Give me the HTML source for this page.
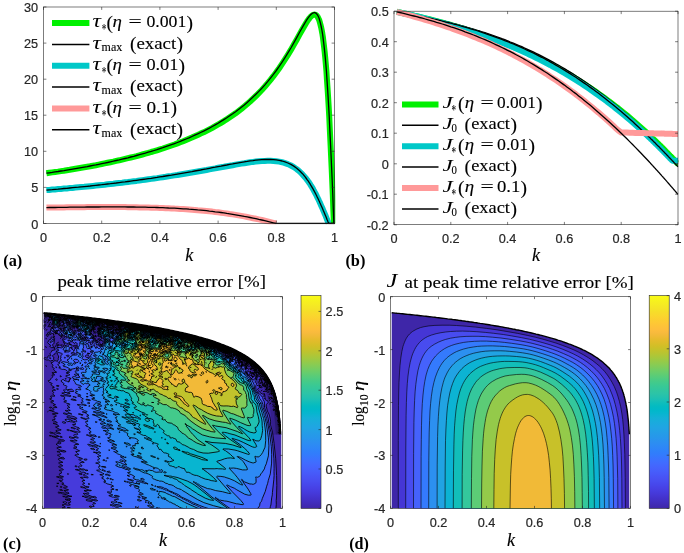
<!DOCTYPE html>
<html><head><meta charset="utf-8"><title>figure</title>
<style>
html,body{margin:0;padding:0;background:#fff}
svg{display:block}
.tk text{font-family:"Liberation Sans",Arial,sans-serif;font-size:12.7px;fill:#262626;stroke:#262626;stroke-width:.2px}
.lg{font-family:"Liberation Serif","DejaVu Serif",serif;fill:#000;stroke:#000;stroke-width:.12px}
.ns{stroke:none}
</style></head><body>
<svg width="684" height="553" viewBox="0 0 684 553">
<rect width="684" height="553" fill="#fff"/>
<defs>
<clipPath id="ca"><rect x="43.5" y="7" width="291.8" height="217.3"/></clipPath>
<clipPath id="cb"><rect x="394" y="8.2" width="284.5" height="217"/></clipPath>
</defs>
<g clip-path="url(#ca)" fill="none" stroke-linejoin="round">
<path d="M46.4 173.3L49.3 172.8L52.2 172.4L55.1 172L58 171.6L61 171.1L63.9 170.7L66.8 170.2L69.7 169.8L72.6 169.3L75.5 168.8L78.4 168.3L81.3 167.8L84.2 167.3L87.2 166.8L90.1 166.3L93 165.7L95.9 165.2L98.8 164.6L101.7 164L104.6 163.4L107.5 162.8L110.4 162.2L113.3 161.6L116.2 160.9L119.2 160.3L122.1 159.6L125 158.9L127.9 158.2L130.8 157.5L133.7 156.8L136.6 156.1L139.5 155.3L142.4 154.5L145.3 153.7L148.3 152.9L151.2 152L154.1 151.2L157 150.3L159.9 149.4L162.8 148.5L165.7 147.5L168.6 146.5L171.5 145.5L174.5 144.5L177.4 143.4L180.3 142.3L183.2 141.2L186.1 140L189 138.8L191.9 137.6L194.8 136.3L197.7 135L200.6 133.6L203.6 132.3L206.5 130.8L209.4 129.3L212.3 127.8L215.2 126.2L218.1 124.5L221 122.8L223.9 121.1L226.8 119.2L229.7 117.3L232.7 115.3L235.6 113.3L238.5 111.1L241.4 108.9L244.3 106.5L247.2 104L250.1 101.5L253 98.8L255.9 96L258.8 93.1L261.8 90L264.7 86.8L267.6 83.4L270.5 79.9L273.4 76.2L276.3 72.3L279.2 68.2L282.1 63.9L285 59.4L287.9 54.8L290.9 49.9L293.8 44.8L296.7 39.7L299.6 34.4L302.5 29.2L305.4 24.2L306 23.2L306.6 22.3L307.1 21.4L307.7 20.5L308.3 19.7L308.9 18.9L309.5 18.1L310.1 17.4L310.6 16.8L311.2 16.2L311.8 15.7L312.4 15.3L313 14.9L313.5 14.7L314.1 14.6L314.7 14.6L315.3 14.7L315.9 15L316.5 15.4L317 16L317.6 16.8L318.2 17.9L318.8 19.2L319.4 20.7L319.9 22.6L320.5 24.7L321.1 27.2L321.7 30.1L322.3 33.4L322.9 37.2L323.4 41.4L324 46.1L324.6 51.4L325.2 57.3L325.8 63.9L326.4 71.1L326.9 79L327.5 87.6L328.1 96.9L328.7 107L329.3 117.8L329.8 129.2L330.4 141.3L331 154L331.6 167.2L332.2 180.8L332.8 194.8L333.3 209.1L333.9 223.5L333.9 223.5" stroke="#00f000" stroke-width="6"/>
<path d="M46.4 173.2L49.3 172.8L52.2 172.4L55.1 171.9L58 171.5L61 171L63.9 170.6L66.8 170.1L69.7 169.6L72.6 169.1L75.5 168.6L78.4 168.1L81.3 167.6L84.2 167.1L87.2 166.6L90.1 166L93 165.4L95.9 164.9L98.8 164.3L101.7 163.7L104.6 163.1L107.5 162.5L110.4 161.8L113.3 161.2L116.2 160.5L119.2 159.9L122.1 159.2L125 158.5L127.9 157.8L130.8 157L133.7 156.3L136.6 155.5L139.5 154.7L142.4 153.9L145.3 153.1L148.3 152.2L151.2 151.4L154.1 150.5L157 149.6L159.9 148.6L162.8 147.7L165.7 146.7L168.6 145.7L171.5 144.7L174.5 143.6L177.4 142.5L180.3 141.4L183.2 140.2L186.1 139L189 137.8L191.9 136.5L194.8 135.2L197.7 133.9L200.6 132.5L203.6 131.1L206.5 129.6L209.4 128.1L212.3 126.5L215.2 124.9L218.1 123.2L221 121.4L223.9 119.6L226.8 117.8L229.7 115.8L232.7 113.8L235.6 111.7L238.5 109.5L241.4 107.2L244.3 104.9L247.2 102.4L250.1 99.8L253 97.1L255.9 94.3L258.8 91.4L261.8 88.3L264.7 85.1L267.6 81.7L270.5 78.1L273.4 74.4L276.3 70.5L279.2 66.4L282.1 62.1L285 57.6L287.9 52.9L290.9 48L293.8 42.9L296.7 37.6L299.6 32.3L302.5 27.1L305.4 22.1L306 21.1L306.6 20.2L307.1 19.3L307.7 18.5L308.3 17.6L308.9 16.8L309.5 16.1L310.1 15.4L310.6 14.8L311.2 14.2L311.8 13.7L312.4 13.3L313 13L313.5 12.8L314.1 12.7L314.7 12.7L315.3 12.9L315.9 13.2L316.5 13.7L317 14.3L317.6 15.2L318.2 16.3L318.8 17.6L319.4 19.3L319.9 21.2L320.5 23.4L321.1 26L321.7 29L322.3 32.4L322.9 36.3L323.4 40.6L324 45.5L324.6 50.9L325.2 56.9L325.8 63.6L326.4 70.9L326.9 78.8L327.5 87.5L328.1 96.9L328.7 107L329.3 117.8L329.8 129.2L330.4 141.3L331 154L331.6 167.2L332.2 180.8L332.8 194.8L333.3 209.1L333.9 223.5L334.5 223.5" stroke="#000" stroke-width="1.3"/>
<path d="M46.4 190.1L49.3 189.9L52.2 189.6L55.1 189.4L58 189.1L61 188.9L63.9 188.6L66.8 188.4L69.7 188.1L72.6 187.9L75.5 187.6L78.4 187.3L81.3 187L84.2 186.8L87.2 186.5L90.1 186.2L93 185.9L95.9 185.6L98.8 185.3L101.7 185L104.6 184.7L107.5 184.3L110.4 184L113.3 183.7L116.2 183.3L119.2 183L122.1 182.7L125 182.3L127.9 182L130.8 181.6L133.7 181.2L136.6 180.9L139.5 180.5L142.4 180.1L145.3 179.7L148.3 179.3L151.2 178.9L154.1 178.5L157 178.1L159.9 177.6L162.8 177.2L165.7 176.8L168.6 176.3L171.5 175.9L174.5 175.4L177.4 175L180.3 174.5L183.2 174L186.1 173.5L189 173L191.9 172.5L194.8 172L197.7 171.5L200.6 171L203.6 170.5L206.5 170L209.4 169.4L212.3 168.9L215.2 168.4L218.1 167.8L221 167.3L223.9 166.8L226.8 166.2L229.7 165.7L232.7 165.2L235.6 164.6L238.5 164.1L241.4 163.6L244.3 163.2L247.2 162.7L250.1 162.3L253 161.9L255.9 161.6L258.8 161.3L261.8 161L264.7 160.9L267.6 160.8L270.5 160.8L273.4 160.9L276.3 161.2L279.2 161.6L282.1 162.2L285 163.1L287.9 164.1L290.9 165.5L293.8 167.1L296.7 169.1L299.6 171.5L302.5 174.4L305.4 177.7L306 178.4L306.6 179.2L307.1 179.9L307.7 180.7L308.3 181.5L308.9 182.4L309.5 183.2L310.1 184.1L310.6 185L311.2 186L311.8 186.9L312.4 187.9L313 188.9L313.5 189.9L314.1 191L314.7 192.1L315.3 193.2L315.9 194.3L316.5 195.5L317 196.6L317.6 197.8L318.2 199L318.8 200.3L319.4 201.5L319.9 202.8L320.5 204.1L321.1 205.4L321.7 206.7L322.3 208L322.9 209.4L323.4 210.8L324 212.1L324.6 213.5L325.2 214.9L325.8 216.3L326.4 217.8L326.9 219.2L327.5 220.6L328.1 222.1L328.7 223.5L328.7 223.5" stroke="#00c8c8" stroke-width="6"/>
<path d="M46.4 190.1L49.3 189.8L52.2 189.6L55.1 189.3L58 189.1L61 188.8L63.9 188.5L66.8 188.3L69.7 188L72.6 187.7L75.5 187.4L78.4 187.2L81.3 186.9L84.2 186.6L87.2 186.3L90.1 186L93 185.6L95.9 185.3L98.8 185L101.7 184.7L104.6 184.3L107.5 184L110.4 183.7L113.3 183.3L116.2 183L119.2 182.6L122.1 182.2L125 181.9L127.9 181.5L130.8 181.1L133.7 180.7L136.6 180.3L139.5 179.9L142.4 179.5L145.3 179.1L148.3 178.7L151.2 178.3L154.1 177.8L157 177.4L159.9 176.9L162.8 176.5L165.7 176L168.6 175.5L171.5 175.1L174.5 174.6L177.4 174.1L180.3 173.6L183.2 173.1L186.1 172.6L189 172.1L191.9 171.6L194.8 171L197.7 170.5L200.6 170L203.6 169.4L206.5 168.9L209.4 168.3L212.3 167.7L215.2 167.2L218.1 166.6L221 166.1L223.9 165.5L226.8 165L229.7 164.4L232.7 163.9L235.6 163.3L238.5 162.8L241.4 162.3L244.3 161.8L247.2 161.4L250.1 160.9L253 160.6L255.9 160.2L258.8 159.9L261.8 159.7L264.7 159.5L267.6 159.4L270.5 159.5L273.4 159.6L276.3 159.9L279.2 160.4L282.1 161L285 161.9L287.9 163L290.9 164.4L293.8 166.1L296.7 168.2L299.6 170.8L302.5 173.7L305.4 177.2L306 178L306.6 178.8L307.1 179.6L307.7 180.4L308.3 181.2L308.9 182.1L309.5 183L310.1 183.9L310.6 184.9L311.2 185.8L311.8 186.8L312.4 187.8L313 188.8L313.5 189.9L314.1 190.9L314.7 192L315.3 193.1L315.9 194.3L316.5 195.4L317 196.6L317.6 197.8L318.2 199L318.8 200.3L319.4 201.5L319.9 202.8L320.5 204.1L321.1 205.4L321.7 206.7L322.3 208L322.9 209.4L323.4 210.8L324 212.1L324.6 213.5L325.2 214.9L325.8 216.3L326.4 217.8L326.9 219.2L327.5 220.6L328.1 222.1L328.7 223.5L329.3 223.5L329.8 223.5L330.4 223.5L331 223.5L331.6 223.5L332.2 223.5L332.8 223.5L333.3 223.5L333.9 223.5L334.5 223.5" stroke="#000" stroke-width="1.3"/>
<path d="M46.4 207.6L49.3 207.6L52.2 207.5L55.1 207.5L58 207.4L61 207.4L63.9 207.4L66.8 207.3L69.7 207.3L72.6 207.3L75.5 207.2L78.4 207.2L81.3 207.2L84.2 207.2L87.2 207.1L90.1 207.1L93 207.1L95.9 207.1L98.8 207.1L101.7 207.1L104.6 207L107.5 207L110.4 207L113.3 207.1L116.2 207.1L119.2 207.1L122.1 207.1L125 207.1L127.9 207.2L130.8 207.2L133.7 207.3L136.6 207.3L139.5 207.4L142.4 207.4L145.3 207.5L148.3 207.6L151.2 207.7L154.1 207.7L157 207.8L159.9 207.9L162.8 208L165.7 208.2L168.6 208.3L171.5 208.4L174.5 208.6L177.4 208.7L180.3 208.9L183.2 209.1L186.1 209.3L189 209.5L191.9 209.7L194.8 209.9L197.7 210.2L200.6 210.4L203.6 210.7L206.5 211L209.4 211.3L212.3 211.6L215.2 212L218.1 212.3L221 212.7L223.9 213.1L226.8 213.5L229.7 214L232.7 214.4L235.6 214.9L238.5 215.4L241.4 215.9L244.3 216.4L247.2 217L250.1 217.6L253 218.2L255.9 218.8L258.8 219.4L261.8 220L264.7 220.7L267.6 221.4L270.5 222.1L273.4 222.8L276.3 223.5" stroke="#ff9999" stroke-width="6"/>
<path d="M46.4 207.6L49.3 207.5L52.2 207.5L55.1 207.5L58 207.4L61 207.4L63.9 207.3L66.8 207.3L69.7 207.2L72.6 207.2L75.5 207.2L78.4 207.1L81.3 207.1L84.2 207.1L87.2 207L90.1 207L93 207L95.9 207L98.8 207L101.7 206.9L104.6 206.9L107.5 206.9L110.4 206.9L113.3 206.9L116.2 206.9L119.2 206.9L122.1 206.9L125 206.9L127.9 207L130.8 207L133.7 207L136.6 207.1L139.5 207.1L142.4 207.1L145.3 207.2L148.3 207.3L151.2 207.3L154.1 207.4L157 207.5L159.9 207.6L162.8 207.7L165.7 207.8L168.6 208L171.5 208.1L174.5 208.2L177.4 208.4L180.3 208.6L183.2 208.8L186.1 208.9L189 209.2L191.9 209.4L194.8 209.6L197.7 209.9L200.6 210.1L203.6 210.4L206.5 210.7L209.4 211.1L212.3 211.4L215.2 211.8L218.1 212.1L221 212.5L223.9 212.9L226.8 213.4L229.7 213.8L232.7 214.3L235.6 214.8L238.5 215.3L241.4 215.8L244.3 216.4L247.2 216.9L250.1 217.5L253 218.1L255.9 218.7L258.8 219.4L261.8 220L264.7 220.7L267.6 221.4L270.5 222.1L273.4 222.8L276.3 223.5L279.2 223.5L282.1 223.5L285 223.5L287.9 223.5L290.9 223.5L293.8 223.5L296.7 223.5L299.6 223.5L302.5 223.5L305.4 223.5L306 223.5L306.6 223.5L307.1 223.5L307.7 223.5L308.3 223.5L308.9 223.5L309.5 223.5L310.1 223.5L310.6 223.5L311.2 223.5L311.8 223.5L312.4 223.5L313 223.5L313.5 223.5L314.1 223.5L314.7 223.5L315.3 223.5L315.9 223.5L316.5 223.5L317 223.5L317.6 223.5L318.2 223.5L318.8 223.5L319.4 223.5L319.9 223.5L320.5 223.5L321.1 223.5L321.7 223.5L322.3 223.5L322.9 223.5L323.4 223.5L324 223.5L324.6 223.5L325.2 223.5L325.8 223.5L326.4 223.5L326.9 223.5L327.5 223.5L328.1 223.5L328.7 223.5L329.3 223.5L329.8 223.5L330.4 223.5L331 223.5L331.6 223.5L332.2 223.5L332.8 223.5L333.3 223.5L333.9 223.5L334.5 223.5" stroke="#000" stroke-width="1.3"/>
</g>
<rect x="43.5" y="7" width="291" height="216.5" fill="none" stroke="#262626" stroke-width="0.6"/>
<path d="M43.5 223.5v-2.9M43.5 7v2.9M101.7 223.5v-2.9M101.7 7v2.9M159.9 223.5v-2.9M159.9 7v2.9M218.1 223.5v-2.9M218.1 7v2.9M276.3 223.5v-2.9M276.3 7v2.9M334.5 223.5v-2.9M334.5 7v2.9M43.5 223.5h2.9M334.5 223.5h-2.9M43.5 187.4h2.9M334.5 187.4h-2.9M43.5 151.3h2.9M334.5 151.3h-2.9M43.5 115.2h2.9M334.5 115.2h-2.9M43.5 79.2h2.9M334.5 79.2h-2.9M43.5 43.1h2.9M334.5 43.1h-2.9M43.5 7h2.9M334.5 7h-2.9" stroke="#262626" stroke-width="0.6" fill="none"/>
<g class="tk" text-anchor="middle">
<text x="43.5" y="242.1">0</text>
<text x="101.7" y="242.1">0.2</text>
<text x="159.9" y="242.1">0.4</text>
<text x="218.1" y="242.1">0.6</text>
<text x="276.3" y="242.1">0.8</text>
<text x="334.5" y="242.1">1</text>
</g><g class="tk" text-anchor="end">
<text x="38.2" y="228.5">0</text>
<text x="38.2" y="192.4">5</text>
<text x="38.2" y="156.3">10</text>
<text x="38.2" y="120.2">15</text>
<text x="38.2" y="84.2">20</text>
<text x="38.2" y="48.1">25</text>
<text x="38.2" y="12">30</text>
</g>
<g clip-path="url(#cb)" fill="none" stroke-linejoin="round">
<path d="M396.8 11.8L399.7 12.4L402.5 13.1L405.4 13.7L408.2 14.3L411 14.9L413.9 15.6L416.7 16.3L419.6 16.9L422.4 17.6L425.2 18.3L428.1 19L430.9 19.7L433.8 20.5L436.6 21.2L439.4 21.9L442.3 22.7L445.1 23.5L448 24.2L450.8 25L453.6 25.9L456.5 26.7L459.3 27.5L462.2 28.4L465 29.3L467.8 30.2L470.7 31.1L473.5 32L476.4 32.9L479.2 33.9L482 34.8L484.9 35.8L487.7 36.8L490.6 37.8L493.4 38.9L496.2 39.9L499.1 41L501.9 42.1L504.8 43.2L507.6 44.3L510.4 45.5L513.3 46.7L516.1 47.9L519 49.1L521.8 50.3L524.6 51.6L527.5 52.9L530.3 54.2L533.2 55.5L536 56.9L538.8 58.2L541.7 59.7L544.5 61.1L547.4 62.6L550.2 64L553 65.6L555.9 67.1L558.7 68.7L561.6 70.3L564.4 71.9L567.2 73.5L570.1 75.2L572.9 76.9L575.8 78.6L578.6 80.4L581.4 82.2L584.3 84L587.1 85.9L590 87.8L592.8 89.7L595.6 91.6L598.5 93.6L601.3 95.6L604.2 97.7L607 99.8L609.8 101.9L612.7 104.1L615.5 106.3L618.4 108.5L621.2 110.8L624 113.1L626.9 115.4L629.7 117.8L632.6 120.2L635.4 122.7L638.2 125.2L641.1 127.7L643.9 130.2L646.8 132.8L649.6 135.5L650.2 136L650.7 136.5L651.3 137.1L651.9 137.6L652.4 138.2L653 138.7L653.6 139.2L654.1 139.8L654.7 140.3L655.3 140.9L655.8 141.4L656.4 142L657 142.5L657.6 143.1L658.1 143.6L658.7 144.2L659.3 144.8L659.8 145.3L660.4 145.9L661 146.4L661.5 147L662.1 147.6L662.7 148.1L663.2 148.7L663.8 149.3L664.4 149.8L664.9 150.4L665.5 151L666.1 151.6L666.6 152.2L667.2 152.7L667.8 153.3L668.3 153.9L668.9 154.5L669.5 155.1L670 155.7L670.6 156.2L671.2 156.8L671.8 157.4L672.3 158L672.9 158.6L673.5 159.2L674 159.8L674.6 160.4L675.2 161L675.7 161.6L676.3 162.2L676.9 162.8L677.4 163.4L678 163.4" stroke="#00f000" stroke-width="6"/>
<path d="M396.8 11.7L399.7 12.2L402.5 12.7L405.4 13.2L408.2 13.7L411 14.2L413.9 14.8L416.7 15.3L419.6 15.9L422.4 16.5L425.2 17L428.1 17.6L430.9 18.2L433.8 18.9L436.6 19.5L439.4 20.1L442.3 20.8L445.1 21.5L448 22.2L450.8 22.9L453.6 23.6L456.5 24.3L459.3 25.1L462.2 25.9L465 26.7L467.8 27.5L470.7 28.3L473.5 29.1L476.4 30L479.2 30.9L482 31.8L484.9 32.7L487.7 33.6L490.6 34.6L493.4 35.6L496.2 36.6L499.1 37.6L501.9 38.7L504.8 39.7L507.6 40.8L510.4 42L513.3 43.1L516.1 44.3L519 45.5L521.8 46.7L524.6 48L527.5 49.3L530.3 50.6L533.2 51.9L536 53.3L538.8 54.7L541.7 56.1L544.5 57.6L547.4 59.1L550.2 60.6L553 62.1L555.9 63.7L558.7 65.3L561.6 67L564.4 68.6L567.2 70.4L570.1 72.1L572.9 73.9L575.8 75.7L578.6 77.5L581.4 79.4L584.3 81.3L587.1 83.3L590 85.3L592.8 87.3L595.6 89.4L598.5 91.5L601.3 93.6L604.2 95.7L607 97.9L609.8 100.2L612.7 102.4L615.5 104.7L618.4 107.1L621.2 109.5L624 111.9L626.9 114.3L629.7 116.8L632.6 119.3L635.4 121.8L638.2 124.4L641.1 127L643.9 129.7L646.8 132.4L649.6 135.1L650.2 135.6L650.7 136.2L651.3 136.7L651.9 137.3L652.4 137.8L653 138.4L653.6 139L654.1 139.5L654.7 140.1L655.3 140.6L655.8 141.2L656.4 141.8L657 142.3L657.6 142.9L658.1 143.4L658.7 144L659.3 144.6L659.8 145.2L660.4 145.7L661 146.3L661.5 146.9L662.1 147.4L662.7 148L663.2 148.6L663.8 149.2L664.4 149.8L664.9 150.3L665.5 150.9L666.1 151.5L666.6 152.1L667.2 152.7L667.8 153.3L668.3 153.9L668.9 154.4L669.5 155L670 155.6L670.6 156.2L671.2 156.8L671.8 157.4L672.3 158L672.9 158.6L673.5 159.2L674 159.8L674.6 160.4L675.2 161L675.7 161.6L676.3 162.2L676.9 162.8L677.4 163.4L678 164.1" stroke="#000" stroke-width="1.3"/>
<path d="M396.8 11.8L399.7 12.5L402.5 13.1L405.4 13.7L408.2 14.4L411 15L413.9 15.7L416.7 16.3L419.6 17L422.4 17.7L425.2 18.4L428.1 19.1L430.9 19.9L433.8 20.6L436.6 21.4L439.4 22.1L442.3 22.9L445.1 23.7L448 24.5L450.8 25.3L453.6 26.1L456.5 27L459.3 27.8L462.2 28.7L465 29.6L467.8 30.5L470.7 31.4L473.5 32.3L476.4 33.3L479.2 34.3L482 35.2L484.9 36.3L487.7 37.3L490.6 38.3L493.4 39.4L496.2 40.4L499.1 41.5L501.9 42.7L504.8 43.8L507.6 44.9L510.4 46.1L513.3 47.3L516.1 48.5L519 49.8L521.8 51L524.6 52.3L527.5 53.6L530.3 55L533.2 56.3L536 57.7L538.8 59.1L541.7 60.6L544.5 62L547.4 63.5L550.2 65L553 66.6L555.9 68.2L558.7 69.7L561.6 71.4L564.4 73L567.2 74.7L570.1 76.4L572.9 78.1L575.8 79.9L578.6 81.7L581.4 83.5L584.3 85.4L587.1 87.3L590 89.2L592.8 91.2L595.6 93.2L598.5 95.2L601.3 97.2L604.2 99.3L607 101.5L609.8 103.6L612.7 105.8L615.5 108.1L618.4 110.4L621.2 112.7L624 115L626.9 117.4L629.7 119.8L632.6 122.3L635.4 124.8L638.2 127.3L641.1 129.9L643.9 132.5L646.8 135.1L649.6 137.8L650.2 138.3L650.7 138.9L651.3 139.4L651.9 140L652.4 140.5L653 141.1L653.6 141.6L654.1 142.2L654.7 142.7L655.3 143.3L655.8 143.8L656.4 144.4L657 145L657.6 145.5L658.1 146.1L658.7 146.7L659.3 147.2L659.8 147.8L660.4 148.4L661 148.9L661.5 149.5L662.1 150.1L662.7 150.7L663.2 151.2L663.8 151.8L664.4 152.4L664.9 153L665.5 153.6L666.1 154.2L666.6 154.7L667.2 155.3L667.8 155.9L668.3 156.5L668.9 157.1L669.5 157.7L670 158.3L670.6 158.9L671.2 159.5L671.8 160.1L672.3 160.7L672.9 160.7L673.5 160.7L674 160.7L674.6 160.7L675.2 160.7L675.7 160.7L676.3 160.7L676.9 160.7L677.4 160.7L678 160.7" stroke="#00c8c8" stroke-width="6"/>
<path d="M396.8 11.7L399.7 12.2L402.5 12.7L405.4 13.3L408.2 13.8L411 14.3L413.9 14.9L416.7 15.4L419.6 16L422.4 16.6L425.2 17.2L428.1 17.8L430.9 18.4L433.8 19.1L436.6 19.7L439.4 20.4L442.3 21.1L445.1 21.8L448 22.5L450.8 23.2L453.6 24L456.5 24.7L459.3 25.5L462.2 26.3L465 27.1L467.8 27.9L470.7 28.8L473.5 29.6L476.4 30.5L479.2 31.4L482 32.4L484.9 33.3L487.7 34.3L490.6 35.3L493.4 36.3L496.2 37.3L499.1 38.4L501.9 39.4L504.8 40.6L507.6 41.7L510.4 42.8L513.3 44L516.1 45.2L519 46.4L521.8 47.7L524.6 49L527.5 50.3L530.3 51.6L533.2 53L536 54.4L538.8 55.9L541.7 57.3L544.5 58.8L547.4 60.3L550.2 61.9L553 63.5L555.9 65.1L558.7 66.7L561.6 68.4L564.4 70.1L567.2 71.9L570.1 73.6L572.9 75.5L575.8 77.3L578.6 79.2L581.4 81.1L584.3 83.1L587.1 85L590 87.1L592.8 89.1L595.6 91.2L598.5 93.3L601.3 95.5L604.2 97.7L607 99.9L609.8 102.2L612.7 104.5L615.5 106.8L618.4 109.2L621.2 111.6L624 114L626.9 116.5L629.7 119L632.6 121.6L635.4 124.2L638.2 126.8L641.1 129.4L643.9 132.1L646.8 134.8L649.6 137.6L650.2 138.1L650.7 138.7L651.3 139.2L651.9 139.8L652.4 140.3L653 140.9L653.6 141.5L654.1 142L654.7 142.6L655.3 143.1L655.8 143.7L656.4 144.3L657 144.9L657.6 145.4L658.1 146L658.7 146.6L659.3 147.1L659.8 147.7L660.4 148.3L661 148.9L661.5 149.5L662.1 150L662.7 150.6L663.2 151.2L663.8 151.8L664.4 152.4L664.9 153L665.5 153.5L666.1 154.1L666.6 154.7L667.2 155.3L667.8 155.9L668.3 156.5L668.9 157.1L669.5 157.7L670 158.3L670.6 158.9L671.2 159.5L671.8 160.1L672.3 160.7L672.9 161.3L673.5 161.9L674 162.5L674.6 163.1L675.2 163.7L675.7 164.3L676.3 165L676.9 165.6L677.4 166.2L678 166.8" stroke="#000" stroke-width="1.3"/>
<path d="M396.8 12L399.7 12.7L402.5 13.4L405.4 14.2L408.2 14.9L411 15.7L413.9 16.5L416.7 17.3L419.6 18.1L422.4 18.9L425.2 19.8L428.1 20.6L430.9 21.5L433.8 22.4L436.6 23.3L439.4 24.2L442.3 25.2L445.1 26.1L448 27.1L450.8 28L453.6 29.1L456.5 30.1L459.3 31.1L462.2 32.2L465 33.2L467.8 34.3L470.7 35.5L473.5 36.6L476.4 37.7L479.2 38.9L482 40.1L484.9 41.3L487.7 42.6L490.6 43.8L493.4 45.1L496.2 46.4L499.1 47.8L501.9 49.1L504.8 50.5L507.6 51.9L510.4 53.4L513.3 54.8L516.1 56.3L519 57.8L521.8 59.4L524.6 60.9L527.5 62.5L530.3 64.1L533.2 65.8L536 67.5L538.8 69.2L541.7 70.9L544.5 72.7L547.4 74.5L550.2 76.4L553 78.2L555.9 80.1L558.7 82L561.6 84L564.4 86L567.2 88L570.1 90.1L572.9 92.2L575.8 94.3L578.6 96.5L581.4 98.7L584.3 100.9L587.1 103.2L590 105.5L592.8 107.8L595.6 110.2L598.5 112.6L601.3 115.1L604.2 117.6L607 120.1L609.8 122.6L612.7 125.2L615.5 127.9L618.4 130.5L621.2 132.5L624 132.6L626.9 132.6L629.7 132.7L632.6 132.8L635.4 132.9L638.2 132.9L641.1 133L643.9 133.1L646.8 133.2L649.6 133.2L650.2 133.3L650.7 133.3L651.3 133.3L651.9 133.3L652.4 133.3L653 133.3L653.6 133.4L654.1 133.4L654.7 133.4L655.3 133.4L655.8 133.4L656.4 133.4L657 133.4L657.6 133.5L658.1 133.5L658.7 133.5L659.3 133.5L659.8 133.5L660.4 133.5L661 133.6L661.5 133.6L662.1 133.6L662.7 133.6L663.2 133.6L663.8 133.6L664.4 133.6L664.9 133.7L665.5 133.7L666.1 133.7L666.6 133.7L667.2 133.7L667.8 133.7L668.3 133.8L668.9 133.8L669.5 133.8L670 133.8L670.6 133.8L671.2 133.8L671.8 133.8L672.3 133.9L672.9 133.9L673.5 133.9L674 133.9L674.6 133.9L675.2 133.9L675.7 134L676.3 134L676.9 134L677.4 134L678 134" stroke="#ff9999" stroke-width="6"/>
<path d="M396.8 11.9L399.7 12.5L402.5 13.2L405.4 13.9L408.2 14.6L411 15.3L413.9 16L416.7 16.7L419.6 17.5L422.4 18.2L425.2 19L428.1 19.8L430.9 20.6L433.8 21.4L436.6 22.3L439.4 23.1L442.3 24L445.1 24.9L448 25.8L450.8 26.8L453.6 27.7L456.5 28.7L459.3 29.7L462.2 30.7L465 31.8L467.8 32.8L470.7 33.9L473.5 35L476.4 36.2L479.2 37.3L482 38.5L484.9 39.7L487.7 40.9L490.6 42.2L493.4 43.5L496.2 44.8L499.1 46.1L501.9 47.5L504.8 48.9L507.6 50.3L510.4 51.7L513.3 53.2L516.1 54.7L519 56.3L521.8 57.8L524.6 59.4L527.5 61L530.3 62.7L533.2 64.4L536 66.1L538.8 67.9L541.7 69.6L544.5 71.5L547.4 73.3L550.2 75.2L553 77.1L555.9 79.1L558.7 81L561.6 83.1L564.4 85.1L567.2 87.2L570.1 89.3L572.9 91.5L575.8 93.6L578.6 95.9L581.4 98.1L584.3 100.4L587.1 102.7L590 105.1L592.8 107.5L595.6 109.9L598.5 112.4L601.3 114.9L604.2 117.4L607 119.9L609.8 122.5L612.7 125.2L615.5 127.8L618.4 130.5L621.2 133.2L624 136L626.9 138.8L629.7 141.6L632.6 144.5L635.4 147.4L638.2 150.3L641.1 153.3L643.9 156.2L646.8 159.3L649.6 162.3L650.2 162.9L650.7 163.5L651.3 164.2L651.9 164.8L652.4 165.4L653 166L653.6 166.6L654.1 167.3L654.7 167.9L655.3 168.5L655.8 169.1L656.4 169.8L657 170.4L657.6 171L658.1 171.6L658.7 172.3L659.3 172.9L659.8 173.5L660.4 174.2L661 174.8L661.5 175.4L662.1 176.1L662.7 176.7L663.2 177.4L663.8 178L664.4 178.7L664.9 179.3L665.5 179.9L666.1 180.6L666.6 181.2L667.2 181.9L667.8 182.5L668.3 183.2L668.9 183.8L669.5 184.5L670 185.1L670.6 185.8L671.2 186.5L671.8 187.1L672.3 187.8L672.9 188.4L673.5 189.1L674 189.8L674.6 190.4L675.2 191.1L675.7 191.8L676.3 192.4L676.9 193.1L677.4 193.8L678 194.4" stroke="#000" stroke-width="1.3"/>
</g>
<rect x="394" y="11.2" width="284" height="213.5" fill="none" stroke="#262626" stroke-width="0.6"/>
<path d="M394 224.8v-2.9M394 11.2v2.9M450.8 224.8v-2.9M450.8 11.2v2.9M507.6 224.8v-2.9M507.6 11.2v2.9M564.4 224.8v-2.9M564.4 11.2v2.9M621.2 224.8v-2.9M621.2 11.2v2.9M678 224.8v-2.9M678 11.2v2.9M394 224.8h2.9M678 224.8h-2.9M394 194.2h2.9M678 194.2h-2.9M394 163.8h2.9M678 163.8h-2.9M394 133.2h2.9M678 133.2h-2.9M394 102.7h2.9M678 102.7h-2.9M394 72.2h2.9M678 72.2h-2.9M394 41.7h2.9M678 41.7h-2.9M394 11.2h2.9M678 11.2h-2.9" stroke="#262626" stroke-width="0.6" fill="none"/>
<g class="tk" text-anchor="middle">
<text x="394" y="243.3">0</text>
<text x="450.8" y="243.3">0.2</text>
<text x="507.6" y="243.3">0.4</text>
<text x="564.4" y="243.3">0.6</text>
<text x="621.2" y="243.3">0.8</text>
<text x="678" y="243.3">1</text>
</g><g class="tk" text-anchor="end">
<text x="388.7" y="229.8">-0.2</text>
<text x="388.7" y="199.2">-0.1</text>
<text x="388.7" y="168.8">0</text>
<text x="388.7" y="138.2">0.1</text>
<text x="388.7" y="107.7">0.2</text>
<text x="388.7" y="77.2">0.3</text>
<text x="388.7" y="46.7">0.4</text>
<text x="388.7" y="16.2">0.5</text>
</g>
<path d="M52 23H89.4" stroke="#00f000" stroke-width="6" fill="none"/>
<text class="lg ns" x="92.4" y="27.3" font-size="19" textLength="8.4" lengthAdjust="spacingAndGlyphs" font-style="italic">τ</text>
<text class="lg" x="101.7" y="34.3" font-size="14" textLength="4.6" lengthAdjust="spacingAndGlyphs">*</text>
<text class="lg" x="106.4" y="28.9" font-size="19.5">(</text>
<text class="lg" x="112.4" y="27.3" font-size="17.5" textLength="9.4" lengthAdjust="spacingAndGlyphs" font-style="italic">η</text>
<text class="lg" x="128.6" y="27.3" font-size="16.5" textLength="13.2" lengthAdjust="spacingAndGlyphs">=</text>
<text class="lg" x="146.4" y="27.3" font-size="16.5" textLength="39.9" lengthAdjust="spacingAndGlyphs">0.001</text>
<text class="lg" x="186.5" y="28.9" font-size="19.5">)</text>
<path d="M52 44.4H89.4" stroke="#000" stroke-width="1.5" fill="none"/>
<text class="lg ns" x="92.4" y="48.6" font-size="19" textLength="8.4" lengthAdjust="spacingAndGlyphs" font-style="italic">τ</text>
<text class="lg" x="101.6" y="51.2" font-size="11.5" textLength="20.6" lengthAdjust="spacingAndGlyphs">max</text>
<text class="lg" x="130" y="50.2" font-size="19.5">(</text>
<text class="lg" x="136.4" y="48.6" font-size="16.5" textLength="39.8" lengthAdjust="spacingAndGlyphs">exact</text>
<text class="lg" x="176.6" y="50.2" font-size="19.5">)</text>
<path d="M52 65.7H89.4" stroke="#00c8c8" stroke-width="6" fill="none"/>
<text class="lg ns" x="92.4" y="70" font-size="19" textLength="8.4" lengthAdjust="spacingAndGlyphs" font-style="italic">τ</text>
<text class="lg" x="101.7" y="77" font-size="14" textLength="4.6" lengthAdjust="spacingAndGlyphs">*</text>
<text class="lg" x="106.4" y="71.6" font-size="19.5">(</text>
<text class="lg" x="112.4" y="70" font-size="17.5" textLength="9.4" lengthAdjust="spacingAndGlyphs" font-style="italic">η</text>
<text class="lg" x="128.6" y="70" font-size="16.5" textLength="13.2" lengthAdjust="spacingAndGlyphs">=</text>
<text class="lg" x="146.4" y="70" font-size="16.5" textLength="32" lengthAdjust="spacingAndGlyphs">0.01</text>
<text class="lg" x="178.6" y="71.6" font-size="19.5">)</text>
<path d="M52 87.1H89.4" stroke="#000" stroke-width="1.5" fill="none"/>
<text class="lg ns" x="92.4" y="91.4" font-size="19" textLength="8.4" lengthAdjust="spacingAndGlyphs" font-style="italic">τ</text>
<text class="lg" x="101.6" y="94" font-size="11.5" textLength="20.6" lengthAdjust="spacingAndGlyphs">max</text>
<text class="lg" x="130" y="93" font-size="19.5">(</text>
<text class="lg" x="136.4" y="91.4" font-size="16.5" textLength="39.8" lengthAdjust="spacingAndGlyphs">exact</text>
<text class="lg" x="176.6" y="93" font-size="19.5">)</text>
<path d="M52 108.4H89.4" stroke="#ff9999" stroke-width="6" fill="none"/>
<text class="lg ns" x="92.4" y="112.7" font-size="19" textLength="8.4" lengthAdjust="spacingAndGlyphs" font-style="italic">τ</text>
<text class="lg" x="101.7" y="119.7" font-size="14" textLength="4.6" lengthAdjust="spacingAndGlyphs">*</text>
<text class="lg" x="106.4" y="114.3" font-size="19.5">(</text>
<text class="lg" x="112.4" y="112.7" font-size="17.5" textLength="9.4" lengthAdjust="spacingAndGlyphs" font-style="italic">η</text>
<text class="lg" x="128.6" y="112.7" font-size="16.5" textLength="13.2" lengthAdjust="spacingAndGlyphs">=</text>
<text class="lg" x="146.4" y="112.7" font-size="16.5" textLength="24" lengthAdjust="spacingAndGlyphs">0.1</text>
<text class="lg" x="170.6" y="114.3" font-size="19.5">)</text>
<path d="M52 129.8H89.4" stroke="#000" stroke-width="1.5" fill="none"/>
<text class="lg ns" x="92.4" y="134.1" font-size="19" textLength="8.4" lengthAdjust="spacingAndGlyphs" font-style="italic">τ</text>
<text class="lg" x="101.6" y="136.7" font-size="11.5" textLength="20.6" lengthAdjust="spacingAndGlyphs">max</text>
<text class="lg" x="130" y="135.7" font-size="19.5">(</text>
<text class="lg" x="136.4" y="134.1" font-size="16.5" textLength="39.8" lengthAdjust="spacingAndGlyphs">exact</text>
<text class="lg" x="176.6" y="135.7" font-size="19.5">)</text>
<path d="M402 104.4H438.5" stroke="#00f000" stroke-width="6" fill="none"/>
<text class="lg ns" x="442.4" y="108.4" font-size="17.0" textLength="10.2" lengthAdjust="spacingAndGlyphs" font-style="italic">J</text>
<text class="lg" x="451.6" y="115.3" font-size="14" textLength="4.6" lengthAdjust="spacingAndGlyphs">*</text>
<text class="lg" x="458" y="110" font-size="19.5">(</text>
<text class="lg" x="464.8" y="108.4" font-size="17.5" textLength="9.4" lengthAdjust="spacingAndGlyphs" font-style="italic">η</text>
<text class="lg" x="480.4" y="108.4" font-size="16.5" textLength="13.2" lengthAdjust="spacingAndGlyphs">=</text>
<text class="lg" x="497" y="108.4" font-size="16.5" textLength="38.9" lengthAdjust="spacingAndGlyphs">0.001</text>
<text class="lg" x="536.1" y="110" font-size="19.5">)</text>
<path d="M402 125.3H438.5" stroke="#000" stroke-width="1.5" fill="none"/>
<text class="lg ns" x="442.4" y="129.3" font-size="17.0" textLength="10.2" lengthAdjust="spacingAndGlyphs" font-style="italic">J</text>
<text class="lg" x="451.6" y="131.9" font-size="11.5" textLength="5.4" lengthAdjust="spacingAndGlyphs">0</text>
<text class="lg" x="464.6" y="130.9" font-size="19.5">(</text>
<text class="lg" x="471.2" y="129.3" font-size="16.5" textLength="38.8" lengthAdjust="spacingAndGlyphs">exact</text>
<text class="lg" x="510.4" y="130.9" font-size="19.5">)</text>
<path d="M402 146.2H438.5" stroke="#00c8c8" stroke-width="6" fill="none"/>
<text class="lg ns" x="442.4" y="150.2" font-size="17.0" textLength="10.2" lengthAdjust="spacingAndGlyphs" font-style="italic">J</text>
<text class="lg" x="451.6" y="157.1" font-size="14" textLength="4.6" lengthAdjust="spacingAndGlyphs">*</text>
<text class="lg" x="458" y="151.8" font-size="19.5">(</text>
<text class="lg" x="464.8" y="150.2" font-size="17.5" textLength="9.4" lengthAdjust="spacingAndGlyphs" font-style="italic">η</text>
<text class="lg" x="480.4" y="150.2" font-size="16.5" textLength="13.2" lengthAdjust="spacingAndGlyphs">=</text>
<text class="lg" x="497" y="150.2" font-size="16.5" textLength="31.2" lengthAdjust="spacingAndGlyphs">0.01</text>
<text class="lg" x="528.4" y="151.8" font-size="19.5">)</text>
<path d="M402 167.1H438.5" stroke="#000" stroke-width="1.5" fill="none"/>
<text class="lg ns" x="442.4" y="171.1" font-size="17.0" textLength="10.2" lengthAdjust="spacingAndGlyphs" font-style="italic">J</text>
<text class="lg" x="451.6" y="173.7" font-size="11.5" textLength="5.4" lengthAdjust="spacingAndGlyphs">0</text>
<text class="lg" x="464.6" y="172.7" font-size="19.5">(</text>
<text class="lg" x="471.2" y="171.1" font-size="16.5" textLength="38.8" lengthAdjust="spacingAndGlyphs">exact</text>
<text class="lg" x="510.4" y="172.7" font-size="19.5">)</text>
<path d="M402 188H438.5" stroke="#ff9999" stroke-width="6" fill="none"/>
<text class="lg ns" x="442.4" y="192" font-size="17.0" textLength="10.2" lengthAdjust="spacingAndGlyphs" font-style="italic">J</text>
<text class="lg" x="451.6" y="198.9" font-size="14" textLength="4.6" lengthAdjust="spacingAndGlyphs">*</text>
<text class="lg" x="458" y="193.6" font-size="19.5">(</text>
<text class="lg" x="464.8" y="192" font-size="17.5" textLength="9.4" lengthAdjust="spacingAndGlyphs" font-style="italic">η</text>
<text class="lg" x="480.4" y="192" font-size="16.5" textLength="13.2" lengthAdjust="spacingAndGlyphs">=</text>
<text class="lg" x="497" y="192" font-size="16.5" textLength="23.4" lengthAdjust="spacingAndGlyphs">0.1</text>
<text class="lg" x="520.6" y="193.6" font-size="19.5">)</text>
<path d="M402 208.9H438.5" stroke="#000" stroke-width="1.5" fill="none"/>
<text class="lg ns" x="442.4" y="212.9" font-size="17.0" textLength="10.2" lengthAdjust="spacingAndGlyphs" font-style="italic">J</text>
<text class="lg" x="451.6" y="215.5" font-size="11.5" textLength="5.4" lengthAdjust="spacingAndGlyphs">0</text>
<text class="lg" x="464.6" y="214.5" font-size="19.5">(</text>
<text class="lg" x="471.2" y="212.9" font-size="16.5" textLength="38.8" lengthAdjust="spacingAndGlyphs">exact</text>
<text class="lg" x="510.4" y="214.5" font-size="19.5">)</text>
<text class="lg" x="189.3" y="261" font-size="18" text-anchor="middle" font-style="italic">k</text>
<text class="lg" x="536" y="261" font-size="18" text-anchor="middle" font-style="italic">k</text>
<text class="lg" x="163" y="546" font-size="18" text-anchor="middle" font-style="italic">k</text>
<text class="lg" x="511" y="546" font-size="18" text-anchor="middle" font-style="italic">k</text>
<text class="lg ns" x="3.3" y="265.7" font-size="16.5" textLength="19" lengthAdjust="spacingAndGlyphs" font-weight="bold">(a)</text>
<text class="lg ns" x="345.4" y="265.8" font-size="16.5" textLength="20" lengthAdjust="spacingAndGlyphs" font-weight="bold">(b)</text>
<text class="lg ns" x="3.1" y="549.4" font-size="16.5" textLength="18" lengthAdjust="spacingAndGlyphs" font-weight="bold">(c)</text>
<text class="lg ns" x="349.2" y="549.4" font-size="16.5" textLength="19.7" lengthAdjust="spacingAndGlyphs" font-weight="bold">(d)</text>
<text class="lg" x="57.4" y="287.3" font-size="17.5" textLength="208.5" lengthAdjust="spacingAndGlyphs">peak time relative error [%]</text>
<text class="lg ns" x="386.4" y="286.6" font-size="18" textLength="10.8" lengthAdjust="spacingAndGlyphs" font-style="italic">J</text>
<text class="lg" x="404.6" y="287.7" font-size="17.5" textLength="229.3" lengthAdjust="spacingAndGlyphs">at peak time relative error [%]</text>
<g transform="translate(16.3 402.2) rotate(-90)">
<text class="lg" x="-23.6" y="0" font-size="16.5" textLength="19.4" lengthAdjust="spacingAndGlyphs">log</text>
<text class="lg" x="-4" y="3.2" font-size="11.5" textLength="12" lengthAdjust="spacingAndGlyphs">10</text>
<text class="lg" x="11.2" y="0" font-size="17.5" textLength="10.4" lengthAdjust="spacingAndGlyphs" font-style="italic">η</text>
</g>
<g transform="translate(364.3 402.2) rotate(-90)">
<text class="lg" x="-23.6" y="0" font-size="16.5" textLength="19.4" lengthAdjust="spacingAndGlyphs">log</text>
<text class="lg" x="-4" y="3.2" font-size="11.5" textLength="12" lengthAdjust="spacingAndGlyphs">10</text>
<text class="lg" x="11.2" y="0" font-size="17.5" textLength="10.4" lengthAdjust="spacingAndGlyphs" font-style="italic">η</text>
</g>
<defs>
<clipPath id="rd"><path d="M391.7 508.3L391.7 312.7L393.5 312.9L395.3 313.1L397.1 313.3L398.9 313.4L400.7 313.6L402.5 313.8L404.3 314L406.1 314.2L407.9 314.4L409.8 314.5L411.6 314.7L413.4 314.9L415.2 315.1L417 315.3L418.8 315.5L420.6 315.7L422.4 315.9L424.2 316.1L426 316.3L427.8 316.5L429.6 316.7L431.4 316.9L433.2 317.1L435 317.3L436.8 317.6L438.6 317.8L440.4 318L442.2 318.2L444 318.4L445.9 318.6L447.7 318.9L449.5 319.1L451.3 319.3L453.1 319.6L454.9 319.8L456.7 320L458.5 320.3L460.3 320.5L462.1 320.8L463.9 321L465.7 321.3L467.5 321.5L469.3 321.8L471.1 322L472.9 322.3L474.7 322.6L476.5 322.8L478.3 323.1L480.1 323.4L482 323.6L483.8 323.9L485.6 324.2L487.4 324.5L489.2 324.8L491 325.1L492.8 325.4L494.6 325.7L496.4 326L498.2 326.3L500 326.6L501.8 326.9L503.6 327.3L505.4 327.6L507.2 327.9L509 328.3L510.8 328.6L512.6 329L514.4 329.3L516.2 329.7L518.1 330L519.9 330.4L521.7 330.8L523.5 331.2L525.3 331.6L527.1 332L528.9 332.4L530.7 332.8L532.5 333.2L534.3 333.6L536.1 334.1L537.9 334.5L539.7 335L541.5 335.4L543.3 335.9L545.1 336.4L546.9 336.9L548.7 337.4L550.5 337.9L552.3 338.4L554.2 338.9L556 339.5L557.8 340.1L559.6 340.6L561.4 341.2L563.2 341.8L565 342.5L566.8 343.1L568.6 343.8L570.4 344.4L572.2 345.1L574 345.9L575.8 346.6L577.6 347.4L579.4 348.2L581.2 349L583 349.9L584.8 350.7L586.6 351.7L588.4 352.6L590.3 353.6L592.1 354.7L593.9 355.8L595.7 357L597.5 358.2L599.3 359.5L601.1 360.9L602.9 362.3L604.7 363.9L606.5 365.5L607.4 366.4L608.3 367.3L609.1 368.1L609.9 369L610.6 369.9L611.4 370.8L612.1 371.6L612.8 372.5L613.4 373.4L614.1 374.2L614.7 375.1L615.3 376L615.8 376.9L616.4 377.7L616.9 378.6L617.4 379.5L617.9 380.3L618.4 381.2L618.8 382.1L619.3 382.9L619.7 383.8L620.1 384.7L620.5 385.6L620.8 386.4L621.2 387.3L621.5 388.2L621.9 389L622.2 389.9L622.5 390.8L622.8 391.7L623.1 392.5L623.4 393.4L623.6 394.3L623.9 395.1L624.1 396L624.4 396.9L624.6 397.8L624.8 398.6L625 399.5L625.2 400.4L625.4 401.2L625.6 402.1L625.8 403L626 403.9L626.1 404.7L626.3 405.6L626.5 406.5L626.6 407.3L626.8 408.2L626.9 409.1L627 410L627.2 410.8L627.3 411.7L627.4 412.6L627.5 413.4L627.6 414.3L627.7 415.2L627.8 416.1L627.9 416.9L628 417.8L628.1 418.7L628.2 419.5L628.3 420.4L628.4 421.3L628.5 422.2L628.5 423L628.6 423.9L628.7 424.8L628.7 425.6L628.8 426.5L628.9 427.4L628.9 428.3L629 429.1L629 430L629.1 430.9L629.2 431.7L629.2 432.6L629.3 433.5L629.3 434.3L629.3 508.3Z"/></clipPath>
<clipPath id="rc"><path d="M43.7 508.3L43.7 312.7L45.5 312.9L47.3 313.1L49.1 313.3L50.9 313.4L52.7 313.6L54.5 313.8L56.3 314L58.1 314.2L59.9 314.4L61.8 314.5L63.6 314.7L65.4 314.9L67.2 315.1L69 315.3L70.8 315.5L72.6 315.7L74.4 315.9L76.2 316.1L78 316.3L79.8 316.5L81.6 316.7L83.4 316.9L85.2 317.1L87 317.3L88.8 317.6L90.6 317.8L92.4 318L94.2 318.2L96 318.4L97.9 318.6L99.7 318.9L101.5 319.1L103.3 319.3L105.1 319.6L106.9 319.8L108.7 320L110.5 320.3L112.3 320.5L114.1 320.8L115.9 321L117.7 321.3L119.5 321.5L121.3 321.8L123.1 322L124.9 322.3L126.7 322.6L128.5 322.8L130.3 323.1L132.1 323.4L134 323.6L135.8 323.9L137.6 324.2L139.4 324.5L141.2 324.8L143 325.1L144.8 325.4L146.6 325.7L148.4 326L150.2 326.3L152 326.6L153.8 326.9L155.6 327.3L157.4 327.6L159.2 327.9L161 328.3L162.8 328.6L164.6 329L166.4 329.3L168.2 329.7L170.1 330L171.9 330.4L173.7 330.8L175.5 331.2L177.3 331.6L179.1 332L180.9 332.4L182.7 332.8L184.5 333.2L186.3 333.6L188.1 334.1L189.9 334.5L191.7 335L193.5 335.4L195.3 335.9L197.1 336.4L198.9 336.9L200.7 337.4L202.5 337.9L204.3 338.4L206.2 338.9L208 339.5L209.8 340.1L211.6 340.6L213.4 341.2L215.2 341.8L217 342.5L218.8 343.1L220.6 343.8L222.4 344.4L224.2 345.1L226 345.9L227.8 346.6L229.6 347.4L231.4 348.2L233.2 349L235 349.9L236.8 350.7L238.6 351.7L240.4 352.6L242.3 353.6L244.1 354.7L245.9 355.8L247.7 357L249.5 358.2L251.3 359.5L253.1 360.9L254.9 362.3L256.7 363.9L258.5 365.5L259.4 366.4L260.3 367.3L261.1 368.1L261.9 369L262.6 369.9L263.4 370.8L264.1 371.6L264.8 372.5L265.4 373.4L266.1 374.2L266.7 375.1L267.3 376L267.8 376.9L268.4 377.7L268.9 378.6L269.4 379.5L269.9 380.3L270.4 381.2L270.8 382.1L271.3 382.9L271.7 383.8L272.1 384.7L272.5 385.6L272.8 386.4L273.2 387.3L273.5 388.2L273.9 389L274.2 389.9L274.5 390.8L274.8 391.7L275.1 392.5L275.4 393.4L275.6 394.3L275.9 395.1L276.1 396L276.4 396.9L276.6 397.8L276.8 398.6L277 399.5L277.2 400.4L277.4 401.2L277.6 402.1L277.8 403L278 403.9L278.1 404.7L278.3 405.6L278.5 406.5L278.6 407.3L278.8 408.2L278.9 409.1L279 410L279.2 410.8L279.3 411.7L279.4 412.6L279.5 413.4L279.6 414.3L279.7 415.2L279.8 416.1L279.9 416.9L280 417.8L280.1 418.7L280.2 419.5L280.3 420.4L280.4 421.3L280.5 422.2L280.5 423L280.6 423.9L280.7 424.8L280.7 425.6L280.8 426.5L280.9 427.4L280.9 428.3L281 429.1L281 430L281.1 430.9L281.2 431.7L281.2 432.6L281.3 433.5L281.3 434.3L281.3 508.3Z"/></clipPath>
</defs>
<g clip-path="url(#rd)" stroke="#000" stroke-width="0.6" stroke-linejoin="round">
<rect x="390.5" y="296.7" width="240" height="211.6" fill="#3e26a8" stroke="none"/>
<path fill="#4536d5" d="M398.3 511.5l227.1 0-0.2-33.9-0.4-23.3-0.5-11.6-0.4-8.5-0.5-7.4-0.7-7.4-0.9-6.3-1.1-6.4-1.3-5.3-1.5-5.2-1.4-4.3-2.2-5.3-2.2-4.2-1.9-3.2-2.8-4.2-2.5-3.2-2.9-3.2-2.7-2.6-3.1-2.6-4.1-3.2-3.6-2.4-4.8-2.9-4.8-2.6-4.8-2.3-6-2.5-5.6-2.1-6.4-2.3-6-1.8-7.2-2.1-7.2-1.9-8.4-1.9-9.6-2-10.8-1.9-10.8-1.8-9.6-1.3-10.8-1.3-9.6-0.9-9.6-0.7-7.2-0.3-7.2 0-7.2 0.2-6 0.5-4.8 0.8-3.6 0.9-3.6 1.4-2.9 1.6-1.6 1-1.4 1.1-1.3 1.2-1.2 1.3-1.3 1.7-1.1 1.8-0.7 1.4-0.9 2.1-0.8 2.1-0.7 2.1-1.2 5.3-1 6.4-0.8 7.4-0.5 7.4-0.5 9.5-0.3 10.6-0.2 12.7-0.2 34.9 0 69.8z"/>
<path fill="#484cef" d="M405.7 511.5l216.3 0-0.2-32.8-0.2-12.7-0.3-10.6-0.4-8.5-0.5-8.4-0.7-7.9-0.8-6.9-0.9-6.4-1.2-6.3-1.5-6.4-1.5-5.3-1.9-5.3-2.2-5.3-2.2-4.2-2.5-4.2-3-4.3-2.6-3.1-3.1-3.2-3-2.8-3.6-3-3.7-2.7-3.5-2.3-4.8-2.8-4.5-2.3-5.1-2.3-6-2.5-6-2.2-6-2-7.2-2.1-6-1.6-7.2-1.8-8.4-1.7-9.6-1.7-8.4-1.4-9.6-1.2-8.4-0.9-8.4-0.7-7.2-0.4-7.2-0.2-6 0.1-6 0.3-4.8 0.5-4.8 0.7-4.8 1-4.8 1.4-3.6 1.4-2.4 1.3-1.2 0.8-2.1 1.5-1.2 1-1.5 1.6-1.2 1.4-1.2 1.6-1.2 1.8-1.1 2.1-1 2.1-0.9 2.1-1.1 3.2-1.4 5.3-1.2 6.3-1 7.4-0.7 7.5-0.5 8.4-0.4 10.6-0.3 12.7-0.3 32.8-0.1 62.4z"/>
<path fill="#4562fc" d="M413.5 511.5l204.4 0-0.2-32.8-0.3-11.7-0.3-10.5-0.4-9.6-0.6-8.4-0.7-7.4-0.9-7.4-1-6.4-1.3-6.3-1.6-6.4-1.7-5.3-2-5.3-2.4-5.3-2.4-4.2-2.8-4.2-2.4-3.2-2.8-3.2-3.1-3.1-3.6-3.2-3.7-2.9-3.4-2.4-3.8-2.3-3.6-2-4.1-2.1-5.5-2.4-6-2.5-4.8-1.7-6-2-7.2-2.1-7.2-1.9-6-1.3-7.2-1.3-10.8-1.7-7.2-1-8.4-0.8-7.2-0.6-7.2-0.3-6 0-6 0.1-6 0.4-4.8 0.6-4.8 0.8-4.8 1.2-3.6 1.2-3.8 1.6-4 2.1-3 2-1.6 1.2-1.1 1-1.1 1.1-1.7 2.1-1.5 2.1-1.2 2.1-1.1 2.2-0.9 2.1-0.8 2.1-1 3-1.4 5.5-1.1 6.3-1 7.4-0.7 7.4-0.5 8.5-0.4 10.6-0.3 11.6-0.3 30.7-0.1 57.1z"/>
<path fill="#347afd" d="M421 511.5l192.6 0-0.3-32.8-0.2-12.7-0.4-10.6-0.4-8.5-0.6-8.4-0.8-7.4-0.9-7.4-1.1-6.4-1.4-6.3-1.7-6.4-1.7-5.3-2.2-5.3-2.1-4.2-2.4-4.2-3-4.3-2.5-3.1-2.9-3.2-2.9-2.8-2.8-2.5-3.2-2.5-3.6-2.5-3.6-2.2-3.6-1.9-4.8-2.4-4.9-2.3-4.7-1.9-3.6-1.3-6-2-7.2-2.2-6-1.6-6-1.3-6-1.1-8.4-1.2-7.2-0.9-6-0.6-6-0.4-6-0.3-6 0-6 0.2-6 0.5-4.8 0.6-4.5 0.9-4.2 1-3.3 1.1-3.6 1.4-3.6 1.9-3 2-1.8 1.4-1.9 1.7-2.1 2.1-1.8 2.2-1.4 1.9-1.2 1.8-1.9 3.7-1.7 4.2-1.6 5.3-1.3 6.3-1 6.4-0.8 7.4-0.7 8.5-0.5 10.5-0.3 11.7-0.2 13.7-0.2 17-0.1 53.9z"/>
<path fill="#2c90f0" d="M428.7 511.5l180.4 0-0.3-33.9-0.3-11.6-0.4-10.6-0.4-9.5-0.7-8.5-0.7-7.4-1-7-1.2-6.7-1.5-6.4-1.6-5.3-1.9-5.3-2.2-4.9-2.5-4.6-2.7-4.2-3.2-4.3-2.7-3.1-3.1-3.2-3.7-3.2-2.5-2-3.3-2.2-3.5-2.1-3.8-2.1-4.1-2.2-4.5-2.1-3.6-1.5-4.8-1.8-6-2-6-1.8-4.8-1.3-4.8-1.1-3.6-0.7-6-0.9-8.4-1-4.8-0.5-4.8-0.3-7.2-0.3-4.8 0-6 0.2-4.2 0.3-4.2 0.6-4.8 0.8-4.8 1.2-3.6 1.2-3.6 1.4-2.4 1.2-3.4 2.1-2.6 1.9-1.5 1.3-2.1 2.1-2.4 3-1.5 2.3-1.2 2.1-2 4.2-2 5.3-1.5 5.3-1.4 6.3-1.1 7.5-0.8 7.4-0.6 7.4-0.4 9.5-0.4 11.6-0.2 12.7-0.2 15.9-0.1 49.7z"/>
<path fill="#21a3e3" d="M437.1 511.5l167.4 0-0.3-33.9-0.3-12.7-0.4-10.6-0.5-9.5-0.7-8.4-0.9-7.4-0.9-6.3-1.3-6.4-1.6-6.4-1.7-5.3-2.1-5.3-2.6-5.3-2.4-4.2-2.9-4.2-1.7-2.1-1.7-2-2.4-2.6-3.1-2.9-2.6-2.1-2.7-2-3.4-2.2-3.6-2.1-3.8-2.1-4.1-2.1-3.1-1.4-4.8-1.9-5.6-2-5.2-1.7-4.8-1.4-3.6-0.9-3.6-0.7-3.6-0.6-6-0.8-7.2-0.7-3.6-0.3-4.8-0.2-6 0-4.8 0.1-4.8 0.3-4.1 0.5-4.3 0.8-3.6 0.8-3.6 1.1-3.6 1.4-2.7 1.2-3.3 1.8-2.4 1.7-2.4 1.9-1.2 1.1-1.9 2-2.5 3.1-1.4 2.2-1.2 2.1-2 4.2-0.8 2.1-1 3.1-1.4 5.4-1.2 6.3-0.9 6.4-0.8 7.4-0.6 8.5-0.5 9.5-0.3 10.6-0.4 28.5-0.1 45.5z"/>
<path fill="#0cb3d3" d="M445 511.5l154.7 0-0.3-33.9-0.3-11.6-0.4-10.6-0.6-9.5-0.7-8.5-0.9-7.4-1-6.3-1.3-6.4-1.6-6.3-1.8-5.3-2.1-5.3-2.7-5.3-2.5-4.2-1.5-2.2-1.9-2.4-1.5-1.8-1.9-2.1-2.3-2.1-2.5-2.1-2.6-2.1-2.4-1.6-4.1-2.7-3.1-1.9-3.6-2-2.4-1.2-2.9-1.2-5.5-2.2-4.8-1.8-4.2-1.3-4.2-1.2-3.6-0.8-3.6-0.7-3.6-0.5-4.8-0.5-7.2-0.5-3.6-0.1-3.6 0-4.8 0.1-4.8 0.3-3.6 0.4-3.6 0.6-3.6 0.8-3.6 1-3 1.1-3 1.3-2.4 1.2-2.7 1.7-2.8 2.1-2.3 2.1-2.8 3.2-2.3 3.2-1.3 2.1-1.1 2.1-1.8 4.3-1.4 4.2-1.4 5.3-1.2 6.3-1 6.4-0.7 7.3-0.5 7.5-0.5 9.5-0.4 10.6-0.3 26.4-0.2 43.4z"/>
<path fill="#12beb9" d="M453.3 511.5l141.1 0-0.3-32.8-0.3-11.7-0.4-10.5-0.6-9.6-0.7-8.3-0.9-7.5-1-6.4-1.3-6.3-1.7-6.4-1.8-5.3-2.2-5.3-1.1-2.1-1.7-3.1-2.7-4.1-2.6-3.4-1.9-2.1-2.2-2.1-2.4-2.1-2.6-2.1-5.8-4.3-2.9-1.8-2.2-1.3-3.8-1.9-7.9-3.4-4.1-1.6-3.6-1.2-3.6-1-3.6-0.8-2.4-0.5-3.6-0.5-3.6-0.3-4.8-0.2-6-0.1-3.6 0-3.6 0.2-3.6 0.4-3.6 0.5-3.6 0.7-3.6 1-2.4 0.8-3.6 1.4-2.4 1.2-2.4 1.5-2.3 1.7-2.5 2.1-1.2 1.1-2.6 3.1-2.2 3.2-1.2 2.1-1.1 2.1-1.8 4.2-1.4 4.3-1.3 5.3-1.3 6.3-0.9 6.4-0.7 7.4-0.6 7.4-0.4 8.4-0.3 10.6-0.4 25.4-0.2 40.2z"/>
<path fill="#34c79c" d="M462.1 511.5l126.5 0-0.1-20.1-0.3-15.9-0.3-12.7-0.6-10.6-0.7-9.5-0.9-8.5-1.1-7.4-1.3-6.3-0.8-3.2-0.9-3.2-1-3.1-1.2-3.2-1.4-3.2-1.1-2.1-1.1-2.1-1.3-2.1-1.5-2.1-1.6-2.2-1.8-2.1-2-2.1-2.2-2.1-3.5-3.2-4.6-3.6-2.4-1.7-1.7-1-6.3-3.2-6.4-2.9-3.6-1.3-2.4-0.8-4.8-1.3-2.4-0.5-2.4-0.4-4.8-0.3-6 0-7.2 0.2-4.8 0.6-2.4 0.4-3.6 0.9-2.4 0.6-2.4 0.8-2.4 1-2.4 1.2-2.4 1.4-2.1 1.4-1.5 1.2-2.1 2-1.5 1.6-1.3 1.6-2.1 3.2-1.8 3.1-1.9 4.3-1.4 4.2-1.2 4.2-1.1 5.3-0.9 5.3-0.8 6.4-0.6 6.3-0.5 7.4-0.4 8.5-0.3 9.5-0.4 24.3-0.1 36z"/>
<path fill="#5ccc76" d="M471.3 511.5l111.1 0-0.2-19.1-0.2-14.8-0.4-11.6-0.5-10.6-0.6-9.5-0.9-8.5-1.1-7.4-1.3-6.3-0.7-2.7-1.1-3.7-2-5.3-1.4-3.2-1.1-2.1-2.5-4.2-1.5-2.2-2.4-3.1-2.6-3.2-1.9-2.1-2.1-2.1-1.8-1.6-2-1.6-1.6-1.1-5.2-3.1-5.6-2.9-4.8-2.1-3.6-1.3-2.4-0.7-2.4-0.5-3.6-0.5-3.6-0.1-4.8 0.2-7.2 0.8-4.2 0.7-4.2 1.3-2.2 0.9-2.4 1-3.8 2.2-1.5 1-2.1 1.7-1.6 1.5-1.9 2.1-2.3 3.2-1.9 3.1-1.5 3.2-1.3 3.2-1.3 4.2-1.1 4.2-1 5.3-0.8 5.3-0.8 6.4-0.5 6.3-0.5 7.4-0.6 17-0.3 22.2-0.2 31.7z"/>
<path fill="#94ca4a" d="M481.5 511.5l93.4 0-0.2-20.1-0.3-14.8-0.5-11.7-0.6-10.6-0.8-8.4-1.2-8.5-0.8-4.2-0.6-3.2-0.8-3.2-1-3.4-1.2-3.6-1.2-3.1-1.6-3.6-1.5-3.2-1.7-3.1-1.3-2.2-2.1-3.2-1.7-2.1-1.9-2.1-1.4-1.3-2.4-1.9-3.6-2.6-2.4-1.6-3.4-2.1-2.6-1.4-2.4-1.1-3.6-1.3-3.6-0.9-2.4-0.3-3.6 0-3.6 0.5-3.6 0.7-5.8 1.7-2.6 0.9-2.4 1.2-2.4 1.5-2.4 1.8-2.4 2.3-2.4 2.7-1.7 2.3-1.9 3.1-1.5 3.2-1.2 3.2-1.1 3.2-1 3.8-0.8 3.6-0.7 4.2-0.8 5.3-0.6 5.3-0.4 5.3-0.8 12.7-0.4 14.8-0.3 18-0.2 26.4z"/>
<path fill="#c8c129" d="M493.8 511.5l70.8 0-0.2-18-0.4-14.8-0.5-11.7-0.6-10.5-0.8-8.5-1.2-8.5-1.4-7.4-1.6-6.3-0.6-2.1-1.2-3.3-1.2-2.8-1.2-2.4-1.2-2-1.2-1.6-3.6-4.5-2.3-2.5-2.2-2.1-1.5-1.3-2.4-1.9-2.4-1.5-2.4-1.4-1.2-0.5-2.4-0.9-2.4-0.5-1.2-0.1-2.4 0.1-2.4 0.4-2.4 0.8-2.4 1.1-2.5 1.5-3 2.1-2.6 2.1-1.5 1.4-1.5 1.8-1.5 2.1-1.8 3-1.1 2.3-1.3 3.2-0.7 2.1-0.9 3.1-0.8 3.2-1.2 6.4-1.2 8.4-0.8 9.6-0.6 10.5-0.5 13.8-0.2 15.9-0.2 21.1z"/>
<path fill="#f1ba37" d="M510 511.5l41.5 0-0.2-12.7-0.3-10.6-0.4-9.5-0.5-8.5-0.7-7.4-0.8-7.4-1-6.3-1.1-5.4-1.3-5.2-1.7-5.3-1.8-4.4-1.2-2.4-1.2-2.1-1.2-1.9-1.2-1.6-1.2-1.4-1.2-1.1-1.2-1-1.2-0.8-1.2-0.5-1.2-0.4-1.2-0.1-1.2 0.1-1.2 0.4-1.2 0.6-1.2 0.9-0.8 0.9-1.8 2.1-1 1.6-0.8 1.6-1 2.1-0.9 2.1-0.9 2.7-0.8 2.6-1.2 5.3-1.2 6.3-0.9 6.4-0.6 6.3-0.6 8.5-0.5 8.4-0.3 10.6-0.4 25.4z"/>
</g>
<path d="M391.7 312.7L393.5 312.9L395.3 313.1L397.1 313.3L398.9 313.4L400.7 313.6L402.5 313.8L404.3 314L406.1 314.2L407.9 314.4L409.8 314.5L411.6 314.7L413.4 314.9L415.2 315.1L417 315.3L418.8 315.5L420.6 315.7L422.4 315.9L424.2 316.1L426 316.3L427.8 316.5L429.6 316.7L431.4 316.9L433.2 317.1L435 317.3L436.8 317.6L438.6 317.8L440.4 318L442.2 318.2L444 318.4L445.9 318.6L447.7 318.9L449.5 319.1L451.3 319.3L453.1 319.6L454.9 319.8L456.7 320L458.5 320.3L460.3 320.5L462.1 320.8L463.9 321L465.7 321.3L467.5 321.5L469.3 321.8L471.1 322L472.9 322.3L474.7 322.6L476.5 322.8L478.3 323.1L480.1 323.4L482 323.6L483.8 323.9L485.6 324.2L487.4 324.5L489.2 324.8L491 325.1L492.8 325.4L494.6 325.7L496.4 326L498.2 326.3L500 326.6L501.8 326.9L503.6 327.3L505.4 327.6L507.2 327.9L509 328.3L510.8 328.6L512.6 329L514.4 329.3L516.2 329.7L518.1 330L519.9 330.4L521.7 330.8L523.5 331.2L525.3 331.6L527.1 332L528.9 332.4L530.7 332.8L532.5 333.2L534.3 333.6L536.1 334.1L537.9 334.5L539.7 335L541.5 335.4L543.3 335.9L545.1 336.4L546.9 336.9L548.7 337.4L550.5 337.9L552.3 338.4L554.2 338.9L556 339.5L557.8 340.1L559.6 340.6L561.4 341.2L563.2 341.8L565 342.5L566.8 343.1L568.6 343.8L570.4 344.4L572.2 345.1L574 345.9L575.8 346.6L577.6 347.4L579.4 348.2L581.2 349L583 349.9L584.8 350.7L586.6 351.7L588.4 352.6L590.3 353.6L592.1 354.7L593.9 355.8L595.7 357L597.5 358.2L599.3 359.5L601.1 360.9L602.9 362.3L604.7 363.9L606.5 365.5L607.4 366.4L608.3 367.3L609.1 368.1L609.9 369L610.6 369.9L611.4 370.8L612.1 371.6L612.8 372.5L613.4 373.4L614.1 374.2L614.7 375.1L615.3 376L615.8 376.9L616.4 377.7L616.9 378.6L617.4 379.5L617.9 380.3L618.4 381.2L618.8 382.1L619.3 382.9L619.7 383.8L620.1 384.7L620.5 385.6L620.8 386.4L621.2 387.3L621.5 388.2L621.9 389L622.2 389.9L622.5 390.8L622.8 391.7L623.1 392.5L623.4 393.4L623.6 394.3L623.9 395.1L624.1 396L624.4 396.9L624.6 397.8L624.8 398.6L625 399.5L625.2 400.4L625.4 401.2L625.6 402.1L625.8 403L626 403.9L626.1 404.7L626.3 405.6L626.5 406.5L626.6 407.3L626.8 408.2L626.9 409.1L627 410L627.2 410.8L627.3 411.7L627.4 412.6L627.5 413.4L627.6 414.3L627.7 415.2L627.8 416.1L627.9 416.9L628 417.8L628.1 418.7L628.2 419.5L628.3 420.4L628.4 421.3L628.5 422.2L628.5 423L628.6 423.9L628.7 424.8L628.7 425.6L628.8 426.5L628.9 427.4L628.9 428.3L629 429.1L629 430L629.1 430.9L629.2 431.7L629.2 432.6L629.3 433.5L629.3 434.3" fill="none" stroke="#000" stroke-width="1.4"/>
<rect x="390.5" y="296.7" width="240" height="211.6" fill="none" stroke="#262626" stroke-width="0.6"/>
<path d="M390.5 508.3v-2.4M390.5 296.7v2.4M438.5 508.3v-2.4M438.5 296.7v2.4M486.5 508.3v-2.4M486.5 296.7v2.4M534.5 508.3v-2.4M534.5 296.7v2.4M582.5 508.3v-2.4M582.5 296.7v2.4M630.5 508.3v-2.4M630.5 296.7v2.4M390.5 508.3h2.4M630.5 508.3h-2.4M390.5 455.4h2.4M630.5 455.4h-2.4M390.5 402.5h2.4M630.5 402.5h-2.4M390.5 349.6h2.4M630.5 349.6h-2.4M390.5 296.7h2.4M630.5 296.7h-2.4" stroke="#262626" stroke-width="0.6" fill="none"/>
<g class="tk" text-anchor="middle">
<text x="390.5" y="526.9">0</text>
<text x="438.5" y="526.9">0.2</text>
<text x="486.5" y="526.9">0.4</text>
<text x="534.5" y="526.9">0.6</text>
<text x="582.5" y="526.9">0.8</text>
<text x="630.5" y="526.9">1</text>
</g><g class="tk" text-anchor="end">
<text x="385.2" y="513.3">-4</text>
<text x="385.2" y="460.4">-3</text>
<text x="385.2" y="407.5">-2</text>
<text x="385.2" y="354.6">-1</text>
<text x="385.2" y="301.7">0</text>
</g>
<defs><linearGradient id="gd" x1="0" y1="1" x2="0" y2="0">
<stop offset="0.0000" stop-color="#3e26a8"/>
<stop offset="0.0159" stop-color="#402ab4"/>
<stop offset="0.0317" stop-color="#422ec0"/>
<stop offset="0.0476" stop-color="#4332cb"/>
<stop offset="0.0635" stop-color="#4537d5"/>
<stop offset="0.0794" stop-color="#463cde"/>
<stop offset="0.0952" stop-color="#4741e5"/>
<stop offset="0.1111" stop-color="#4747eb"/>
<stop offset="0.1270" stop-color="#484df0"/>
<stop offset="0.1429" stop-color="#4852f4"/>
<stop offset="0.1587" stop-color="#4758f8"/>
<stop offset="0.1746" stop-color="#465efb"/>
<stop offset="0.1905" stop-color="#4563fd"/>
<stop offset="0.2063" stop-color="#4269fe"/>
<stop offset="0.2222" stop-color="#3e6fff"/>
<stop offset="0.2381" stop-color="#3875fe"/>
<stop offset="0.2540" stop-color="#327cfc"/>
<stop offset="0.2698" stop-color="#2f81fa"/>
<stop offset="0.2857" stop-color="#2e87f7"/>
<stop offset="0.3016" stop-color="#2d8cf3"/>
<stop offset="0.3175" stop-color="#2b91ef"/>
<stop offset="0.3333" stop-color="#2797eb"/>
<stop offset="0.3492" stop-color="#259be8"/>
<stop offset="0.3651" stop-color="#23a0e5"/>
<stop offset="0.3810" stop-color="#20a5e3"/>
<stop offset="0.3968" stop-color="#1ca9df"/>
<stop offset="0.4127" stop-color="#18addb"/>
<stop offset="0.4286" stop-color="#12b1d6"/>
<stop offset="0.4444" stop-color="#08b5d0"/>
<stop offset="0.4603" stop-color="#01b8ca"/>
<stop offset="0.4762" stop-color="#02bac3"/>
<stop offset="0.4921" stop-color="#0bbdbd"/>
<stop offset="0.5079" stop-color="#19bfb6"/>
<stop offset="0.5238" stop-color="#24c1ae"/>
<stop offset="0.5397" stop-color="#2cc4a7"/>
<stop offset="0.5556" stop-color="#31c69f"/>
<stop offset="0.5714" stop-color="#37c897"/>
<stop offset="0.5873" stop-color="#3fca8e"/>
<stop offset="0.6032" stop-color="#4acb84"/>
<stop offset="0.6190" stop-color="#57cc7a"/>
<stop offset="0.6349" stop-color="#64cd6f"/>
<stop offset="0.6508" stop-color="#72cd64"/>
<stop offset="0.6667" stop-color="#81cc59"/>
<stop offset="0.6825" stop-color="#8fcb4e"/>
<stop offset="0.6984" stop-color="#9dc943"/>
<stop offset="0.7143" stop-color="#abc739"/>
<stop offset="0.7302" stop-color="#b9c431"/>
<stop offset="0.7460" stop-color="#c5c22a"/>
<stop offset="0.7619" stop-color="#d1bf27"/>
<stop offset="0.7778" stop-color="#dcbd29"/>
<stop offset="0.7937" stop-color="#e6bb2d"/>
<stop offset="0.8095" stop-color="#f0ba36"/>
<stop offset="0.8254" stop-color="#f8ba3d"/>
<stop offset="0.8413" stop-color="#febe3c"/>
<stop offset="0.8571" stop-color="#fec338"/>
<stop offset="0.8730" stop-color="#fec934"/>
<stop offset="0.8889" stop-color="#fccf30"/>
<stop offset="0.9048" stop-color="#fad62d"/>
<stop offset="0.9206" stop-color="#f7dc2a"/>
<stop offset="0.9365" stop-color="#f5e327"/>
<stop offset="0.9524" stop-color="#f5e924"/>
<stop offset="0.9683" stop-color="#f6ef20"/>
<stop offset="0.9841" stop-color="#f7f51b"/>
<stop offset="1.0000" stop-color="#f9fb15"/>
</linearGradient></defs>
<rect x="649.2" y="295.6" width="20" height="212.8" fill="url(#gd)" stroke="#262626" stroke-width="0.6"/>
<g class="tk">
<text x="673.9" y="513.4">0</text>
<text x="673.9" y="460.2">1</text>
<text x="673.9" y="407">2</text>
<text x="673.9" y="353.8">3</text>
<text x="673.9" y="300.6">4</text>
</g>
<path d="M669.2 508.4h-2.5M669.2 455.2h-2.5M669.2 402h-2.5M669.2 348.8h-2.5M669.2 295.6h-2.5" stroke="#262626" stroke-width="0.6" fill="none"/>
<g clip-path="url(#rc)" stroke="#000" stroke-width="0.85" stroke-linejoin="round">
<rect x="42.5" y="296.7" width="240" height="211.6" fill="#3e26a8" stroke="none"/>
<path fill="#463adb" d="M58.9 510.8l1.3 0.5 1.6 0.2 213.8 0 0.7-7.2-0.1-3.7 0.3-3.6 0.3-11.5-0.2-10.1-0.9-16.6-1.6-15.2-1.5-10.8-2-7.9 0-3.7-0.8-4.3-0.9-2.9-1.5-2.9-1.2-5 0.1-1.5 1.8-2.1-0.1-0.7-0.8-1.5-0.8 0-0.1 0.2-1.6-1.6 0.3-1.5-0.2-2.9-0.7-0.6-1.5 0.2-1.5-0.8-1.5-1.2-0.9-1.2-0.8-0.7-0.5-0.7 1.5-1.8 0.7-0.3 2.2 0.4 0.4-0.5-0.4-0.6-1.5 0.5-0.7-0.2-0.7-1.8 0.2-1.5-1.1-1.4 0.1-0.4 1.5-0.1 0-1-0.4-0.7-0.1-0.7 1.2-0.7 0.1-0.8-0.1-0.7-0.7-0.7-0.7 0.1-0.8-0.5-0.7 0.2-0.8 1-0.7 0-0.8-1.1-0.7-0.3-1.5 1.5-0.7-1.5-1.5-0.3-1.5-1 0-0.5 1.4-1.2-0.7-0.7-1.4-0.8-0.7-0.7 0.6-0.7 0-0.7-0.7-1.2-0.2 0.4-0.5 0.4-0.8-0.4-0.1-0.7 1.1-0.7-0.3-0.7-1.3-0.7-0.9-0.1-4.4-3.5-0.8 0.6-0.7-0.3-0.3-0.3-0.3-1.5 0.4-1.4 1.7-1.5-0.8-1.4-0.3-0.7-0.1-0.8 0.4-0.3 0.8-0.3 0.5 0.6-0.1 0.8 0.3 0.7 2 0.7 2.5 2.2 1 1.4 0.2 1.5 0.3 0.4 0.6-0.4-0.3-0.8 0.8-0.7 0.1-0.7-1.7-0.7-0.2-0.8 0.8-0.7 0.6-0.3 0.1-0.4-0.1-0.1-1.5 0.2-1.5-1.7-1.5-0.5-0.7-0.9-0.8-0.3-0.7 0.3-1.1-1.3-0.4-0.1-0.7-0.7-1.7 0-0.5 0.8 0.1 0.7-0.2 0-0.1-0.7-0.6-0.8-0.6-1.4-1.6-0.3-0.7-0.4-0.4-0.7-0.4-0.1-0.8-0.7-0.7-0.1-0.8-0.9-0.7-0.1-0.7-0.6-1.3 0.3 0 0.7 0.7 2.2 0.9 1.4 0 1.5 0.4 1.4-0.2 1.5-0.5 0.7-3-1-0.8-0.3-0.7-0.7-0.6-0.9-0.2-1.5-0.2-0.7-0.6-0.7 0-0.7-0.6-1.3-0.8-0.2-1.5 0.5-2.2-0.2-0.8-1.6-1.5-2.3 0-1.4 0.5-0.7-0.4-0.8-1.5-0.2-0.8-0.8-1.5-0.1-0.7-0.7-1.5 0.2-0.7-0.7-1.5-0.1-0.8-0.8-2.2 0-0.7-0.5-1.5 0.2-0.8-0.4-0.7-0.1-1.5 0.6-0.8-0.1-0.9-0.8-0.2-0.7-1.1-1-2.2 0-0.8-0.7-2.2-0.1-0.7-0.8-1.5 0.1-0.8-0.7-2.9 0.2-0.8-0.9-0.7 0-1 0.3 0.2 1-0.7 0.3-0.5-0.6-1-0.7-0.8-0.5-0.7 0-1.5 1.1-1.5 0.3-1.5-0.6-0.7-0.1-1.5-1.3-0.7 0-1.5 0.5-1.5 0.2-0.8-0.2-0.7-0.6-1-2.4-1.2-0.3-0.8-0.6-0.8 0.1-0.7 0.8-1.5-0.8-0.7-0.8-3-0.3-0.7-0.7-3.7 0.2-0.8-0.7-0.7 0.2-1.5-0.3-1.5 0.1-2.2 0.6-0.7-0.4-0.1-0.7-0.7-0.2-0.8-0.9-3.7 0.1-0.7-0.7-0.8-0.1-2.2 0.4-0.8-0.1-1.4 1.4-0.8-0.7-1.5-0.2-0.7-0.4-0.8 0.1-0.7 0.6-1.5 0.2-0.7 0.5-1.6 1.4-0.7 0.4-2.2 0.6-0.8 0.6-1.4 0-1.5 0.8-1.5-0.2-0.8 0.6-0.7-0.2-0.2-0.4 0.2-0.5 0.7-0.5 0.3-0.5-0.3-0.4-2.2-0.7-0.7 0.4 0.1 0.7-0.3 0 0.2-3.2 0.2-0.4 0.5-0.1 0.8 0.6 0.7 0 0.7-0.7 0.8-0.3 1.5-0.2 2.2 1.3 0.7-0.6 0.3-0.7 0-0.7-0.6-0.7-1.1-0.3-0.8-0.5-0.7 0-5.2 0-0.8-0.7-1.5-0.3-1.5 0-0.7-0.6-4.5 0-0.7-0.4-0.8 0.2-0.5 0.4-0.5 0.7-0.2 0.7 0.5 0.6 2.2 0.1 0.7 0.8-0.7 0.4-0.7 0.9-0.8 0.5-1.1-1.1-1-1.4-1-0.8-0.2-0.7-0.4-0.5-0.7 0.2 0.4 1-0.2 0.8 0.1 0.7 1.2 0.7 0.4 0.7-0.4 0.5-1.5 1 0.9 1.4-0.1 0.7-1.1 2.2-0.1 0.7-0.5 1.5-0.2 0.7 0.4 1.4-0.4 1.5 0.3 0.5 1.5 0 0.8 0.3 0.5 0.6 0.3 0.7 0.6 0.8-1.7 0.7 2.4 1.4 0.7 0.7 0 0.8-1.3 1.8-0.8 0.6-0.7-0.1-0.5-0.9 0.1-0.7-0.4-1-1.5-0.8-1.3-0.4-0.9-0.6-1.5-0.3-0.2-0.5 0.5-1.5-0.4-0.7-0.1-0.7 0.2-0.7-1.2-0.8-2.1-2.1-0.4-0.7 0.1-0.8 0.8-1.4 0.2-0.7 0.4-0.5 1-0.3 1-0.7-0.5-1.4 2.2-1.5 0.7-0.3 0.8 0.7 0.2-0.4-0.2-0.7 1.1-1.4-0.7-1.5-1.1-1.4 0.7-0.7 0.2-0.8-1.7-0.3-3 0-0.7-0.7-3.7 0-1.5 0.3-1.5 1.2-2.2 0.3-0.8-0.8-1.5-0.5-1.5-0.9-1.5 0.2-0.6-0.2-0.4-0.7-0.4-0.2-2.3 0-1.6-0.5-2 0.7-0.8 1-2.3 0.6-0.7-0.3-0.3 0.8-1.2 0.7-1.5-0.8-0.7 0.4-0.7 0.5 0.4 1.4-0.3 0.7-1.6 0.8-0.3 1.4-0.5 0.2-0.9-0.9 0.2-0.7-0.2-0.8 0.5-1.4 0.5-0.7 0-0.8-0.9-0.9-0.9-0.5 0.1-0.7 0.5-0.7-0.4-0.4-0.7-0.5-1.5-0.3-0.3-0.3-2.7-0.3-0.8-0.5-1.4-0.2-2.8 0.3-0.4 0.7 0.2 0.2 0.7-0.1 0.8-0.5 0.6 1.1-0.6 1.5 1.5 0.6 0.5 0.8-0.5 1.5 0.3 0.7 0.9 0.7 0.5 0.7-0.2 0.8-0.6 0.7-0.2 0.7 1.4 1.4 0.3 0.8 0.2 1.4-0.4 0.5-0.8-0.4-0.7-0.2-0.7 0.7-0.8 1.6-0.1 0.7 0.3 0.7-0.2 0.7-2.6 0.8-0.1 0.7 0.2 0.7 0.3 0.3 1.1 0.4 0.4 0.4 0.2-0.4 0.5-0.1 0.8-0.7 0.7-0.3 0.7 0 1.8-1 1.2-0.3 1.4 0.3 1.6 2.5 2.2 1.2 0.8 0 1.5-0.4 0.7 0.2 0.6 0.8 0.3 0.7-0.1 0.5-0.8 0-0.7 0.3-0.6 0.7 0.2 1.4 0.5 0.7 0.4 1.5 0.6 0.7 0.2 0.7-0.2 0.7-0.6 0.7-1.3 0.9-0.7 0.1-0.3-0.2-0.2-0.8-0.3-0.2-1.5 0-2.2 1.2-0.4-0.2 0.5-0.8 0.1-0.7-0.5 0-0.4 0.2-0.5 0.5-0.3 0.8-0.1 0.7-1.4 0.6-0.4-0.6-1-0.7 0-0.8-0.3-0.7 0.2-0.4 0.9-0.3 0.4-0.7 0.6-5.1-0.4-0.7-1.5-0.2-0.7-0.4-0.7 0.1-0.2 0.5 0.1 1.5-1.9 0.7-1.7 2.9 1.4 1.5 1.8 1.3-0.3 0.6-0.8 0.2 0.8 1 0.8 0.4 0.7-0.1 2.2 0.3 1 2-3.3 0.7-0.4 1.4-0.9 0.8-0.6 0.7 0.1 0.7 0.8 1.5-1.1 0.4-1.5-0.2-0.3 0.5-0.1 1.4-0.4 0.3-0.7 0.1-2.2-0.4-0.8 0.4-0.1 0.3 1.6 1.1 1.5 0.5 1.5-0.1 0.7 0.3 0.8 0.7 0.7 0.1 1.5-0.5 1.1 0.1 0.4 0.3 0.4 0.4-0.7 0.8-0.5 0.3-1.7 0.4 0.4 0.7 0.6 0.4 0.7 0.9 0.4 0.9-0.9 0.7 0.5 1.2 0.8 0.3 0.8 0.6-0.6 0.8 0.1 0.7 1.2 1.1 1.7 1.1-1.7 0.4-1.5-0.1-1.1 0.4 0.3 0.5 1.5 0.9 0.5 0.7-0.5 0.3-1.5-0.5-0.7 0.2 0.1 0.8 0.9 0.7-0.3 0.7-1.4 0.9-0.5 0.6-0.2 0.7-0.4 0.7-2.1 0.7 0.5 0.7 1.2 1.1 1.5 0.2 0.9 0.9-1.3 0.7 0.4 0.8 3.1 2.1-1.7 0.3-0.4 0.4 1.2 1.1 1.1 0.4 1 0.7-2.1 0.2-1.5 0.5 1.8 1.5-0.2 0.7-1 0.7 0.6 0.7 1 0.7 0.8 0.8-0.8 0.2-3.4-0.2-0.2 0.7 0.9 0.7 0.4 0.7-0.6 0.4-1.6 0.4 2.3 1.4 1.8 0.7-1.1 0.8-1.4-0.2-0.6 0.2 0.4 0.7 0.2 0.2 0.7 0 0.7 0.3 1.5 1.1 1.3 0.5-1.3 0.3-0.9 0.5 3 1.4 0.8 0.7-3.6 0.3-0.8 0.4-0.1 0 0.6 0.8 1 0.7-0.7 0.4-4.2 0.3 2 0.4 0.7 0.5 2.2 0.5 1.5 0.9 2.5 0.6-0.2 0.2-0.8 0.2-4.5 0-0.4 0.3 1.9 0.5 1.5 0.7 0.4 0.3 0.3 0.7-2.7 0.7 1.7 2.2-0.4 0.4-2.5 0.3 0 0.7 1 0.5 1.5 0.1 2.4 1.6-1.7 0.5-2.2-0.1-0.5 0.3 2 0.5 3 1.2 0.9 1.2-0.2 0.2-3.2 0.5 3.8 2.2 1.9 0.7-0.3 0.2-1.5 0.2-2.2-0.1-1.3 0.4 0.1 0.7 3.4 1.3 1.2 0.9-0.4 0.3-1.5-0.1-3-0.8-1.5 0.2-0.6 0.4 2.1 1.3 3.5 1.6-1.2 0.3-2.3 0-2.2-0.5-1.5 0-0.1 0.2 5.3 1.6 1.5 1.1 1.5 0.2 1.5 0.5 1.5 0 0.7 0.2 0.7 0.7-0.7 0.5-0.7 0.1-4.5-0.5-0.7 1.3-0.1 0.8-0.5 0.7-1.4 0.7 1.2 0.6 1.5 1.4 0.7 0.4 0.8-0.1 0.7 0.2 0.5 0.4-1.2 0.3-1.5-0.1-1.5 0.3-0.4 0.3 1 0.7 3.1 1.6 1.5 0 2.3 0.4 1.4 0.9-2.2 0.5-3.7-0.9-2.2 0.1-0.9 0.3 0.1 0.3 0.8 0.3 0.7-0.2 0.7 0.3 1 1.4 0.8 0.7-1 0.5-1.5-0.1-1.3 0.4 0.6 0.2 2.2 1.8 0.7 0.4 1.5-0.3 0.9 0 1.3 1.5-0.7 0.3-3.7-0.6-1.8 0.3 0 0.7 1.3 0.7 0.5 0.8 0.7 0.4 1.5 0.6 0.5 0.4-2 0.3-1.5-0.3-0.7 0.5 0 0.2 1 0.7 2.6 1.5 0.5 0.7-3.4 0.2-0.9 0.5 3.2 1.7 1.8 1.2-1.1 0.5-2.2 0-1 0.2 0.2 0.3 0.8 0.1 0.6 0.4 0.7 0.7-0.2 1.4-1.9 0.7 0 0.8 0.3 0.7 0.5 0.2 0.7 0.2 0.8 0.4 1.5 0.2 0.4 0.4-0.4 0.3-0.8 0.1-1.5-0.1-1.5-0.4-2.2-0.1-0.7 0.2 2.9 1 2.3 0.3 0.7 0.8 0.6 0.8-1.3 0.9-0.8 0-0.7-0.2-1.1 0 0.8 0.8 1.8 0.5 0.7 0.5 1.4 1.1-0.6 0.5-1.4 0.2 3.3 1.5 2.4 1.4-0.6 0.3-2.2 0-1.2 0.5 1.2 0.7 3.9 1.4-1 0.5-3.7 0.2 1.3 0.8 0.9 0.9 1.5-0.1 0.8 0.3 0.6 1-1.4 0.2-1.5-0.6-1.4 0.2-2.3-0.6-1.5 0.1-2.2-0.6-0.7 0.4-0.1 0.2 0.8 0.3 1.5 0.1 0.7-0.3 0.6 0.6 0.9 0.4 4.5 1 2.2 1 2.8 0.5-2 0.3-1.5-0.3-1.5 0.2-1.5-0.3-2.7 0.1 0.5 0.3 1.5 0.2 0.7 0.6 3.7 0.8 1.7 1-0.9 0.5-1.5-0.3-1.5 0.1-0.8-0.4-1 0.1 1 0.8 2.3 0.5 1.5 0 0.6 0.9 0.2 0.7-0.8 0.4-1.6 0.3 0.8 1.2 0.8 0.3 0.5 0.7-2.8 0.2-2.9-0.6-2.3 0.2-0.4 0.2 1.9 0.9 1.5 1.2-0.7 0.3-1.5 0.1-1.2 0.4 1.2 1.1 1.5 0.2 1.4 0.7 0.8-0.2 3 0.3 0.6 0.8-0.6 0.3-2.3-0.1-1.2-0.2-0.3-0.6-2.2 0.2-3.7-0.6-2.1 0.2 0.6 0.5zM74.3 347.1l-0.7-0.5 0-1.2 1.5-0.2 0.7 0.2 0.5 0.8-0.2 0.7-0.3 0.2-0.7-0.1zM83.3 339.2l-0.2-1 0.9-0.4 0.7 0 1 0.4-1.7 1.2zM110 325.5l-1.4-1.1-1.5 0-0.8-1.1-0.6-0.2 1.4-0.8 2.2 1.2 1.5-0.3 0.2 0.6-0.1 0.7-0.8 0.7zM153.2 329l-0.3-0.2 0.3-0.5 0.7 0 0.3 0.5-0.3 0.2zM61.7 330.3l-0.3-0.7 0.1-0.8-1.7-1.4 0-0.7 1.1-1.2 0.8 0.4 0.4 0.8 0 0.7-0.3 0.7 0.6 0.7 0.8 0.1 0.6 0.7-0.1 0.7-0.5 0.5-0.8 0.2zM49.8 358.5l-0.2-0.8 0.2-0.2 0.7 0.3 0.3 0.6-0.3 0.2zM55.7 360.8l-1.5-0.6-0.7-0.9 0.3-1.6-0.1-0.7-1.2-0.7 0.1-0.7 0.9-0.9 0.7-0.4 0.8-0.2 0.1-0.7 0.6-0.7 0.8 0.2 1 0.5 0.2 1.4 0.6 0.8 0.4 1.4-0.5 1.4 0.1 1.5-0.3 0.5-0.8 0.7-0.7 0zM60.2 376.6l-0.2-0.8 0.2-0.1 0.7 0.3 0.5 0.5-0.5 0.3zM60.2 437.1l-0.4-0.7 0.4-0.1 1 0.1 1.1 0.7-1.4 0.3zM58.7 443.7l-0.3-0.1 0.1-0.7 0.2 0 0.2-0.7 0.5-0.4 0.8 0.1 0.3 0.3 0.4 0.7-0.2 0.7-1.3 0.3zM66.9 324l-0.5-0.9 0.5-0.5 1.5 0 1.5 0.5-0.2 0.7-2.1 0.3zM67.6 474.1l-0.3-0.2 0.3-0.1 1 0.1-0.2 0.3zM67.6 508l-0.3-0.1 0.3-0.6 1.5 0.2 1.2 0.4-1.2 0.5-0.7-0.2zM73.6 331.6l-0.8-1.4-0.7-0.6-1.7-0.8-0.5-0.7 0.7-0.7 0.8-0.4 2.2 0 2.2-0.8 0.8 0.5 0.1 0.7 1.3 2.3 1.3 0.6-0.5 0.4-0.8-0.2-1.4 0.5-1.5-0.6-1.3 0.6zM64 502.8l0.7 0.7 0.7 0 1.4-0.7-0.8-0.7-0.6-0.3-2.6 0.3 1.1 0.5zM62 490.5l0.7 0-0.5-0.7-1.3-0.2-1.2 0.2 0.5 0.4 1.5 0.3zM60.1 486.9l0.8 0.3 0.8 0 0.4-0.3-1.2-0.2-0.7 0.2zM56.4 486.2l0.8 0.3 0.7-0.3-0.7-0.1-0.7 0.1zM56.8 483.3l1.2 0.4 0.9-0.4-0.9-0.1-0.8 0.1zM49.3 435.7l1.2 0.3 0.8 0 0.3-0.3-1.8-0.1zM50 432.8l0.5 0.4 0.8 0.1 1.4-0.2 0.6-0.3-1.3-0.2-1.3-0.5-0.8 0zM279.2 419.1l0.5 0.4 0.1-0.4 0.2-3.6-0.7-0.8 0-5-0.8-0.7-0.1-3.6-0.7-0.8-0.2-0.7-0.8 0.1-0.7 0.6 0.1 1.5-1.1 1.4 0.2 0.8 0.6 0.7-0.7 0.7 0.9 0.7 0.2 0.7-0.3 1.5 0 2.9 0.8 0.6 0.8 0.2 0.7 0.6 0.7 1.7zM276.7 410.6l-0.7-0.2 0.7-0.5 0.1 0.5zM49.4 407.5l1.1 0.5 1.2-0.5-1.2-0.3-0.7 0zM264.9 386.6l0.7 0.2 0.7-0.2 0.4-0.7-0.7-0.7-0.9 0-0.6 0.7 0.3 0.6zM263.7 380.1l1.1 0.6 0.6-0.6-0.1-0.7-0.5-1-0.7 0-0.8 0.9 0 0.2zM262.6 376.5l0.7 0.1 0.1-0.1-0.6-0.7-0.3 0zM254.7 375l0.4 0.4 0.8-0.5 2.2-0.8 1.5-0.9 2.2-0.6 1.5-0.9 0.3-1-4.1-3.6 0.1 0.7-0.4 0.7-0.3 0.2-0.8-0.7-0.7 0.5-0.4 0.8-1.1 1-0.3 1.9-0.5 0.5-1.5 0.1-1.4-0.4-1.4 0.5 0.6 0.8 1.5-0.2 0.7 0.3 0.8 1zM257.4 367.1l0.7 0.5 0.3-0.5-0.3-0.9-0.7-0.1-0.4 0.3zM252.7 366.4l0.9 0.2 1.5-0.1 1.5-0.8-2.2-2.2 0.7-0.5 0.1-0.2-0.8-0.9-0.7 0.2 0.7 1.4-0.8 0.7-2.2 0-0.4 0.7 0.4 1.3 0.8-0.1zM224.7 349.8l0.7 0.2 0.8-0.2-0.3-0.7-0.5-0.5-0.8-0.3-0.3 0.8 0.3 0.7zM222.9 347.6l0.4 0 0.6-0.4 0.1-0.3-0.1-0.2-0.8-0.4-0.5 0.6zM46.8 336.1l0.7 0.4 0.7-0.4 0-0.8-0.7-0.5-0.5 0.5zM40.1 332.5l0 0.2 0.7-0.5 0.8-2.3 2.8-1.8-0.1-0.7-1.1-1.4 0.6-0.5 0.8 0.2 0.7 0 0.8-0.4-0.4-0.8-0.4-0.2-1.5 0.8-0.7-0.1-1.7 0.2 0.2 0.4 1.1 0.4-0.5 0.7-0.6 0.2-1.5 0 0 4.8zM43.7 322.4l0.9 0.2 0.7-0.2 0-0.8-1.6-0.7-0.1-0.7-0.5-0.6-1.6 2 1.6 0.3zM45 316.6l1.1 0.3 0.7-0.1 0.7-0.2 0.5-0.7-0.5-0.4-2.2-0.2-0.7 0.4 0 0.2zM63.7 316.6l0.2 0.4 0.8 0.2 0.6-0.6-0.6-0.4-0.8 0.1zM65.5 315.9l0.6 0.5 0.8-0.1 0.1-0.4-0.9-0.2zM43.7 313.7l0.1 0.3 0.8 0.3 0.3-1.3-0.3-0.2-1.1 0.2z"/>
<path fill="#4854f5" d="M91.6 510.8l1.6 0.7 176.3 0 0.9-5.1 0.5-1.4 0.8-7.2 0.6-2.9 0.1-2.2 1.4-13 0.3-4.3-0.1-3.6 0.1-3.6-0.2-9.4-1.3-15.2-1.5-10.8-1.8-7.2-1-6.5-1.3-5.1-2.5-6.5-0.1-5.7-1.2-2.2-0.6-2.2-0.9-1.4-3.6-3.1-1.9-2.7-0.3-0.7-0.2-3.6 0.7-1.5 0.7-0.7-1.2-0.6-0.8-0.8 0-0.8 0.8-0.5 0.7 0 0.2-0.2 0.4-0.7-0.2-0.7-0.4-0.6-0.7-0.4-0.6 0.3-0.2 0.8-0.6 0.6-1.6-0.4-4.5-4-0.5-0.7-0.2-1.5-1.8-0.6 0-2.2-1.3-2.9 0.1-0.7-1.5-1.7-0.7-0.4-0.8 0.3-0.3 0.4-0.2 1.4-0.2 0.4-0.7-0.5-0.8-1.3-0.6-2.2-1-0.7-0.3-1.5-0.5-0.7 0.9-1.4 0.2-0.8 0.8-0.7-0.2-0.5-0.8 0.3-0.7 0.1-0.4-0.6 0-0.7 0.4-0.4 0.8-0.3-0.2-0.8-0.6-0.5-1.5-0.4-0.6-0.5 0.2-0.7-0.4-1.6-2-0.6-0.9-1-1.2-0.4-0.2-0.8-0.9-0.9-0.7-0.1-0.7-0.6-0.8 0.2 0 0.7 0.2 0.7 1.3 2.9 1.4 1.5 0 0.7 0.8 0.5 0.8 0.9-0.1 0.8-0.7 0.4-1.5 0.3-1.4 0.8-0.8-0.1-3-1.4-0.7-0.7-1.2-1.5-1.8-3.3-1.5-0.3-0.7-0.3-1.5 0-0.5-0.4-0.3-0.8-0.7-0.8-0.7-0.1-0.3-0.5 0.3-0.7-1.1-2.9 0.5-1.5-0.9-0.1-0.8-0.8-1.5-0.1-0.7-0.7-1.5 0.2-0.7-0.7-1.5-0.1-0.8-0.8-2.2 0.1-0.7-0.6-1.5 1-0.8-0.4-3-0.2-1.2-1.1-0.2-0.7-0.8-0.9-2.2 0-0.8-0.7-2.2-0.1-0.7-0.8-1.5 0.1-0.8-0.6-0.7 0.3-1.5-0.3-0.5 0.1-0.2 0.2-0.6-0.2-0.2-0.9-1.2 0.2 0.6 1.4-1.6 1.2-0.7-0.5-0.5-1.4-1.1-1-0.7 0-0.5 0.3-0.2 0.6-0.8 0.6-1.5 0.2-1.5-0.8-0.7-0.1-0.8-0.4-0.7-0.9-0.7-0.1-3 1.1-0.8-0.2-1-0.7-0.8-2.2-0.6-0.7-1.3-0.2-0.7 0.7-0.8 0.1-0.7-0.3-1.6-1.8-2.9-0.4-0.7-0.6-4.5 0.3 0.8 0.3 1.4 0 0.7 0.4 0.1 0.7-0.8 0.6-0.7 0.1-1.5-0.4-1.3 1.2 0.3 0.7 0 0.7-0.5 0.4-0.7-0.1-0.4-0.3-0.6-1.4 0.2-0.9 0.8 0.2 0.7-0.1 0.6-1.4 0-0.7-0.8-0.7-1.3-0.1-2.9 1-0.8 0.1-0.6-1 0-0.7-0.9-0.9-3.7 0.1-0.7-0.7-0.8-0.1-1.3 0.1-1.7 0.7-0.4 0.8 0 1.4-0.3 0.4-0.8-0.4-1.3-1.4-1.6-0.8-3 1-0.7 0.4-0.8 0.8-1.2 0.7-1.8 0.3-1.5 1-1.4 0.1-1.2 0.8-0.5 0.7 0.2 0.9 0 1.3-1.5-1.3-0.8 0-0.2 0.6-0.5 0.3-0.7-0.1-0.2-0.2 0.5-0.8 0.1-0.7-0.6-0.7-0.2-0.7-0.4-0.5-0.7 0.2-2.3-1.6-1.5 0-0.7-0.3-0.9-0.7-0.6-1.3-0.7-0.2-1.5-1.6-1 0.9 0 0.7 0.4 0.8-0.2 0-0.7 0.2-0.8-0.2-0.7-0.8-0.7-0.4-1.5 0.9-0.7 0.3 0.7 0.8 0.2 0.6-0.2 0.7-1 1.5-1 2.9-0.1 0.7 0.5 2.1 0.9 0.8 1.6 0.7 0.9 1.4 0.9 0.8 0.2 0.7-0.6 0.7 0.6 0.4 0.7 1 0.2 0.8-0.5 0.7-0.8 0.7-0.7 1.4-0.3 0.3-2.3 0.3-0.7 0.2-0.7-0.8 0.7-0.7 0.1-0.7-0.2-0.7-0.8-0.7-1.4-0.3-0.7-0.6-2.2-0.9-0.5-0.4 0.2-1.4 0.5-0.8-0.8-2.1-0.8-0.8-1.6-2-0.4-0.8-0.1-0.8 1.6-2.9 1.5-0.7-0.2-1.4 1.7-1.5 2.6-1.4 0.5-0.7-0.1-0.7-1.6-2.2 1-1.5-1.3-0.2-3-0.1-0.7-0.6-3.7 0.1-1.1 0.1-0.6 0.7-1.3 0.7-1.5 0.7-0.7 0.1-0.8-0.8-2.2-1.1-0.8-0.6-0.7-0.1-1.5 0.2-0.7-1.3-2.3 0.1-1.5-0.5-0.7 0.1-1 0.4-1.2 1.8-1.5 0.8-1.5-0.3-0.8 0.7-0.7 0.3-1.5-0.6-0.5 0.2-0.3 0.7 0.3 0.7-0.1 0.7-0.6 0.8 0.1 0.7 1.1 0.7-0.1 0.7-0.6 0.5-0.9 0.2 0.9 2.2 1.5-0.1 0 0.1-0.6 0.7 0.3 2.2-0.5 0.6-1.5 1.1-0.6-0.3-0.3-0.7-0.8-0.7-0.3-1.5-1.5-0.7-1.7-1.1-0.2-0.3 0.2-0.4 0.8-0.2 0.7 0.3 0.7-0.1 0.4-0.3 0.3-0.8-0.1-0.7-1-0.7-0.4-0.7 0.1-1.5 0.5-2.1 0.5-0.8-1.6-1.4 0.1-0.7 0.4-0.7-0.6-0.5-0.8-0.2-0.7 0.2-0.6-0.3-0.5-0.7-1.9-0.2-1.5-0.6-1.3 0.1 0.3 1.4-0.2 1.5 1.1 0.7 0.3 0.7-0.5 1.5 0.3 0.7 1 0.7 0.4 0.7-0.2 0.8-0.5 0.7 0.1 0.7 1.4 1.7 1 0.5-0.5 0.7-0.7 2.1-0.5 0.2-0.6-0.2-0.9-0.7-0.2 0.7-0.5 0.8 0.7 1.4 0.7 0.5 1.5 0.2 1.5-0.3 0.8 0 0.7-0.4 0.8-1 0.7-0.2 0.6 0.5 0 0.7 0.8 0.7 0.3 0.8-1 0.5-0.5 0.9 0.5 0.7 0.8 0.4 0.7 0.6 0.8 0.2 1.5-0.7 0.7 0.1 1.3 0.9 0.9 1.1 0.5 0.3-0.1 0.7-1.1 1-0.7 0.3-0.8-0.3-0.2 0.5-0.1 0.7 1.5 2.2 0.3 0.2 3 0.9 0.7-0.1 0.3-0.3-0.1-0.7 0.6-0.8 2.9 0 1.5 1.8 0.6-0.3 0.1-0.7 0.8-0.2 0.8 0.5 0.8 1.1-0.4 0.7 0 0.7 0.4 1.5-0.4 0.7-0.4 0.4-1.6 0.3-0.7 1.4-0.7 0.9-1.5-1.5-0.7-0.2-0.3-0.6 0.8-0.7-0.3-0.7 0.5-0.7 0-1.2-2.2-0.7-1.5 1.3-0.8-0.7-0.7-0.1-0.8 0.6-1.4 0.3-2.3 1.9-0.7 0.3-3.7-0.4-1.2 0.1-0.7 0.7 0.4 0.6 1.5 0.2 0.7 1.4-0.7 0.3-2.1 0.4 1.3 0.8 4.5 1.4 0.8 0.7-1.7 1.5 0.1 0.7-0.3 0.7 0.6 0.7-1.2 0.7 0.9 0.8 0.4 0.7-0.1 0.7-1.6 0.7 0.1 2.2-1 0.5-0.9 0.2 0.7 1.5 2.1 1.4-0.4 0.4-1.4 0.3 0.6 0.2 1.5 1 0.8 0.2 0.7 0.2 1.5-0.1 1.5 0.4 0.6 0.3 1.6 1.4 2.1 0.8-0.6 0.3-0.7 0.2-1.5-0.3-0.8 0.5 0.8 0.6 1.5 0.1 1.4 1.4-1.4 0.4-1.5-0.1-1.1 0.5 0.3 0.8 1.5 0.5 0.8 0.5 1.5 0.1 0.7 0.4 0.4 0.6-1.3 0.7-0.4 2.1-0.9 0.4-0.8-0.2-0.7-0.5-1.9-0.4-1.3-0.7-0.5-0.8-0.8 0.4-1.4 1.1 0.7 1.2 1.5 0.7 0.9 1-1 0.7 1.6 1 1.4 0.3 1 0.9-1.3 1.4 0.9 1.5-1.3 0.5-1.5 0-0.5 0.2 0.9 0.7 0.4 0.7 0.7 0.7 0.7 0.1-4.3 0.7 3.6 1.4 4.5 0.8 1.2 0.7-1.2 0.5-0.8 0-0.7-0.3-1.5-0.3-2.2-0.1-1.5 0.1-0.8-0.1-0.7-0.5-1 0 0.2 0.7 0.8 0.1 1.5-0.1 0.7 0.4 1.1 1.7-1.4 0.8 1.1 1.4 0.7 0.1 1.3 0.6-2 0.4-0.9 0.4 1.6 0.6 1.5 0.9 2.2 0.4 1 0.9-1 0.4-0.7-0.1-0.8 0.2-0.5 0.3 2.8 2.1-2.7 0.7 1.2 1.2 1.9 1-1.9 0.4-2-0.4-1.2 0 0.8 0.7 1.6 0.6 1.5 1.1 1.3 0.5-0.5 0.3-3.8 0.2-0.4-0.5-1-0.3-0.8-0.1-0.7 0.4 0.7 0.5 2.2 0.5 2.5 1.2 2 0.5 1.5 0.1 3 1 2 1.3-0.5 0.3-1.5 0.2-1.5-0.2 0 0.5 2.2 0.5 0.7 0.8 0.4 0.7-0.3 0.5-0.8 0.2-2.2-0.4-0.3-0.3-2.7-1.1-1.5-0.1-0.7-0.5-0.8-0.2-1.5 0-1.2 0.5 2.7 1.9 1.5-0.3 1.5 0.4 1.5 0 2.2 0.8 1.6 1.5-0.8 0.4-2.3-0.1-0.3 0.5 1.1 0.8 2.2 0.8 0.8 0.5 2.3 0.7 0.7 0.8-0.1 0.2-0.7 0.2-1.5 0.1-0.6 0.2 2.1 1.1 1.5 1.8-0.8 0.2-3.7-0.6-1.5-0.5-2.2-0.2-0.1-0.4-0.6-0.1-1.3 0.1 3.5 1.2 1.5 0.7 1.5 0.3 1.3 1.4-0.6 0.5-0.7 0.2-2.3-0.3-0.7 0.4 0.3 0.7 0.8 0.7 1.1 0.3 0.8 0 0.7 0.3 1.1 0.8-1.1 0.3-0.9-0.3-0.6-0.3-3.7 0.1-0.5-0.5-1-0.3-0.7 0-0.9 0.3 1.6 0.9 1.5 0.1 1.5 0.4 2.2 1.6 1.4 0.6-0.6 0.2-2.3 0-3.7-0.7-0.4 0.5 1.2 0.7 3 0.8 1.4 1 1.9 0.4 1.1 0.7-0.8 0.4-3-0.4-0.8 1.5 0.1 0.4 1.5 0.1 1.2 0.9-1.2 0.7-1.5-0.3-0.8 0.4 0.8 0.5 1.5 0.2 2.2 1.4 1.6 0.7-0.1 0.2-0.7 0.2-3.1 0.4 1.6 1.7 1.5 1.1-0.8 0.4-2.9 0.1-0.3 0.3 1 0.4 1.5 1.2 3.7 1.2 1.6 0.8-1.6 0.4-1.5-0.3-0.8 0.6 0.8 0.5 1 0.2 1.3 1.3 1.7 0.2 0.7 0.7-1.7 0.3-1.5-0.4-0.7 0.4-0.6 0.4 1 1.5 1.1 0.8 0.3 0.6-0.3 0.2-2.3-0.1-1.2 0.6 1.2 1.6 2.3 0.8 1.5-0.2 0.7 0.1 0.9 0.6-0.2 0.2-1.4 0.3-2.3-0.3-2.2 0-0.4-0.2-1.8-0.2-1.2 0.2 3.4 1 1 0.5 1.2 1 0.8 0.1 2.2-0.1 2.1 1.1-0.6 0.7-2 0.8 0.2 0.7 0.3 0.5 2.2 0 2.1 1.6-0.6 0.4-4.4-0.6-2.3 0-0.6 0.2 2.9 1.6 1.4 1.3 0.3 0-2.5 0.3-0.5 0.5 2.8 2.1-0.8 0.4-0.7 0-0.8 0.3 0.6 0.8 2.4 1.5 2.2 0.2 1.4 0.4-0.6 0.6-0.8 0.1-0.7-0.3-1.5-0.2-1.5 0.3-0.7-0.1-0.4-0.4-0.4-0.1-2 0.1 1.9 0.8 1.6 0.1 0.7 0.3 1.5 0.9 2.3 0.7 0.7 0.4 0.8 0 1.4 0.4-1.4 0.4-3-0.5-3 0.1 0 0.1 0.7 0.4 3 1.3 1.5 1.1-0.7 0.4-0.8 0-3-0.4-1.5 0 2.3 1.7 2.2-0.3 5.2 2 1.5-0.4 0.8 0.2 1.4 1.2-0.7 0.2-1.5-0.1-1.5-0.7-2.9 0.1-1.5-0.7-2.3 0.1-0.7-0.4-0.8-0.2-2.6 0.2 1.9 0.3 0.2 0.4 0.5 0.3 5.3 1.1 1.4 0.7 2.3 0.5 2.9 0.3 1.1 0.7-1.8 0.5-2.2-0.6-3.7-0.3-1.5-0.4-1.5-0.1-1.1 0.2 1.1 0.8 0.7 0.2 4.5 0.7 0.7 0.7 0.8 0.3 0.7 0.1 1.2 0.8-0.4 0.3-2.3 0.1-0.3 0.4 0.3 0.6 1 0.8 0.3 0.7-2 0.2-1.5-0.5-1.5 0.3 0.9 0.7 1.3 0.6 1 0.9-0.3 0.7-0.7 0.1-0.7 0.6 0.7 0.6zM112.3 338.9l-0.3-0.7 0.3-0.1 0.4 0.1zM113 331.8l-0.7-0.3-0.4-0.5 1.1-1.3 0.8 0.4 0.1 0.2-0.6 1.4zM162.1 334l-0.1-0.1 0-0.7 0.1-0.3 0.8-0.3 0.7 0.6-0.2 0.7-0.5 0.3zM200.1 340.7l-0.3-0.3 0.3-1.2 0.7 0.1 0.3 0.4-0.3 0.7zM233.6 355.2l-0.6-0.4 0.6-0.4 0.4 0.4zM66.9 324.8l-1-1-0.2-0.7 0.4-0.8 0.8-0.4 1.5-0.4 1.5 0.3 0.7 0 0.4 0.6-0.4 1.5-0.7 0.9-1.5-0.2-0.8 0.1zM72.8 332.5l-0.4-0.8-0.2-1.4-1.1-0.7-1.2-0.4-0.6-0.4-0.1-0.7 2.2-2.1 1.4 0.1 0.8 0.2 0.7 0 0.8-0.4 0.7-0.1 0.8 0.1 0.6 0.8 0.1 0.7 0.9 1.4 0.6 0.6 1.2 0.2 0.2 0.7-0.7 1.4-0.7 0.1-0.8-0.4-0.7 0.8-0.7 0.3-0.6-0.8-0.9-0.7-0.6 0.7-0.2 0.8-0.7 0.2zM64.7 358.1l-0.5-0.4 0.5-0.5 0.8 0.5-0.1 0.2zM66.9 356.4l-0.7-0.8 0.7-0.3 1.5-0.1 0.8 0.4-0.2 0.7-0.6 0.4-0.8 0.1zM66.9 393.2l-0.7-0.8 1.4-0.2 1.5 0.3 1.1 0.6-0.3 0.4-2.3-0.2zM70.6 414.1l-0.3-0.1 0.3-0.5 1.2 0.5-0.4 0.1zM78 334.1l-0.2-0.2 0.2-0.4 0.8-0.4 0.2 0.1 0.2 0.7-0.4 0.3zM82.5 339.7l-0.2-0.7 0.2-1.5 0.8-0.6 0.7-0.2 0.7 0.1 2.9 1.4-0.1 0.8-0.5 0.3-1.5 0-1.5 1-0.7-0.1zM84 459.6l-0.2-0.1 0.2-0.2 1.5-0.3 0.7 0 1 0.5-1 0.6-0.7 0.1-0.8-0.2zM85.5 470.5l-0.5-0.2 0.5-0.3 0.7-0.1 1.7 0.4-0.9 0.4-0.8 0zM87 474.1l-0.4-0.2 0.4-0.3 1.4 0.3-0.7 0.1zM88.5 484.3l-0.5-0.3 0.5-0.4 1.3 0.4-0.6 0.4zM90.7 344.5l-0.7-0.5 0.8-0.7 0-0.7 0.6-0.7 1.3 0.7 0.1 0.7-0.3 0.7-1.1 0.6zM91.4 474.8l-0.3-0.1 0.3-0.4 1.9 0.4-1.1 0.1zM70.6 321l-0.2-0.8 0.5-0.7 0.5-0.4 1 0.4 0.1 0.7-0.4 0.7-0.7 0.5zM74.3 320.4l-0.5-0.9 0.5-0.5 0.8 0.4 0.6-0.7 1 0-0.1 1.2-1.5-0.3-0.4 0.6zM75.1 322.5l-0.2-0.9 0.2-0.6 0.7-0.6 0.8 1.2-0.8 1.2zM64.7 352.1l-0.5-0.2 0.5-0.3 1.4-0.1 0.5 0.4-0.5 0.3-0.7 0zM69.1 391.2l-0.7-0.6-1.3-0.4 0.5-0.6 3.8-0.4 0.7 0.1 1.5 1.6 0 0.6-3.7-0.2zM74.3 400.4l-3.2-0.8 0.3-0.6 1.4 0 3 0.9 0.5 0.4-1.2 0.2zM86.2 357.3l-1.1-1 1.1-1.3 0.8-0.2 0.7 0.4 0.8 0.1 0.7 1 0 0.8-0.7 0.3-1.5 0zM72.8 354.2l-1.4-0.5-0.5-0.3 1.2-1 3 0.8 0.2 0.9-1 0.2-0.7 0zM73.6 396.8l-0.7-0.1 1.8 0-0.4 0.5zM75.1 397.5l-0.2-0.1 0.2-0.1 0.7-0.1 0.5 0.2-0.5 0.2zM87.7 353.8l-0.6-0.4 0.6-0.3 0.9 0.3-0.1 0.6zM88.5 342.7l-0.2-0.1 0.2-0.3 0.7 0 0.5 0.3-0.5 0.5zM78.9 473.9l2.9 0.7 0.4-0.7-2.2-0.7-0.7 0zM75.7 466.7l0.9 0.2 0.2-0.2 0-0.7-1.7-0.2-0.3 0.2 0.3 0.3zM69.1 430.6l0.1 0 0.2-0.7-0.3-0.1-1.5-0.2-0.8 0.3 1.6 0.7zM73.3 428.5l1 0.4 0.8 0 0.4-0.4-1.9-0.5-0.2-0.3-0.6-0.2-0.7-0.1-1.2 0.3 1.2 0.5 0.7 0zM62.7 422.7l1.2 0.5 1.5-0.2 0.5-0.3-2-1-0.7-0.1-0.8 0.3 0 0.3zM69.8 419.1l2.3-0.6 0.7 0.2 0.6-0.3-2-0.3-0.8-0.6-3-0.8-0.9 0.2 1.7 0.8 0.7 1.1zM279.3 418.4l0.4 0.5 0.1-0.5 0.1-2.9-0.7-0.8 0.1-1.4-0.3-2.9 0.1-0.7-0.7-0.7-0.2-3.7-0.6 0.1 0.6 0.7-0.3 0.7-0.7 0.7 0 0.7 0.9 2.2-0.9 1.5-0.3 1.4 0.3 1.4 1.3 1.5 0.5 1.4zM57.9 389.5l0.2 0 0.3-0.7-1.2-0.3-0.7 0.3 0.7 0.5zM56.3 385.9l1.7 0.5 0.7-0.1 0.4-0.4-1.1-0.4-1.5 0.2zM56 380.1l0.5 0.2 0.7-0.2 0-0.7-0.7-0.5-0.8 0.4 0 0.4zM64.9 378.7l0.5 0.4 0.7-0.2 0.2-0.2-0.9-0.2zM260.5 372.2l0.6 0.1 0.7-0.3 0.8-0.6 0.7-0.3 0.1-0.4-0.8-0.8-0.8 0.1-0.7 0.3-0.7 1.1zM258.8 370l0.8 0.3 0.5-0.3 0.4-0.7-0.9 0.1-0.7 0.5zM55.6 367.1l0.9 0.6 0.3-0.6-1.1-0.1zM253.1 365.7l0.5 0.2 0.8-0.1 0.2-0.1-0.2-0.8-1.3 0zM244.5 357.7l1 0-0.8-0.3zM242.3 356.3l0.9 0.2 0.7-0.2-1.4-1.4-0.8 0.5 0 0.2zM238.2 353.4l0.6 0.3 0.7-0.3-0.7-0.9-0.8 0-0.2 0.2 0.2 0.4zM50.2 342.6l0.3 0.3 0.8-0.9 0.7-0.5 0.7 0 0.8-0.3 0.2-0.8-0.2-0.6-0.8 0-1.4 1.1-0.7 0.2-0.5 0.7zM49 333.2l0.8 0.5 0.7 0 0.8-0.5-0.2-0.7-0.6-0.2-0.7 0.2-0.8 0.7zM40.1 331.7l0 0.2 0.2-0.2 0.4-0.7-0.1-0.7 0.5-0.7 1.2-1.4 0.5-0.1-2.7-0.4 0 3.3zM110.7 326.7l0.8 0.5 0.8 0 0.5-0.5 0.1-1.5 0.9-1.5 0.7 0.1 0.8 0.6 0.7 0.1 0.8-0.7 0.7-0.9 0.7-0.1 0.2 0.3 1.3 0.5 1.5 0.2 0.2-0.7-0.5-0.7-1.2-0.4-3 0.3-2.2-0.5-1.5 0.4-0.7 0.5-0.7 1.1-0.1 0.7-0.9 1.5zM100.3 323.1l0.2 0 0-0.7-0.7 0zM107.8 322.4l1.5 0.6 0.7-0.1 1.5-0.7 1.1-1.3-0.3-0.1-2.3-0.1-0.7-0.5-2.2-0.2-2.3 0.1-0.7-0.2-0.9 0.3-0.4 0.7 0.1 0.7 0.4 0.2 1.5-0.1 0.8 0.4 1.5-0.1 0.7 0.4z"/>
<path fill="#3e6fff" d="M108.2 510.8l1.8 0.4 0.6-0.4-0.6-0.3-1.4 0zM118.3 510.8l0.8 0.7 135 0 0.3-0.6 1.5-0.8 1.5-1.5 1.5-1.7 0.7-1.2 0.5-2.9 1.3-1.4 0.3-0.8 0.6-2.1 3-7.2 1.4-5.1 1-2.9 0.6-2.9 2-6.5 1.3-10.8 0.1-8.7-0.4-7.9-1.8-13.7-1.8-9.4-1.1-5-1.1-3.7-0.4-2.1-2-5.1-0.2-2.9-0.9-2.8-2.4-3.4-0.7-2.4-0.9-1.5-2.1-2.8-1.2-2.2-0.7-5.1-1.7-3.6-1.6-2-1.8-0.9-2.7-3.4-1.5-0.9-0.5-0.7-0.3-1.5-0.5-0.7 0.6-1.5-0.8-0.4-2.2 0.2-1.1-0.5-1.1-1.3-0.8-0.5-0.2-0.3 0.3-0.7-0.1-1.3-0.7 0-0.7-0.2-0.1-0.7 0.3-0.7 0-0.7-0.9-0.8-0.3-1.4-0.6-0.5-1.4 0.1-1.1-0.3 0.2-0.8 0.6-0.7-0.3-0.7-0.9-0.4-0.8 0.1-1.5 0.4-1.4 0.8-0.8 0-1.5-0.6-1.7-1-2-2.5-1.6-1.1-0.3-1.5-0.3-0.2-0.8-0.2-1.5-0.7-0.7 0-0.7-0.3-0.8-1.3-0.3-0.2-2.7-0.7-0.1-0.7 0.1-0.3 0.8-0.4 0.3-1.5 0-0.7-0.4-0.7 0.2-1.5-0.9-0.8-1.5-0.2-0.7-0.6-2.2 0.5-0.7-0.3 0.1-0.7-0.9-0.1-0.8-0.9-2.2 0.2-0.7-0.2-1.2 1-0.3 0.9-1.5 0.8-0.8 0.2-0.2-0.5 0-1.4-0.5-0.6-1.5-0.7-1.5-1.6-0.7 0.2-2.3-1.7-2.2-0.1-0.7-0.9-1.5 0.2-0.8-0.6-0.7 0.6-0.8-0.2-0.7 0-0.3 0.3-1.2 0.3-0.7 0.3-1.5 1.3-1.1-0.4-0.6-2.2-0.6-0.8-0.8 0.1-0.6 1.3-1.5 1.4-0.8-0.1-0.2-0.5-0.6-0.7-0.7-0.5-1.5-0.4-0.7-0.9-0.7-0.2-1.6 0.6-1.9 1.4-1 0.3-0.7-0.3 0.1-0.7-0.1-0.7-0.8-0.1-0.7 0.8 0.1 0.7 0.9 0.7-0.4 0.8-0.6 0.2-0.6-0.2-1.9-1.5-0.5-0.3-0.8 0.1-0.3-0.5 0.9-1.4-0.3-2.2-0.2-0.7-1.3-1.5-2.5-0.3-0.7-0.7-1.5 0.3 0.4 0.7 0.1 0.7-0.5 0.4-0.8 0.5-1.4 0.4-0.8 0.5-0.2 0.4 0.1 0.7 1.1 0.8 0.4 0.7-0.6 0.4-0.8 0.1-1.5-1.2-1.5-0.4-0.3-1.1-0.6-0.7 0.2-0.9 0.7-0.6 0.8 0 0.8-0.7-0.1-0.7-0.7-0.6-0.8 0-1.5 0.5-1.4 0.8-0.8 0.2-0.7-0.6-0.8-0.9-0.3-0.1 0.3-0.3 0.2-0.4-0.2-0.8-2.8 0 1.4 1.5-1.6 0-2.2-2.2-0.8 0-2.1 1.5-0.1 0.7 0.3 0.7-0.4 0.7-0.6 0.3-2.2-0.9-0.8-0.9-0.7-0.5-0.8 0.3-1.5 0-0.7 0.3-1.7 1.4-2.8 0.6-0.9 0.9-2 0.4-1 1 0.5 2.2-1 1.4-1.5-1.7-0.8 0.1-0.7 0.5-0.7 0.1-0.8-0.9-0.7-0.5-1.5 0-1.4-1.2-0.3-0.7 0.2-0.7-1.5-0.3-1.5 0.3-0.1-0.8 0.7-0.7-0.2-0.7-1.1-1.4-0.8 0.2-0.7 0.6-2.3-0.4-1.4-0.7-0.6 0.3-0.1 2.1-1.3 1.5-0.4 1.4-0.6 1.5 0.2 2.1 0.5 0.8 1.5 0.7 1.5-0.1 0.7 0.1 0.4 0.7 0 1.4 0.5 0.8 0.2 0.7-0.4 0.7 0.6 1.4 0.3 1.5-0.9 0.7-0.4 0.7-0.6 1.5-0.4 0.2-2.1 0.5 0 0.7-0.9 0.9-0.7 0.2-0.7-0.4-0.8-0.8-0.8 0.5-0.7 0-0.6-0.4-0.6-0.7 0.1-1.5-1.1-0.3-0.7 0.3-0.3 0.8-0.1 0.7-0.4 0.5-1.5 0.7-1.2 0.2 0.5 0.3 0.7 1 1 0.9 1.2 0.3 0.9 0.4-0.9 0.5-0.7 0.1-0.8-0.8-0.7 0-0.5 0.9 0.5 0.3 1.5 0 0.2 0.5-0.1 0.7-0.3 0.7-1 0.7-0.3 0.8 0.2 0.7-0.3 0.7-3.6 2.6-2.3 0.3-2.1-0.7-0.5-0.8 0.2-0.7 0.9-0.7-0.6-2.2 0.1-0.7 0.4-0.7-1.8-1.5 0.5-0.5 1.5-0.6 0.1-0.3-0.7-0.7-0.1-0.7 0.5-0.8 0.7-1.4-0.6-0.7 0.1-0.8 1.4-1.2 0.8-0.1 0.5 1.3 0.6 0.8 0.1 1.4 0.4 0.7 0.6 0.4 1.4-0.4 0.2-0.7-0.6-0.7-0.3-0.7 0-1.5-0.5-0.7-0.9-0.7-0.8 0-0.7-0.7 0.7-1.3 0.8-0.1 0.7-0.7 1.5 0.7 0.3-0.1 0.1-0.7-1.1-0.6-0.8 0.5-2.2-0.1-1.5 0.9-2.2-0.5-0.4-0.2 0.2-1.4-0.1-0.8-1-0.7 0.4-0.7 0.9-0.7 1.4-0.8-1.4-0.5-1-0.9 1.7-1.2 0.8-1.2 0.7 0 0.4 0.2 1 2.2 0 2.2 0.7 0.7 1.9 0.7 1 0.7 0.2 0.4 0.8 0.2 1.2-0.6 0.7-0.7-0.2-0.7 0.1-0.7-0.4-0.3-0.7 0.3-0.2-0.8 0.1-1.4-1.2-2.2 1.3-1.4 0.7-2.2 0.8-0.2 0.4-0.5 0.1-0.7 0.2-0.4 3-2.2 1.5-0.8 0.1-0.9-1.7-2.2 1-1.5-0.2 0-3.7-0.2-0.7-0.5-4.1 0-0.1 0.7-1.8 0.6-1.4 0.9-0.8 1.3-0.9-0.6-1.2-1.4-1.6-0.7-0.8-0.8-0.7-0.2-0.9 0.2-0.6 0.7-0.4 2.2 0.1 0.7-0.2 0.8-1 1.1-0.7 0-0.8-1.7-0.7-0.8-1 0.6-0.2 0.8-0.6 0.7-0.3 0.7 0.4 0.7 1.7 1.3 0.7 0 1.5-0.4 0.8 0.2 0.6 0.4 0.7 0.7 0.1 0.7 0.8 0.9 0.7 0.5 0.8-0.2 0.8 0.2 0 0.8-0.8 2.1 0.2 1.5-0.3 0.7-0.9 0.7-0.5 0.8-0.8-0.1-1.4-1.5-1.5-0.9-2.3 0.1-0.8-0.5-1.4-2-1.5-0.4-1.1-0.5-0.1-0.8 0.5-0.2 0.1-0.5 0.6-0.7 0.5-1.4-1.2-0.8-0.8 0-0.7 0.4-1.2 1.1-0.2 0.7 0.1 1.4-0.6 1.5-0.4 0.7-1.1 0.7-0.2 0.8 0.1 0.7 1.3 1.4 1.4-0.4 0.9 0.4-0.2 1.5 0.8 0.8 0.8 1.3 1.1 0.8-0.8 0.7-0.4 0.7 0.1 0.2 1.5 0 1.5 0.3 0.7 0 0.8-0.5 0.7-1 0.7-0.3 2.3 0.8 2.2 0.2 1.6 1-0.7 2.2-0.1 0.7 0.2 0.7-0.3 0.7-1.8 2.9-0.4 0.6-0.4 0.2-0.5 0.7 0.7 1.4-0.5 0.7-0.1 0.8 0.6 1.4 0.1 0.7-1.4 0.3-3 0-0.7 0.3-1 0.9-1.1 0.7-1.1 2.2-0.5 0.3-1.4 0.4 1.5 1.4 0.2 0.8-0.3 0.2-2.3 0-2.2-0.6-1.5 0.1-0.9 0.3 0.2 0.7 0.7 0.1 2.3 1.3 0.4 0.7-1.9 0.6-0.2 0.2 0.5 0.7 0.4 0.2 2.2 0.2 0.8 0.5 2.6 1.2 1 0.8-1.4 0.3-0.7 0.4 0.7 0.4 2 0.3 0.1-0.7-0.2-0.7 4.1-0.9 0.6-0.6 1.6-0.9 0.7 0 1.1 0.9-1.1 0.6-2 0.1 0.6 0.6 0.7 0 0.7 0.2 0.8 0.7-0.3 0.7-2.7 0.3-0.8 0.4 1.1 1.5 1.2 0.7-0.7 0.4-2.2 0.3 0.2 0.7 0.5 0.4 0.7 0.2 0.8-0.1 1.1-0.5-0.3-0.7 0.6-0.4 0.8 0.3 0.2 0.1-0.9 0.7 1.8 2.2-2.6 0.4-0.7-0.1-0.8-0.6-1.5-0.2-1.5 0.2-0.6 0.3 0.6 1 1.5 0.7 0.8 0.2 1.5-0.1 1 0.4-4 0.5-0.4 0.2 1.1 1.1 0.8 1.1 0.3 1.4 1.9 1 3 0.8 0.7 0.4 0.5 0.7-1.2 0.5-1.9 0.2 1.1 0.8 1.6 1.4-0.8 0.3-1.5 0-1.5-0.5-1.4 0.2-0.1 0.7 0.3 0.7 0.5 0.6 0.9 0.1-2.5 0.8 0.9 0.7 2.1 1 2.3 0.7 0.6 0.5-0.6 0.6-2.6 0.1 1.8 0.1 0.5 0.6 1.4 0.7 0.8 0.7 0.3 0.6 0.8 0.2-0.8 0.1-0.7 0.6 0.7 1.5 0.8 0.7-2.4 0.7 1.6 1.5 0.8 0.3 1.4 0.1 1.8 1-1.8 0.2-0.9-0.2-0.5-0.5-1.5 0.1-3.8-0.5-0.8 0.1 0.8 0.7 0.8 0.2 1.9 1.3-0.9 0.7-0.1 0.7 2.1 1 1.5 0.5 1.4 1.2 1.8 0.2 0.7 0.8-2.4 0.7 0.7 0.2 1.1 1.2 2.4 1.5-0.5 0.3-0.8 0-1.1 0.4 1.2 0.7 1.3 1.5-0.6 0.3-3 0.2-0.7-0.5-1.5-0.3-0.8-0.5-0.7-0.2-1.1 0.2 1.8 0.9 3.7 1 0.9 1 1 0.7-0.4 0.3-1.5 0-0.9 0.5 1.7 1.5 0.8 1.4-2.2 0.7 0.8 0.7 2.1 0.6 2.5 1.6-1 0.3-0.8 0-0.7 0.4 2.7 2.9-2 0.5-0.3 0.2 2.5 1.9 0.8 0.3 1.5-0.2 0.9 0.2 1.4 0.7 0.6 0.7-0.7 0.3-5.9-1.5-0.8-0.1-0.7 0.3-0.2 0.3 0.9 0.4 2.2 0.6 1.4 1.1 1.9 0.8-1 0.5-0.8 0-0.7-0.2-1.6 0.4 2.3 0.9 1.4 1.3 1.3 0.7-1.2 0.3-0.7 0-0.8-0.1-0.7-0.4-1.5-0.2-0.9 0.4 0.9 0.6 1.5 0.4 6.3 2.6-0.4 0.3-2.9-0.1-1.5-0.5-2.3-0.2-0.1-0.2-2.6-0.8-1 0 1.5 1.6 0.8 0.2 1.4-0.1 2.3 0.8 2.2 0.3 2.7 1.6-1.2 0.7-0.8 0.1-0.5 0.6 0.5 0.8 0.8-0.3 0.7 0.3 0.7 0.7 1.4 0.7 0.6 0.7-1.2 0.2-1.5-0.6-2.2-0.1-0.7-0.3-1.5-0.1-0.3 0.2 1.8 0.2 0.3 0.5 1.6 0.7 2.5 1.7 1.3 0.5-2.8 0.4-0.7 0.3 2.4 2.2-2 0.7-0.1 0.7 2.1 2.2-0.9 0.6-1.5-0.2-1.7 0.3 2.4 0.3 0.8 0.8 0.7 1.5 0.8 0.3-1.9 0.7 0.4 1.1 0.7 1 1 0.8-1 0.5-1.5-0.1-1.5 0.3 0.8 0.5 1.5 0.5 0.7 0.5 2.3 0.6 0.8 0.8 1.4 0.7-4.3 0.8 2.1 0.7 1.8 1.4-1.8 0.7 0 0.8 2.2 1 0.3 0.4 0.4 1.3 1.1 0.2-1.8 0.1-0.5 0.6 0.5 0.6 1.5 0.3 1.5 1 4.4 1.1 2.1 1.3-0.6 0.2-1.5 0-0.6 0.5 0.6 1 0.6 0.5 2 0.7-1.1 0.4-1.5 0-0.7 0.3 0.5 0.7 0.1 0.8 0.6 0.7-0.5 0.2-1.5 0-1.4-0.4-0.8 0-0.6 0.2 0.6 0.6 2.2 0.8 1.5 1 1.3 0.5-0.5 0.3-2.3 0-1.2 0.4 3.5 1.5 1.5 0 1.5 0.5 1.4 0.3 0.8 0.3 1.1 1-1.1 0.4-2.2-0.1-1.1 0.4 0.3 0.5 1.5 0.6 1.3 1.1-2 0.2-3-0.5-1.3 0.3 1.3 0.9 2.2 1.2 5.2 0.8 1.9 1.4-1.1 0.1-1.5-0.3-2.3-0.2-2.2-0.7-0.7 0-0.8-0.4-2.2-0.2-0.8 0.3 1.5 0.5 0.8 0.5 1.5 0 0.7 0.3 0.8 0.7 2.2 0.4 1.5 0.9 0.4 0.3-0.4 0.3-1.5 0.3-1.8 0.1 1 0.8 1.5 0.6zM133.9 510.1l-0.8-0.6-0.8-0.2 0.8-0.1 1.5 0.1 1.2 0.7-1.2 0.2zM137.6 508l-0.7-0.1 0.7-0.4 0.4 0.4zM145 335.9l-0.7-0.6 0-1 0.7-0.1 0.8 1.2zM190.4 337l-0.3-0.2 0.3-0.2 0.8 0.2-0.1 0.1zM231.3 360.8l-0.2-0.2 0.2-1.1 0.8 0.2-0.1 0.9zM75.8 337.7l-0.7-0.5-0.8-0.1-0.7 0.1-0.7-1.1 0.7-0.8 0.7-0.2 0.8-0.3 0.7 0.1 0.5 0.4 0.4 1.5-0.6 0.7zM74.3 364.2l-0.9-0.7 0.2-0.5 0.7-0.2 0.8 0.1 0.6 0.6-1.2 0.7zM75.8 362.7l-2.5-2.1 1-1.1 0.8-0.3 2.2 0.2 1.2 1.2 0.4 0.7-0.9 1.1-1.4 0.2zM78 380.2l-0.2-0.1 0.2-0.5 1 0.5-0.2 0zM82.5 369.4l-1.5-0.4-0.7 0.2-0.6-0.7 0.6-0.4 0.7 0.2 1.5-0.8 0.8 0.5 0.3 0.5-0.3 0.9zM84.7 362.9l-0.3-0.1 0.3-0.5 0.8-0.4 0.9 0.9-0.9 0.3zM81.8 407.7l-0.3-0.2 0.3-0.2 1.2 0.2-0.5 0.2zM98.1 437.1l0.8-0.3 0.7 0 0.6 0.3-0.6 0.2-0.7 0zM99.6 446.6l-0.7-0.1 0.7-0.3 1 0.3-0.2 0.1zM104.1 471.2l-0.8-0.5-1.5-0.4 0.3-0.7 0.5-0.4 0.7 0.3 0.8 0.8 0.7 0.2 0.8 0.6-0.8 0.2zM107.1 478.9l-0.5-0.6 0.5-0.5 0.7 0.1 0.9 0.4-0.9 0.5zM110 479.2l-0.3-0.2 0.3-0.4 1.7 0.4-0.9 0.2zM111.5 482.8l-0.6-0.2 0.6-0.4 0.6 0.4zM112.3 479.8l-0.3-0.1 0.3-0.3 0.7 0 0.4 0.3-0.4 0.2zM116 496.5l-1.8-0.9 1.8-0.3 3.4 1-0.4 0.5-0.8 0.1-1.5-0.2zM120.5 503.6l-0.8-0.7-1.8-0.1 0.3-0.2 2.3 0.1 1.7 0.8-1 0.2zM135.3 507.2l-0.3-0.1 0.3-0.2 0.8 0 0.4 0.2-0.4 0.2zM87.7 403.3l-0.2-0.1 0.2-0.5 0.8-0.3 0.7 0.2 0.8 0.6-0.8 0.4-0.7 0zM89.2 406.2l-0.5-0.1 0.5-0.4 0.8 0.2 0 0.2 0 0.1zM100.4 443.8l-0.6-0.2 0.6-0.2 0.6 0.2zM104.1 467.5l-0.8-0.5-1.9-0.3 0.5-0.3 3.7 0.3 0.3 0.7-0.3 0.2-0.8 0zM108.6 475.6l-0.6-0.2-0.2-0.3-2.2-0.2-0.5-0.2 0.5-0.4 2.2-0.2 0.6 0.6 1.9 0.7-0.3 0.2-0.7 0.2zM116 490l-0.4-0.2 0.4-0.2 1.5 0 0.5 0.2-0.5 0.4-0.8-0.1zM89.2 400.5l-1.5-0.4-1.5-0.2-0.3-0.3 0.3-0.2 0.8-0.1 1.9 0.3 1.1 0.3 0.5 0.4-0.5 0.4zM103.3 460.5l-0.5-0.3 0.5-0.5 0.8 0 1 0.5-0.3 0.3-0.7 0.1zM105.6 461l0.7-0.3 0.4 0.2-0.4 0.2zM108.6 472.6l-0.8-0.6-1-0.2 2.5-0.7 0.7 0.6 0.7 0.8-0.7 0.3-0.7-0.1zM86.2 396.7l0.8-0.3 1.2 0.3-0.5 0.2-0.7 0zM107.1 458.2l-0.5-0.1 0.5-0.4 1.3 0.4-0.6 0.2zM110 341.2l-0.5-1.5 0.1-0.7 0.4-0.5 2.3-1 0.7 0 0.8 0.6 0.1 0.9-0.8 0.7-0.3 1.4-0.5 0.4-1.5-0.1zM87 394l-0.5-0.2 0.5-0.5 0.8 0.5-0.1 0.1zM112.8 508.6l1 0.2 0.7-0.2-1.5-0.1zM92.5 449.4l1.2 0.3 1.3-0.3-0.6-0.1-0.5-0.6-1.7-0.4-1.5 0.2-0.1 0.2 1.6 0.6zM86.4 435l0.6 0.2 0.7 0 0.5-0.2-1.2-0.2zM279.5 417.6l0.2 0.6 0.1-2.7-0.7-0.8 0.1-1.4-0.3-2.2-0.9 0.8-0.4 1.4 0.5 1.4 1.1 1.5 0.1 0.7zM80.5 414.7l2 0.6 0.5-0.6-2-0.3-0.4-0.4-1.1-0.2-1.1 0.2 1.9 0.5zM83.4 412.6l1.2 0-0.3-0.7-1-0.3-1 0.3 1 0.7zM234.7 357l0.3 0.3 0.8 0 0.3-1 0.6-0.7 0.1-0.8-1-0.2-0.5 0.2-0.5 0.8-0.1 0.7zM232.6 352.7l1 0.7 0.7-0.3 0.3-0.4 0-0.8-0.3-0.3-1.5-0.5-0.7-0.9-1.5-0.8-0.4-0.3-0.4-1.6-0.7-0.1-0.7-0.6-0.3 0.1-0.2 0.7 0.2 0.7 1 2.2 2.2 2 0.8 0.1zM84.4 351.9l0.3 0.3 0.8 0 0.2-0.3-0.2-0.7-0.8-0.4-0.7 0.1-0.5 0.3 0.5 0.2zM69.2 351.2l0.7 0.3 0.2-0.3 0.1-0.7-1.1-0.7-0.2-0.7 0.2-0.1 0.6-1.4-0.7-0.7-2.1-0.8-1.5 0.1-0.7 0.6-0.5 1.5-1.2 0.8 0.2 0.7 1.5 0.6 2.9 0 1.5 0.8zM60.8 334.6l0.9 0.7 0.8-0.7-0.8-0.6-0.8 0.3zM163.5 331.7l0.9 0.4 0.7-0.1 0.1-1-0.8-1-0.8 0.4-0.4 0.6zM53.8 330.3l0.4 0.2 1.4-0.2-0.6-0.2-0.8 0zM40.1 329.6l0.8-0.8-0.8-0.6 0 0.6zM111 329.6l0.5 0 0.1-0.8-0.3 0zM55 328.1l0.7 0.3 0.5-0.3 0.2-0.7-0.7-0.4-0.7 1.1zM63.6 326l0.3 0.3 0.8-0.2 0.4-0.9-0.4-0.2-0.8 0.5zM55.6 325.2l0.9 0.4 1.5-0.4 0.7 0.3 0.8-0.3-0.8-0.9-0.7-1.2 0.5-2.2-0.1-1.4 0.2-0.8-0.3-0.7-0.7-0.7 0-0.7 0.5-0.7-0.9-0.2-0.7 0.5-0.8-0.4-0.7-1.1-0.5-0.3-2.5-0.4-0.7 0.2 0.4 0.9-0.1 1.5 0.7 0.7 0.2 0.7-0.5 1.5 0.5 0.7 0.9 0.7 0.3 0.7-0.1 0.8-0.3 0.7 0.3 0.7 0.6 0.7 0.8 0.3zM115 323.8l0.3 0.2 0.7 0.1 0.3-0.3 0.2-0.7-1-0.7-1-0.2-0.6 0.2-1 0.7 0.1 0.2 0.8-0.1 0.7 0.2zM64.2 323.1l0.5 0.1 0.7-0.7 0.7-1.5 1.5-0.7 0.8 0.2 0.7-0.3-1.5-0.1-0.7-0.4-0.8 0.6-0.7 0.2-1.5-0.4 0.1 0.8-0.4 1.5 0.3 0.6zM119.6 323.1l0.9 0-0.8-0.5zM108.4 322.4l0.9 0.3 0.7-0.2 0.8-0.8 0.7-0.3 0.6-0.5-2.1-0.1-1.4-0.2-1.4-0.4-0.9 0-1.5 0.5-0.7-0.4-0.8 0.6 0.8 0.3 0.7-0.1 0.8 0.3 1.5 0.2 0.7 0.4zM72.2 318.7l0.6 0.4 0.8-0.3 0.7-0.6 0.8 0 1.1-0.2 0.4-0.2 0.1-0.5-0.9-0.7-1.5 0.5-1.5-0.7-0.7 0-0.7 0.5-0.4 1.1 0.4 0.4 0.7 0.3z"/>
<path fill="#2d8af4" d="M162.9 510.8l0.6 0.7 0.4 0-0.2-0.7 0.7-0.3 0.7 0.2 0.7 0.6 0.8 0.2 42.5 0-0.8-0.3-0.8-0.6-0.7-0.1-0.8-0.7-0.7-0.1-0.8-0.7-1.4-0.1-0.8-0.7-0.7 0-0.8-0.7-0.7 0-0.8-0.8-0.7 0-0.8-0.7-0.7 0-0.7-0.7-0.8 0-0.7-0.8-1.5 0-0.8-0.7-0.7 0-1.5-1.5-0.7 0-0.8-0.7-0.7 0-0.8-0.8-0.7 0-0.8-0.7-0.7 0-0.7-0.7-0.8 0-0.7-0.7-0.8 0-1.5-1.6-0.7 0.1-0.8-0.7-0.7 0-0.7-0.7-0.8 0-1.5-1.5-0.7 0-0.8-0.8-0.7 0.1-0.8-0.8-0.7 0.1-0.7-0.8-0.8 0-0.7-0.8-0.8 0.1-0.7-0.7-0.8 0-0.7-0.7-1.5 0-0.7-0.7-0.8 0-0.7-0.6-1.5-0.1-0.8-0.6-1.4 0-0.8-1-1.5 0-0.1-0.1 0.1-0.3 1.5 0.2 1.5-0.1 2.2 0.5 1.5 0.5 0.8 0.6 1.4 0.2 0.8 0.3 3 2.2 2.9 0.9 1.5 1 1.7 0.5 2.8 1.3 3 2.3 8.2 3.8 2.9 1.7 6.7 2.8 5.2 2 11.2 3.4 3.3 0.8 15.2 0-17.2-12.3 0.2-0.3 0.7-0.2 1.5 1.4 0.8-0.1 0.7 0.3 3.7 0.7 2.3 0.2 9.6 2.6 1.5 0.1 3 0.6 2.2 0.2 0.4-0.4-0.3-0.8-2.3-2.9-8.9-9-5.4-6.1 0.2-0.6 0.7 0.3 3 1.5 3.7 1.5 2.5 1.6 7.9 4.4 3.7 1 2.3-0.1 0.4-0.2-0.1-0.8-0.3-0.6-2.6-4.4-5.1-7.2 0.2-0.7 1.5 0.8 5.2 2 1.5 0 1.5 0.3 0.7-0.1 1.5-0.7 0.8-0.7 0.2-0.9-0.1-3.6-0.4-0.8 0.3-0.7 0.7 0.4 0.8 0.1 1.5-0.6 0.7-0.4 0.6-0.9 0.6-1.5 1-1 2.6-4 0.6-2.2 1.3-2.9 2.1-7.9 0.5-10.1-0.5-8-2-13.7-1.2-5.7-1-2.9-0.4-2.2-2.3-6.5-0.4-2.9-0.7-1.4-0.8-0.9-1.7-2.7-0.4-2.2-3.7-7.2-1.2-3.6-0.4-0.6-1.1-3-1.2-2.5-0.7-0.4-0.8-0.1-0.7-0.5-0.8-1.6-1.2-1.4-2.5-2.5-0.7-0.4-0.4-0.7-0.1-0.8-0.3-0.3-1.4-1.3-2-0.5-0.6-0.8-1.2-0.9-0.3-0.5-0.2-1.4-0.8-1.5-0.2-1.5-0.1 0.8-0.6 0.5-0.3 0.9-0.4 0.3-0.8-0.1-1.1-0.9-0.4-0.6-2.3-2.3 0.9-1.4 0.2-0.7 0.5-0.8 0-0.4-0.8 0.2-0.7 0.6-0.7 0.1-1.5-0.2-1.5 0.1-0.7-0.4-1.2-1.4-0.9-2.2-0.9-1-3-1.2-0.6-0.7-0.3-0.7-1.4-0.7-1.4-1.6-0.8-0.3-2.2-0.1-0.2-0.2-0.1-0.7 0.1-1.4 1.2-1.5 0.3-0.7-0.2-0.7 0-1.5-0.4-0.7-1.5-0.2-0.7-0.6-0.6 0.1-0.3 0.7-0.6 0.4-1.4 0.3-0.1 0.2-1.5-1.1-0.2-0.5 0.8-0.7-0.5-0.7-0.8-0.2-2.2 0.3-0.7 0.6-0.7 1.4-0.9 0.4-1.2 1.1-1.8 0.3-0.3-0.3 0.9-0.8 0.3-1.4-0.1-0.7-2.2-1.5-1.9-0.7-2.5-2.2-1.6 0-0.7-0.9-1.9 0.2-0.2 0.7-0.2 0.1-1.5-0.5-2.2 0.4-0.7 0.4-0.8 1.1-0.7 0.2-1.5-0.5-0.3-0.4-0.5-2.4-0.7 0.4-0.2 0.5-0.9 0.7-1 1.5-0.9 0.2-0.6-0.2-0.5-2.2-2-0.7-0.6-0.7-0.7-0.3-1.5 0.6-1.2 1.1-1.5 0.7-1.8 1.4-0.7 0.2-0.7-0.1-0.8-0.4-0.9-1.1-0.6-0.3-1.5 0.4-0.9-0.8 0.3-0.7 0.6-0.2 0.8-1.2-0.6-2.9-0.8-0.8-0.4-0.7-2-0.2-0.7-0.7-1 0.2 0.4 0.7 0 0.7-2.1 1.5-0.6 0.7 0.1 0.7 0.6 0.8 0.3 1.4-0.7 0.4-1.5-0.2-0.6-0.2-0.9-0.9-0.7-0.1-1.5 0-0.8-0.2-0.7 0.1-0.7 0.5-0.4 0.6 1 1.4-1.4 1.1-0.7-0.3-0.8-1.5 0.8-2.1-0.5-0.8 0.5-0.3 0.7-0.1 2.2-1.2 0.8-1.3 0.7-0.6 0.9-0.1 0.1-0.7-0.2-0.2-0.8 0.1-0.7 0.3-0.8 0.1-1.4 1-0.8 0.1-2.2-1.6-2.3-0.1-0.7-0.4-1.5-1.7-0.7-0.1-1.6 1.1-0.2 0.7 0.3 0.7-0.2 0.7-1.3 0.7-0.7-0.1-2.3-1.1-0.7-0.2-0.8 0.4-0.7-0.9-0.8-0.2-0.7 0.4-1.5 1.5-2.5 0.2-1.2 1.2-1.5 0.1-0.5 0.2-0.6 0.7 0.2 0.7 0.5 0.8 0.1 0.7-1.9 2.1-0.8 0.4-0.7 0-1.5 0.7-0.7-0.2-0.9-0.9 0.5-0.7-0.2-0.7-0.9-0.9-1.5 0.2-0.8-0.1-0.6-0.6-0.3-0.8-0.6-0.2-0.7-1-0.7-0.3-0.9 0.1-1-0.7 0.5-1.5-0.1-0.8-0.8-0.1-0.7 0.6-0.8-0.2-0.7-0.6-1.5-0.1-0.4 0.5 0.6 0.7-0.2 0.6-0.7-0.3-0.8 0.3-0.7 0.8-0.1 0.8 0.4 0.7-1.2 1.5 0.6 0.7-0.4 1.4 0.7 0.6 0.7 0.3 1.5-0.3 0.7 0.3 0.8 0.6 0.7 1.3 1 0.8-0.4 0.8-0.4 2.1 0.5 2.2-0.9 1.4-0.5 1.5-1 1.4 0.3 0.7-0.2 0.8-0.6 0.2-1.5 0.2-0.4 0.3-0.1 0.7 0.8 0.7 0 0.7-0.3 0.3-0.7 0-1.5-0.9-0.4 0.6-0.4 0.2-2.2 0.1-1.5 0.3-0.2 0.2 0 0.7 0.2 0.6 0.8 0.2 1 0.6 0.7 0.8-0.3 0.3-1.4-0.2-0.8-0.6-0.7-0.1-0.5 0.6 0.5 0.3 1.5 0.6 1 1.2-1.3 0.7-1.2 0.3-1.5-0.6-0.8-0.1-0.7 0.2-0.4 0.2-0.1 0.8 0.1 0.7-1.1 0.2-1 0.5 0.2 0.7 1 0.8 0.6 0.8 0.7-0.3 0.7-0.1 0.4 0.3 0.1 0.7-0.5 0.3-0.7 0.1-0.7-0.2-1.5-0.2-1.2 0.7 0.3 0.7 1.6 1.5-0.7 0.3-0.8 0-1.5-0.8-1.3 0.5 0.4 0.7 1 0.7 0.5 0.7 0 0.8-1.5 0.7 0.6 0.7 0.2 0.7 0 0.8-1.4 0.2-2.2-0.1-1.3 0.6 0.4 0.7 0.9 0.9 0.8 0.4 0.7-0.1 0.4 0.2-0.4 0.3-1.5 0-0.5 0.5 0.5 0.3 0.8 0.1 2.2 1.2 0.7 0.2 0.8 0.8 0.6 0.3-1.4 0-1.5-0.4-2.9 0-0.7 0.4 0.7 0.7 0.7 0.6 1.6 0.8-1.6 0.4-1.5 0-0.6 0.3 0.2 0.8 0.6 0.7 2.1 1.3 0.7-0.1 0.7-0.8 0.8-0.1 0.7 0.4 1.5-0.1 1.5 0.3 0.9 1.3-1.6 0.7-1 2.1-1.8 0.8 1.3 0.6 1.5 0.3 0.7 0.8 1.1 0.4 0.7 0.7-0.7 0.8 0.6 1.4 0.5 0.3 1.5 0.4 0.8 0.6 0.7-0.1 0.2 0.3-4.8 0 0.9 0.2 0.7-0.2 0.1 0.7 1.4 1.4 2 0.7-3.2 0.8 1.2 0.8 3 0.7 1.5 0.9 2.2 0.3 1.4 0.9-0.6 0.5-1.5 0.3-3-0.5-0.7 0.7-0.4 1.1-1.6 0.8 2 1.8 0.6 0.3 0.1 0.5 1.1 0.2-2.6 0-1.5-0.3-0.7 0.1-0.5 0.2 0.5 0.5 1.5 0.1 0.7 0.3 2.2 1.3 3 0.5 1.4 1 1.6 0.4 1.9 1-0.4 0.2-1.5-0.1-4.5-1.1-2.2-0.2-0.7-0.4-0.8-0.1-0.7-0.1-0.5 0.4 0.5 0.3 1.5 0 0.4 0.4 0.3 0.7 0.7 0.5 2.3 0.2 1.5 0.7 1.5 0.1 2.2 1 3.1 1.8-0.9 0.2-0.6-0.2-0.9-0.5-0.9-0.2-0.6-0.4-1.8-0.3-1.1-0.6-0.8 0-1.5-0.5-2.9 0.2-0.3-0.6-2-0.3-0.6 0.3 3.6 1.1 0.7 0.5 2.8 1.3 2.3 1.5-0.6 0.5-2.2-0.1-0.2 0.3 1.7 0.6 0.7 0.5 2.6 1.1 2 1.4-0.9 0.2-1.5-0.4-2.2-0.1-1 0.3 1 0.9 4.5 1.6 2.2 0.1 0.9 0.3 1.3 0.9 2.8 1.3 0.2 0.6 0.8 0.1-1 0-2.8-0.9-2.2-0.2-1.4 0.4 1.5 1.4 1 0.7-0.3 0.3-0.8 0.2-3-0.6-1.5 0.1 1.5 0.3 1.5 1.2 2.3 1.1 1.4 0.3 1.2 0.7-0.4 0.6-0.8 0.3-0.2 0.6 0.6 1.4-0.4 0.6-2.4 0.1 2.4 1.7 1.5 0.4 1.5 0.8 0.8 0.1 0.8 0.7-0.8 0.2-0.8-0.2 0-0.7-1.5 0.3-0.7-0.1-1.5-0.5-1.7 0.2 2.4 1.6 4.5 1.6 2.3 1.2-0.8 0.3-0.6-0.3-0.1-0.5-1.5 0.2-0.8-0.2-0.7 0.1-0.5 0.4 2 1.4 2 0.7 0.7 0.8-0.5 0.2-0.7 0.1-1.5-0.5-1.5-0.2-1.3 0.4 3.1 1.4 1.2 0.3 2.8 1.9-3 0.7 0.9 0.3 1.5 1.2 2.2 0.8 2.2 1.3-0.7 0.6-0.7 0.1 0.3 0.7 1.9 0.7 1.2 1.5 2.4 1.4-0.6 0.4-0.8 0-0.6 0.4 0.8 1.4 1.8 1.5-0.5 0.2-1.4-0.2-3.1-1-1.4-0.9-3.8-1-0.7-0.1-0.2 0.1 0.3 0.7 1.4 0.8 0.4 0.6 0.2 0.8-0.6 0.2-1.5 0.2-0.4 0.3 1.1 0.8 2.3 1 2.9 0.5 0.9 0.6 1.4 0.4 1.5 1 1.5-0.2 2.2 1.4 0.9 1-0.2 0.5-2.5 0.2 1 1.2 3 1 2.3 1.3 1 0.8-0.3 0.2-0.7 0-0.7 0.5 0.7 1.4 2.9 1 1.5 0 0.8 0.3 0.7 0.6 1.5 0.1 0.7 0.5 2.3 0.5 1.5 0.9 1.4 0.5 0.8 0.5 0.1 0.2-0.9 0.1-0.7-0.7-0.7 0.2-1.5-0.2-0.8-0.5-1.5-0.2-0.7-0.5-2.2-0.3-0.8-0.4-0.7-0.1-1.3 0.5 0.2 0.7 0.3 0.4 0.6 0.3-1.3 0.3-1.5-0.2-2.2-1-1.5 0-1.5-0.2-0.6 0.4 2.1 1.7 1.5 0.1 0.7 0.4 2.2 0.7 0 0.4 0.2-0.4 0.8 0 2.9 1.4-0.1 0.4-0.8 0.1-0.6-0.5-0.1-0.4-1.5 0-0.8-0.3-0.7 0.3-0.3 0.4 1 1 0.8 0.4 2.2 0.1 0.8 1.1 0.4 1-1.1 0.8 1.4 1 2.6 1.1 0.9 0.7-0.5 0.2-1.5 0-1.5-0.4-1 0.2 0.8 0.8 0.9 0.3 1.5 1.2 4.7 1.4-1.7 0.6-1.5-0.2-0.7-0.5-0.7 0.1 0.1 0.7 0.6 0.3 0.7 0 0.8 0.3 0.7 1 3 0.7 0.7 0.3 0.8 1-1.7 0.7 0.6 0.7 1.1 0.4 1.5-0.3 0.7 0.2 0.4 1.2 2.1 1.4-0.3 0.3-0.7 0.3-1.5-0.3-2.2-1.4-1.5 0.1-0.5 0.3 0.9 0.7 1.8 0.9 1.5 0.2 3 1.1 2.2 0.3 1.5 1.1 0.6-0.7-1.3-0.9-1.4-0.5 0.6-0.2 1.5 0.4 1.5 0.1 1.3 1.1 0.2 0.4 1.1 0.3zM188.9 337.8l-0.4-0.3 0.6-0.7 1.3-1 1 0.3 0.8 0.7-0.3 0.7-0.8 0.3-1.4 0zM206.8 343.9l-0.2-0.6 0.2-0.3 0.7-0.3 0.2 0.6-0.2 0.3zM216.4 498.8l-1.4-1 0.7-0.4 1.2 1.1zM242.5 481.2l-1.1-1.5 0.3-0.4 1.3 1.1zM91.4 361.6l-0.7-1 0.2-0.7 1.3-0.4 1.2 1.1-0.5 0.6-0.7 0.4zM87 381.7l-0.3-0.2 0.3-0.5 0.7-0.1 1.2 0.6-0.4 0.5-0.8 0zM98.9 409.1l-1.3-0.9 0.5-0.4 0.8-0.2 0.7 0.4 1.2 1-0.4 0.4-0.8 0zM104.8 360l-0.1-0.1 0.1-1 0.8-0.4 0.5 0.7 0.1 0.7-0.6 0.4zM106.3 414.2l-0.3-0.2 0.3-0.2 0.9 0.2-0.1 0.1zM103.3 420l-0.4-0.2 0.4-0.3 1.6 0.3-0.8 0.2zM110 425.8l-1.8-0.9-0.4-0.7-1.1-0.1 0.4-0.2 0.7 0.2 1.5 0 2.2 0.5 1.4 1-0.6 0.2-1.5 0zM122.7 457.1l-0.6-0.5 0.6-0.4 1.3 0.4-0.6 0.5zM124.9 457.7l-0.5-0.4 0.5-0.3 1.3 0.3-0.5 0.2zM119.7 465.5l-0.5-0.2 0.5-0.4 0.6 0.4zM127.9 468.9l-1.6-0.7-3.6-1.2-0.5-0.3-0.6-0.7 0.3-0.3 0.8-0.1 0.7 0.1 0.8 0.4 1.5 0.1 1.5 1 3.5 1.7-0.6 0.5-1.5-0.3zM142 480.1l-1.5-1.1 1.5-0.8 0.8 0.3 1.6 1.2-0.9 0.4-0.7-0.1zM137.6 484l0.2-0.7 0.5 0 0.8 0.1 0.9 0.6-1.7 0.2zM150.2 502.8l0.8-0.4 0.7 0.4-0.7 0.6zM152.5 485.5l-0.8-0.7-0.5 0 1.3-0.2 0.7 0.9zM154.7 486.2l0-0.1 0.7-0.2 0.6 0.3-0.6 0.1zM88.5 378.8l-0.7-0.1 0.7-0.3 1 0.3-0.3 0.1zM99.6 406.4l-1.5-0.8-0.7-0.2 0.7-1.1 0.8-0.1 2.2 0.9 0.5 1-0.5 0.3-0.7 0zM110 422.1l-0.7-0.4-2.2-0.4-0.3-0.8 1-0.4 0.8 0 0.7 0.3 0.7 0.5 1.1 0.3 0.5 0.8-0.8 0.2zM130.1 330.4l-0.7-0.8 0.7-0.4 1.5 0.4-0.1 0.7-0.6 0.2zM154.7 335l-0.5-0.4 0.5-0.1 0.7 0.1zM110 347.9l-0.6-0.3 0.4-0.7 1-0.3 0.4 0.3 0 0.7-0.4 0.3zM110 341.9l-0.9-0.8-0.1-0.7-0.4-0.7 0-0.7 0.5-0.8-0.2-0.7 0.3-0.7 0.8 0.1 0.8 0.4 1.5-0.4 1.5 0 0.6 0.6 0.8 1.5-1.1 0.7-0.7 2.1-0.4 0.3-2.2 0.2zM145 502.1l0.8 0.3 0.7-0.3-0.7-0.3zM138.2 500.6l0.9 0.4 0.7 0 1.7-0.4-1-0.2-0.7-0.5-1.5-0.4-0.7 0.1-0.5 0.3 0.5 0.4zM138.9 497.8l1.1 0 0.2-0.8-1.1-0.6-0.9-0.1-0.5 0.7 0.6 0.6zM130.1 486.2l0.8 0 0.3-0.7-1.1-0.4-0.6 0.4zM125.6 481.9l0.2 0-0.1-0.7-0.8-0.2-0.9 0.2 0.9 0.5zM126.5 481.9l1.4 0.3 0.6-0.3-1.3-0.1zM132.6 481.2l0.6 0 0.2-0.8-0.3-0.1-3-0.8-0.7 0-0.7 0.2 0.7 0.3 1.5 0.3 1.5 0.9zM127.5 479l1.1 0.6 0.2-0.6-0.9-0.1zM128.1 476.1l0.5 0.2 0.8 0 0.3-0.2-1.8-0.8-0.8 0.1 0.8 0.4zM120.8 461.7l0.4 0.1 2.2-0.6 0.3-0.3-1.8-0.9-1.4-0.2-0.7 0.4 0.7 1.1zM113.7 451.6l0.8 0.4 0.2-0.4-0.9-0.1zM108.6 450.1l0.7 0.3 0.7-0.3-0.7-0.1zM105.4 434.2l0.9 0.5 0.8 0.1 0.5-0.6-1.3-0.4-0.7 0.3zM101.9 427.7l0.7 0.4 1.5 0.2 1.5-0.1 0.3-0.5-1.1-0.2-0.7-0.5-1.5-0.3-0.7 0-0.3 0.3 0.3 0.7zM95.1 422l1.5 0.4 0.6-0.4-0.6-0.2-1.4 0.1zM278.7 414.7l0.2 0.3 0.2-1-0.2-2.4-0.7 1 0.1 1.4zM81.4 365.7l1.2 0 0-1.5-0.1 0 0 0.7-0.7 0.6zM67.8 364.9l0.6 0.4 2.2-0.5 1.5 0.8 0.7-0.7-0.2-0.7-1.2-1.1-2.3 0.2-0.6 0.2-0.6 0.7zM80.2 363.5l0.1 0.4 0.4-1.1-0.4-0.2-0.5 0.2zM79.2 357l1.1 0.5 0.7-0.3 0.6-0.9-0.7-0.7-0.4-2.2-0.2-0.1-1.1 0.1 0 0.7 0.4 0.7-1.5 1.5 0.7 0.3zM230.5 351.2l0.8 0.5 0.8-0.5-0.5-0.7-2-1.4-0.3-0.8 0.3-0.7-1.2-0.1 0.6 2.3 0.8 1zM80.6 343.3l0.4 0.6 0.8-0.1 1.5 0 0.9-0.5-0.1-0.7-2.3-1.1-0.8 0.4-0.4 0.7zM79.4 339.7l0.9 0.3 0.6-1-0.6-0.7-0.8-0.3-0.7-0.8-0.8-0.4-0.7 0.6-0.4 0.8 0.4 0.6 1.5 0.4zM70.6 337.5l0.8 0.3 0.4-0.3 0.4-0.7-0.1-0.7 0.4-0.8 0.3-0.3 2.1-1.1-0.6-0.2-1.5 0-0.7-0.2-0.7-0.8-1.5 0.2-0.4-0.4-0.3-1.5-1.6-0.5-0.7-0.5-0.8 0.3-0.3 0.7-1.6 0.7-0.3 0.8 0.8 1 0.7 0.1 1.5-0.2 0.7 0.3 0.8 0.7 0.7 0 0.2 0.9-0.2 0.3-0.7 0-0.3 0.5 1 1.2 0.8-0.1 0.7 0.3zM80.2 336.1l0.8-0.4 0.2-0.4-0.9-0.7-0.5 0.7zM116.7 335.3l0.8-0.4 0.2-1-0.2-0.3-0.8-0.1-0.5 0.4-0.2 0.5-0.4 0.2 0.4 0.2zM86.7 334.6l0.3 0.3 2.2 0.1 0.4-0.4 0.4-0.7-0.3-0.7-0.9-0.7-0.1-0.8 0.2-0.7 1.3-0.7 0.3-0.7-0.1-0.8-0.4-0.6-0.3-0.1 2.1-0.7 0.9-1.4 3.2-2.4 1.1-0.5 0.1-0.7-0.4-0.8-0.8-0.7-0.5-0.7 0.3-0.7 0.6-0.8-3.4-0.1-1.5-0.4-1.4 0.6-3 0.8-1.7 1.3 0.4 0.7 0 1.5-0.2 0.6-2.2 1.2-0.7-0.4 0.3-0.7 0.6-0.7 0.2-0.7-0.4-0.8-1.5-0.7-0.3-0.7-0.6-0.7-2.1-1.5-0.8 0.4-0.3 0.3-0.5 3.7-0.4 0.7-0.7 0.7-0.3 0.6-0.4 0.1 0.4 0.1 2.2 1.6 1.8 0.5 0.5 0.6 0.7 0.2 0.7 1.3-0.3 1.5 0.4 0.7 1.5-0.6 2.2 1.2 0.2 0.1 0.1 1.5 0.4 0.7zM89.2 327.4l-0.7-0.2-0.8-2 0.8-0.3 0.8 0.3 0 0.8-0.3 0.7 0.2 0.7zM90.7 323.2l-0.7-0.8 0.7-1.5 0.9 0.7 0.1 0.8-0.1 0.7-0.2 0.2zM66.1 327.4l0.8 0.5 0.7 0 0.7-0.5 0.1-0.7-0.4-0.7-0.4-0.2-1.2 0.9-0.3 0.6zM73.5 325.2l0.8 0.2 0.5-0.2 0.2-0.7-1.4-2.6-1 1.9 0.3 0.7zM141.8 325.2l1 0.4 0.2-0.4-1 0zM55.5 324.5l1 0.5 1-0.5 0.3-0.7-0.1-1.4 0.5-1.5-0.1-2.2-0.4-0.7-2-1.5-0.9-1.4-0.6-0.4-0.7 0.1-0.4 0.3-0.1 0.8-0.7 0.7 0.7 1.4-0.5 1.5 0.4 0.7 0.9 0.7 0.2 0.7-0.1 1.5 0.3 0.5 0.8 0.5zM114.4 323.1l0.9 0.4 0.6-0.4-0.6-0.4-0.8 0.3zM107.7 321.6l1.6 0.7 0.6-0.7-0.6-0.4-1.5-0.4-1.2 0.1 0.5 0.1zM71.8 318l1 0.4 0.6-0.4 0.3-0.7-0.9-0.5-0.7 0-0.5 0.5zM75 317.3l0.8 0.2 0.3-0.2-0.3-0.2-0.7 0.2z"/>
<path fill="#22a2e4" d="M188 510.8l2.1 0.7 15 0-20.6-9.2-9.7-5.6-2.3-0.5-2.9-1.5-3-1.2-1.5-1-3-0.8-2.9-0.3-0.6 0.6 0.8 0.7-1.1 1.4 0.9 1.2 1.4 0.8 1 0.9-0.5 0.8 1 0.9 0.8 0.1 0.3-0.3-0.6-0.7 0.3-0.2 0.7 0 1.5 0.5 0.6 0.4-0.6 0.6-0.7-0.1-0.6 0.2 2 0.3 0.2 0.4 2.7 1.5 0.9 0.7 0.7 0 3 1.6 1.7 0.6 1.3 1.2 1.1 0.2 1.9 1.4 2.2 0.9 1.5 0.4 0.7 0.4 2.2 0.4 1.5 1.2zM225.7 508.6l1.9 0.4 0.4-0.4-0.9-0.7-11.4-8-4.7-3.6-11.7-9.9-4-3.1 1.1-0.4 1.4 1.3 0.8 0 1.5 1.3 7.4 3.1 3 0.4 5.2 1.6 6.7 1.1 6 1.6 2.2 0.4 0.2-0.3-1.2-1.4-5.7-6.5-7.4-8.7 0.7-0.6 3.7 0.2 3.7 0.6 1.5 0.6 3 0.9 5.2 2.2 6 3.6 2.2 0.8 0.1-0.3-0.9-1.4-4.4-6-2.3-2.8-5.9-6.4 0.7-0.5 0.8 0.5 3-0.2 2.9 0.4 6 1.5 3 0 1.5-0.1 0.4-0.2-0.2-1.4-1.1-2.2-2.8-4.3-2.3-2.4-0.7-0.2-1.5-1.6-0.8 0-0.8-0.9 0.1-0.2 3 0.9 5.3 2.9 3.6 1.6 3 1 1.4 0.1 2.3-0.8 0.2-0.4-0.4-2.2-0.8-2.9 0.2-0.4 1.5 0.6 1.5 0.1 0.8-0.1 0.7-0.5 1.5-1.5 1.5-2.2 2.4-5.4 0.7-6.5-0.1-8.6-1.2-9.4-0.8-4.3-1-2.9-0.7-2.9-1.9-5.8-0.6-2.9-3.3-5-0.2-1.5-0.8-2.9-0.9-1.4-0.6-2.2-4.3-8.6-2.8-2.2-0.5-0.7 0.1-0.7-0.2-0.8-0.4-0.5-0.8-0.3-0.7 0.1-0.8-0.3-1.5-1.6-2.7-4.6-1.7-0.6-3-3.3-3-1.5-0.7-0.6-0.8-0.8-0.5-1.1-1.2-0.7-0.7-0.8-0.1-0.7-0.3-0.7-2.4-0.4-1.8-1.1-0.7-1.4-0.2-2.2-0.8-0.7-2.4-0.6-0.8 0.3-0.7 0.7-0.8-0.3-0.2-0.8 0.4-1.5-0.2-0.7-0.6-0.7-1.6-1.3-0.7 0-0.8 0.4-0.7-0.1-0.5-0.4-0.4-0.8 0.1-2.2 0.3-0.7 1.3-1.4 0-1.4-0.4-1.5-1.2-0.1-0.7-0.6-0.4 1.4-0.4 0.5-0.7 0-0.7 0.3 0.1 0.7-0.4 0.7-0.8 0.7 0.1 0.7-0.5 0.6-1.5 0.8-0.8-0.6 1.8-1.5-0.1-1.4 0.4-0.7 0-0.8-1.5-0.7 0-0.7 0.9-1.2 0-0.3-0.9 0.1-0.6 0.4-1.4 0.2-0.8 1.8-1.5 0.6-0.7 0.9-2.3 0.8-0.7 0-0.5-0.4-0.1-0.7 0.6-0.8 0.7-0.4 0.3-0.3 0.2-0.7-0.3-0.7-1.6-1-3-1.1-2.3 0.6-2.2 0.2-1.3-0.9 0.6-1.2 0.7-0.1 1.4-0.9-0.6-0.8-1.4 0.1 0.3 0.7-0.4 0.7-0.8 0-2.2-0.6-0.7 0.1-1.4 0.6-0.9 1.2-1.5 0-1.5 0.3-0.3-0.1 0.3-0.3 0.1-0.4-0.1-0.7-0.4-0.8-0.3-0.2-0.7 0.4-0.8 1.7-2.2 0.4-0.6-0.8 0-1.5-0.3-0.7-1.9-0.7-0.9-0.7-1.5 0.7-0.8 0.9-1.5 0.8-1.1 1.2-1.8 0.7-2.3-0.4-0.7-1.2-1.5-0.1-0.7-0.6-1.5-0.4-0.8 0-0.7 1.3-0.8 0.5-0.7-0.3-1.5-1.4-2.2-0.7-0.8-0.6-0.7-0.2-0.8 0.2-2.2 0.1-0.3 0.2 0.9 1.4-2.1 1.6-0.7 0.2-0.4-0.3-0.2-0.7-0.9-1.5 0.5-1.4-0.1-1.5 0.3-0.7 1.5-0.3 0.8-0.4 1.4-1.2 0.2-0.3 0-0.7-0.3 0-1.3 1.2-0.8-0.1-2.2-1.5-2.3-0.2-0.7-0.3-1.5-1.6-0.7 0-1 1.1 0.4 1.4-2.8 1.5-0.2 0.7-0.9 0.5-2.2 0.1-1.6-0.6-0.8-0.7 0.9-1.5-0.1-0.7-0.7-0.3-0.4 0.3-1.2 1.4-0.6 0.3-1.5-0.1-0.7 0.2-0.8 0.9-0.7 0.6-1.5-0.2-0.5 0.5 0.3 0.7 0.8 0.8-0.1 0.7-0.3 0.7-1.2 0.7-1.2 1.7-0.8 0.3-1.5 0.2-0.9 0.7 0.5 1.5-1.1 0.7-0.6 0.7-0.5 2.2-0.3 0.3-0.9 0.4 0 1.4-0.8 1.5 0.2 0.7-0.1 0.7-0.7 0.9-0.7 0.2-2.2 0-0.8-0.2-0.7-0.6-0.7-0.3 0.7-0.5 0.3-0.9 0.4-0.2 0.8 0.2 0.7-0.1 0.9-0.7-1.3-0.7-0.5-0.7 1.5-0.7-0.2-0.7-0.4-0.2-0.5-0.6-1-2.1-0.2-0.7 0.3-0.8-0.8-0.2-0.8 1.2 0 1.2-0.4 0.7 0.3 2.2-0.3 1.4 0 0.7-0.6 0.8 0.3 0.7 0.6 0.7-0.7 0.7-0.4 1.5-0.4 0.7-0.3 0.7 0.3 0.7-0.2 0.8-0.5 0.7-1.1 0.7 1.2 1.3 0.7-0.1 0.8 0.3 1.6 1.4 0.2 1.4 1.3 2.2-1.8 0.7 0.3 0.8 1.6 1.4-1 0.9-0.7 0-2.1-1.6-0.6-2.2-1-0.7-0.3-0.7 0-2.2-2-0.6-1.5-0.8-0.7 0.3-0.3 0.4-0.5 1.4-0.7 0.7-1.9 0.8 0 0.7 0.3 1.4-0.9 0.8 0 0.7 0.3 0.7 0.7 0.7 0 0.7-0.7 0.3-0.8 0-0.7 0.5 2.2 1.3 2.2 0.2 0.8 0.2 0.5 0.4-1.3 0.6-0.7 0.1-1-0.7-0.5-0.6-0.7 0.1-1 0.5-0.3 0.7 0.9 0.8 0.4 0.7 0.7 0.5 1.5-1 0.7 0.4 0.8 0.8 2.2 0.4 1.5-0.4 1 0.7 1.2 0.3 0.5 0.5-0.5 1-0.7-0.2-2.2-1.4-0.8 0-1.5 0.5-1.5-0.2-0.4 0.3 1.2 0.1 0.6 0.6 0.1 1.4-0.7 0.4-1.5-0.1-1.5-0.6-2.2-0.1-1.6 0.4 0.5 0.7-0.2 0.8-1 0.5-0.6 0.9 0.6 1.1 0.8 0.7 0.7 0.4-1.6 0.7 0.3 0.7 0.6 0.5 1.5 0.4 2.9-0.2 0.8 0.3 0.7 0.7 2.1 1.2-0.6 0.2-0.7-0.2-0.8 0.1-0.9 0.6 1.2 0.8 0.5 0.5 0.1 0.9-4.6 0-0.7 0.7 0.2 1.5-0.4 1.4 0.9 0.6 0.8 0.3 2.2 0 0.7-0.2-0.3-0.7-0.6-0.7 0.7-0.7 1-0.2 1.2-0.6 0.4-0.7 2.1-0.2 0.7 0.5 0.3 0.4-0.1 0.8 0.1 1.4 0.4 0.7-1.1 0.7 1.1 2.2-1.6 0.7-0.3 0.8 1.2 0.8 1.4 1.3-1.6 0.7 1 0.8 2.2 0.5 0.8 0.6 2 1 0.5 0.8-4-0.2-0.6 0.2 1.3 0.5 2.4 2.3-3.1 0.3-0.6 0.5 0.6 1.6 0.8 0.5-1.6 0.3-0.8 0.4 0.9 0.8 2.2 1 1.5 0.2 3.7 0.8 3 1.5 0.7 0.3 1.5 0.2 1.4 1 0.6 0.7-0.5 0.1-0.8-0.3-1.5 0-2.2-0.6-0.7-0.1-0.8 0.2 3 1.5 1.2 1.4-0.5 0.5-1.4 0.2 1.2 1.5 0.2 0.7 0.7 0.7 0.2 0.7-1.8 0 0.9 0 0.3 0.8 2.5 2.1 1.2 0.8-1 0.4-0.7 0-1 0.3 1.7 1.3 1.5 0.1 1.7 0.7 2 0.6 1.5 1.2 1.9 1.1-1.1 0.2-0.8-0.4-0.7 0.1-2.3-0.4-0.2-0.2-1.3-0.3-1.4-0.8-1.5-0.4-1.5-0.2-0.5 0.3 2.7 1.6 3 0.5 0.7 0.4 0.8 0.7 1.5 0.4 0.8 0.7 1.5 0.7-0.7 1.5 0.4 0.7 1.7 1.5 1.5 0.5 3.7 0.4 1.5 0.5 0.7 0.4 1.7 1.7-1.5 0.8 1.5 2.1-3.3 0-0.1 1.5 0.3 0.7-2.3-0.2-0.7 0.2 0.2 0.7 0.5 0.6 2 1.6-0.5 0.1-0.7-0.5-0.8 0-1.5-0.5-0.7 0-0.5 0.2 2.7 2.3 1.2 0.5-1.2 0.3-0.7-0.2-0.8 0.1-0.7 0.6 0.6 0.7 1 0.7 0.6 0.7 0 0.4 1 0.3-0.2 0.2-2.3-0.3-0.5 0.1 0.6 0.8 2.2 1 0.7 0.3 1.5 0.2 1.5 0.8 3.7 1.1 3.7 2.6 1.5 0.5 0.8 0.7-0.8 0.3-0.7-0.2-0.8-0.4-3-0.7-0.7 0-0.3 0.3 0.3 0.2 3.7 1.5 1.5 1 2.2 0.6 0.8 0.5 1.5 0.6 1.5 0.8 2.2 0.8 3 0.5 0.7 0.8 1.1 0.6 0.2 0.7 0.2 0.3 0.7-0.7 0.8-0.3 0.7 0.2 0.5 0.5-0.8 0.8 0.3 0 0.5 0.7-0.5 0.5-2.2-0.3-3.7 0.3-1.5-0.4-2.2-1.3-1.5-0.1-1.5-0.4-1.7 0.2-0.6 0.5-1.4-0.4-0.3 0.7-0.5 0.2-0.7-0.1-0.4-0.1-0.4-0.8-0.7-0.3-1.5-0.3-0.8 0.2-0.7-0.1-2.2-0.8-2.3-0.4-0.7-0.5-0.7-0.1-0.5 0.2 1.2 0.8 2.2 0.9 2.3 0.2 2.2 1.4 3 1.4 1.5 0.1 2.9 1.1 2.3 1.3 0.7 0.3 0.7 0.4 0.2 0.7-0.4 0.7 1 1.4 1.5 0.4 2.2 1 1.5 0.2 0.8 0.5 0.7 0.1 1.5 0 1.5 0.4 0.7 0.3 2.2 1.5 1.5 0.2 1.5 1 2.3 0.3 2.2 0.8 2.2 1.7 2.3 1.2 0.7 0.1 3 1.1 0.7 0.7 3.7 2.1 3.8 2.5 8.1 4.7 6 2.9 9.7 3.1 8.2 2.1 3.7 0.7zM103.3 384.7l-0.3-0.3 0.3-0.6 0.8 0.2 0.5 0.4-0.5 0.2zM104.8 382.3l-2.1-0.8-0.8-0.5-1.5-0.3-3.8 0.8-0.4-0.7-1.8-0.7 2.6-2.2-0.9-0.7 0.5-0.7 3-0.2 0.8 0.1 1.5 0.9 1.6 0.6-0.9 1-0.8-0.2-1.2 0 0.5 0.7 0 1.3 0.2-0.6 0.6-0.3 1.4 0.2 1.5 0.7 1.1 0.8-1 0.8zM110.8 405.8l-0.5-0.4 0.5-0.8 0.7-0.1 1.2 0.9-0.4 0.5-0.8 0zM111.5 409l0-0.2 1.5 0.1 0 0.7-0.7-0.6zM121.2 346.4l-0.3-0.2 0.6-0.8-0.3-1.4 0.7-0.2 0.8 0 0.7-0.2 0.8 0.5 0.2 0.6-0.2 0.3-2.3 1.2zM140.5 457.6l-2-1-0.2-0.3-1.4-0.4 0.7-0.5 2.9 0.8 0.8 0.4 0.6 0.7-0.6 0.4zM142.8 448.9l-1.7-0.9 0.9-1.2 0.2 0.4 1 0.8 0.3 0.7zM146.5 472l-0.4-0.2 0.4-0.5 0.7 0.1 0 0.5zM163.6 472.5l0.8-0.9 0.1 0.2 1.3 0.2 0.5 0.5-0.5 0.3-1.4 0zM194.9 483l-1.7-1.1 0.9-0.4 1.1 1.1zM105.6 371l-0.8-0.7-0.7-1.1-1.4-0.7 0.6-0.2 1.5-0.1 2.4 0.3 0.6 0.3 0.3 0.5-0.3 0.3-2 1.1zM140.5 454.1l-0.6-0.4-0.1-0.4-0.7 0-0.8-0.3 0.8-0.2 0.7 0.2 1.5 0.8zM158.2 497.8l0.6 0 0.2-0.8-0.6-0.2-0.7 0.3zM156.7 491.3l0.2 0.1 1.1-0.1-1.1-0.6zM151.7 489.8l3 0.3 0.8-0.3-1.6-0.3-0.7-0.9-1.5-0.3-1.3 0.1 0.1 0.7 0.5 0.4zM153.4 468.9l0.5 0.2 0.5-0.2-0.5-1 0 0.3zM125.9 446.5l0.5 0.3 0.8-0.3-0.8-0.2zM128.5 445.1l0.9 0.1 1.2-0.1-0.5-0.3-0.1-0.5-2.1-1.2-1.5 0-1.5-0.5-0.9 0.3 3.9 2zM129.3 438.6l0.8 0.2 0.5-0.2-0.5-0.3-0.7 0.2zM118.9 432.1l0.8 0.4 0.4-0.4-0.4-0.2-0.7 0.1zM278.6 414l0.3 0.5 0.1-0.5-0.1-1.8-0.3 0.4-0.1 0.7zM92.6 372.2l1.1 0.4 1.5 0 0.7 0 0.6-0.4-0.6-1.2-0.7-0.1-3.5 0.5 0.5 0.4zM104.7 336.1l0.9 0.6 0.7 0 1.5 0 1.5-0.8 0.7-0.2 0.8 0.7 0.7 0.1 1.5-0.2 0.6-0.2-0.6-1.5-0.7-0.4-0.8 0.2-0.7-0.3-1.5-1.3-0.3-0.3-0.1-1.5-0.3-0.2-1.5-0.1-1.5-0.4-0.8-0.6-0.7-0.1-0.8 0.1-1.4-0.6-1 0.5 0.3 0.7 0.7 0.7-0.2 0.7-1 0.8 1.9 1.4 1.5 1.5zM70.5 335.3l0.1 0.3 0.8-0.2 0.2-0.8-0.2-0.4-0.8-0.2-0.3 0.6zM86.6 333.2l0.4 0.3 0.6-0.3 0.4-2.2 0.5-0.5 1.3-0.9-1.4-0.8-0.8-1.4-0.1-1.4-0.5-0.8 0.7-0.7 1.3-0.7 0.4-0.7-0.1-0.7 0.7-2.2-0.8-0.5-1.5 0.3-1.1 0.9-0.4 2.9 0.2 0.7-0.9 0.4-0.8 0-0.7 0.3-1.1 0.8-0.5 0.7 0.1 1.5 0.8 0.3 0.7 0.7 0.7 1.4 1.5 0.1 0.3 0.3 0.4 0.7-0.3 0.8zM154.5 333.2l0.2 0.2 0.7 0.4 0.8 0 1.5-0.5 1.5 0.3 0.8-0.4 0.4-0.7-0.1-0.8-0.5-1.4-0.4-0.7-0.9-0.8 0-0.7-1.6-0.1-0.7-0.7-0.6 0.1 0.4 0.7 0 0.7-0.6 0.6-1.3 0.9-0.4 0.7 0.1 0.7 0.5 0.8zM65.7 332.5l1.2 0.2 0.8-0.2-0.8-0.9-0.8 0.3zM90.1 326.7l0.6 0.2 0.7 0 0.2-0.2 0-0.7 2.1-1.1 2.5-1.8 0.4-0.6 0.1-0.1-0.4-0.8-0.8-0.7-0.5-0.7 0.2-0.8 0.6-0.7-3.2 0-0.4 0.8-0.4 1.4 0.5 0.7 0.1 0.8-0.3 0.7-0.7 0.7-0.7 0.1-0.7 0.6 0.2 0.7 0.5 0.7 0.3 0.1-0.3 0.1zM79 326l1.3 0.4 0.7-0.1 0.9-0.3 0-0.8-0.5-0.7 0.2-0.7 0.9-0.7 0.1-0.7-0.8-0.4-1-1.8-2-1.7-0.8 0.4-0.5 3.5-0.2 0.7-0.7 0.7-0.2 0.7 0.8 0.7 1.6 0.7zM56.4 324.5l0.8-0.4 0.2-0.3-0.1-2.2 0.6-0.7 0-0.7-0.3-1.5-0.4-0.5-1.5-1-0.5 0.1-0.2 0.7-1.4 0.7-0.5 0.8 1.3 2.1 0.1 1.5 1.2 1zM73.5 324.5l0.5 0-0.1-0.7-0.3-0.4-0.2 0.4z"/>
<path fill="#08b5d0" d="M210 499.9l3.5 0.5 0-0.5-15.7-12.5-3.7-2.7-3-1.7-3.7-1.9-10.4-3.7-3-0.6-1.5-0.2-1.4-0.5-4.5-0.2-0.4-0.5-0.4-0.1-1.8 0.1 2.1 0.7 2.7 0.5 0.8 0.9 0.7 0.2 1.5-0.1 0.7 0.2 0.8 0.6 0.7 0.3 2.3 0.6 1.5 1 0.7 1.2 2.8 1.1 0.9 1.1 1.5 0.8 0.9 1 5.8 3.5 1.5 1.2 4.5 2.8 1.4 1.1 7.5 4.1 4.4 1.6zM214.8 481.2l1.6 0.3 0.4-0.3-3.3-3.7-6-5-4-2.9-0.4-0.5-1-0.2 0.2-0.2 11.9 0.1 3-0.2 1.5 0.2 3.7 0.1 2.2 0.4 0.8-0.1 0.4-0.3-1.9-1.8-5.2-4.1-1.9-1.3 0.4-0.6 3.7-0.9 3.7-1.4 3-0.7 3-0.2 3.7 0.6 0.3-0.4-1.8-1.3-2.4-2.4-3.6-2.8-0.7-0.2-0.7-0.8-0.8-0.1-0.7-0.9-0.8 0-0.1-0.2 0.1-0.5 5.3 0.1 6.6 1.1 2.3 0.6 10.4 3.5 1.5 0.2 0.3-0.7-2.3-2.9-3-2.8-3.5-2.9-8-5.8-0.8-0.7 0.2-0.3 6.7 2.1 4.4 2 9 4.4 2.2 0.6 1.5-0.3 0.7-0.4 0.1-0.2-0.9-2.2-3.1-5 0.2-0.2 3 1.7 3 0.2 0.7-0.4 0.5-0.6 0.7-1.4 1-3.3 0.8-4.7-0.1-2.1-0.3-2.9-0.1-3.6-0.4-2.9-3.3-11.6-0.6-2.9-0.7-1.4-1.8-2.2-0.8-1.4-0.1-2.2-0.3-1.4-0.3-0.7-0.7-0.8-0.2-0.4-0.2-1.7-0.6-2.2-1.9-2.9-1.8-3.7-0.5-0.6-2.4-1.5-1.8-0.7-0.1-0.7 0.1-1.4-2-0.9-0.9-0.6-0.4-0.7-0.2-1.5-0.7-1.4-2-2.2-1.1-0.7-0.6-0.9-1.5-1.5-1.5-0.5-2.2-1.9-1.9-2.4-1.8-1.2-1.5-1.7-2.3-1.2-1.2-1-1-1.3-1.5-1.3-2.2 0.8-1-0.3-0.5-0.5-0.2-0.2 0-2.2 0.3-1.5-0.1-0.7-0.7-0.9-0.8-0.3-1.5 1.5-0.7 0.1-0.9-1.8-0.6-0.7 0.2-2.2-0.2-0.8-0.8-0.9-0.7-0.5-0.7 0.6-0.5 0.9-0.3 0.2-2.2 1.1-0.8 0.2-0.7-0.5-0.3-1 0.5-0.8 1.3-1 0.8-1.8-0.4-0.8-1.4-0.7 0-0.7-0.5-0.3-0.6 0.3-0.9 1.9-0.7 0.2-1.5 0.9-1.6 0.6 0.5 1.4-0.4 0.4-0.2-0.4 0-0.7-2-0.6-0.4-0.8 0.1-1.5 0.3-0.4 0.8-0.3 0.7-0.7-0.5-0.7-4-1.3-4.5 0.5-2.2-1.2-1-1.6-0.5-0.3-0.7 0-0.8 0.3-1 1.4-0.5 0.4-1.5-0.1-0.7 0.8-0.8 0.3-0.7-0.4-1.5-0.2-0.7-0.4-1.1 0.3-0.4 0.8-1.2-2.2 0.3-1.5-0.5-0.7-2.3-1-1.1 0.3-1.2 1.3-1.3 0.9-0.2 1.5-1.5 0-1.4 0.6-0.8 0-2.2-0.7-0.3-0.7-0.5-0.3-0.7-0.2-1.5-1-0.7 0-0.8 0.6-0.4 0.9-0.3 0.3-0.8 0.1-0.7-0.2-0.8-0.5-0.9-1.2-0.5-0.3-1.5-0.3-0.8-0.5-0.7-0.1-1.5 0.5-0.2 0.7-0.7 0.8-2.1 1.2-1.5 0.7-0.3-0.5-0.3-1.4-0.9-1.3 0-0.8 0.5-0.8 0.6-2.2 0.4-0.4 0.8-0.3 0.7-0.7-0.7-0.3-1.5-1.1-0.8-0.1-0.7 0.3-0.2-0.3-1.7-0.7-1.1-1-0.5 0.3 0 0.7 0.4 0.7 0.1 0.7-0.7 0.3-2.3 0.4 0 1.1-2.2 0.7-2.2-0.1-3.7-1.5-2.3-0.3-0.3 0.2-1.1 1.4-0.5 1.5-0.9 1.4-1.9 1.4-0.1 0.8 0.4 0.7-0.5 0.7-0.3 0.2-0.7 0-0.8-0.4-1 0.2 0.4 1.5-1.6 0.8-0.6 0.6 0.3 0.7-1 2.2 0.7 0.7 1 0.7 1 1.5-0.7 0.4-1.6 0.3-0.3 0.7 0.2 0.7 0 0.8-1.2 0.1-0.8-0.4-0.7 0.2-1.5 1.4-0.8 0.3-0.7 0-0.7 0.4-0.5 0.8 0 2.2-1 0.7 0.6 1.5 1.6 0.7 0.3 0.7-0.6 0.7 0.1 0.8 0.3 0.7 1.1 1.4-0.3 0.8 0.2 1.4-0.4 1.4 0.2 0.8 1.1 1.4-1.1 1.4 0.6 1.4 0.2 0.1-2 0.7-0.2 0.7 0.2 0.8 0.6 0.7-1 0.5-1.5-0.2-0.4 0.4 1.1 1.4 0.3 0.8-0.3 0.3-1 0.4-0.1 0.7 1 1.5-0.7 0.7-0.3 0.7 1.1 0.7 0.9 1.5-1.8 0.7 0.5 0.7 1.3 0.7 0.3 0.8-1.9 1.4-0.7 1.4-0.9 0.8 0 0.7 0.8 1.3 1.7 0.8-1.9 0.8 1 0.3 1.5 1.1 0.7 0.8 1.5-0.1 0.3 0.8-0.3 0.3-2.2-0.2-1.1 0.6 1.1 1 2.9 0.9 0.8 0.5 0.7 0.2 0.8-0.2 0.7-0.6 0.4-0.4-0.3-0.7 0.7-0.5 2.9 0.7 0.4 0.5-1.9 0.3-1 0.4 0.8 0.8 0.6 1.4-1.1 0.5-0.7-0.1-1.2 0.3 2.6 1.8 2.3 0.3 1.5 1 2.2 0.4 4.5 1.9 1.9 0.4 0.4 0.7-0.9 0.3-1.4-0.1-3-1.1-1.5 0.2 2.2 2 3 1.6 0 0.2-0.7 0.4-1.5-0.8-1.5 0-0.6 0.2 0.6 0.1 2.6 2.1 0.4 0.6 0.7 0.6 0.7-0.1 1.5 0.9 3 0 0.8 0.3 1.4 1.1 0.8 0.2 0.7 0 0.8 0.3 0.7 0.9 0.8 0.2 1.7 1.5-0.3 0.1-1.1-0.1-1.1-0.4-0.7-0.6-3-0.6-1.5 0-0.4 0.1 0 0.8 1.7 1.4-0.5 0.2-0.8 0-0.7-0.5-3-0.7-1.5-1-1.1-0.2-0.4-0.2-1.5-0.1-0.7 0.1-0.6-0.5-0.9-0.3-0.9 0.3 0.9 0.6 1.5 0.4 1.5 1 1.5 0.6 2.2 1.4 2.2 0.1 1.5 0.8 1.5 0.4 2.2 1.2 2.3 0.5 0.3 0.2 0.5 0.8-0.1 0.2-0.8 0.5-0.4 0.7 0.5 0.9 1.2 1.3 0.3 0.7-0.8 0.2-0.6 0.5 0.8 1.4 1.1 0.8-1.3 0.3-0.7 0-1.5-0.6-0.8 0.3 3 1.4 1.5 1 2.2 0.9 2.3 0.1 1.6 1.6 2.1 0.8 1.1 0.7-0.4 0.3-1.5 0-0.7-0.1-0.8-0.5-0.7-0.2-0.7 0.2-0.3 0.3 1 0.7 1.5 0.4 1.5 0.7 1.5 0.3 1.5 1.2 1.7 1 2 0.4 2.2 1-1 0.8-0.5 0.7 1.8 2.2 0 0.7 0.3 0.7 0.9 0.2 0.7-0.3 0.5 0.1 0.2 0.7 2.3 2.5 0.8 0.3 1.4 0.1 1.5 0.5 1.7 0.9-0.8 1.5 0.4 0.7 1.9 0.7 0.6 0.5 0.7 1.4 0.7 0.5 1.4 0.5-1.4 0.8-2.9 0.8-2.3-0.5-0.7-0.4-1.5-0.3-0.6 0.3 0.6 0.7 1.5 0.2 1.5 0.7 1 1.3-0.4 0.8 0.9 1.1 2.2 0.4 0.7 0.4 1.5 0.2 1.5 1.1 0.8 0 0.7-0.2 0.9-0.9 1.3 0 1.5 0.9 2.3 0.8 1.5 0.2 0.6 1.7 0.7 0.8 0.2 0.7 0.7 0.6 1.5-0.2 2.2 0.9 1.1 0.8 1.7 0.8 1.7 0.6 1.5 0.1 2.2 0.7 3 1.5 3.7 1.5 3 0.5 2.9 1 3 0.4zM119.7 347.7l-0.9-0.8-0.1-0.7 0.3-0.4 1.5-0.9 0-0.2-0.4-0.7 0.9-0.7 1.7-0.2 1.5-1.3 1.5-0.1 1.7 0.9 0.3 0.7-1.3 1.6-0.7-1.4-0.8-0.7-0.2 0.5 0.8 1.4-0.8 0.7-1.4 0.8-1.4 1.2-1.4 0.4zM128.6 404.7l-0.7-0.5-0.7 0.1-0.8-0.3-0.7-0.7-0.9-0.1 0.1-0.3 1.5 0 0.8 0.2 0.7 0.5 1.5 0.4 0.5 0.6-0.5 0.3zM130.9 336.9l0-0.2 0.7-0.5 0.3 0.6-0.3 0.3zM133.1 413.1l-0.5-0.5 0.5-0.3 0.6 0.3zM139.8 415.5l0-0.1 0.7-0.2 0.4 0.3-0.4 0.3zM135.3 420.7l-0.6-0.2 0.6-0.4 0.8 0.4zM136.8 421.4l-0.3-0.2 0.3-0.4 1.2 0.4-0.4 0.2zM151 439.5l-0.4-0.2 0.4-0.4 0.6 0.4zM154.7 342.8l-1.5-1 0.7-0.3 0.8 0.3 0.7 0.6 0 0.3zM127.2 401.1l-1.5-0.6-0.7-0.9 1.4-0.4 0.8 0.2 1 0.9-0.1 0.7-0.2 0.1zM133.1 335.4l-0.6-0.8 0.6-0.7 0.4 0.7-0.4 0.7zM134.6 345.6l-0.7-0.9 0.7-0.3 0.9 0.3 0.2 0.7-0.4 0.2zM157.3 458.8l1.1 0.3 0.6-0.3-0.6-0.8-1.3 0.1zM153.7 457.3l1.9 0-0.9-0.1-0.4-0.6-1.1-0.3-0.6-0.4-0.9-0.2-1.1 0.2 1.2 0.7 1.4 0.5zM152.3 443.6l0.9 0.6 0.3-0.6-0.3-0.2-0.7 0.1zM144.2 437.8l0.8 0.3 0.4-0.3-1.1 0zM133.7 434.2l0.9 0.4 0.8-0.4-1.5-0.4zM136.5 429.2l1.8 0.4 0.7-0.4-1.4-0.4-0.8-0.4-1.5-0.2-0.3-0.5-0.4-0.1-0.4 0.1 0.4 0.6 1.5 0.6zM133 424.9l0.9 0.7 2.1-0.7-0.7-0.8-2.2-0.7-2.2 0 0.7 0.1 0.8 0.8zM129.3 423.4l1.3 0-0.1-0.7-1.1-0.9-2.2-0.3-0.8 0.2 0 0.4 0.7 0.6 1.5 0.5zM127.5 416.9l0.4 0.3 2.2-0.1 2.3 0.3 0.2-0.5-1-0.2-1.3-1.2-0.2-0.6-1.5-0.2-0.7-0.6-2.2 0.1-0.6 0.5 0.5 0.8 1.6 1.2zM120.4 406.1l0.8 0.5 0.4-0.5-0.4-0.2-0.7 0.1zM115.6 404.6l1.1 0.2 0.3-0.2-1-0.1zM93.4 377.9l1 0.3 0.5-0.3-0.5-0.6-0.7 0.3zM101.1 364.9l3-0.1 0.7-0.4 0.1-0.2-0.8-0.8-2.2-0.6-0.7-0.7 1.1-1.5-0.8-0.7-1.6-0.7-0.3-0.6-0.7 0-1.9 0.6-0.4 0.7 0.7 1.4-0.5 1.5 0.6 0.4 2.2 0.8 0.8 0.6zM210.1 344l1.1 0.3 0.8-0.3 0.2-1.4-0.2-1.5-1 0-0.1 0.7-0.7 1.5zM106.9 342.6l0.2 0.2 0.7-0.1 0.2-0.9-0.2-0.9-0.7-0.3-0.4 0.5-0.1 0.7zM104.9 335.3l0.7 0.5 0.7 0 0.6-0.5-0.8-0.7-1-1.4 1.2-0.7 1.5 0.5 0.4-0.5 0.2-0.8-0.6-0.3-0.7 0.1-1.5-0.5-0.8 0-0.7 0.8-0.2-0.8-0.6-0.3-0.4 0.3-0.3 0.7 0.4 1.5 1.1 0.8 0.7 1.2zM107.2 335.3l0.6 0.6 0.8-0.2 0.6-0.4 0.6-0.7-0.5-0.8-0.7-0.2-0.8 1zM154.9 332.5l0.5 0.4 2.3-0.2 1.5 0.5 0.7-0.4 0.2-0.3-0.2-0.9-1.3-0.6 0.3-0.7-0.5-0.5-0.4-1 0.1-0.7-1.7 0 0 0.7-0.2 0.6-1.6 0.9-0.3 0.7 0.1 0.7 0.3 0.5zM85 329.6l0.5 0.3 1.5-0.1 0.3-0.2-0.3-0.2-0.3-0.6-0.1-0.7 0.5-1.4-0.1-0.9-0.8-0.2-0.9 0.4-0.6 0.4-0.7 0-0.8 0.3 0.1 0.8 1.4 1.7zM78 325.2l2.3 0.6 0.5-0.6-0.3-1.4 0.6-2.2-0.8-1.2-0.8-0.4-0.7-0.9-0.3 0.4 0.1 0.7-0.6 0.7-0.3 2.2-0.5 0.7-0.2 0.7 0.3 0.3zM91.7 324.5l1.2 0.2 0.8-0.3 0.9-0.6 1.2-1.4 0-0.8-0.8-0.7-0.6-0.8-1.5 0.3-0.5 0.5 1.4 1.5-0.9 0.3-0.7 1.5zM56 323.8l0.5 0.3 0.4-0.3 0.1-0.7-0.5-1.5 1-0.7 0.1-0.7-0.4-1.3-0.7-0.6-0.8 0-1.5 0.8-0.3 0.4 0 0.7 0.8 0.7 0.3 1.5 0.3 0.7 0.4 0.4zM87 323.8l0.7 0 0.9-0.7 0.3-2.2-0.4-0.6-0.8 0.1-0.4 0.5-0.4 2.2z"/>
<path fill="#20c1b1" d="M205.6 460.2l1.9 0.2 0.3-0.2-4.7-2.3-3-1.1-9.7-3.1-3-1.5-1.5 0.1-1.4-0.6-2.3-0.5-0.3 0.4 1.1 0.3 0.7 0.7 1.5 0.4 2.2 1.2 2.3 0.6 2.1 1.1 3.8 1.1 3 1.3 1.5 0.4 1.5 0.9 3.7 0.5zM203.1 453l5.2 0.2 8.9-1.3 1.5-0.4 0.7-0.3 0.1-0.4-2.5-2.1-5.1-3.6-0.7-0.2-0.7-0.7-0.8-0.1-0.7-0.8-0.7-0.1-0.8-0.8-0.7 0-0.3-0.2 0.3-0.7 5.2 1 13.4 0.9 7.4 1.6 8.2 2.7 0.2-0.5-1.8-1.4-9.4-6.5-4.6-3.5-3.3-3 0.3-0.6 2.2 0.2 3 0.6 2.2 0.7 5.2 1.3 12 5 2.2 0.6 1.5 0.1-0.1-0.7-1.6-2.2-10.5-10.8 0.3-0.7 1.5 0.5 2.9 1.5 1.5 1 3 1.7 2.2 1.1 3.7 0.8 1.5-0.1 1-0.7 0.1-0.8-1.2-3.6 0.1-0.2 1.3-0.5 0.8-0.7 1.9-4.3-0.2-2.2-0.7-3.6-1.3-4.3-0.2-2.9-0.7-3.6-1.5-2.2-1.5-1.4-0.8-1.5-0.7-0.7-0.4-0.7-0.1-0.8 0.3-2.1-0.9-2.9-0.2-2.2-1.7-2.9-1.6-4.3-1.4-1-3.1-1.2-0.7-0.7-0.5-1.4-0.8-0.7-1.5-0.8-0.8-0.7-0.1-0.7 0.6-0.7 0.1-0.8-2.1-2.8-1-0.8-1.3-1.5-1.5-0.6-3-3-2.9-2.5-2.1-2.5-1.8-1.4-2.1-1.1-0.9-1.1-0.6-0.4-0.7 0.1-0.4 0.3-0.4 1.2-0.7-0.2-1.5-1.1-1.3-0.6-0.2-1.4-0.7-0.8-0.8-0.3-0.5-1.1-1-0.7-0.5-0.8 0.1-1.4-1.2-1.4 0.4-1.5 0-0.7-0.3-0.4-0.7-0.2-2.2 1.4-3 0.8-1.5-2-0.7 0-1.5 0.4-1.5-0.1-0.8-0.5-0.7-1.2-1.5-0.1-0.2-0.3 0.2-0.7-0.1-1.4 0.1-1.2 0.8-0.8 0.8-0.2-0.9-0.7-2.2-0.6-3 0-1.4 0.3-1.5-0.1-0.8-0.4-0.3 0.1-0.1 0.7-0.3 0.8-0.2-1.5-0.6-0.9-0.7-1.5-0.7-0.4-0.9 0.6-0.6 1.6-0.8 0.3-0.5-0.5-0.4 0-0.9 1.5-2 2.1-0.9 1.5-0.9 0.7-0.1 1.4-0.2 0.4-0.8-0.3-0.7-1.9-0.2-1-0.5-0.8-0.1-0.7 0.8-0.6 2.2-0.1 0.8-0.4 0.1-0.3-0.1-0.7-1.5-0.3-1.5 1.6-0.8-0.5-0.6-0.8 0-0.8-0.4-1.4 0.4-0.7 0.2-0.8-0.8-0.7-1.7-0.6-0.8 0-1.5 1.7-0.6 0.4-0.1 1.4-0.3 0.7-0.5 0.5-1.5-0.5-1.4 1-1.5-0.7-1.5-0.2-2.3-2.2-0.7-0.4-0.7 0.2-0.8 1.1-1.4 1.2-0.2 0.8-1.4 0-0.4 0.7 0.1 0.7 2.3 1.4 0.4 0.8-0.3 0.7-1.3 0.2-1.5-0.3-1.5-1.2-0.7-0.2-0.6-0.7 0-0.7 1.3-1.4 0.8-1.4 0.4-0.1 0-1.4-0.5-0.8-2.9-0.8-1.4 1.6-1.6 0.6-1.5 1.1-2.2 1.2-0.8 0.2-0.1-0.2 0.3-0.8 0.2-1.4-0.9-1.5-0.4-1.4 0.1-0.7 0.8-0.6 0.5-1.6 1.4-1.4-1.1-0.9-0.8 0.2-1.5 1.2-0.4-0.5 0.1-0.8-0.2-0.7-0.6 0-0.6 1.5-1.2 0.3-0.7 0.4 0.3 0.7 0.6 0.7-0.2 0.3-0.8 0.5-1.5-0.3-0.7 0.1-0.2 0.2 0.4 0.7-0.5 2.9-0.9 0.7-1 1.9-0.4-0.5-1.9-0.5-0.3-0.9 0.3-0.8 1.5-1.1 0-1 1.6-1.4-0.4-0.8-1.9-0.1-2.3-0.8-0.7 0-2.2 1.1-1.5 0-2.3 2.9-0.8 0.5-0.1 0.8 0.8 1.4-0.6 0.1-1.6 1.4-3.4 1.4 0.5 1 0.5 0.4-1.3 1.5 1.6 1.2 0.7 0.2 0.5-0.7-0.7-0.7 0.2-0.3 2.3-0.1 1.4-0.5 1.5-1.1 2.3-0.2 0.7 0.1 0.6 0.6 0.9 0.5 1.5 0.3 0.7 0.5 1.5 0 0.8 0.8 0.7 0 0.8-0.5 0.7 0.3 1.5 0.8 0.3 0.9-1.1 0.8-1.4 0.1-0.2 0.6 0.1 0.7-0.7 0.4-0.7 0-0.8-0.4-0.6-0.7 0.6-0.9 1.5-0.2 0.2-0.4-0.2-0.4-0.7-0.9-0.8 0.2-0.6-0.3-0.1-0.3-0.8-0.3-0.8 0.6-0.5 1.4-0.7 0.8-1.7 0.2-1.5-0.4-0.7 0.5-0.8 1.3-1.5 0.6-0.5 0.7 0.1 0.7 0.4 0.1 0.6 0.6-0.6 0.7-1.4-0.3-1.5 0.3-0.8-0.6-0.7-0.1-1.5 0.3-0.7-0.5-0.8-0.1-0.8 0.3-0.7 1.5-2.2 0.4-0.8 0.4-0.5 0.6 0.5 0.6 0.8 0.2 0.8 0.6-0.8 0.8-0.2 0.7 0 0.7 0.2 0.7-0.5 1.5 0.3 0.7 2.2 0.7 0.1 0.7-1.6 0.8 0.3 2.1-0.3 0.7 0.3 0.8 0.8 0.7 0.6 0.4 1.5 0.4 0.9 0.6 0.1 0.7-1.1 0.8-0.2 1.4-1 0.7 0.6 1.2 0.7 0.5 0.2 0.5-0.2 0.6-2 0.8 1.3 0.6 2.9 1.8 0.8 0.2 0.3 0.3-0.3 0.3-1.8 0.5 1 0.4 1.5 1.2 0.6 0.5 0.2 0.7-1.5 0.4-0.5 0.4-0.2 1.4-0.4 0.7-1.3 0.8 0.2 0.7 0.4 0.7-0.4 0.5-1.5-0.1-2.3-0.7-0.7 0-0.8 0.3-0.2 0.7 0.2 0.7 0.8 0.9 3-0.3 2.2 0.4 2.2 1.4 1.5-0.2 1.5 0.6 2.2-0.1 2.3 1.6 2.8 0.8 0.4 0.7 0.9 0.7-0.1 0.8 0.5 0.7 0.8 0.7 0.1 0.7 0.7 1.5-0.6 0.7 0.4 1.4 1.9 1.5-0.4 0.3-0.7 0-0.5 0.4 0.5 0.4 2.1 1 0.9 0.8 1.1 1.4-0.4 0.3-1.5 0.2-0.6 0.2 0.6 1 0.7 0.6 2.3 0.9 3.7 2 3 1 1.2 1-0.5 0.3-1.5-0.1-0.7-0.3-0.6 0.1 2.1 1.4 0.7 0.7 3.7 2.3 2.3 0.3 2.2 1.1 0.4 0.7-0.5 1.5 1.1 2.1-0.6 1.5 0.3 0.4 2.3 0.4 0.1-0.1-0.2-0.7 0.5-0.7 1.1-0.5 0.6 0.5 1 1.4 0.2 0.7-0.2 0.7 1.3 0.3 0.8 0.7 1 0.5 2 2.1-1.2 0.8 0.3 0.7 0.9 0.9 0.7 0.6 0.7 0.2 1.5 1.2 1.5 0.1 0.8 0.4 0.3 0.2 0.1 1.4 1.1 0.2 1.4-0.4 1.5 0.9 0.8 0.1 1.3 0.7 0.8 2.2 0.9 0.3 1.4 0.2 0.8 0.3 1.5 1.7 0.7 0.5 2.3 0.7 3.7 1.9 1.5 1 2.2 0.9 1.6 0.4 4.3 2.3 5.3 1.3zM205.3 441.5l0-0.4 1.4 0.4-0.7 0zM132.4 341.2l-0.8-0.4-1.5 0.2-0.7-0.1-1.1-1.2 0.8-0.7 1-0.5 0.8 0.5 0.7-0.1 1.5 0.6 0.8 0 0.3 0.2 0.3 0.7-1.4 0.8zM118.2 362.8l-0.7-0.4-1.6-0.3 0.8-0.3 1.3 0.3 0.2 0.3 0.8 0.4zM146.5 414.9l-0.2-0.2 0.2-0.2 0.7 0 0.4 0.2-0.4 0.6zM166.6 341.2l-0.7-0.8 1.4-1.1 0.8-0.1 0.7 0.2 1.3 1-2 0.3-0.8 0.5zM178.1 450.1l1.9 0.5 0.2-0.5-0.2-0.2-1.5-0.4-3-2.2-1.5-0.3-0.4 0.2-0.1 0.8 0.5 0.7 0.8 0.4 3 0.8zM167.1 443.6l1 0.2 0.5-0.2-1.3-1-0.7 0.2 0 0.3zM164.6 439.3l0.5 0.4 0.7-0.2 0.1-0.2-0.8-0.3zM161.3 437.8l0.8 0.3 0.3-0.3-1-0.1zM154.3 432.1l0.4 0.2 0.7-0.2-0.7-0.4zM151.9 428.5l1.3 0.5 0.7-0.1 0.2-0.4-1.6-0.8-1.5-0.4-0.8-0.6-5.9-2.1-0.8 0.3 0.5 0.7 1.8 1 1.4 0.2 1.5 1 3 0.6zM146.6 421.2l0.6 0.2 0.8 0 1.5-0.8 0.5-0.1-0.5-0.2-0.2-0.5-1.3-1.1-2.2-0.2-0.8 0.6 0.2 0.7 1.3 1.4zM110.4 380.8l1.1 0.6 0.9-0.6-0.9-0.4-0.7 0zM109.6 377.2l0.4 0.4 0.8-0.4-0.8-0.2zM98.7 360.6l0.2 0.1 0.4-0.1 0.2-0.7-0.6-0.2-0.8 0.1 0 0.2zM213.7 353.4l0.5 0.5 0.2-0.5-0.2-0.7 0.3-0.8 0.5-0.3 0-0.4-0.8 0-0.1 1.5zM200.1 345.4l0.7 0.5 0.6-0.5 0.2-0.7-0.4-0.7-0.4-0.2-0.3 0.2-0.4 1.3zM203.7 342.6l1.6 0.2 0.1-0.2-1.6-0.8zM153.6 338.2l0.3 0.6 1.4-0.6-0.6-0.2-0.6-0.5-0.4 0zM158.6 332.5l0.6 0.2 0.4-0.2-0.4-0.5zM155 331.7l0.4 0.5 0.8-0.1 0.6-0.4 0.2-2.1 0.7-1 0-0.5-0.9 0 0.1 1.5-0.7 0.5-1 0.2-0.4 0.7zM77.7 324.5l0.3 0.3 1.5 0.3 0.5-0.6 0.1-1.4 0.6-1.5-0.4-0.6-0.8-0.4-0.7 0.1-0.2 0.2-0.4 0.7 0 1.5-0.4 0.7zM54.7 320.2l0.3 0.2 0.7 0 0.8 0.4 0.7-0.4 0.1-0.2-0.8-1.3-1.5 0.7z"/>
<path fill="#43ca8b" d="M202.3 445.1l3 0.5 0.3-0.5-7.8-5.4-1.9-1.9-1-1.4-2.4-2.2-2.1-2.5-2.2-3.2-1.9-2.2 0.4-1.2 3.6 1.9 2.3 1.9 2.3 1.3 2.2 1.6 5.2 3.1 7.4 2 6 1 9.7 0.8 0.6-0.1-0.6-0.2-0.3-0.6-4.2-3.6-3.7-3.6-4.6-5 0.1-0.5 3 0.9 10.4 1.7 11.2 3.8 5.2 2.4 0.2-0.4-0.6-0.7-5.2-5.1-4.4-5-2.1-2.9-0.6-1.4 0-0.2 1.5 0.4 4.5 1.7 4.5 2.2 6.7 2.8 2.2 0.4 1.5-0.3 0-0.5-1.5-2.9-1.9-4.4 0.4-0.4 1.5 0.6 1.5 0 1.5-0.4 0.8-0.5 0.3-0.7-0.2-1.5 0.6-1.4 0.2-3.6-0.6-2.2-0.7-1.4-0.3-1.5-0.9-0.9-1.6-2.7-0.8-2.9-0.7-5.7-1.5-2.9-0.2-0.7-0.2-2.2-1.2-2.2-0.5-0.4-4.4-1.5-1.5-1-1.4-2.1-1.5-1.5-0.2-0.7 0.4-3.6-0.3-0.7-1.5-1.3-1.9-0.9-1.1-1.5-3.2-2.1-1-1.4-0.9-0.8-0.5-1.4-1.2-1.4-1.4-0.8-0.7-0.1-0.7 0.4-3 0.9-2.3-0.4 0-0.8 0.4-0.7 0-0.7-0.4-0.4-0.9-0.3-0.9-0.8-1.1-0.3-0.5-0.4-0.2-1.4-0.8-0.3-0.8-0.4 0.1-1.5-0.5-0.7-0.9-0.7-0.1-0.8 0.3-0.7-0.1-0.7-0.8-0.7-0.9-1.4-3 0.3-1.5 0.6-1.5-1.2-0.7-0.1-0.8 0.2-0.7 0-2.3-0.8-0.5-0.5-0.4-0.7-0.5-0.4-1.5 0-0.6-0.4-0.1-0.7 0.8-0.7 0-2.2 0.4-1.4-0.5-0.7-0.8-0.1-0.7 0.2-1.5-0.3-0.8 0.1-1.4 0.7-1.5 0.2-1.5 1-0.8-0.2-0.7-2.3 0.1-0.8-0.1-0.5-0.7-0.8-0.6 0.6-0.5 1.5-0.3 0.7 0 1.4-0.5 0.7-0.4 0.4-0.7 0-1.5-0.3-0.8 0.5-1.3 1.6-0.1 1.4-0.2 0.8 0.1 0.7 0.8 0 1.6 0.7-0.4 0.7-0.5 0.3-0.7 0-1.5-1.3-1.5 0.6-0.7-0.1-0.4-0.2-0.5-0.7 0.7-0.7 0.3-0.8-0.7-1.4-0.4-1.4-0.5-1.1-0.1-0.4 0.2-0.7-0.9-1.4 0.2-0.8-0.3-1.4 0.6-0.7 0.2-0.8-0.7-0.5-1.4-0.5-0.8 0.1-1.3 1.7-0.2 0.7 0 1.4 1.6 1.5 0.5 0.7-0.5 0.7-1.6 0.1-2.2 0.6-1.5 0-0.7-0.6-0.8-1.5-1-0.7-1.2-0.2-1.5-0.9-1.4-0.4-0.1-1-2.1 1.7-0.9 1.6-0.5 0.6 0.5 0.5 0.8 0.2 1.5 1.5 0.2 0.7-0.2 0.7-0.8-0.4-2.4 0.4-0.8 0.7 0.4 1.5-0.2 0.8-0.7 0.7-1.5 0-0.9-0.8 0-0.7 0.5-0.8-0.3-0.2-0.6-1.9-0.5-0.7-0.1-1.5-0.4-0.7 0.2-0.7 1.5-0.7 1.1-2.9-0.5-0.5-0.7 0-1.5 1.2-1.5-0.2-0.8 0.2-1 0.7-0.4 0.6-3.8 1.9-0.7-0.3-0.2-0.7 0.6-0.8 0.2-0.7-0.3-0.7-0.5-0.7-0.3-1.5-0.6-1.4 0.3-0.6 1.1-0.9-0.1-0.7-0.2-0.2-0.8 0-1.4-0.7-0.8 0.2 0 1.4-0.4 0.8-2 0.7-0.1 0.7-0.5 0.7-0.5 2.2-0.6 0.7 0.2 0.7 0.2 0.3 1.1 2.6-0.1 0.7-1 0.8 0.3 0.7 1.5 0.7 0.5 0.7-0.1 0.9-0.7 0.8-0.7 0.5-1 1.4-1.3 0.3-0.7 0-2.3-0.7-1.5 0.8-0.7-0.1-0.7-0.7-1.5-0.1-0.8-0.4-0.1 0.2 0.1 0.4 0.4 0.3-1.8 0.8 0.4 1.4-0.2 0.7-1.8 1-0.3 0.5 0 0.7 0.7 0.7-0.2 0.7 0.5 0.8 1 0.7-0.2 1.4-2.9-0.2-1.1-0.5-0.4-1.5-0.8 0.1-0.7-0.8 0.7-0.7-0.7-2.2-0.8 0-0.7 0.7-0.7 0.1-0.4 0.7 0.5 0.7-0.9 1.3-2.2 0.3-0.6 0.6 0.2 0.7 0.4 0.1 0.7-0.2 1.5 0.3 3 1.5 1.5 0 0.7 0.5 0.3 0.7-0.3 0.3-1.6 0.4 1.6 0.6 0.6 0.9 0.1 0.7-0.7 0.7-1.2 0.7 0.2 0.7 0.5 0.8-2.5-0.4-1.1 0.4 0.1 0.7 2.4 2.1-0.6 0.6-1 0.2 0.3 0.7 1.4 0.5 1.2 0.9 0 0.8-0.5 0.7 1 0.7 0.4 0.7 1.9 1.5 0.5 0.7 0.7 0.2 1.7 2 0.6 0.9 0.1 0.5-1.6 0.2-3-0.5-0.5 0.3 0.5 1.1 1 1.1-1.7 0.2-0.7 0.5 2.2 2.2 0.4 0.7-1.8 0.7 1.3 1.1 3.8 1 2.2 0 1.5 0.4 0.3-0.3-1.1-0.5-1.1-1 0.4-0.3 0.7 0 3 0.5 2.3 1.2 0.6 0.8-0.6 0.3-1.5-0.1-0.3-0.2-0.5-0.1-0.9 0.1 0.9 0.3 4.5 3.5 0.9 0.5-0.4 0.7 0.3 0.8 1.8 2.8-0.2 0.8 0.2 1.4-0.2 0.7-1.2 0.8 0.3 0.7 0.7 0.6 0.8 0.3 2.2 1.4 2.2-0.1 1.5 1 0.8 0.2 0.7 0 0.7-1 0.8 0 1.5 0.7 0.7 0 2.3 1 1.1 0.9-0.7 1.5 0 0.7 0.3 0.4 1.5 0.4 0.9 0.6 0.5 0.8-0.7 0.7 0.2 0.7 2.8 1.3 0.8 1 1.4 0 1.9 1.3 0.3 0.7 0.1 0.8-0.8 0.1-0.5 0.6 2 0.8 1.5-0.4 0.4 0.3-0.1 0.7 1.9 1.8 0.7 0.4 3.8 0.6 1.5 1.3 1.5 0.6 3.2 2.5 0 0.8 0.2 0.7 1.8 2.1 1.5 0.9 0.7 1.1 1.5 0.5 0.8 0.6 1.4 0.9 0.5 0.4 1 1.5 0.7 0.6 4 2.2 1.3 1 3.2 1.9 5.7 2.2zM188.2 349.9l-0.5-0.8 2.7-2.3 0.7 0 1.5 0.6 1.5 0 0.8 0.2 1.5 0.7-2.3 1.3-3-0.7-2.2 1.1zM124.9 361.4l-0.6-0.1-0.5-0.7 1.1-0.6 0.6 1.3zM143.5 404.4l-0.1-0.5-0.9-0.7 0.3-0.3 0.7-0.2 0.8 0.5 0.1 0.7-0.1 0.1zM181.5 347l-0.5-0.8 0-0.8 0.5-0.8 0.7-0.1 0.2 0.2 0.1 1.5-0.3 0.4-0.5 0.3zM185.2 424.3l-0.2-0.2 0.2-0.6 0.7 0.6zM185.9 425l-0.1-0.1 0.1-0.8 0.5 0.8zM151 411.1l0.7 0.4 0.9-0.4-0.1-0.2-0.8 0zM113.7 364.9l0.8-0.1 0.9-0.6-0.3-1.4-0.6-0.4-0.7-0.1-0.8 0.5 0.3 1.4zM151.4 346.2l0.3 0.3 0.8-0.1 0.1-0.2-0.1-0.3-0.8-0.1zM118.7 341.8l1.8 0.4 0.7 0 0.7-0.4 0.8-0.9 0.7-0.4 1.5 0.2 1.5-0.2 0.8 0.7 0.7 0.4 0.5-0.5-0.2-0.7-1.1-0.7 0.3-0.7 1.5-0.8 0.4-0.7-0.3-0.7 0.1-0.7 0.5-0.8 0.7-2.1 0.9-0.7-1.2-0.8-1.4-0.2-0.7 0.6-0.7 0.2-2.3 0-0.7 0.3-0.7 1.3-1.2 1.4 0.9 2.2-0.2 0.7-2.3 1.5-1 0.1-2.2 0.6 0.1 0.7 0.6 0.5zM141.8 330.3l0.2 0.2 0.4-0.2 0.5-0.7-0.6 0-0.3 0.1zM78.6 323.8l0.2 0.5 0.4-0.5-0.4-0.5zM78.7 322.4l0.1 0.5 0.7 0.1 0.7-1.4-0.7-0.4-0.7 0.1-0.2 0.3z"/>
<path fill="#81cc59" d="M214.5 432.1l0.6 0-0.3-0.8-2.6-2.8-3.9-5-3.2-4.4-1.8-2.2-0.8-1.4 0.6-0.2 4.4 2.7 2.2 1 5.3 1.7 7.4 1.4 3 0.3 3 0.9 2.2 0.9 0.2-0.1-0.2-0.7-1.8-2.2-5-7.9-1.1-2.2 0.1-0.7 0.3-0.2 3.8 1.2 4.4 2.1 2.3 0.5 3.7 1.6 2.2 0.8 2.2 1 2.3 0.5 0.5-0.3-0.5-2.1-2.6-6.5 0-0.8 0.3-0.2 0.8 0 2.2 0.1 0.8-0.4 1.5-2.3-0.2-2.2 0.2-3.6-0.6-2.2 0-2.9-0.8-1.4 0-0.7-0.2-0.8-1.7-1.4-0.1-2.9-1.1-1.7-0.8-0.5-0.7 0.1-2.2-1.5-1.5-1.4-3-3.6-0.7-0.5-0.8-0.3-0.3-0.7 1-1.4 0-0.8 0.6-1.4-0.2-0.7-3.3-2-2.2-0.9-0.2-0.7-0.6-0.6-0.7-0.4-0.5-0.5-0.3-0.7-1.6-1.4-0.2-0.8 0.3-0.7-0.2-0.7-0.5-0.3-0.8-0.3-0.7-0.1-0.7 0.2-1.1 1.2-0.4 0.2-2.3 0.7-1.5-0.2-0.7-0.5-0.2-0.9-0.5-0.7 0.2-1.5-0.1-0.7-0.9-0.8-0.7-0.4-3.8 0.1-0.7-0.3-2.2-0.1-0.5-0.7-0.2-0.7 0.1-0.7 1-0.7 1.8-0.6 0.4-0.9-0.2-1.4-0.4-1.5 0.1-0.7-0.6-1-0.8-0.4-0.7 0.4-1.5-0.8-0.8 0.4-0.7 0.8-1.5-1.3-0.7 0-1.5 0.9-0.8-0.2-0.1-0.9-0.5-0.8-0.9 0-0.7 1.3-1.5 0.1-1.5 0.9-2.2-0.7-0.8 0-2.2 0.8-3 0.4-0.7 0.5-1.4 0.3-0.8 0.5-0.8-0.5-0.7-1.6-0.8-0.7-2.2 0.3-0.7-0.2-0.8-0.6-0.7-0.2-1.5 0.3-0.7-0.1-0.2-0.8-1.1-0.7-0.3-0.7 1.5-1.2 0.2-0.3-0.2-0.6-0.6-0.8-0.2-1.4-0.6-1.5 0-0.7-0.6-0.7-0.1-0.7 0.2-0.8-0.1-1.4 0.6-0.7 0.3-0.8-1.1-0.6-0.7-0.1-0.8 0.2-0.4 0.5-0.4 1.5 0.3 1.4 1.4 1.5 0.4 0.7-0.4 0.7-0.9 0.4-1.8 0.3-1.6 0.8-1.1 0.8-2.2 0.4-0.7-0.5-0.6-0.7 0-0.8 1-0.7-0.1-0.7-1.1-1-0.7 0-1.5-0.8-2.2-0.7-0.8 0.3-0.4 0.8-0.2 0.7 1.4 1.8 1.3 1.1 0.2 0.5 0.7 0.6 0.1 0.3-0.8 1.4 0.5 1.5-0.1 0.7-0.4 0.4-0.8 0.1-0.7-0.3-1.5 0.2-0.8-0.4-0.7 0-0.8 0.5-1.4 0.5-2.3 0.5-0.7 0-0.3 0-0.3-0.8 0.6-0.7 0.2-2.2-1-1.4 0.6-2.2-0.1-0.7-0.7-0.7 0-0.7 0.4-0.7 0.2-0.8-0.3-0.7-0.8-0.3-0.8 0.3-0.4 1.5-1 1.1-1.5 0-0.8 0.7-0.7 0.1-0.8-0.3-1.7-0.9-0.1-0.7 0.9-0.8 0.2-0.7-1.2-1.4 0.3-1.5-0.6-1.2-0.3-0.2-0.4-1.1-0.1 0.4-1.8 0.7-0.9 1.4-0.6 1.5-0.2 1.4 0 1.5 0.1 0.7 0.8 1.4-0.1 0.7-0.4 0.8 0.2 0.3 0.7 0.1 0.4 0.3 0.4 1.4-0.1 0.7-0.4 0.8-0.8 0.7-0.5 1.4-4.9 1.6-0.8-0.4-0.7 0-2.2 0.3-1.5-0.2-0.8 0.7-0.2 0.9-1.2 1.5 0.7 1.3 0.8 0.8 0 0.8 0.5 1.4 1.4 1.4-0.2 0.8 0.5 0.6 1.1 0.8-0.1 1.5-1.2 0.7 0.2 2.1-0.8 0.3-0.8 0.5 0.8 0.8 0.8 0.1 0.7 0.4 0.3 0.8-0.3 0.3-0.7 0.2-1.5-0.1-2.3 0.2-0.8-1.3-0.7-0.3-0.7-0.1-1 0.4 1.2 1.4 0.1 0.8-1.1 0.7 0.2 0.7 0.6 0.6 2.7 0.9 2.3 1.4-1.8 0.7 0.3 0.7 0.4 0.8 1.3 0.5 0.8 0.5 0.3 0.4-0.3 0.7 0.1 0.8 2.1 1.4 0.1 0.7-0.1 0.1-2.2 0.2-0.8 0.4 1.4 1.5 3.1 2 1.5 0.3 1.1 0.6-0.1 0.7 0.5 0.7 2.2 1.3 0.6 0.9 0.2 0.7-0.3 1.4 3.9 1.9 1.5 1.2 1.5 0.6 0.8-0.1 0.5-0.7-1.3-1.1-2.2 0-0.2-0.3-2.4-1.5 1.1-0.3 2.2 0.2 1.5 0.6 3.7 0.7 2.3 1.4 1.5 0.5 0.9-0.2-0.3-0.7 0.9-0.3 2.2 0.3 1.7 1.5-0.2 0.3-2.3-0.5-0.8 0.2 0.5 1.4 1 0.7 4.7 2.2 0.6 0.7-0.7 0.6-0.8-0.1-0.5 0.2 0.2 0.8 1.1 0.9 1.4 0.3 1.5 1 1.5 0.6 3 0.1 0.8 0.7 2.2 1.4 0.7 0.8 0.8 0.3 1.4 0 1.5 0.5 0.8 0.1 2.2 1 2.3 1.6 0.7 1.5 0.8 0.7 4.4 2.3 0.6 0.6 1.1 1.4 4.2 3.7 5 3.6 6.2 3.8 4.5 1.6 2.2 0.5 2.2 0.8 3 0.4zM204.5 352l-0.3-0.8 0.3-0.3 1.6 0.3 0.5 0.7-0.6 0.5-0.7 0zM143.5 390.2l0.8-0.2 0.2 0.2-0.2 0.2zM146.5 355.7l-0.1-0.9 0.1-0.9 0.3 0.2-0.1 1.5zM166.6 357.1l-0.8-0.2-0.5-0.6-0.4-0.7-0.1-0.8 0.3-0.4 0.7-0.5 2.3-0.3 0.5 0.5 0.3 0.7-0.8 2-0.8 0.3zM195.6 357.5l-0.6-1.2 0.3-0.7 1.3-0.8 0.2-0.7 0.3-0.2 0.4 0.2 0.1 0.7-0.5 1.2-0.2 1-0.5 0.7zM157.5 403.9l0.9 0.5 0.5-0.5-1.2-0.1zM151.6 402.5l2.2 0-2.1-0.1zM121.8 364.9l0.1 0.2 0.9-0.2-0.1-0.7-0.8-0.1-0.7 0.2zM121.4 361.3l0.5 0.7 0.7-0.7-0.7-0.4zM185.5 347.6l1.9 0.4 0.9-0.4 1.3-1.4 0.8-0.5 2.2 0.3 0.3-0.6-0.2-1.4 0.2-0.7 0.5-0.7 0.7-0.4 0.6-1.1 0.1-0.7-0.7-0.3-0.7 0.2-1.5-0.2-1.5 0.7-1.5 0.3-0.7 0.4-0.4 0.3 0.2 1.5-0.2 0.7-0.4 0.7-0.7 0.3-0.8 0.1-1.4-0.8-0.8 0.3-0.2 0.8 0.2 1.8 1.5 0.4zM179.1 346.2l0.9 0.1 0.4-1.6 1.4-1.4-1.1-0.3-1.5 0.8-0.4 0.9 0 0.7zM183.7 341.8l0 0.3 0.8 0 0.4-0.3 0.2-1.4-0.6-1.4-0.7 0.7 0.2 1.4-0.3 0.6zM120.7 341.1l0.5 0.2 0.3-0.2-0.3-0.6zM124.4 339.7l0.5 0.5 0.8-0.1 0.5-0.4 0.2-0.7 1.9-1.5-0.2-0.7-0.9-0.7-0.1-0.8 0.8-0.4 0.7 0.3 0.7-0.6 0.3-0.7-0.2-0.9-0.8-0.4-2.9 0.2-0.8 0.1-0.3 0.3 0 0.7-0.4 0.6-0.8 0.4-0.3 0.4 1.5 2.9-0.1 0.8z"/>
<path fill="#c1c32c" d="M204.9 424.1l0.4 0.2 0.6-0.2-0.4-0.7-2.6-3.6-2.9-3.6-5.2-8-1.2-1.4-0.1-0.7-0.4-0.7 0.3-0.5 0.6 0.5 1.6 0.6 3 2.3 3 1.4 2.1 1.4 3.8 2.1 4.5 1.7 4.4 1.1 3 0.2 2.3 0.4 0.7-0.1 0.5-0.3-0.2-0.7-2.7-5.1-1.3-4.7-0.4-1.1-0.6-0.7-0.2-0.7 0.4-0.6 0.8 0.1 0.7 1 0.2 0.9 1.3 1.2 3 0.2 2.2-0.1 2.3 0.1 2.9 0.5 2.3-0.3 2.2 0.8 1.5 0.7 0.5-0.9-0.2-0.7-1.2-2.2-0.4-3.6 0.5-1.5 0.8 0.4 0.4-0.3-0.4-0.6-0.8-0.4-0.7 0.5-0.8-0.8 0.1-0.9 0.7-0.6 0.7 0 0.8 0.8 1.5 0.4 0.7-0.4 0.8-1 1.6-1.4-0.9-1.1-1.5 0.1-0.4-0.4-0.7-1.5-1.1-1.4-1.6-0.7-0.4-0.7 0.1-0.8 0.9-1.4 0.2-0.7-0.4-2.2-1.1-1.5-0.8-0.7-1.1-1.4-1-0.7-1.5-1.4-3.1-2.2-1.4-2.1-0.7-1.6-0.9-2.8 0-1.5-0.3-0.7-0.3-0.2-0.8 0-0.7 0.3-1.5-0.7-0.7 0.1-0.8 0.4-2.2 0.3-1.5 0.9-0.8-0.4-1.4-0.2-1-0.5 0.9-1.4 0.6-2.2-0.1-1.4-0.4-0.6-0.8-0.4-1.5 0-0.7 0.2-0.2 1.5-1.6 1.4 0 2.2-0.4 0.7 0.7 0.3 0.5 0.4 0.2 0.8-0.7-0.2-1.1-0.6-1.9 0-0.7-0.4-0.9-1-0.3-0.7 0.7-1.5-0.1-0.7-0.3-0.7 0.1-1.5-0.5-1.4 0.3-0.7 0.1-1.5 0.4-1.4-0.4-1.5 0.1-1.4-2.2-2.4-0.7 0-0.3 0.2-0.3 0.7 0.6 1.5-0.4 0.7-2.2 2.2 0 0.7 0.6 0.7-0.8 2.2 0.5 1.4 0 0.8-0.7 0.5-1.4-0.5-0.8-1.2-1.6-0.3-0.7-0.7-0.1-0.7-0.5-0.8-1.2-0.7-0.4-0.7 1.5-1.1 0.1-0.3-0.2-0.8-0.7-0.5-1.4-0.2 0.1-1.4-0.2-1.6-0.7-0.1-0.7 0.2-1.5 1.1-2.3 0.5-0.7 0.5-0.3 0.8 1.2 2.2 0.3 0.7-0.1 0.7-1.1 0.3-1.2-0.3-1-0.7-2.3-0.1-0.8-0.6-0.3-0.7 0.3-0.8 1-1.4-0.6-2.2-0.3-0.3-1.5 0-3-0.7-0.7 0.1-1.5 0.7-0.8-0.6-0.7 0.2-0.8-0.1-0.2-1.4 0.7-1.5 0.2-1.4 0.5-0.8 0.2-0.7 0-0.7 0.3-1.4-0.3-0.8-0.6-0.4-2.8 1.2-0.4 0.7-0.2 1.4-0.3 0.3-0.8 0.2-1.5-0.9-0.7-0.1-1.5 0.7-0.5-0.9-1-0.8-0.7-0.1-0.4 1.6-0.7 0.7-0.3 0.8 0.4 1.4-0.5 0.9-0.7 0.3-1.5-0.1-1.5 0.2-0.8-0.3-0.7-0.1-0.8 0.4-2.2 0.4-3 1.3-0.5 0.6 0.4 2.2-0.8 1.4-0.1 1.5-0.5 0.5-0.5 0.2-0.2 1.8-0.7 0.4-2.3-1-0.6-0.5-0.2-0.7 0.1-0.7 0.7-0.3 0.8 0.6 0.7 0.3 0.5-0.6-0.8-1.5 0.2-0.7 0.6-0.7 0.1-0.7-0.3-0.8 0.5-0.7 1-0.7-0.3-0.7-0.8-0.7-0.2-0.8 0.3-0.3 1.4-0.1 0.5-0.3 1.1-1.4-0.2-0.8-0.6-0.2-1.5 0.7-0.7 0-1-0.5-0.5-0.7 1.2-0.7 1.7-0.3 0.8-0.4 0.5-0.7 0.2-0.8-1.5-1.6-0.7 0.2-2.2 1.4-0.8 0-3-1-0.5 0.3-0.4 0.7-0.2 0.8 0 0.7-1 0.7-0.2 2.2-0.9 0.7 0 0.7 0.4 0.7 0.7 0.8 1.1 0.7-0.4 0.5-1.5-0.2-0.3-0.3-0.5-0.3-0.7-0.1-1.5 0.5-0.7 0.1-1.5 0.8-1.5 0.5-0.8-0.3-0.7-0.7-1 0.2-0.1 1.4 0.8 1.5 0.3 0.2 0.7-0.5 0.5 0.3 0.4 0.7 0.1 1.5 1.3 1.4 0.7 1.4-0.5 0.8-2.5 0.9-0.2 0.5 0.4 1.5 0 0.7-0.7 0.7 0 1.4-0.7 0.8-0.2 0.7 1.6 2.1-2.2 0.8-1 0.7 0.3 0.7-0.1 0.7-0.2 0.8 0.8 0.3 0.7 0.1 0.5-0.4-1-0.8 0.5-0.3 2.3 0.1 0.7-0.4 0.8 0.2 0.3 0.4 0.3 1.5-1.8 0.7 1.1 1.4-0.9 0.8-0.5 0.7 1.5 0.9 3.7 1.2 0.7 0.5 1.9 1.7 0.1 0.7-0.4 0.8 1.4 0.5 1 1.6 1.2 0.3 1.9 1.2 1.9 0.5 2.4 2.4-1 0.2-0.5 0.5 1.3 1 1.5 0.5 1.5 0.1 0.1-0.2-0.6-0.7-0.3-0.6-0.3-0.1 1.8 0.1 1.5-0.5 0.7 0.4 2.3 2.1 1.5 0.3 0.7 0.6 0.8 0.9 0.7 0.5 2.2 0.7 1.5 1 3 1.1 1.5 1.7 2.2-0.1 1.2 1.3 1.8 1.1 0.7 0.4 1.5 0.2 0.8 0.4 0.4 0.8-0.2 0.7 0.1 0.7 0.4 0.7 3 2.8 0.7 0.4 1.5 0.2 1.6 1.7 2.9 1.9 1.5 0.6 2.3 1.8 1.3 2.2 1.6 1.3 2.2 1 4.5 3.1 4.4 2.3zM154.7 362.1l-0.3-0.8 0.3-0.9 0.7 0.3 0.8-0.1 0.9 1.5-0.9 0.7-0.8-0.2zM159.2 365.1l-0.6-0.9 0-0.7 0.6-0.5 0.7-0.2 0.7 0.2 0.3 0.5-0.2 1.4-0.8 0.5zM165.8 358.7l-1.4-1.4-2.3-1 0.8-1.5 0.7-0.4 1-1 1.2-0.9 1.5 0.2 2.3-1.2 0.7 0.1 0.6 1.1-0.1 1.4 0.3 1.6-1 0.6-0.2 0.7-1.1 1.1-0.7 0.4-1.5 0.3zM156.2 360.5l-0.4-0.6 0.4-0.2 0.7-0.2 0.4 0.4-0.4 0.5zM159.2 358.7l-0.8-0.3 0.8-0.6 0.7 0 0.4 0.6-0.4 0.2zM138.4 389.5l1.4 0.2 0.4-0.2-0.4-1.4-0.7 0.2-0.8 0-0.5 0.5 0.5 0.7zM139.2 387.3l0.6 0.7 2.1-1.4-1.6-0.7-1.2-0.2-0.4 0.2 0.4 1.1zM142 387.3l0.8 0.4 0.8-0.4-0.8-0.4zM131.3 383l0.3 0.3 0.8-0.1 0.3-0.2-1.1-0.1zM206.2 354.1l0.6 0.5 0.7 0.1 0.6-0.6 0-0.7-0.6-0.7-1.2 0.7zM125.4 353.4l1 0.2 0.5-0.2 0.4-0.7-0.9-1-0.7 0.1-0.9 0.9 0.1 0.2zM193.4 353.4l1.5 0.1 1.5-1.1 1.4-0.4 0.4-0.8-0.4-0.5-1.4 0.4-1.5 1.5-0.8-0.6-0.7-0.1-0.3 0.8zM185.7 346.9l1 0.3 0.7 0 0.5-0.3 0-0.7-0.5-0.3-0.7-0.1-1.2 0.4zM190.5 344.7l0.6 0.3 0.9-0.3-0.1-0.3-0.8-0.6-0.1 0.2zM189.3 343.3l0.4 0.2 1.4-0.8 0.8-0.1 0-0.5-0.8 0 0-0.3-0.7-0.3-0.7 0-0.8 0.3-0.2 0.8 0.2 0.4zM158.1 341.1l1.1 0.4 0.7-0.3 0.2-0.8 0-0.7-0.8-0.7-1.6-0.6-0.8 0.6 0 0.7 0.8 1.1zM137 340.4l0.6 0.4 0.8-0.4 1-2.2-0.1-0.7-1.7-0.7-0.8 0-0.6 2.2 0 0.7 0.6 0.6zM170.9 338.2l0.2 0.2 0.2-0.2 0-1.4 0.8-0.7 0.4-0.8-0.7-0.3-0.7-0.1-0.8 0.4-0.1 0.8 0.1 0.7 0.4 0.7zM124.9 336.8l0.8 0.7 0.7-0.3 0.1-0.4-0.3-0.7 0-0.8 1-1 0.7-0.1 0.7 0.1 0.4-0.4-0.4-0.6-2.2-0.2-0.7 0.2-0.4 0.6-0.2 1.4-0.6 0.8zM138.2 335.3l0.9-0.1 0.7-0.6-0.3-0.7-0.4-0.4-0.8-0.2-0.9 0.6-0.2 0.7 0.4 0.6z"/>
<path fill="#f2ba38" d="M214.6 409.7l1.1 0.4 0.7 0 0.8-0.1 0-0.7-0.8-1.6-1.4-1.7-1.1-2.1-1-1.4-1-2.9-0.3-1.5-0.9-1.4-0.2-1.4-0.9-0.8 0-0.7 2.4-0.8 0.7 0.3 0.8-0.5 0.2-0.4 0.1-0.8-1.2-1.4 0.9-0.5 0.7 0.1 0.5 0.4 1 1.3 0.7 0.1 0.8-0.2 1.7 1 2.4 0.7 0.4 0.6 0.7-0.5 0.5-0.8 0.2-0.9 1.5 0 2.3-1.1 0.7-1.7 1-0.7 0.2-0.7-0.4-0.7-0.8-0.3-1-1.1-0.2-1.5-1.6-0.7-0.2-0.7 0.3-1.5-2.5-1.4-0.7-0.7 0.3-0.8 1.1-0.7-0.1-0.7-0.6-0.6-1.5-0.3-0.7 1-0.8 0.1-0.7-0.5-0.8-1.4-0.5-0.5 2-0.2 0.7-0.5 0.1-0.8-0.8-0.7-1.5 0.5-0.7-0.1-0.3 0.4 0.3 0.9-0.4 1.2-0.4 0.3-0.7 0.1-0.7-0.2-0.8-0.9-1.5-1-3.7-1.5-0.7-0.8-3-1.7-2.5-2.9-0.1-0.7 0.2-0.8-0.6-0.7-2.2-0.1-2.3 0.6-1.7-0.5-1.2-1-0.8 0.1-0.7-0.5-0.8-2.9-0.7-0.5-1.5 0-1.5-1.4-0.7 0-0.8 0.7-2.9 0.9-0.4 0.3 0.6 0.7 1.5 2.9-0.3 0.5-0.7 0.2-0.7-0.5-0.8-0.2-0.7 1.2-0.3-0.5 0.2-1.4-0.7-1.5-0.1-0.7-0.5-0.7-1.6-0.9-0.6-0.6-0.1-0.7-0.8-0.7-0.5-0.7-0.2-1.3-0.8 0-0.7 0.6-0.8 0.1-0.7-0.1-1.1-0.8-0.4-0.8-0.8-0.1-0.2 0.2-0.2 0.7 0.4 3.6-2.2 1.8-1.5 0.2-1.5-0.6-1.5 1.3-1.6-0.5 0.4-0.7 0-0.7-0.3-0.8-0.7-0.3-0.7-0.2-0.8 0.5 0.3 0.8 0.7 0.7-0.3 0.7 0.5 1.5-0.1 0.7-0.7 0.7-0.3 0.7 0 1.5-0.6 1.4 0.4 1.4-0.2 0.8-0.5 0.7-0.3 1.4 1.9 0.7 0.7-0.2 3-1.4 0.7 0 0.2 0.2 0.6 1.5 0.7 0.8 0.8 0.6 1.2 1.4 0.4 1.5-0.2 0.7-0.7 0.3-0.7-0.3-1 0-0.8 1.5 1.5 2.8 2 1.5 0.4 1.4 0.5 0 0.3-0.2 0.1 0.2 0.7 0.3 0.7 1.1 2.3 0.9 0.7-0.2 0.5-1.3 1-1.6 0.7 0 1.5 0.5 0.8 0 2.2-1.1-0.2-0.7-1.3-0.4-0.1-0.4 0.1-1.4 0.3-0.7 0.5-0.5 0.7 0.2 1 1.7 0 1.5 1.2 1.5 2.3 2.1 0 0.7-2.3 1.3-0.5 0.9-0.2 2.1 0.4 0.7 1.8 0.2 1.5 0.6 1.5-0.1 1.5 0.4 0.5 0.4 0.6 2.2 0.5 0.7 0.6 1.4 0.5-0.7 1-0.5 2.5 0.5 2.7 1.3 0.7 0.9 0.1 0.9 0.5 1.2 0 1.5 0.3 1.4 0.7 0.6 2.2 0.6 2.2 1.2 3 0.3 2.5 1.6 0.1 0.8 1.1 0.4zM220.9 389.9l-0.7-0.4-0.7-0.7-0.1-0.6-0.7 0.1-0.3-0.3 0.3-0.1 0.7 0.1 0.8-0.5 0.7-0.1 1 0.6 0.2 0.8-0.4 0.9zM169.6 370.3l-0.7-0.3 0.7-0.4 0.7 0.4zM171.1 364.2l-0.4-0.7 0.4-0.8 0.3 0.8zM171.8 374.6l-0.7-0.3 0-2.1 0.5-1.5-0.2-0.7 0.4-0.7 0.7-0.4 2.3-1.7 0.7-0.2 0.8 0.1 0.6-0.7-0.6-0.3-1.5 0-2.3-0.3-0.7-0.6-0.6-1 0.6-0.2 1.5 0.1 2.2 1.2 0.9-0.4 0.8 0 0.6 1.5 0.8 0.7 0.4 0.7 0.2 0.2 0.8-0.2 0.7 0.4 0.8 1.2 1.5 0.6 0 0.7-0.8 1.5-0.7 0.5-3 0.6-0.9-1.1-0.6-1.5-0.7-0.6-0.8 0-0.7 0.6-0.1 0.7-0.6 1.5-0.9 0.7-0.7 1zM191.1 377.9l-0.8-1.4-0.6-0.4-0.8 0.3-0.7-0.1-0.5-0.5 0.5-0.8 1.5-0.1 0.7 0.5 0.7 0.2 0.8-0.3 0.7-1.3 0.8 0 0.7 0.9 0.8-0.1 1.5-0.8 0.2 0.3-0.1 0.7-0.9 0.9-0.7 0.1-0.7-0.2-0.1-0.3-1.5 0.5-0.7 1.9zM194.1 373l-2.2-0.7-1.5-1-0.5-0.6 0.1-0.7-0.2-0.7-0.9-0.3-0.6-1.2 1.4-2.1 1.6-0.8 0.6-1 0.7 0 2.3 1 0.1 0.8 0.8 0.7 2 1.2 0.5 0.9 0.1 0.8-0.5 0.7-0.8 0.3-0.7-0.2-0.8-0.7-0.7-0.2-0.8 0.8 0.1 0.7 1.2 1.5-0.1 0.7-0.4 0.1zM187.3 406.1l0.9 0.3 0.7-0.2-0.1-0.8-0.4-0.8-3.9-3.6-0.8-2.2-2.2-2.1-0.8-0.3-2.9-0.6-1.5 0.5-1.5 0-0.6 0.4 1.3 0.9 1.2-0.2 0.3-0.4 0.2 0.4 0.6 0.4 2.2 0.8 1.5 2.4 1.9 1.5 0.3 0.9 0.5 0.5 1.4 0.7 1.1 1zM176 395.3l0.3 0.3 0.3-1.1 0.1-0.7-0.4-0.7-0.8-0.3-1.3 0.3-0.2 0.7 1.5 1.2zM220.5 395.3l0.4 0.4 0.8 0 0.3-0.4 0.1-0.8-0.4-0.6-0.8 1zM215.1 393.8l1.3 0.7 0.8-0.3 0.3-1.1-0.2-0.7-0.9-0.7-0.7 0.2-0.7 1.2zM166.1 389.5l2 0.3 0.2-0.3-0.2-0.4-0.7-0.3 0.7-2.2-2.3-0.4-1.4 0.8-1.5 0-0.8-0.7-0.3-0.4 0.3-0.7 1.4-0.8-0.6-0.5-0.5-0.9-0.1-0.7 1.1-1.5-2.8-2.6-1.4-0.1-0.5 0.6-0.7 1.4-1.2 0.7-0.2 1.5-0.4 0.3-1.5-0.1-0.8-0.5-2.2-0.8-1.4-1.1 0.1-0.7 0.6-0.2 0.4-0.5 0.2-2.2 1.6-0.2 1.2-0.5-1.2-0.9-1.5-0.3-0.8-1 2.2-0.7 0.5-0.7-1.5-1.5 0.4-0.7 0.7-0.4 0.7 0.1 1.5 0.9 0.8-0.5 0.3-0.8 0.6-0.8 0.3-0.7-0.5-0.3-0.7-1.5-1.6-1.1-0.5-0.7-0.1-0.7-0.8-1.1-0.5-1.8 0.5-1.2 0.9-1 0.6-0.4 0.7-0.2 0.8 0.1 0.7-0.1 0.9-0.8 0.3-0.7 0-0.7-0.2-0.8-0.8-0.7 1.3-1.4 0.8-0.1 0.7 0.1 1.5 1 0.7 0.1 1.5-1 2.2-1.2 1.5 0.1 0.8-0.3 1.2-0.9 0.8-2.2 0.5-0.7-0.4-1.4 0.1-0.5 0.1-0.3 0.7-0.2 0.3-0.5 0-1.4 0.5-0.7-0.1-0.4-0.7 0-1.7 1.1-0.3 0.7 0.5 1.4-2.3 0.4-1.5-0.7-0.7-0.1-1.5 1.1-0.7-0.3-0.4-1.1-0.4-0.4-1.4 1.9 0.7 1.1 0.5 0.3-0.7 1.5-2 0.6-1.5 0-0.8 0.4-0.7 0.1-1.5-0.6-0.8 0.4-0.4 0.5-0.3 0.9-0.7 0.4-1.5-0.5-0.8-0.1-0.4 0.7 0.1 0.8-0.2 0.7-1.2 1.4-0.1 0.8 0.3 1.4-0.4 1.4 0 0.8-0.9 1.4 0.4 1.5-0.4 0.7-0.9 0.8-0.7 0.4-0.8 0-1.8-1.2-0.4-1.5-0.8-0.7-1.5-0.7-0.7 0-0.7-0.4-0.7 0.4 0.6 0.7 0.2 0.7-0.3 0.8-0.6 0.2-2.2-0.6-2.2-0.8-1.5-0.2-0.8 0.6 0 1.5-0.4 0.7 0.1 0.7 0.3 0.7 1.3 1.5-0.5 0.3-0.8 0.2-0.7-0.3-0.4 0.5 0.4 0.3 0.7 0 1.5 0.6 0.8 0 0.3-0.2-0.2-0.7 0.6-0.5 1.5-0.2 0.7-0.5 1.5-0.1 0.8 0.1 0.8 0.5 0.5 0.7 0.9 0.6 0.7 0.4 0.8 0 0.3-0.3-1.1-0.2-0.7-1-0.6-0.2 5.1-1.7 0.7 0.2 0.8 0.8-0.8 2.2-0.7 0.6-2.3-0.1-0.2 0.1 0 1.5-0.5 0.3-0.8 0.1-0.7-0.7-0.8 0-0.2 0.3 0.2 0.3 0.8 0.1 2.2 1.6 2 0.9 0.5 0.7-1 0.9-0.3 0.5 0 1.5 0.2 0.7-0.6 0.5-0.8 0.1-0.7-0.2-0.5 0.3 0.8 0.8 0.4 0.7-0.7 0.5-1.5-0.3-0.8 0.4 0 0.1 0.8 0.9 0.7 0.3 1.5-0.2 0.9-0.3-0.4-0.7 0.3-0.2 0.7 0.6 1.5 0.3 0.7-0.1 1.5 0.5 1.5 0 0.5 0.3 0.2 0.8-0.1 0.7-1.3 0.2-0.8-0.2-0.7-0.1-0.3 0.1-0.4 0.7 0.1 0.7 0.6 0.4 0.7 0.2 3-0.4 0.8 0.2 0.7-0.2 0.7-0.4 3 1.4 1.5 1.2 1.5 0.1 1.5 0.5 0.7 0.6 0.4 0.8 0.4 0.3 2.9 0.3zM153.9 355l-0.2-0.2-0.4-0.7 0.6-0.1 1.9 0.1 0.3 0.7-0.7 0.4-0.7 0zM162.9 350l-0.5-0.2 0.5-0.6 0.3 0.6zM149.5 375.8l-0.5-0.8 0.5-0.1 0.2 0.1 0 0.8zM152.5 384.1l-0.8-1-0.3-0.1 1.1-0.5 0.5 0.5 0.2 0.9zM231.7 385.9l1.1 0.7 0.8-0.4 0.3-1-0.1-0.8-0.2-0.4-1.5-1-0.8 1.4-0.2 0.8 0.2 0.1zM165 379.4l0.8 0.3 0.8-0.2 0.2-0.1 0-0.7-1.7-0.5-0.4 0.5zM138.6 377.2l3.5 0-0.8-0.1-0.2-0.6-1.3-0.5-0.1-0.2-1.1-0.8-0.3-0.5-0.7 0.1-1.5-0.7-1.2 0.4 0.5 0.7 2.9 2.1zM161.7 377.2l0.4 0.4 0.9-0.4-0.9-0.7-0.7-0.3-0.2-0.4-0.6-0.5-0.7-0.4-0.7 0-0.3 0.1 0 0.8 0.3 0.5 0.7 0.3 0.7-0.1 0.8 0.3zM161.3 374.3l0.1 0.2 0.7-0.1 0.2-0.8-0.9-0.8-0.8-0.9-1.6 0.3 0.2 0.7 1.5 0.7zM138 373.6l0.3 0.4 0.2-0.4-0.2-0.8-0.1 0.1zM215.7 373.6l0.7 0.3 0.6-0.3-0.6-0.1zM139.9 358.4l0.6 0.7 0.8-0.7-0.3-0.7-0.6-0.7-0.1-0.7 0.2-1.2 0.8 0.1 0.7-0.2 0.5-0.9 1-0.4 1.1-1-1.1-1.3-0.5-0.2 0.5-0.4 0.8 0.3 0.7-0.4 0.4-0.2 0.3-0.7-1.2-1.5-0.1-0.7 0.6-0.7 1.7 0-1.7-0.1-0.4-0.6-1.6-1.5-1.5-0.7 0.2-0.7 0.7-0.7-0.5-0.8-0.6-0.1-0.6 0.1-0.3 0.8 0.1 0.7-1.5 1.4-0.1 2.2-0.3 0.7 2 2.2 0.4 0.7-1.2 0.6-0.7 0-0.8 0.3-0.4 0.5 0.1 0.8-0.4 0.2-0.8 0.3-1.5-0.1-0.3 0.3 0.6 1.4-1.7 0.4-0.6 0.4 0.4 0.7 0.9 0.6 0.7 0.2 1.5-0.3 0.8 0.1 1.7 0.8 0.5 0.7zM142 347.6l-0.9-0.7 0.9-0.3 0.8 0.1 0.2 0.2-0.2 0.7-0.2 0zM139.8 354.4l-0.5-1 0.5-0.4 0.7 0.1 0.6 0.3 0 0.7-0.6 0.6zM201.2 357l0.4 0.7 0.7 0 1.2-1.4-0.4-1.1-1.5 0.3-0.7 0.8zM178.3 354.1l0.9-0.4 0.4-0.3 0-0.7-0.8-0.8-1-0.2-0.3 0.2-0.3 1.5 0.6 0.7zM145.7 342.6l0.8 0.2 0.6-0.2 0-0.8-0.6-0.2-0.6 0.2-0.1 0.6zM158.1 340.4l0.3 0.3 0.8-0.3-0.3-0.7-0.5-0.4-0.7 0.4zM170.9 336.1l0.2 0.1 0.2-0.1 0.6-0.8-1 0z"/>
<path fill="#fccf30" d="M206.4 383l0.4 0.2 0.4-0.2 0.5-0.7 0.3-1.5-0.5-0.4-0.9 0.4-0.4 0.7 0 0.8zM174.4 379.4l0.4 0.3 0.7 0.1 0.8-0.4-0.8-0.8-0.8 0.1zM201.5 373.6l0.8 0.5 0.8 0 0.7-0.5-0.7-1.7-0.8-0.1-1 1.1zM167.3 367.8l1-0.7-1-0.3-0.7-0.6-0.8 0.1 0.4 0.8 0.4 0.2zM148.5 367.1l0.2 0.3 2.3 0.2 0.7-0.3 0.8-0.6 0.5-1-0.2-0.8-0.3-0.4-1.5-1 0.2-0.7 0.6-0.7-0.1-0.8-0.7-0.5-0.8 0-0.8 0.5-0.3 0.8 0.1 0.7-0.9 1.4 0.4 1.5-0.1 0.7zM139.7 364.2l0.8 0.1 0.2-0.1-0.6-0.7-0.8 0zM174.1 360.6l0.7 0.4 0.7 0 1-0.4 0.6-0.7 0.1-0.7-0.8-1.5-1.6-0.8-0.4 0.1-0.2 0.7 0 0.7-0.4 1.5 0.2 0.6zM150.9 359.9l0.1 0.1 0.7-0.2 0.5-0.6 0-0.8-0.5-0.7 2.2-0.5 0.5-0.2 0-0.7-2.7-1.2-0.7 0.1-0.8 0.3-0.2 0.8 0.3 0.7-0.4 0.7-0.1 0.7 0.4 0.9zM160.2 351.9l1.2 0.4 0.7-0.2 0.2-0.2-0.2-0.7-0.6-0.7-0.9-0.2-0.9 0.2-0.7 0.7 0.9 0.6zM165.6 350.5l1 0.2 0.7 0 0.4-0.2 0.7-0.7-0.3-0.6-0.8 0.2-0.8-0.3-0.5-0.8 0.2-0.7-0.2-0.7-0.9-0.7-0.9 0.7-0.2 0.7 0.7 0.7 0.1 1.5 0.3 0.5zM168.7 349.1l0.1 0 0.7-1.5-0.7-0.7-0.8 0.7 0.1 1zM139.7 345.4l0.1 0.5 2.2-0.3 0.4-0.2-1.1-0.7-0.8-0.2-0.7 0.2z"/>
</g>
<path d="M43.7 312L45.2 312.2L46.8 312.3L48.3 312.5L49.9 312.6L51.4 312.8L53 312.9L54.5 313.1L56.1 313.3L57.6 313.4L59.2 313.6L60.7 313.7L62.2 313.9L63.8 314.1L65.3 314.2L66.9 314.4L68.4 314.6L70 314.7L71.5 314.9L73.1 315.1L74.6 315.2L76.2 315.4L77.7 315.6L79.2 315.7L80.8 315.9L82.3 316.1L83.9 316.3L85.4 316.5L87 316.6L88.5 316.8L90.1 317L91.6 317.2L93.2 317.4L94.7 317.6L96.2 317.7L97.8 317.9L99.3 318.1L100.9 318.3L102.4 318.5L104 318.7L105.5 318.9L107.1 319.1L108.6 319.3L110.1 319.5L111.7 319.7L113.2 319.9L114.8 320.2L116.3 320.4L117.9 320.6L119.4 320.8L121 321L122.5 321.2L124.1 321.5L125.6 321.7L127.1 321.9L128.7 322.1L130.2 322.4L131.8 322.6L133.3 322.8L134.9 323.1L136.4 323.3L138 323.6L139.5 323.8L141.1 324.1L142.6 324.3L144.1 324.6L145.7 324.8L147.2 325.1L148.8 325.4L150.3 325.6L151.9 325.9L153.4 326.2L155 326.4L156.5 326.7L158.1 327L159.6 327.3L161.1 327.6L162.7 327.9L164.2 328.2L165.8 328.5L167.3 328.8L168.9 329.1L170.4 329.4L172 329.7L173.5 330.1L175.1 330.4L176.6 330.7L178.1 331.1L179.7 331.4L181.2 331.7L182.8 332.1L184.3 332.5L185.9 332.8L187.4 333.2L189 333.6L190.5 334L192.1 334.3L193.6 334.7L195.1 335.1L196.7 335.6L198.2 336L199.8 336.4L201.3 336.8L202.9 337.3L204.4 337.7L206 338.2L207.5 338.6L209 339.1L210.6 339.6L212.1 340.1L213.7 340.6L215.2 341.1L216.8 341.7L218.3 342.2L219.9 342.8L221.4 343.4L223 343.9L224.5 344.6L226 345.2L227.6 345.8L229.1 346.5L230.7 347.1L232.2 347.8L233.8 348.6L235.3 349.3L236.9 350.1L238.4 350.9L240 351.7L241.5 352.5L243 353.4L244.6 354.3L246.1 355.3L247.7 356.3L249.2 357.3L250.8 358.4L252.3 359.6L253.9 360.8L255.4 362L257 363.4L258.5 364.8L259.5 365.8L260.5 366.8L261.4 367.8L262.3 368.8L263.2 369.8L264 370.8L264.8 371.8L265.5 372.8L266.3 373.8L267 374.8L267.6 375.8L268.2 376.8L268.9 377.8L269.4 378.8L270 379.8L270.5 380.8L271 381.8L271.5 382.8L272 383.8L272.4 384.8L272.9 385.8L273.3 386.8L273.7 387.8L274 388.8L274.4 389.8L274.7 390.8L275.1 391.8L275.4 392.8L275.7 393.8L276 394.7L276.3 395.7L276.5 396.7L276.8 397.7L277 398.7L277.2 399.7L277.5 400.7L277.7 401.7L277.9 402.7L278.1 403.7L278.3 404.7L278.5 405.7L278.6 406.7L278.8 407.7L278.9 408.7L279.1 409.7L279.2 410.7L279.4 411.7L279.5 412.7L279.6 413.7L279.8 414.7L279.9 415.7L280 416.7L280.1 417.7L280.2 418.7L280.3 419.7L280.4 420.7L280.5 421.7L280.6 422.7L280.6 423.7L280.7 424.7L280.8 425.7L280.9 426.7L280.9 427.7L281 428.7L281.1 429.7L281.1 430.7L281.2 431.7L281.2 432.7L281.3 433.6L279.4 434.5L279 433.5L278.9 432.5L279 431.5L278.8 430.5L278.9 429.5L279.5 428.5L279.7 427.5L279.1 426.5L278.6 425.5L278.9 424.5L279 423.5L278.3 422.6L277.6 421.6L277.7 420.6L278 419.6L278.1 418.6L277.7 417.6L277.3 416.7L277.3 415.7L277.5 414.7L277.7 413.6L277.2 412.7L276.7 411.8L276.8 410.7L276.6 409.8L275.7 408.9L275.5 407.9L276 406.9L276.2 405.8L276 404.8L275.8 403.9L275.9 402.8L276.1 401.7L275.8 400.8L274.9 399.9L274.4 399L274.3 398L273.7 397.1L273.5 396.1L273.9 395L274 393.9L273.5 393L273.1 392L272.9 391L272.4 390.1L271.5 389.3L270.8 388.4L270.7 387.4L270.7 386.2L270.3 385.2L269.8 384.3L269.3 383.4L268.5 382.5L267.8 381.7L267.5 380.6L267.3 379.4L266.8 378.4L265.7 377.7L264.7 377L264.1 376.1L263.1 375.3L262.3 374.4L261.9 373.2L261 372.3L259.8 371.8L258.8 370.9L258.1 369.8L257.5 368.6L256.5 367.6L254.8 366.5L253 365.6L251.2 364.8L249.4 364L248 363L246.5 361.9L245 361.1L243.4 360.3L242 359.4L240.7 358.2L239.3 357.2L237.7 356.6L236.3 355.5L235.2 354.1L233.7 353.3L231.9 353.3L230.1 353.1L228.4 353.1L226.4 353.6L224.9 353L223.5 352.1L222 351.6L220.8 350.3L219.6 348.8L218.2 348L216.5 348L214.7 348.3L213.1 348.1L211.7 347.3L210 347.4L208.4 347.1L207.2 345.9L205.4 346.1L203.6 346.6L202.4 345.4L201.1 344L199.7 343.2L198.3 342.3L196.9 341.6L195.3 341.3L193.7 341.3L192.1 341.2L190.6 340.6L189.3 339.3L188 338L186.5 337.9L184.6 339L182.7 339.9L181.3 339.3L179.9 338.3L178.4 337.7L177 337L175.5 336.5L173.9 336.3L172.5 335.5L171 335.2L169.4 335.2L167.9 334.5L166.4 334.2L164.7 334.8L163.1 334.8L161.8 333.3L160.4 332.3L158.7 332.7L157 333.4L155.5 333.2L153.9 333.1L152.3 333L150.8 332.6L149.3 332.3L147.7 332.4L146.2 332.1L144.7 331.7L143.1 331.6L141.5 331.8L140 331L138.6 330.4L136.9 330.9L135.3 331.4L133.6 331.8L132 332.1L130.6 331.3L129.2 329.8L127.9 327.9L126.5 326.8L125 326.6L123.4 326.7L121.8 326.6L120.3 326.7L118.8 326.1L117.4 324.7L116 323.8L114.3 324.2L112.7 324.3L111.3 323.7L109.8 323.2L108.2 323L106.5 323.9L104.9 324.1L103.5 323L102.1 322L100.6 321.1L99.1 320.7L97.5 320.8L96 320.7L94.4 320.9L92.8 320.9L91.3 320.5L89.8 319.9L88.3 319.6L86.7 319.4L85.2 319.1L83.6 319L82 319.3L80.5 319.2L79 318.8L77.4 318.6L75.9 318.3L74.4 317.9L72.9 317.6L71.3 317.3L69.8 317.1L68.2 316.9L66.7 316.8L65.1 316.7L63.6 316.5L62.1 316.2L60.5 316L59 315.8L57.5 315.6L55.9 315.4L54.4 315.2L52.8 315.1L51.3 314.9L49.7 314.7L48.2 314.5L46.7 314.4L45.1 314.2L43.6 314Z" fill="#000"/>
<path clip-path="url(#rc)" d="M43.7 312.7L45.2 312.9L46.8 313L48.3 313.2L49.9 313.3L51.4 313.5L53 313.6L54.5 313.8L56.1 314L57.6 314.1L59.2 314.3L60.7 314.4L62.2 314.6L63.8 314.8L65.3 314.9L66.9 315.1L68.4 315.3L70 315.4L71.5 315.6L73.1 315.8L74.6 315.9L76.2 316.1L77.7 316.3L79.2 316.4L80.8 316.6L82.3 316.8L83.9 317L85.4 317.2L87 317.3L88.5 317.5L90.1 317.7L91.6 317.9L93.2 318.1L94.7 318.3L96.2 318.4L97.8 318.6L99.3 318.8L100.9 319L102.4 319.2L104 319.4L105.5 319.6L107.1 319.8L108.6 320L110.1 320.2L111.7 320.4L113.2 320.6L114.8 320.9L116.3 321.1L117.9 321.3L119.4 321.5L121 321.7L122.5 321.9L124.1 322.2L125.6 322.4L127.1 322.6L128.7 322.8L130.2 323.1L131.8 323.3L133.3 323.5L134.9 323.8L136.4 324L138 324.3L139.5 324.5L141.1 324.8L142.6 325L144.1 325.3L145.7 325.5L147.2 325.8L148.8 326.1L150.3 326.3L151.9 326.6L153.4 326.9L155 327.1L156.5 327.4L158.1 327.7L159.6 328L161.1 328.3L162.7 328.6L164.2 328.9L165.8 329.2L167.3 329.5L168.9 329.8L170.4 330.1L172 330.4L173.5 330.8L175.1 331.1L176.6 331.4L178.1 331.8L179.7 332.1L181.2 332.4L182.8 332.8L184.3 333.2L185.9 333.5L187.4 333.9L189 334.3L190.5 334.7L192.1 335L193.6 335.4L195.1 335.8L196.7 336.3L198.2 336.7L199.8 337.1L201.3 337.5L202.9 338L204.4 338.4L206 338.9L207.5 339.3L209 339.8L210.6 340.3L212.1 340.8L213.7 341.3L215.2 341.8L216.8 342.4L218.3 342.9L219.9 343.5L221.4 344.1L223 344.6L224.5 345.3L226 345.9L227.6 346.5L229.1 347.2L230.7 347.8L232.2 348.5L233.8 349.3L235.3 350L236.9 350.8L238.4 351.6L240 352.4L241.5 353.2L243 354.1L244.6 355L246.1 356L247.7 357L249.2 358L250.8 359.1L252.3 360.3L253.9 361.5L255.4 362.7L257 364.1L258.5 365.5L259.5 366.5L260.5 367.5L261.4 368.5L262.3 369.5L263.2 370.5L264 371.5L264.8 372.5L265.5 373.5L266.3 374.5L267 375.5L267.6 376.5L268.2 377.5L268.9 378.5L269.4 379.5L270 380.5L270.5 381.5L271 382.5L271.5 383.5L272 384.5L272.4 385.5L272.9 386.5L273.3 387.5L273.7 388.5L274 389.5L274.4 390.5L274.7 391.5L275.1 392.5L275.4 393.5L275.7 394.5L276 395.4L276.3 396.4L276.5 397.4L276.8 398.4L277 399.4L277.2 400.4L277.5 401.4L277.7 402.4L277.9 403.4L278.1 404.4L278.3 405.4L278.5 406.4L278.6 407.4L278.8 408.4L278.9 409.4L279.1 410.4L279.2 411.4L279.4 412.4L279.5 413.4L279.6 414.4L279.8 415.4L279.9 416.4L280 417.4L280.1 418.4L280.2 419.4L280.3 420.4L280.4 421.4L280.5 422.4L280.6 423.4L280.6 424.4L280.7 425.4L280.8 426.4L280.9 427.4L280.9 428.4L281 429.4L281.1 430.4L281.1 431.4L281.2 432.4L281.2 433.4L281.3 434.3L272.5 434.8L272.5 433.8L272.4 432.9L272.3 431.9L272.3 430.9L272.2 429.9L272.2 429L272.1 428L272 427L272 426L271.9 425.1L271.8 424.1L271.7 423.2L271.6 422.2L271.5 421.2L271.4 420.3L271.3 419.3L271.2 418.3L271.1 417.4L271 416.4L270.9 415.5L270.8 414.5L270.7 413.6L270.5 412.6L270.4 411.7L270.3 410.8L270.1 409.8L269.9 408.9L269.8 407.9L269.6 407L269.4 406.1L269.3 405.2L269.1 404.2L268.9 403.3L268.7 402.4L268.5 401.5L268.2 400.6L268 399.7L267.8 398.8L267.5 397.9L267.2 397L267 396.1L266.7 395.2L266.4 394.3L266.1 393.4L265.8 392.5L265.4 391.6L265.1 390.8L264.7 389.9L264.4 389L264 388.1L263.6 387.3L263.2 386.4L262.7 385.6L262.3 384.7L261.8 383.8L261.3 383L260.8 382.1L260.2 381.3L259.7 380.4L259.1 379.6L258.5 378.7L257.8 377.9L257.2 377L256.4 376.2L255.7 375.3L254.9 374.5L254.1 373.6L253.3 372.7L252.4 371.9L251.1 370.6L249.7 369.5L248.3 368.4L246.9 367.4L245.5 366.4L244 365.5L242.6 364.7L241.1 363.9L239.7 363.1L238.2 362.4L236.7 361.8L235.2 361.2L233.7 360.6L232.2 360L230.7 359.5L229.2 359L227.7 358.5L226.1 358.1L224.6 357.7L223.1 357.3L221.6 356.9L220 356.5L218.5 356.2L217 355.8L215.5 355.5L213.9 355.2L212.4 354.9L210.9 354.6L209.3 354.3L207.8 354L206.3 353.8L204.8 353.5L203.3 353.2L201.7 353L200.2 352.7L198.7 352.4L197.2 352.2L195.7 351.9L194.2 351.6L192.7 351.3L191.1 351L189.6 350.7L188.1 350.4L186.6 350.1L185.1 349.8L183.7 349.4L182.2 349.1L180.7 348.7L179.2 348.4L177.7 348.1L176.2 347.7L174.7 347.4L173.2 347.1L171.7 346.7L170.2 346.4L168.7 346.1L167.2 345.8L165.7 345.5L164.2 345.2L162.7 344.9L161.2 344.6L159.7 344.3L158.2 344L156.7 343.7L155.1 343.4L153.6 343.2L152.1 342.9L150.6 342.6L149.1 342.4L147.6 342.1L146.1 341.8L144.6 341.6L143 341.3L141.5 341.1L140 340.8L138.5 340.6L137 340.3L135.5 340.1L133.9 339.8L132.4 339.6L130.9 339.4L129.4 339.1L127.9 338.9L126.3 338.7L124.8 338.4L123.3 338.2L121.8 338L120.2 337.8L118.7 337.6L117.2 337.3L115.7 337.1L114.1 336.9L112.6 336.7L111.1 336.5L109.6 336.3L108 336L106.5 335.8L105 335.5L103.5 335.3L102 335L100.4 334.7L98.9 334.5L97.4 334.2L95.9 333.9L94.4 333.6L92.9 333.3L91.3 332.9L89.8 332.6L88.3 332.3L86.8 332L85.3 331.7L83.8 331.3L82.3 331L80.7 330.7L79.2 330.4L77.7 330L76.2 329.7L74.7 329.4L73.2 329.1L71.6 328.7L70.1 328.4L68.6 328.1L67.1 327.8L65.6 327.5L64 327.2L62.5 326.9L61 326.6L59.5 326.3L57.9 326.1L56.4 325.8L54.9 325.5L53.4 325.3L51.8 325.1L50.3 324.8L48.8 324.6L47.2 324.4L45.7 324.2L44.2 324.1L42.6 323.9Z" fill="#000" fill-opacity="0.16"/>
<path clip-path="url(#rc)" d="M43.7 312.7L45.2 312.9L46.8 313L48.3 313.2L49.9 313.3L51.4 313.5L53 313.6L54.5 313.8L56.1 314L57.6 314.1L59.2 314.3L60.7 314.4L62.2 314.6L63.8 314.8L65.3 314.9L66.9 315.1L68.4 315.3L70 315.4L71.5 315.6L73.1 315.8L74.6 315.9L76.2 316.1L77.7 316.3L79.2 316.4L80.8 316.6L82.3 316.8L83.9 317L85.4 317.2L87 317.3L88.5 317.5L90.1 317.7L91.6 317.9L93.2 318.1L94.7 318.3L96.2 318.4L97.8 318.6L99.3 318.8L100.9 319L102.4 319.2L104 319.4L105.5 319.6L107.1 319.8L108.6 320L110.1 320.2L111.7 320.4L113.2 320.6L114.8 320.9L116.3 321.1L117.9 321.3L119.4 321.5L121 321.7L122.5 321.9L124.1 322.2L125.6 322.4L127.1 322.6L128.7 322.8L130.2 323.1L131.8 323.3L133.3 323.5L134.9 323.8L136.4 324L138 324.3L139.5 324.5L141.1 324.8L142.6 325L144.1 325.3L145.7 325.5L147.2 325.8L148.8 326.1L150.3 326.3L151.9 326.6L153.4 326.9L155 327.1L156.5 327.4L158.1 327.7L159.6 328L161.1 328.3L162.7 328.6L164.2 328.9L165.8 329.2L167.3 329.5L168.9 329.8L170.4 330.1L172 330.4L173.5 330.8L175.1 331.1L176.6 331.4L178.1 331.8L179.7 332.1L181.2 332.4L182.8 332.8L184.3 333.2L185.9 333.5L187.4 333.9L189 334.3L190.5 334.7L192.1 335L193.6 335.4L195.1 335.8L196.7 336.3L198.2 336.7L199.8 337.1L201.3 337.5L202.9 338L204.4 338.4L206 338.9L207.5 339.3L209 339.8L210.6 340.3L212.1 340.8L213.7 341.3L215.2 341.8L216.8 342.4L218.3 342.9L219.9 343.5L221.4 344.1L223 344.6L224.5 345.3L226 345.9L227.6 346.5L229.1 347.2L230.7 347.8L232.2 348.5L233.8 349.3L235.3 350L236.9 350.8L238.4 351.6L240 352.4L241.5 353.2L243 354.1L244.6 355L246.1 356L247.7 357L249.2 358L250.8 359.1L252.3 360.3L253.9 361.5L255.4 362.7L257 364.1L258.5 365.5L259.5 366.5L260.5 367.5L261.4 368.5L262.3 369.5L263.2 370.5L264 371.5L264.8 372.5L265.5 373.5L266.3 374.5L267 375.5L267.6 376.5L268.2 377.5L268.9 378.5L269.4 379.5L270 380.5L270.5 381.5L271 382.5L271.5 383.5L272 384.5L272.4 385.5L272.9 386.5L273.3 387.5L273.7 388.5L274 389.5L274.4 390.5L274.7 391.5L275.1 392.5L275.4 393.5L275.7 394.5L276 395.4L276.3 396.4L276.5 397.4L276.8 398.4L277 399.4L277.2 400.4L277.5 401.4L277.7 402.4L277.9 403.4L278.1 404.4L278.3 405.4L278.5 406.4L278.6 407.4L278.8 408.4L278.9 409.4L279.1 410.4L279.2 411.4L279.4 412.4L279.5 413.4L279.6 414.4L279.8 415.4L279.9 416.4L280 417.4L280.1 418.4L280.2 419.4L280.3 420.4L280.4 421.4L280.5 422.4L280.6 423.4L280.6 424.4L280.7 425.4L280.8 426.4L280.9 427.4L280.9 428.4L281 429.4L281.1 430.4L281.1 431.4L281.2 432.4L281.2 433.4L281.3 434.3L275.8 434.6L275.8 433.7L275.7 432.7L275.6 431.7L275.6 430.7L275.5 429.7L275.5 428.7L275.4 427.8L275.3 426.8L275.2 425.8L275.2 424.8L275.1 423.8L275 422.9L274.9 421.9L274.8 420.9L274.7 419.9L274.6 419L274.5 418L274.4 417L274.3 416L274.2 415.1L274.1 414.1L273.9 413.1L273.8 412.2L273.7 411.2L273.5 410.3L273.4 409.3L273.2 408.3L273 407.4L272.9 406.4L272.7 405.5L272.5 404.5L272.3 403.6L272.1 402.6L271.9 401.7L271.7 400.7L271.4 399.8L271.2 398.8L270.9 397.9L270.7 397L270.4 396L270.1 395.1L269.8 394.1L269.5 393.2L269.2 392.3L268.9 391.4L268.5 390.4L268.2 389.5L267.8 388.6L267.4 387.7L267 386.8L266.6 385.9L266.1 384.9L265.6 384L265.2 383.1L264.7 382.2L264.1 381.3L263.6 380.4L263 379.5L262.4 378.6L261.8 377.7L261.1 376.8L260.4 375.9L259.7 375L259 374.1L258.2 373.1L257.4 372.2L256.5 371.3L255.6 370.4L254.7 369.5L253.3 368.2L251.8 367L250.4 365.8L248.9 364.7L247.5 363.7L246 362.7L244.5 361.8L243 360.9L241.5 360.1L240 359.3L238.5 358.6L237 357.9L235.5 357.2L234 356.5L232.4 355.9L230.9 355.3L229.4 354.8L227.8 354.2L226.3 353.7L224.8 353.2L223.3 352.7L221.7 352.3L220.2 351.8L218.6 351.4L217.1 351L215.6 350.6L214 350.2L212.5 349.8L211 349.4L209.4 349.1L207.9 348.7L206.4 348.4L204.8 348L203.3 347.7L201.8 347.3L200.3 347L198.7 346.7L197.2 346.3L195.7 346L194.2 345.7L192.6 345.3L191.1 345L189.6 344.7L188.1 344.3L186.6 344L185.1 343.6L183.6 343.3L182 342.9L180.5 342.5L179 342.2L177.5 341.9L176 341.5L174.5 341.2L173 340.9L171.4 340.5L169.9 340.2L168.4 339.9L166.9 339.6L165.4 339.3L163.8 339L162.3 338.7L160.8 338.4L159.3 338.1L157.8 337.8L156.2 337.5L154.7 337.3L153.2 337L151.7 336.7L150.1 336.4L148.6 336.2L147.1 335.9L145.6 335.7L144 335.4L142.5 335.1L141 334.9L139.5 334.6L137.9 334.4L136.4 334.2L134.9 333.9L133.3 333.7L131.8 333.4L130.3 333.2L128.7 333L127.2 332.7L125.7 332.5L124.2 332.3L122.6 332.1L121.1 331.8L119.6 331.6L118 331.4L116.5 331.2L115 331L113.4 330.8L111.9 330.6L110.4 330.3L108.8 330.1L107.3 329.9L105.8 329.6L104.2 329.4L102.7 329.2L101.2 328.9L99.7 328.7L98.1 328.4L96.6 328.2L95.1 327.9L93.5 327.6L92 327.4L90.5 327.1L89 326.8L87.4 326.6L85.9 326.3L84.4 326L82.9 325.7L81.3 325.5L79.8 325.2L78.3 324.9L76.8 324.7L75.2 324.4L73.7 324.1L72.2 323.9L70.6 323.6L69.1 323.3L67.6 323.1L66.1 322.8L64.5 322.6L63 322.3L61.5 322.1L59.9 321.9L58.4 321.6L56.9 321.4L55.3 321.2L53.8 321L52.3 320.8L50.7 320.6L49.2 320.4L47.6 320.2L46.1 320L44.6 319.9L43 319.7Z" fill="#000" fill-opacity="0.22"/>
<path clip-path="url(#rc)" d="M43.7 312.7L45.2 312.9L46.8 313L48.3 313.2L49.9 313.3L51.4 313.5L53 313.6L54.5 313.8L56.1 314L57.6 314.1L59.2 314.3L60.7 314.4L62.2 314.6L63.8 314.8L65.3 314.9L66.9 315.1L68.4 315.3L70 315.4L71.5 315.6L73.1 315.8L74.6 315.9L76.2 316.1L77.7 316.3L79.2 316.4L80.8 316.6L82.3 316.8L83.9 317L85.4 317.2L87 317.3L88.5 317.5L90.1 317.7L91.6 317.9L93.2 318.1L94.7 318.3L96.2 318.4L97.8 318.6L99.3 318.8L100.9 319L102.4 319.2L104 319.4L105.5 319.6L107.1 319.8L108.6 320L110.1 320.2L111.7 320.4L113.2 320.6L114.8 320.9L116.3 321.1L117.9 321.3L119.4 321.5L121 321.7L122.5 321.9L124.1 322.2L125.6 322.4L127.1 322.6L128.7 322.8L130.2 323.1L131.8 323.3L133.3 323.5L134.9 323.8L136.4 324L138 324.3L139.5 324.5L141.1 324.8L142.6 325L144.1 325.3L145.7 325.5L147.2 325.8L148.8 326.1L150.3 326.3L151.9 326.6L153.4 326.9L155 327.1L156.5 327.4L158.1 327.7L159.6 328L161.1 328.3L162.7 328.6L164.2 328.9L165.8 329.2L167.3 329.5L168.9 329.8L170.4 330.1L172 330.4L173.5 330.8L175.1 331.1L176.6 331.4L178.1 331.8L179.7 332.1L181.2 332.4L182.8 332.8L184.3 333.2L185.9 333.5L187.4 333.9L189 334.3L190.5 334.7L192.1 335L193.6 335.4L195.1 335.8L196.7 336.3L198.2 336.7L199.8 337.1L201.3 337.5L202.9 338L204.4 338.4L206 338.9L207.5 339.3L209 339.8L210.6 340.3L212.1 340.8L213.7 341.3L215.2 341.8L216.8 342.4L218.3 342.9L219.9 343.5L221.4 344.1L223 344.6L224.5 345.3L226 345.9L227.6 346.5L229.1 347.2L230.7 347.8L232.2 348.5L233.8 349.3L235.3 350L236.9 350.8L238.4 351.6L240 352.4L241.5 353.2L243 354.1L244.6 355L246.1 356L247.7 357L249.2 358L250.8 359.1L252.3 360.3L253.9 361.5L255.4 362.7L257 364.1L258.5 365.5L259.5 366.5L260.5 367.5L261.4 368.5L262.3 369.5L263.2 370.5L264 371.5L264.8 372.5L265.5 373.5L266.3 374.5L267 375.5L267.6 376.5L268.2 377.5L268.9 378.5L269.4 379.5L270 380.5L270.5 381.5L271 382.5L271.5 383.5L272 384.5L272.4 385.5L272.9 386.5L273.3 387.5L273.7 388.5L274 389.5L274.4 390.5L274.7 391.5L275.1 392.5L275.4 393.5L275.7 394.5L276 395.4L276.3 396.4L276.5 397.4L276.8 398.4L277 399.4L277.2 400.4L277.5 401.4L277.7 402.4L277.9 403.4L278.1 404.4L278.3 405.4L278.5 406.4L278.6 407.4L278.8 408.4L278.9 409.4L279.1 410.4L279.2 411.4L279.4 412.4L279.5 413.4L279.6 414.4L279.8 415.4L279.9 416.4L280 417.4L280.1 418.4L280.2 419.4L280.3 420.4L280.4 421.4L280.5 422.4L280.6 423.4L280.6 424.4L280.7 425.4L280.8 426.4L280.9 427.4L280.9 428.4L281 429.4L281.1 430.4L281.1 431.4L281.2 432.4L281.2 433.4L281.3 434.3L278.3 434.5L278.2 433.5L278.2 432.5L278.1 431.5L278.1 430.5L278 429.6L277.9 428.6L277.9 427.6L277.8 426.6L277.7 425.6L277.6 424.6L277.6 423.6L277.5 422.6L277.4 421.7L277.3 420.7L277.2 419.7L277.1 418.7L277 417.7L276.9 416.7L276.8 415.8L276.6 414.8L276.5 413.8L276.4 412.8L276.2 411.8L276.1 410.9L276 409.9L275.8 408.9L275.6 407.9L275.5 406.9L275.3 406L275.1 405L274.9 404L274.7 403.1L274.5 402.1L274.3 401.1L274.1 400.1L273.8 399.2L273.6 398.2L273.3 397.2L273.1 396.3L272.8 395.3L272.5 394.3L272.2 393.4L271.9 392.4L271.5 391.5L271.2 390.5L270.8 389.6L270.5 388.6L270.1 387.6L269.7 386.7L269.2 385.7L268.8 384.8L268.3 383.8L267.8 382.9L267.3 381.9L266.8 381L266.3 380L265.7 379.1L265.1 378.1L264.4 377.2L263.8 376.2L263.1 375.3L262.4 374.4L261.6 373.4L260.9 372.5L260.1 371.5L259.2 370.6L258.3 369.6L257.4 368.7L256.4 367.7L254.9 366.3L253.4 365.1L252 363.8L250.5 362.7L249 361.6L247.4 360.6L245.9 359.6L244.4 358.7L242.9 357.8L241.4 357L239.9 356.2L238.3 355.4L236.8 354.7L235.3 353.9L233.7 353.3L232.2 352.6L230.7 352L229.1 351.4L227.6 350.8L226 350.2L224.5 349.7L223 349.1L221.4 348.6L219.9 348.1L218.4 347.6L216.8 347.1L215.3 346.7L213.7 346.2L212.2 345.8L210.7 345.4L209.1 344.9L207.6 344.5L206 344.1L204.5 343.7L203 343.3L201.4 342.9L199.9 342.6L198.4 342.2L196.8 341.8L195.3 341.4L193.8 341.1L192.2 340.7L190.7 340.3L189.2 340L187.7 339.6L186.1 339.2L184.6 338.9L183.1 338.5L181.5 338.2L180 337.8L178.5 337.5L177 337.1L175.4 336.8L173.9 336.5L172.4 336.1L170.8 335.8L169.3 335.5L167.8 335.2L166.2 334.9L164.7 334.6L163.2 334.3L161.7 334L160.1 333.7L158.6 333.4L157.1 333.1L155.5 332.8L154 332.6L152.5 332.3L150.9 332L149.4 331.7L147.9 331.5L146.3 331.2L144.8 331L143.2 330.7L141.7 330.5L140.2 330.2L138.6 330L137.1 329.7L135.6 329.5L134 329.2L132.5 329L131 328.8L129.4 328.5L127.9 328.3L126.3 328.1L124.8 327.8L123.3 327.6L121.7 327.4L120.2 327.2L118.7 326.9L117.1 326.7L115.6 326.5L114 326.3L112.5 326.1L111 325.9L109.4 325.7L107.9 325.4L106.4 325.2L104.8 325L103.3 324.8L101.7 324.6L100.2 324.3L98.7 324.1L97.1 323.9L95.6 323.6L94.1 323.4L92.5 323.2L91 323L89.5 322.7L87.9 322.5L86.4 322.3L84.9 322L83.3 321.8L81.8 321.6L80.2 321.3L78.7 321.1L77.2 320.9L75.6 320.7L74.1 320.4L72.6 320.2L71 320L69.5 319.8L68 319.6L66.4 319.4L64.9 319.1L63.4 318.9L61.8 318.7L60.3 318.5L58.7 318.3L57.2 318.1L55.7 317.9L54.1 317.8L52.6 317.6L51 317.4L49.5 317.2L48 317.1L46.4 316.9L44.9 316.7L43.3 316.6Z" fill="#000" fill-opacity="0.38"/>
<path clip-path="url(#rc)" d="M250.3 362.7l.7 .3M112 322.3l-1.4 .2M187 340l1.1 .5M228.3 347.7l.2 .3M213.7 356.9l.4 .2M261 372.4l.3 .7M248 359.9l-1.2 0M261.7 369.1l.6 1.1M50.2 315.6l.3 .8M147.6 336l1 .1M158.9 330.1l1.2 .2M240.9 361.7l.9 .2M277.1 405.4l0 .8M230 350.5l-.9 0M211.2 341.5l-.6 0M219.6 349.1l-.2 .2M110.3 337l-1.2 .7M229.5 361l.7 1.2M278.2 408.7l-.1 .5M277.8 407.1l-.1 .5M253.3 388l-1 1.1M260.4 371.6l.5 .9M211.9 349.6l-.4 .6M175.4 336.7l-.2 .6M262.9 371.3l-1.4 .1M131.7 336.5l-.6 .9M187.6 335l-1.4 .1M157.2 333.4l.1 .6M231.9 354.9l0 1.3M90.2 318.3l-1 .3M58.7 316.3l1.3 .3M272.2 389.9l.3 .3M75.4 326.6l.7 .6M97.6 344.4l1 .4M133.3 325.4l.2 1.3M191.8 341.6l-.8 .5M229.4 347.8l.7 1M264.8 406.7l.2 .2M224.8 345.8l.4 .4M120 328.1l-.3 .2M88.8 320.2l.6 .6M185.3 333.6l.4 .1M185 334.1l-.1 1M84.1 334.2l1.4 .2M225.7 346.3l-.9 .9M203.4 344.5l1.4 .1M233.7 349.3l-.3 1.1M215.4 345.1l.7 1M86.5 320.7l-.2 1.1M229.4 365.8l.9 .4M172 331l-.8 1.2M190.2 337.5l-.9 .9M184.4 335.9l.4 .1M194.7 339.7l.5 .6M120.5 363.8l.7 1.1M214.8 342.7l.3 .2M133.4 327.9l.5 .2M56.9 343.3l-.3 .8M258.4 367.1l-.7 1M186.8 351.8l0 .3M231.5 355.5l-.2 .9M187.6 335.5l-.5 1.3M179.5 333.4l1.2 .2M232.4 360.7l-.5 .5M191.7 335.5l.1 .8M164.9 333.9l.3 1.3M175.9 339.6l0 .7M178.8 379.5l.3 .3M125 348.8l.5 .3M202.3 341.4l1 .4M140.4 348l1.5 .2M199.1 344.5l-.5 1.2M158.9 328.2l.5 .1M221.4 347.3l-.9 1M208.3 343.2l.8 .1M229.4 351l-.7 .1M256.6 370.7l-.3 1.1M122.4 323.8l-.3 .5M217.7 344.4l-.5 .8M244.4 355.1l-.4 .3M162.2 341.5l.3 .2M74.5 319.7l-.3 .5M217.4 344.1l-.5 .6M242.8 355l.3 1.1M117.8 328.7l1 .8M95.8 324.4l-.1 1.4M225.7 349.6l.4 1.1M166.3 346.7l.9 1.1M90.3 330.4l-.7 .5M181.9 344.9l-.4 1.4M176.5 336.8l-.3 .8M166.5 366.3l-.7 1.3M124.8 330.8l0 1.3M137 324.4l-.2 .6M162.6 330.4l-.3 1.1M178.8 334.6l-1 .1M177.9 332.3l.5 .6M213.6 347.5l.6 .5M279.7 415.5l.6 .8M221.5 348.4l-.7 .2M160.3 329.4l-.4 .8M275.6 402.7l1.2 .2M73.6 327.3l.9 .3M269.8 389l-.5 .2M162.7 344.1l-.7 1.2M158.6 333.5l1 .2M245.3 359.6l-.5 .3M188.3 337.8l-.5 1M238.8 357.6l.4 .7M131.4 327l-.3 .7M175.2 340.1l.3 .2M197.8 359.5l-1.2 .7M100 332.2l.2 .3M225.1 350.1l.3 .2M75.5 332.1l-.4 .4M107.9 326.6l-.6 .5M236 353.8l1.2 .7M156.7 329.5l-.7 .1M90.8 322.1l-.2 1.1M177.6 333.1l.6 0M118.9 340.7l.5 .9M94.1 324.5l0 .4M207.4 343.8l-.6 1.1M131.8 339.6l-.9 .7M150.5 327l-.6 1.4M257.7 368.8l.8 .4M139.7 325.1l.6 .1M76.2 316.6l.3 .1M143.9 326.9l-.4 .9M132 328.4l.4 .9M178.5 332.6l.3 1.3M144.1 326.5l.1 .7M199 339.7l-.3 1.1M141.2 325.9l0 .3M268.3 383.7l1.1 .1M130.2 357.4l1.1 1M250.9 363.2l-.3 1.5M123 322.4l1.2 .5M138.7 350.3l-.6 .8M211.1 342.8l-.4 .8M171.7 334.8l-.1 .3M264.9 386.4l-.4 .3M254 366.8l-.2 .3M111.4 323.6l0 .4M120.6 326.3l-.6 .7M196.9 339.1l.3 .4M231.9 349.9l-.4 .6M258.8 372.7l-.2 .3M128 331l-1 .3M77.9 338.5l1.3 .9M106.8 320.8l-.5 .4M233.3 359l-.9 1.2M104.6 327l-.1 .5M71.8 347.6l.2 .8M185.5 334.4l.4 1.4M260.4 377.9l1.3 .2M118.2 326.9l.8 .7M165 333.1l.1 1.4M136.1 332.4l.7 .5M267.4 390.1l-.5 .4M248.7 358.4l-.6 .3M159.7 354.7l.5 1.4M276.1 402.3l.6 .1M96.8 342.1l-1.2 .6M143 346.3l.1 1.6M177.7 334.6l.1 .7M226.5 346.5l-.3 .5M210.9 340.6l-.5 1.2M143 328.3l-.6 0M266.4 375.8l.2 1M276.7 399.8l-.5 .3M245.8 356.6l-.3 .7M151.7 334.8l.5 1.1M238.2 352.3l.1 .9M107.2 323.9l.9 1.2M234.1 353.1l1.1 .6M275.4 394.6l.8 .2M114.5 321.2l.5 .1M214.6 345l-.3 .7M227.1 352.6l-.7 .7M83.7 329.5l.8 .2M166.8 342.1l.1 .3M231.6 352.3l-.1 .6M273.9 390.9l-.1 1.1M203.7 358.8l-1.1 0M207.1 347.7l-.6 1.1M140.2 354.5l.3 .6M84.2 319.6l-.1 .8M235.1 353.7l.3 .2M221.4 347.9l-1.2 .9M117.4 343.2l-1 .7M170.3 343.6l-.2 .2M119.1 326l-.4 .8M75.1 322.9l-1 1.1M120.5 335l.6 1.4M233.3 357l-.6 .4M216.3 344.1l.4 .4M154.2 335.5l.8 .1M131.4 352.3l-.4 .1M279 411l-.3 1.3M165 340.1l.4 1.5M204 343.9l-.5 1M242.5 354.8l-1.4 .1M164.3 329.8l0 1.4M192.2 348l-1.5 .3M149.7 327.5l1.4 .3M242.5 369.6l-.8 .5M224.9 347.3l1 .5M150.2 347.3l-.4 .6M240.7 374.9l.6 .2M100.3 321.2l-.5 1.1M126.9 323.5l1.4 .2M203.4 339.5l-.4 .9M264.3 378.7l.4 .3M264.5 373.4l.4 .2M112.4 334.6l.8 .3M255.3 364.3l-.5 .1M116.7 328.6l-.6 1.4M229.2 360.8l-.3 1.1M170.3 349.8l.4 1.5M147.5 351.7l.6 .3M172 341.9l.3 1.1M279.9 418.2l.2 1.1M257.3 365.1l-.2 .2M115.9 331.9l-.2 .3M101.3 319.6l-.4 .6M265.3 389.2l1.1 .8M64.1 342.7l1 .7M200 337.7l-.4 .5M45.7 314.7l-.2 .4M197.1 337.1l.6 .8M99.2 325.1l-.8 .5M217.7 349.6l-.1 .6M271.1 397.7l1.2 .7M151.4 328.2l.8 .4M155.5 345.8l-.5 .7M57.3 321.5l0 .9M163.5 334.9l.3 .3M171.9 340.8l-.1 .6M111.4 333.6l1.5 .2M249.8 363.8l1.4 .5M123.3 322.2l.1 .3M234.4 353.9l-.3 .2M201 338.7l-.4 .3M152.3 339.9l.2 1.2M167.4 335.7l-.6 .2M157.6 331.7l0 .3M115.9 336.7l.5 1.2M221.4 346.7l.2 .5M183 344.8l.2 .4M141 327.5l.3 1.1M151.7 336.8l.4 .7M151.3 329.7l-.6 .2M161 352l.5 1M176.3 340.2l1.2 .1M257.7 369.8l-.6 .6M48.2 315.1l.4 1.5M188.9 339.9l-1.3 .6M270.4 387.7l.3 .4M193.1 340.5l.4 1.4M164.1 336.9l1.3 0M233.7 355.9l-1.1 .4M167.9 334.7l.9 1.2M251.4 368.1l1.4 .3M254.5 371.6l.7 .8M276.8 400.2l0 .8M58.1 316.8l-.8 .5M135.9 327.2l-.9 1.2M90.7 324.5l-.6 .4M210.3 345.8l0 .3M191.5 341.4l-.4 .1M127.7 355.7l-.2 .3M77.6 327.6l-.6 .5M165.3 350.4l-1.4 .7M70.5 316.2l0 .9M223.3 351.3l.4 .3M158.9 332l-.4 .1M224.2 347.8l1.3 .4M104.1 330.6l-.3 .9M163.2 351.6l-.6 1.3M212.9 369l-.9 .3M134.3 331.2l.3 .5M92.5 324.2l-.5 .5M177 332.2l-1.5 .2M218.6 351.9l-1.3 .9M248.7 359l.1 .4M90.4 341.9l-.1 .4M142.5 336.8l0 .4M213.2 344l-.6 .4M68.3 317l1.1 .1M255.5 368.9l1 .6M129.9 323.3l.3 1.3M245.5 363.7l.1 1.1M239.7 359.6l-.2 .6M208.4 340.9l-.4 .5M276 396.8l.5 1.5M94.1 320.2l-.7 .8M153.3 328.7l-.3 .4M86.2 320.7l.4 0M109.6 327l.7 .2M88.1 340.4l0 .4M170.2 352.5l-.4 .8M254.2 368.9l-.7 1.4M164.2 339.4l.7 .8M80.7 317.1l1.3 .8M223.4 349.5l1.1 .7M122.4 349l-.6 .1M60.8 317.5l-1.1 .2M242.5 362.5l.2 .9M270.5 393.7l.7 .6M184.8 337.1l-.1 .3M58.8 327l-.9 .8M100.6 327.6l-.6 .4M210 341.7l-.2 .5M220.4 348.6l-.3 .7M274.4 392.4l-.5 1M280.5 432.6l-1 .6M192.3 338.9l-1.5 .4M155.5 337.9l.7 .8M235.6 350.7l.1 1.3M235.4 359.3l-1.3 .9M266.6 387.4l-.1 1.4M264.3 393.8l-.1 1.4M243 364l-.8 1.1M172.7 331.4l.7 .4M110.8 321.4l0 .4M178.7 334.1l0 .4M70.6 317.1l-.7 .8M224.1 348.8l.3 .5M70 343.9l-1 .3M108.8 332.4l-.4 .2M254.2 367l.2 .4M123.8 330.8l.6 .9M104.2 337.1l-.6 1.5M144.6 332.4l1 .5M170.8 367.8l.5 .2M196.6 337.1l.2 .3M135 327.7l.7 0M208.9 346l.4 .6M206.4 351.8l.8 .9M156.3 349.8l-.8 1.3M233.9 356l.9 0M151.6 329.6l-.1 .5M146.1 332.4l-1.3 .4M149.1 348.3l1 .1M245.8 357.8l.6 .1M218.9 347.9l.6 .2M262.2 373.3l.1 .4M112.8 322l.2 .6M143.5 325.7l.8 .2M118.3 324.2l-.2 .7M248.7 380.2l-1.1 .4M255.8 377.4l-.9 1.2M68.7 381.1l0 .6M277.4 401.1l-.5 1M155.9 331.3l.1 .3M260.7 368.6l1.4 .3M214.5 348.2l-1.3 .4M195.8 346.1l-.8 .7M111.4 331.9l-.1 .5M221.2 347.7l.6 .3M115.4 380.5l-1.2 .8M141.7 353l-.1 1.5M148.8 334.8l-.9 .9M168.5 337.6l.4 .1M207.5 340.2l-.8 .2M190.6 352.9l-.2 1.5M53 326.3l-.2 1M231.6 348.6l.3 .6M160.6 337.5l.5 1.1M146.6 347.4l.5 .8M76.9 323.9l.7 .5M251.2 367.8l-.9 .6M256.9 366.7l.3 1.1M102.3 321.6l-.3 .1M184.6 336.7l.2 .4M188.4 338.7l.1 .5M200.5 343.1l.3 .7M108.6 327.5l1.3 .3M248.6 359.5l-1.4 .5M112.6 327.1l-.1 .3M269.6 386.5l.8 .6M89.4 331.8l-.2 .5M98.8 320l.7 1M216.4 351.8l-.8 1.1M106.7 328.3l.8 .5M218.5 344.7l.3 .7M58 315.7l-1.1 .8M116.2 323l.9 .1M236 360.7l-.6 .8M195.4 343.9l.4 .3M170.6 338.3l.6 .2M233.7 354l-.2 1.3M70.4 378.6l-1 .4M92.8 326l.6 .1M103 332.7l-.7 1.2M207.8 342.3l.7 .5M131.5 323.4l-1.2 0M241.2 353.7l.8 .5M95.9 332.4l-.9 1.2M148.5 357.6l.8 .7M231.9 361.4l1.4 0M133 326.5l.8 1M202.2 341.4l-.9 .6M208.5 348.1l.9 1.3M229.1 347.5l.4 .4M60.9 336.5l1.3 .6M231 361.2l-.5 .1M101.2 337.1l.2 .2M76.5 319.6l-.1 .3M208.3 342.8l-.4 1.1M84.9 319.4l.1 .8M205.3 344.8l-1 .6M186.6 357.5l-.5 .1M112.7 326.6l.5 .7M273.4 395l.7 1.1M233.4 367.9l.2 .2M162.1 333.8l1 .8M174.9 334.5l1.4 .4M236.8 352.7l-.4 .6M156.1 336.9l-1.2 .6M230.7 358.2l-.4 1.3M72.6 338.5l-1.2 .9M131.7 326.7l1.6 .1M252.3 363.1l-.9 1.1M93.7 321.2l1.4 .3M247 358.8l.1 .5M206 341.3l1.4 0M137.7 339.1l-.7 0M219.1 345.8l.3 1.4M131.7 328.9l.4 .4M119.4 338.9l-.3 1.1M196 347.1l-.6 .7M159.4 336.1l.3 .1M129.7 327.6l-.1 .4M154.1 330.1l.5 .4M107.5 332.6l-.2 .3M103.5 354.3l-1.3 .7M108.8 323.1l-.6 1.1M242.9 378.3l-.8 .2M190.1 335.6l-.2 .4M137 365l1.1 .3M243.8 382.1l-.2 .3M83.3 343.5l-.2 1.2M256.9 372l0 .8M208.4 341.5l1.3 .5M204.1 344.2l1.2 .1M191.9 352.2l1.3 .9M201.1 339l-.7 .6M107.4 327.7l-.1 .9M218.1 344.2l-.2 .2M65 332.2l1.2 .9M122.8 342.8l-.1 1.1M140.9 331l-.7 .7M134 330.9l-.2 .4M182 338.1l.6 .7M207.2 354.4l-.7 1.3M166.2 332.5l-.7 .1M150.8 352.9l-.6 .1M131.9 335.5l0 .3M214.5 351.8l-.8 .1M248.9 360.8l-.5 .1M137.7 333l-.6 .9M218.4 350.6l-.2 1.2M46.2 320.8l-.2 .3M100 333.1l.4 1.3M161 331.3l-.8 .7M225.5 350.4l-.5 0M243.7 360.3l-.8 .2M121 328.4l.8 1.1M235.4 351.2l.1 .7M216.2 342.9l.1 .5M214 351.7l.1 .3M78.7 348.8l.1 .3M268.3 378.8l-.3 .3M229.3 355.3l.2 .7M205.2 345.4l1 .1M130 337.3l-.7 .8M135.6 330.1l.2 .2M215 359.3l0 .4M179.2 341.7l0 .4M255 363.6l.8 1.2M153.4 344.5l-1.1 .2M107.1 325.4l0 .4M238.5 355.6l.2 .5M45.3 346.7l1.2 .6M206.5 351.8l-.1 1M117.1 328.9l.4 .7M225.7 349.4l1.2 1M150.7 334l.3 1M264.4 374.9l.4 .2M224.1 350l-1.5 .3M246.6 362.8l.5 .5M257.5 403.3l-.2 .5M168.1 337.1l-.1 .3M201.7 341.4l.4 .8M156.1 335l.7 1.1M159.7 356.7l1.4 .1M114 332l-.4 .5M132.4 325.9l-.1 .6M273.1 394.7l-.2 .9M177.5 351.3l-.2 .5M240 354.5l.3 1M234.4 350.1l.1 .8M205.6 347.6l-.8 0M88.2 321.8l-.3 1.1M98.4 319.9l-.3 .9M229.5 351.7l-1.4 .1M253.1 361.2l-.1 .4M278.9 415l.7 .1M134.6 336.2l.8 .7M64.3 328.4l-.9 .4M264.7 391.3l-1.3 .2M187.5 350.9l-.4 .8M150.6 328.6l0 .4M82.6 330.9l.5 .2M78.4 318.6l.2 .2M95 319.9l-.4 .5M230.1 350l-.5 .9M214.6 346.1l.4 1M156 343.9l-.1 .4M257.9 372.3l.6 .3M254.9 362.5l.1 .5M75.3 347.9l.8 .1M240.3 356.3l-.5 1.3M138.8 326.6l.3 1.4M228 347.1l.8 .6M199.3 339.2l0 1.1M268.3 377.8l.7 .1M177.3 331.8l.5 .5M195.6 336.4l1.5 .1M267 376.6l-1 .6M102.1 333.6l-.9 .5M194.6 345.2l-.2 1.5M95.1 343.9l-.8 .1M127.1 323.5l.3 .2M246.3 372.2l-.6 .9M104.8 319.6l-.6 .1M230.8 352.6l-.9 .2M250.8 361.9l.5 0M157.5 343.2l.4 .7M138.5 327l.8 .1M253 376.2l-.4 .6M137.8 325.5l-.5 1.5M275.4 393.7l-.1 .7M95.3 328.8l.2 .6M167.8 331.4l1.1 .2M165.6 339.3l-1 1.3M124.7 323.3l.7 .2M87.4 317.6l-.3 1.2M121.4 355.4l.3 .3M97.8 339.1l1.5 .4M111 335.7l.6 .1M187.8 346.6l1 .7M124.3 360.5l-.2 .8M264.8 383.3l-.6 .6M109.1 329.5l-1.2 .4M155.8 330.3l-.2 .2M47 329.7l-.8 .4M124.9 328l.4 0M114.6 342.3l-.7 1.1M125.8 336.9l-1 .2M238.8 352.6l.8 .3M88.4 319l-.6 .5M77.3 322.7l.2 .3M139.5 326.1l.4 .4M164 346.4l-.9 .5M238.7 353l-.3 .7M162.1 330.4l.2 .8M256.9 366.4l-.6 .2M70.6 344.5l.2 .8M250.5 365.3l.6 .8M185.4 335.5l.9 .7M110.4 333.3l-1.1 .8M229.7 350.7l.5 .4M54.8 332.9l.8 .5M140.4 353.4l-1 .9M157.3 337.8l.1 .7M84.9 325l.2 .6M160.5 337.3l-1.2 .5M129.3 333.1l1 1.2M224 348.4l.7 1.4M163.7 334.4l-.8 .6M232.6 349.2l-.2 .3M77.4 352.5l1.4 .5M120.5 328.5l-1.3 .1M178.7 341.3l.1 1.3M141.9 355.6l1 .6M58.6 330.5l-1.1 .7M272.3 393.2l-.8 1.3M157.4 369.1l-.8 .8M201.9 344.9l.3 .5M211.1 341l-.8 0M49.7 324.4l-.9 .7M68.9 322.4l.9 .6M198.3 337.8l-.4 .2M135 333.1l-.8 1M102.9 331.4l.9 .9M59.7 321.7l.2 .3M117.9 327.5l1.3 .8M95.6 325.7l.3 1M119.7 323.5l.9 .6M97.9 320.6l.8 .1M199.9 338.4l1.2 .5M204.4 341.2l-1.1 .1M124.8 323.8l-1 .1M154.4 342.7l-.6 .8M153.7 333l-.6 0M184.1 348l0 1.3M145.6 328.8l1 .1M126.8 348.7l-.1 .5M238.4 358.2l1.3 .6M241.2 355.3l-.6 .1M171.8 352.3l-.1 .3M226.3 348.6l.2 .5M229.3 348.2l-.2 .9M239.7 354.6l-.3 .3M214.2 360l-.3 .6M115.5 322.4l.4 .9M140.6 358.5l-.2 .4M239.6 361.9l-.7 .1M203.5 352.9l-.5 .2M218 344.9l.8 .9M223.2 345.1l.6 .6M185.6 352.4l.6 1.5M134.3 424.5l.3 .1M222.3 352.1l.1 .6M246.3 362.8l-.6 1M208 340.4l-.1 .3M158.7 329.7l-.4 .3M210.6 343l.7 .6M129.4 332l.3 0M136.9 346.5l-1.4 .2M247.9 362l-.3 .3M136.5 327.3l.7 .2M162.3 333.1l.4 .4M149.3 337.4l.4 0M228.5 356l.4 1.5M250.8 361.6l1.4 .8M177.9 333.6l1 .1M191.4 340.4l-.1 .3M221.6 348.4l.8 1.4M115.9 324.4l1.3 .9M156.5 376.5l-.7 1.1M226.3 350.1l-.7 1.2M114.7 323.1l-1.5 .2M135 329.6l-.3 1M74.1 328.1l.1 1M110.1 320.6l.5 .7M199.2 337.5l0 .4M87.8 324l1 .5M140 326.1l-.2 1.1M201.7 340.3l.9 .4M170 331.1l.2 .4M115.7 351.8l.8 .4M226.7 351.3l.3 .8M227.4 352.9l-.7 .3M262.9 370.8l-1.1 .2M228.7 348.8l.2 .3M116.5 346.3l.3 .1M192.5 336.8l-.2 .2M105 320l.3 .2M191.1 338.3l-.5 .1M106.4 327.6l-.8 .5M240.4 353l-.5 1.4M130.3 329.2l-.7 .2M275.5 394.3l1 .8M139.7 326.1l.7 .2M116.9 361.6l-.5 1.1M153.9 330.7l-.2 .6M265.7 379.6l1.2 .6M90 320.3l.2 .4M147.8 327.5l.6 .3M148.3 341.3l.2 1.1M172.1 344.1l1.2 .9M204.5 338.9l-.4 .1M204.4 340.9l0 1.5M153.1 329.6l-.4 1M161.5 335.8l.4 .1M260.1 370.9l.5 .4M213.2 344.2l.1 .4M200.9 365.2l.9 .4M74.2 332.9l1 .4M159.4 328.4l-.3 .9M246.3 359.5l-1 .5M175.6 360.5l.2 .6M156.8 339.6l-.5 .4M198.7 337.4l.5 .5M83 330.2l-.8 0M139.3 356l-.6 1.3M102.3 319.3l.2 .6M252.2 366.6l.8 .1M261.1 371.1l-.5 .9M255.6 369.7l-.6 .8M118.4 323.5l-.2 .4M260.5 368.9l.1 1.2M69.4 317.9l.8 1.4M160.7 356.1l1 .8M141.1 327l-.5 .7M260.6 370.7l-1 .5M91.7 331.1l-.4 .5M264.5 372.7l.1 .3M95.9 347.8l-.5 .2M171.4 348.6l-.8 .7M281 434.2l.3 .3M104.9 336.8l1.2 .1M161.5 334.1l.9 .9M191.4 340.6l-.6 .7M170.6 338.6l0 1M213.2 341.7l0 .6M270.4 383l-.3 .2M251 401.1l-.3 .3M266.2 376l1.2 .1M196.1 342.3l-.4 1.4M88.1 318.6l.1 1.4M252.8 361.6l-1.6 .2M101.8 332.3l.6 .4M182.1 345.1l.8 1M278.4 410.2l.2 .6M184.8 348l.5 .3M274.9 396.7l.5 1.4M102.3 324.6l1.6 .2M82.1 317.4l.5 1.3M75.4 340.2l-.7 .4M267.9 383.6l-.6 1.5M225.8 359.5l.6 .9M146 333.1l-.8 .1M218 347l-.3 .4M85.3 351.1l-.3 .2M271.6 385.6l.2 1M170.3 332.6l.8 .2M132.4 337.5l.1 .8M196.9 336.3l.4 0M222.9 345.9l.6 .6M191.3 345.2l-.7 .2M207.3 344.2l0 .6M249.6 359.8l-.8 .2M187.1 339.8l.4 1.3M263.5 371.6l1 1.2M177.6 342.8l-.1 .7M234.3 353.6l-1.2 1M176.9 363.2l-1.3 .1M182.8 362.7l.5 .3M238.8 365.8l.4 .1M167.1 339.6l.3 .1M161.5 344.7l-.5 .4M163.3 340.9l.1 .7M254.3 373.9l-.1 .9M168.2 340.5l.5 .4M233 349.5l-.4 .1M156.9 332.7l.7 1.2M82.4 337.7l.7 1.3M190.1 345.7l1.1 .8M224.8 364.1l.5 .4M278.5 409.3l-1.4 .2M274.1 392.8l-1.4 .5M129.4 323.7l-.2 .3M174.8 333.9l-1 .2M172.6 344.7l.7 .3M118.5 322.3l.3 1.3M247.8 362.9l-.2 .4M136.4 334.7l.4 .2M162.2 329.3l-.3 1.2M268.7 383.1l-.6 .1M205.6 350.6l1.3 .8M271.1 392.2l.3 1.4M179.3 342l.2 1.1M95.5 335.4l-.7 .3M263.3 396.1l.8 .1M90.3 321.5l-.6 1M257.1 369l-1.2 .9M256.6 366.3l-.9 1.2M127.6 341l-.5 1.3M175 347.7l.9 1.1M215.7 343l-.6 1.2M179.4 335.8l-.6 .7M270.7 382.1l.5 .3M104.6 320.4l-.5 1.5M87.8 327.2l-.3 .8M107.7 334.5l1 1.1M192 344.5l-.4 .8M167.5 333.2l-.5 .8M262.9 384.9l0 .6M279.2 414.9l-.3 .2M252.8 362.9l.4 .5M227.8 350.4l-.2 .4M149.8 337.1l-.2 .6M137.3 370l-.3 .4M172.6 331.8l-.2 .7M200.1 340.6l.1 .5M50.9 313.7l0 .6M150.1 337.8l-.5 .1M69.6 317.6l-.4 1M199.2 348.1l.2 1.4M136.7 332.8l.3 1.2M243.2 354.9l.2 .2M225 345.8l-.2 1.4M71.7 317.5l-.1 1M53.6 337.6l-.2 .6M225.6 350.2l.4 .2M209.8 347.7l-.2 .3M256.8 366.4l1.3 .9M78.4 327.7l-.7 .1M216.8 355.5l0 1M195.7 341.6l.6 1.3M184.9 341.9l.7 .3M99.6 321.3l.2 .6M171.1 354.8l.6 .2M151.5 349.3l-.4 .3M261.9 373.7l-.4 1.1M100.8 320.8l-.1 1.3M115 329.3l1.3 .7M132.3 328.3l.2 .4M218.6 348.6l.3 .1M219.1 347.3l.3 1.2M157.1 336.9l-.2 .3M133.2 331.6l-1.2 .6M167.1 336l-.8 .5M191.3 345.3l-.5 .5M158.1 331.2l-1.2 .8M251.2 360.5l-.8 .9M130.2 325.9l.5 1.2M95.8 322.4l.1 .3M201.8 345.8l-.3 .4M201.6 338.9l-1 .9M156 344.9l.3 .5M139.8 340.9l-1 1.2M187 335.3l-.9 .5M254.8 362.7l-.4 .6M72.3 318l.1 .5M188.5 335.2l.3 .4M112.1 325.9l1.3 .7M262.6 382.7l.4 1.3M90 320l-.4 .3M125.2 334.4l.2 1M229.6 353.5l-.3 .1M69.2 330.1l-.8 .9M209 341.4l-.7 .4M163.4 334.5l.4 .9M194.4 336.8l-1.1 .5M237.8 351.8l-.5 .4M107.8 342.3l.4 0M266.7 379.2l.1 .5M236.4 350.9l.9 .5M274.7 391.4l1.1 .6M249 358.9l-.9 .7M268.5 386l-.2 .3M201.3 351.9l.5 .5M156 355.3l.5 .3M267.4 388.6l-.8 .8M242.8 365.7l-.7 .9M156 330.7l.3 .4M163 351.7l.9 0M94.1 342.3l-.4 .1M280.9 428l-1.4 .1M108.9 320.6l.1 .4M116 323.5l.2 .2M103.1 329.5l-.4 .5M246.5 363.2l-.1 1M83 320.8l1.1 1M232.4 349.3l.9 0M192.1 342.3l.8 1M218.9 349l.9 .8M98.1 325l1.3 .9M105.9 319.9l-.2 .5M251.2 369.1l-.8 .7M135.1 333.5l.3 .2M241.3 355.8l.1 .4M232.3 349.4l-.4 .6M114.3 321.4l-.3 .9M190.7 337.8l.4 .7M165.2 337.4l-.6 .9M95.8 321.4l-.7 1M74.4 350.7l-.8 .8M203.8 346.5l.4 1.2M237.9 353.8l.2 1.5M118.9 340.8l1.1 1.1M71.6 315.7l.1 .4M260.4 371.1l.6 .5M59.2 314.8l1.6 .2M77.8 348.1l.4 .2M85.4 318.2l-.3 .7M267.9 381.6l-1.2 .9M49.5 317.3l.1 .8M156 339l-.2 .4M166.1 331.1l1.1 .7M161 337.9l-.5 1.3M98.1 329.9l1 .3M161 329l-.3 .3M192 335.7l0 1.2M198.2 337.5l-.4 1.4M211.1 343.6l-.4 .3M196.9 339.7l.2 .7M215.7 343.9l1.3 .9M194.1 335.9l.3 .3M152.3 329.4l-.9 .4M129.9 323.6l-.6 1.4M133 359.4l.3 0M226.9 357.7l.8 0M160.3 331.9l.6 .7M101.2 344.7l1.1 .4M273.2 388.5l-.8 .4M109 350l.5 .3M191.5 353.1l.3 .5M101.7 321.8l-1 .5M265.2 382.1l1.3 .7M215.9 342.4l.6 .8M89.7 322.2l-.9 .2M142.1 333.5l-.4 .5M236 375.3l-.5 .5M280.3 424.2l.7 .3M67.4 339.9l.6 .6M241.8 355.6l-.3 .3M139.2 325.1l.4 1.2M246.2 357.4l-1.3 .9M129.3 334.5l1.5 .1M190.8 341.1l.7 .2M220 344.1l.1 1.2M108.7 330.4l-.1 1.3M111.6 337.6l1.2 .4M273.9 395.2l.3 1.6M221.1 346.7l-.3 .1M235.2 355.2l.1 .5M254 364.3l.3 .3M268 380.1l0 .5M167.3 333.9l-.1 .3M135.6 336.8l1.3 .5M112.6 323.7l.1 1.1M242 364.1l0 .7M122.4 325.5l.6 .2M213.3 342.3l.5 .2M245.9 371.4l-.2 .6M181.9 339.9l-.3 .3M100.3 320.6l-1.1 .6M91.6 337.7l.8 .5M117.9 358.2l.7 .2M102.9 385.5l.7 1.1M225.6 346.7l-1.3 .8M137.2 358.2l.1 .6M60.4 332l.5 .3M119.7 326.8l1.2 .4M186.2 334.5l0 .4M237.3 355.6l-.3 1.1M159.5 344.7l-.7 1M133.7 336l.8 .5M209.8 344.6l.8 0M220.5 345.3l.7 .2M66.6 327.6l.6 .3M231.6 351.3l-.5 1.4M265.6 378.4l1.1 1M279.7 416.8l-.2 .7M91.1 318.8l-.5 .1M98.1 327.9l.6 .7M117.1 333.5l.8 1.3M69.7 324.2l.3 1.4M239 357.3l-1.1 .9M140.9 334.6l-.4 .6M150.6 353.2l1.3 .4M252 368.2l-1 .6M182.5 335.4l-.6 .9M111 322.1l.3 .4M132.9 328l-1.3 .5M246.8 356.4l-.8 0M209.3 340.4l-.3 1.3M77 316.2l.6 .2M211.6 345.3l-.6 1.3M110 324.2l.2 .5M57.3 319.5l.2 .2M221.7 344.6l-.8 .6M113.2 333.7l-.7 .2M103.4 320.5l-.3 .4M133.3 339.7l-.5 .3M63 325.8l.4 .1M131.6 337.9l.3 .3M169.3 330l.4 .4M135.7 353.4l.4 .1M83.1 319.9l-.8 .6M230.1 359.5l.4 1.3M205.3 357.9l-.5 .5M237.7 354.6l-.6 1.1M97.6 324.7l-.4 .4M262.6 385.1l.9 1M240.5 358.8l.5 .9M163.6 351.8l-.4 .2M157 334.2l.4 .8M82.3 321.4l1.1 .4M196 341.5l-.7 .5M194.1 338.6l1.3 .1M228.2 349.2l-.7 1.2M91.4 330l-.2 1.1M240.2 353.1l.1 .6M231.2 349l1 1M136.7 330.1l-.3 1.3M148.2 327.7l.3 0M213.8 354.3l-1.1 .4M97.3 322.7l-.8 .4M204.4 345.1l-.2 .7M238.2 352.8l.9 .5M176.2 333.4l.9 .1M201.6 361.6l.4 1.5M122 324.7l-1.3 .1M54.9 317.1l-.8 1.3M273.3 388.9l-.8 .7M54.4 319.1l-.2 1.5M266.1 378.3l1.5 .3M149.6 334.9l-1 1M169.3 332.9l-.6 .2M210.1 350.6l.8 .5M267 378.3l-.5 .7M162.9 330.6l1.2 .5M279.2 421.7l1.3 .3M250.2 379.3l0 .7M183.2 334.6l-.5 0M189.4 335.4l-.1 1.2M191.2 347.9l-.1 1.1M179.4 343.3l1 1.1M264.1 372.1l-.2 .2M230.8 356.4l-.9 .7M215.1 347l.8 .5M247.8 357.2l1 .1M76.7 345.5l.5 .2M112 328.7l-.3 .3M101.5 329l.3 .5M120.1 335.6l-.9 .1M253.8 364.3l-.6 .1M180.7 334.1l-1 1.2M212.6 345.2l-.4 .2M275.3 397.3l-.7 .1M54 321.1l-1 .2M236.3 362.6l-.8 .1M154.2 354.7l-.1 1.3M153.5 358.7l1.1 .7M130 327l-.8 .8M182.1 334.4l-1 1.1M280.1 418.9l-1.3 .9M168.6 332.9l-.4 1.4M184.8 334.1l-.1 1M200.1 346.1l.4 .5M202.6 338.9l.5 .3M144 337.6l.4 .1M68.6 320.5l.2 .5M141.6 346.2l.6 .8M213.3 343l-.4 .9M177.1 335.5l.9 1M111.5 323.3l.5 1M258.4 366.6l-.6 .6M98.9 327.5l.4 .6M217.9 343l1.1 .2M257.4 385.2l.5 .7M112.5 337.9l.6 .7M230.5 348.6l1.3 .2M88.8 319.3l-.6 .7M166.9 331.4l-.2 1.3M107.3 328.6l-.7 .8M76.7 322.1l1.3 .6M269.1 380.3l.3 .6M130.2 327.6l0 .4M205.7 349.9l-.9 .6M247 365.2l.2 .5M175.8 335.4l1 1.1M252.9 363.7l.4 .7M249.5 359.1l.9 .1M209.4 341.1l-.5 .9M241.4 357.3l.2 1.5M132.2 323.8l.6 .1M185.9 335.1l-.3 .8M269.9 383.7l1 .1M135.4 329.8l.5 .5M96.4 321.7l.1 1.5M208.3 352.2l.1 .5M229.9 353.6l.1 1.3M173.1 331.9l-.6 .1M199.3 338.4l.4 .5M192.9 337.4l1.4 .4M253.8 363.1l-.3 .1M192.7 355l-.3 1.6M69.9 326l.1 .3M223.5 347.5l-1.4 0M223.8 345.1l-.6 .8M137.8 338.4l-.1 1.1M219.3 345.3l-1.1 .9M149.8 328l-.6 .7M163.5 330.9l-.1 .6M245.1 358.2l-.4 1.1M142.8 328.4l.4 .7M116.7 336.8l-.2 1.2M259.8 367l1.1 .3M182.7 337.2l-.1 .5M255.7 367.2l-.6 1.3M194.5 344.6l.2 1M257 365.9l-.1 1.2M139.7 330.7l1.3 .8M155.7 355.3l1 .4M98.4 328.6l.3 .5M142.9 328l-.7 .1M187.5 339.5l.3 1.2M106.1 326.4l0 .4M252.8 367.7l.9 .8M145.6 334.1l1.1 .4M171.9 348.4l-.4 .4M271.4 383.6l-.7 .6M146.9 326.3l-.2 1.1M243.7 355.7l1.3 .1M164.1 333.2l.9 .4M90.7 337.4l.7 1M114.3 324.9l1.4 .3M147.9 330.1l-.5 .2M180.9 343.1l-.5 .5M121 333.1l.2 1.2M188.3 336.2l1 .4M96.8 321.2l.2 1.5M85.7 331.5l0 .5M256.1 377.6l-.2 1.4M240.1 355.9l.7 .9M179.5 334.7l-.7 1.3M197 355l-.4 .3M228 347.6l-.9 1.1M223.7 346.2l.3 .2M177.8 349.1l.5 0M207.3 340.1l0 1.2M249.8 366.5l.6 .6M56.4 320l-1.5 .2M56.7 317.2l-.9 0M118.2 330.5l.9 .5M60 328.5l1.3 .5M140.7 345.4l.2 .4M66.6 319.5l-1 1.1M147.2 331.7l-.2 .9M120.3 325.2l0 1.4M191.5 346.4l.2 1.5M163.4 349.2l-.7 1.4M179 342l.2 1.5M93.7 336.4l-.2 .5M208.3 351.2l-.2 1.4M57.7 315.7l1.2 .2M130.8 325.8l-.5 .2M93.6 318.1l-.7 .9M208.4 342.6l-.9 1.2M280.4 424.8l.3 1.4M260.4 379.9l-1.5 .1M206 339.8l.9 .6M236.6 353.8l1.4 .4M240.5 353l-1.5 .1M247.9 359.1l.7 1.1M87.1 322l.5 .1M245.3 356.8l-1 .4M152.7 334.7l-.3 1.1M189.5 336.6l-.6 .8M170 342l-.2 1.6M230.8 352.6l-.5 .5M150 350.6l-.8 .2M105.2 356.8l.6 0M59.3 319.9l1.4 0M196.3 338l.6 .6M139.4 329.3l.7 .7M255.3 367.8l-1.1 .2M279.5 422l-1 .2M236.3 353.3l.4 .2M166.6 330.1l-.2 1.5M59.4 314.5l-.9 1.2M255.7 365.8l-.1 .5M135.3 324.3l-.4 .2M135.5 341.2l.5 .9M276.5 410.5l.5 1.1M243.9 358.1l-.2 .4M128.4 326.8l1 .7M164 346.6l-.5 .2M156.7 330.6l0 .3M46.1 338.2l.1 .6M195.4 336.6l0 1.3M134.9 325.3l-.6 .2M164.4 334.7l.5 .2M253.3 368.3l.3 .5M52.6 327.8l.5 1.3M195.8 345.2l-.3 .1M220.5 351l.1 .3M245.3 365.7l-.6 0M184.5 358.8l.8 1.3M151.3 331.3l-.4 .2M143.9 333.4l-.6 1.5M204.4 343.2l-.2 1.1M136.6 331.5l-.3 .5M222.4 346.8l-.2 .4M119.4 328.9l.7 .6M139.2 324.8l-.1 .6M82.1 317.9l-.1 .3M123.3 342.4l.6 .2M125.5 338.3l-1 .5M171.1 339.8l-.7 1.2M93.4 337.5l-.1 .9M233.6 350.6l.8 .7M175 352.3l1.3 .9M247.2 384.6l.4 .5M108.5 328.9l-.1 1.1M107.9 325.5l-1 1M267.1 376.4l-1.1 .8M127 327.5l.7 .5M221.8 348.8l-.6 .5M123.8 347l-.4 .3M135.6 333.1l-.3 .4M199.3 346.7l0 1.5M179.9 336.8l.5 .5M259.4 369l-.3 .4M137.6 338.5l.4 .4M204.7 346.4l.2 .8M252.4 363.7l-.8 .9M150.6 346l-.7 .1M227.4 361.2l-.7 .7M158 336.2l-.6 1.1M145.7 330l.9 1M95.3 320.7l-.6 .8M220.8 350.2l.8 .7M212.9 341.8l-.7 1.1M255.9 368.7l-.2 1M241 358.6l-.4 1.5M235.7 366.3l1.1 1.2M54.9 314.6l-1.1 .6M163.6 329.4l-.8 .2M268.1 392.4l-.4 0M135.1 330.5l1.1 1M143.6 331.3l-.6 1.3M70 338l1.2 .8M220.7 347.9l-.6 1.2M99.8 320.3l-1.1 .9M145.9 328.5l.4 .3M171.1 335.5l-.2 .3M137.7 326.4l-.7 .1M115.7 330l-.4 .7M72 327.9l.8 .3M153.4 330.3l1.1 .8M152.5 337.6l-.5 .3M119.9 325.7l-1.5 .6M276.1 402.1l-.7 .2M199.1 338.4l.7 .2M121 333.4l-1 .3M207.8 340.7l1.2 .3M230 350.5l.4 .1M213.1 349.9l.4 1.5M155.4 345l-.3 .5M179.9 335.1l.3 .3M132.7 329.5l-.4 .2M150.9 333.1l-.3 1.2M88.2 322.7l-1.2 .4M234.5 367.2l-.9 .8M197.1 338.2l.6 .3M198.1 344.8l.6 .2M117.3 358.6l-.3 0M153.5 329.7l.7 .4M170.6 339.1l.4 .3M88.7 367.8l1.1 1M66.5 336.1l-.3 .6M266 381.2l1.4 .7M259.7 370.9l0 .3M89.9 335.2l-.6 .1M61.1 330.5l0 .3M76.8 325.8l-.4 1.4M112.3 343l.3 .5M143.7 326.1l-.3 .5M82.1 317.2l.9 .3M272.4 387.5l.4 .9M137.2 337.2l0 .7M197.5 336.9l-.7 .7M182.8 335.7l-.5 1.5M162.6 343.4l-.4 0M217.4 349.5l.2 .3M274.5 393.2l.7 1M186.6 364.9l.1 1M92.8 322l.1 .8M169.6 334l.4 .3M122 340.8l.7 .2M161 331.5l-.8 .6M137.2 333.5l-.4 .7M170.3 330.3l.7 1.3M54 315l.8 .2M139.7 371l.5 1.2M101.6 321.3l-.5 .4M180.6 345l-.4 .4M72.5 340.1l.1 .6M112.1 350.2l-.5 1M226.2 352.8l-1.5 .5M260.7 378.9l-1 .8M135 327.9l0 .5M195 344.1l-.6 .3M95 328.1l-.8 .2M228.7 351.1l-.5 .6M103.2 322.6l-.6 1M213.5 342.4l1 .7M236.7 351.3l-.9 1.1M143 334.4l.4 .4M213.8 343.7l.5 .4M110.4 325.4l.4 .2M259.2 368.2l1 1.1M108.6 347.2l.3 .6M83.3 321.3l-1.3 .5M97.2 322.8l-1.1 .2M141.8 329.9l-.3 .9M152.2 335.7l.5 1.4M121.5 324.7l-.8 .9M276 413.9l.9 .8M93.1 341.1l0 .7M216.1 346.3l-.4 1.4M280.1 422l-.2 1.3M208.8 339.9l.5 1.2M277.6 420.4l.6 .8M236.6 351.3l-.4 1M246.7 361.6l.4 1M252.2 364.8l.5 .4M160.7 353.7l-.1 .4M94.6 332.1l-.8 1.1M241.8 356.9l-.1 .7M244.6 358.8l-1 .7M190 334.8l-.6 .5M221.7 344.7l-.4 0M275.4 394.3l1.3 .9M226.8 347.5l-.6 .6M222.5 346.9l.6 .1M120.2 326.9l.4 .3M104.6 323.2l.3 .3M127.8 329.6l-.5 .5M227.4 350.7l-.5 .2M160.4 332.4l-1.1 .8M223.3 352.5l-.3 .3M225.4 355l.6 .1M80.7 320.3l-.3 1.1M179.5 333.3l1 .1M266.8 379.9l.2 .8M160.8 333.3l1.1 .9M186.8 347.4l-.1 .4M173.7 335.5l0 1.1M195.2 351.9l.5 1.4M224 345.7l-.5 .2M216 346.3l.3 1.4M160.6 345.8l.5 1.1M127.8 323.3l-.8 1.1M141.4 330.2l-.4 .1M179.8 332.5l.3 .1M148.2 347.3l-.2 .4M143 342.2l.3 .2M206.8 341l-.1 1.6M168.6 339l-1 .5M170.9 344.2l-.5 .3M118.8 323.4l-.1 .5M159.7 336.5l-.5 .6M224.2 352.7l.3 .3M143.8 347.8l-.5 .5M161.1 342.7l.5 .8M252 360.1l.3 .3M256.2 364.7l-1.4 .3M159.3 331.2l.2 .5M113.3 330.5l.3 0M186.7 348l.3 1.2M63.7 330l-.6 .3M277.8 408.2l.3 1.2M142.1 325l-.6 .3M173.6 331.7l1.3 .1M219.3 349.9l-1.2 .2M163.3 333.5l-1 .6M109.1 343.8l.2 .8M128.3 324l-.3 .5M113.9 335.3l-1.5 .1M181.4 338.3l.1 .5M210.2 345.3l-1 .5M186.6 339.2l-.2 .7M106 377.6l.5 1.3M184.4 339.8l-.7 .8M274.8 396.2l-.4 .3M269.9 381.4l-.8 .4M111 321l.3 0M229.1 347.7l.6 1M192.8 351.8l.1 1.1M152.1 334.6l-1.2 .1M193 338.4l-.6 .2M109.4 324.2l.7 1.2M200.3 339.9l-1.2 1M237.7 351.5l-1.1 .2M167.5 341.8l.2 .3M181.8 336.8l.8 .5M276.4 400.5l-.8 .2M201.1 339.5l.8 .8M193.6 338.8l.4 .2M86.3 322.5l-.4 .2M114.2 348.3l-.7 1.2M209.6 346.4l-.4 .2M220.8 349.2l-1.1 .9M65.7 350l.8 .1M52.2 324.9l-1.3 .1M86.7 331.8l-1.4 .7M57.2 314.4l.8 0M201.2 343l.4 .1M215.3 376l-.3 .5M215.2 344.6l-.6 1.2M253.1 364.2l1.4 .3M270.2 385.7l-.5 .6M164.9 331.9l-1.1 1M221.6 350.9l-.3 0M250.7 360.5l-1.1 .8M128.4 326.8l1.5 .3M265.8 386.1l-.4 .6M149.5 326.9l1.5 .2M88.3 318.5l.5 .5M86.5 333.6l.1 1M249.3 360.2l.5 .8M203 344.2l1.1 .2M222.9 345.3l-.4 .5M201.2 342.4l-.1 .6M127.6 329.9l.1 1.6M171.7 333.1l-.5 .1M126.7 329.9l.4 0M265.9 380.3l-1.1 .4M149.3 371.2l0 1M221.7 350.3l.1 .7M215 343.2l-.4 .4M147.2 327.2l.7 .3M194.7 336.5l-1 .6M109 332.9l-.9 .9M238.8 380.9l.4 .5M104.6 339.7l0 .7M97.6 320.6l-.3 .4M235.7 350.2l-.5 .3M100.3 344.5l.2 .3M203 340.9l.7 .7M269 378.8l-.6 .7M239.2 355.7l-.1 .9M139.9 352.7l-.9 .8M149 339.7l.1 1.4M229.6 361.9l1 .4M194.5 344l-.1 1.5M162.2 329.3l.6 .1M133.4 334.6l.8 .7M138.6 324.6l.2 1M176.7 350.6l.2 .4M193.8 337.6l.2 .2M198.8 343.5l-.7 .6M44.9 318l-.3 .2M149.8 343l-1.1 .3M221.2 350l-1 .9M129 328.7l1 .1M184.2 335.3l-.2 1.5M107 321.4l-1.1 .9M141.5 329.3l-.7 .3M254.8 363.5l-1.2 .6M144.1 335.7l.6 .3M244.5 355.6l.8 1M84.9 318.1l.4 .2M123.1 322.1l1 .2M119.2 324.4l1.3 .3M240.8 353.2l0 .3M192.3 343.4l.8 .7M257.9 368l-1.2 1M216 351.2l.4 .2M151.7 332.9l-1.2 .5M276.5 398.2l-1.1 .4M186.2 353.4l-.9 .3M260.5 368.3l.3 .2M79.3 337.6l-.7 1.1M239 355.4l.6 .4M206.8 342.4l.7 0M189.4 339.1l.5 .2M272.5 393.4l.9 .7M205.2 359.4l.3 .7M74.9 318.7l.2 .7M217.1 346.1l-.7 .2M105.9 339.2l1.2 .6M248.9 358.9l.2 .7M166.8 339.9l-.1 1.5M87 325.3l-.2 .5M56.5 319.8l-.5 1.2M198.4 337.5l1.2 .3M219 347.8l-.1 .8M162 332.3l0 1.4M235.4 351.7l1 .3M241.6 353.7l1 .7M176.4 334.7l-.5 .6M148.3 326.4l-.3 .3M178.8 352l-.2 .3M105.1 321.9l-.6 .9M189.2 338.8l-.8 .5M197.3 347.8l1.5 .5M221 348.5l-.5 1.3M196.5 350.2l.1 .8M229.4 347.3l-.6 .2M209 345.8l1.1 1.1M172.2 336.6l-.4 .6M108.1 331.9l-.8 1.2M101.8 329.2l.7 .3M73.3 340l-.4 .2M147.9 330.7l-.8 .2M145.7 337.6l-.9 .1M147.8 368.4l.6 .3M141.4 335.8l.6 1.3M163.5 338.8l-.3 .8M193.3 341.7l-.8 .5M271.2 393.4l1 .2M111.9 320.9l-.8 .7M269.8 385.8l-.4 .5M101.1 328.4l-.9 .8M93.7 329.1l.3 .6M223.2 347.9l-1.3 .8M196.4 337.6l.9 1.2M231.4 348.4l1.2 .3M109 334.6l-.1 1.3M92.8 337.7l-.3 .7M151.6 326.8l-.3 .6M142.4 336.7l.4 .9M139.2 330.3l1.1 .6M265.4 398.3l-.3 .3M256.8 375.9l-.2 .6M190.9 344.5l1 .6M130.4 360.8l-.5 .5M131.8 329.9l.9 .9M200.4 359.1l.1 .4M160 328.5l.6 1M155.7 333.4l1 .3M205.8 349.4l-.1 1.4M80.3 329.3l-.3 .6M67.4 315.8l-.1 1M165.6 340.4l-.3 .8M261.1 403.1l-1.3 .4M83.6 318.7l-.3 1.1M149.1 332.2l-.4 .9M49.4 313.5l-.7 .9M280.6 425.1l.3 1.5M229.4 351.1l0 .9M217.7 343.7l-1 1.2M160 335.1l.4 .5M214.5 346.1l-.9 .5M173.2 339.8l.6 1M172.1 335.2l-1.2 .5M243.6 360.7l1.3 .2M262.5 384.4l-.3 .3M72.9 318.3l.2 .9M98.1 324.3l-.2 1.1M209.4 351.4l1 .1M172.4 332.5l.5 .3M258.7 368.4l-.8 .1M133.6 325.5l-.2 .5M156.1 330.1l.5 .8M152.8 340.5l-.1 .4M117.7 323.8l.5 0M76.1 319.7l-.3 .8M116.3 322.3l.3 .2M220.5 346.8l-.9 .5M82.1 321.1l1.4 .2M52.7 323l1.4 .2M128 348.5l.7 .1M57.6 326.8l-.5 .1M158.7 346.4l.1 1M179.6 346.4l1.3 .1M194.9 338.6l-.5 .3M202.2 341.4l-.2 1.3M274.4 393.7l0 .7M132.4 327.5l.9 1.1M274.2 393.7l-.8 .1M210.8 342.7l-.6 .4M109.5 324.8l-.3 1.3M72.1 325.3l.2 .3M198.8 338.1l-1.3 .4M205.9 339.6l.8 .9M141.1 332.5l.4 .2M204.6 339.6l-.2 .7M249.1 358.9l-1.2 .2M180.4 332.8l0 1.3M246.9 358l-1.2 .1M150.6 330.6l-.4 .8M179 337.1l-.7 .4M172.6 332.4l-.2 .5M126.5 331l.7 .3M96.8 331.2l1 .9M56.9 330.7l.3 .7M258 367.4l.5 .1M267.8 380l.5 .5M161.8 340.1l-.9 .5M55.9 314.1l.8 .6M238.8 352.3l-.5 0M175.9 332.6l0 .3M143.6 329l1.4 .7M231.1 349.6l-.1 1.4M80.6 335.2l-.7 .1M217.4 347l-.4 0M147.8 344.4l.7 1M235 350.4l-.2 .5M274.1 390.5l-.3 .4M183.2 344.6l1.3 1M263.3 385.2l-.1 1.2M181.1 337.9l-.7 .4M275.2 396.8l-.7 .1M84.9 320.1l-.6 .5M104.7 331l.6 .1M182.1 337.9l.8 .4M154 333.3l.9 1M167.6 333.1l.5 .8M213.5 343.9l.1 .9M202.2 341.4l1.2 .8M98.1 329.3l-.2 .9M68.8 342.1l.6 1.1M189.1 335.1l1 .2M64.6 318.9l-1.4 .1M202.6 344.6l.6 0M142.9 330.3l.1 .3M275.6 398.6l-.9 .8M118.4 336.6l-.4 .9M227.5 350.4l.8 .8M197.5 344.4l.7 .3M124.4 356.3l1.2 0M183.9 341.7l-.2 .6M239 360.7l.9 .1M127.1 337l.7 1.2M181.8 338.9l-.3 .3M280.9 429.9l-.5 .6M148.2 326.2l0 .5M102.5 326.4l.2 .6M56.9 329.7l-.4 .9M258.8 373l.5 1.2M260.4 368l.1 .3M199 337.1l.6 .3M223.5 363.2l-.5 1.1M238.4 370.9l.9 .1M218.9 343.6l.5 .3M199.5 338l.4 1.1M141.3 349.4l.9 .3M272.4 401.2l.9 .2M212 341.6l0 .6M90 318.3l-.3 .5M99.1 321.9l1.5 .2M135.7 329.5l-.8 .3M197.6 341.2l.3 .7M215.9 344.3l-.9 .3M144.8 327.5l.8 .8M250.8 373.4l.3 .3M274.8 409.9l-1.3 .5M230.9 354.7l-.7 .6M179.1 338.3l-.2 .2M266.4 375.9l-.9 .2M105 320.3l-1.5 0M227.5 348.1l1 1M153.3 332.1l1.3 .7M152.9 331.8l.6 .1M250.1 371.9l.2 .6M147.9 336.9l-.5 .7M243.6 355.1l.7 1.3M112.4 325.1l.1 .3M237.6 359.6l0 .7M163.2 352.8l-.8 .1M63.5 322.7l.8 .6M269.6 382.3l-.2 .8M135.8 338.5l.7 .3M173.4 346.2l-1.4 .4M230.6 355.2l0 1.5M250.3 364.7l.4 .3M208.5 342.5l.7 .6M124.7 339.6l.5 1.5M128.1 336l.9 .1M67.9 351.1l.1 1.3M163.4 329.1l1 .2M98.6 334.9l-.4 1M226.7 348.1l-.3 .7M57.6 316.8l1.1 1.2M190.9 342l-1 .7M131.8 331.3l.8 1.4M185.8 338.4l-.3 .1M198.3 344.4l.3 .9M110.8 331.8l.2 .9M267.2 377.4l-.3 1.1M99.1 320l1.2 .6M99.5 329.7l-.6 .7M181.4 339.5l-.6 .2M54.8 319.3l-.1 1.1M101.3 348.4l.5 .7M247.1 356.9l-.1 1.6M92.8 321.8l-.5 1.3M154.8 343.2l-1.2 .3M223.1 346.5l.9 1.3M161.3 328.6l-.6 .3M158.6 332.5l1 .4M193.7 336.1l0 .5M144.6 337.7l-1.1 .4M199.5 338.5l-.3 .2M140.7 326.1l.3 1.5M71.9 355.8l-.4 .4M149.7 331.4l.1 .5M99.5 330.4l.3 1.4M114.8 326.9l.4 .9M117.6 336.9l-1.4 .5M126.8 325.5l.1 .8M93.2 326.2l-.6 1.4M205.5 344.8l.5 .4M57.1 333l-1.4 .6M119.6 321.8l-.5 .7M246 356l.9 .9M135.8 350.1l.7 .1M85 325.2l.5 .8M107.4 340l.6 1.4M77.9 329.9l-.3 .3M190.4 337.4l-.3 1.2M152.1 349.4l.3 .3M199 337.8l.3 .3M137.8 332.6l.8 .1M223.5 349.4l-.6 .9M111.2 332.8l1.2 .9M268.5 382.1l-.3 .7M138.2 332.9l1 .4M230.6 349.2l.1 .4M188.5 350.4l.4 .3M55 314.8l-.1 .4M129.3 332.2l-1.2 0M154.2 335l-1.1 .5M272.7 389.3l-.3 .5M169.4 331.2l.7 1.3M196.7 339.6l1.1 .3M69.9 316.7l0 .6M248 371.8l-1 .1M235.8 353l-.2 1.3M220.5 349.5l-.5 .6M87.1 343.7l-.1 .5M258.1 372l.9 .4M128.7 325.9l.3 .1M119.6 329.1l-1.4 .2M250.8 371.4l-.4 .1M176.1 340.7l.9 .3M159.3 335l-.3 .9M191.7 338.8l1.5 .1M199.5 342.7l.8 1.3M272 389.5l-1.1 .2M75.9 318.5l-.7 .1M180 333.2l.7 .3M161 341.8l-.4 1.1M114.1 329.8l-.4 1.1M227 352.6l.4 .8M203 341.3l.8 1.1M244 355.2l-1.2 .4M170.4 333.6l-.2 .2M121.2 329.4l-1.5 .2M208.3 351.3l.3 .8M216.3 345l-.2 1.3M235.6 362l.7 1.1M278.4 408.1l-.6 .2M193.8 336.2l1.2 0M88.6 322.4l-.1 .7M186.2 350.9l.4 .6M146.2 326.4l.5 .4M252 376.3l1.1 .3M135.8 387.5l-1.2 .1M236.4 351.7l-.4 .4M268.2 380.1l-.7 .3M153.8 328.8l.8 .5M166 331.2l0 1.1M100.6 339.7l-.8 .9M81.4 360.6l.4 .2M280.2 429.8l.4 .2M59.9 324.2l0 1.4M148.3 326.6l.4 .3M106.7 322.5l.6 .7M152.8 332.6l-.1 .9M248.6 375.2l1.2 1M183.9 333.7l-.4 .2M138 363.5l-.4 1M132.8 327.6l-.8 .5M279.3 412.5l-.8 0M197.1 341.3l.3 .5M196.9 340l-.7 .2M209.2 351.4l1.1 .4M146.4 328.7l-.1 .9M270.9 383.4l-1.4 .6M107.7 325.2l-.3 1.5M83.7 322.4l1 0M191.5 335l-1 .1M107.5 322.4l.6 .9M198.8 362.6l-1.1 .7M278.6 414.9l-.3 .1M64.5 316.1l-.1 1.4M121.8 322.1l.3 1.3M73.7 334.1l1.1 .7M146.6 337.1l1 1.1M151 329.2l-.7 .3M96.4 321.6l-1 0M192 338l-.6 .6M207.7 339.5l.8 1M156.3 361.5l.2 1.1M229.9 350.7l-.5 .2M162.9 333.6l.4 .9M179.6 335.7l-.2 .7M98.3 318.9l1.5 .3M127.8 344.6l-.5 .8M242.4 355.5l.5 .2M109.7 321.3l.2 .6M108.5 322l-.2 .3M195.1 338.8l1.5 .1M276.1 400.1l-.9 .7M277.4 406.6l-.6 .7M142.9 332.4l1.1 .5M134.9 332.9l1.1 .9M112.3 331.5l-1.1 .4M175.3 341.2l.3 .9M141.7 354.6l.2 .4M192.5 356.2l-.2 1.6M224 352.5l-.5 .1M267.5 381.1l1 1.2M116.5 330l.5 .2M192.8 336.4l.6 .3M220.9 372.8l-.5 .7M82.4 330.8l-.9 1.2M124.7 347.2l-.5 .5M262.2 376.5l-1.3 0M250.4 362.9l-1.2 .5M251.5 365.4l-.1 .7M217.9 345l-.7 .4M269.1 381.6l1 .5M230 347.7l0 .7M205.3 346.5l.7 .8M122.2 326.9l-.6 1M132.2 352l-.1 .6M153.1 333.8l-.1 .3M227.7 353.5l.4 .5M98.5 319.3l.5 .4M276.9 406.5l-.7 .7M153.8 335.1l1.3 .3M156.7 330.2l.9 .2M157.1 328.3l1 .8M63.6 324.4l-.6 .7M261.1 382.6l-.6 .6M270.6 390.8l.4 .4M103.9 327.9l-1.4 .6M151.1 332.7l-.8 .7M276 409.6l-.4 .7M249.4 362l.9 0M170.3 331.9l-1 1.2M198 346.1l0 1.2M135 324.3l.1 1.2M200.5 340.1l-.2 .4M163.8 347.7l.2 .9M257.5 366.5l-.3 .5M187.1 335.5l-.4 0M138 347.9l-.4 1.5M113.3 332.1l1 .4M188.3 336.9l-.3 .6M164 337l.5 .5M120.9 323.9l.6 .3M153.1 334.5l0 .6M197.9 337.4l-.4 .6M235.7 351.1l.2 1.3M153.6 329.2l-.5 .3M170.9 344.1l-.1 .6M194.9 336.6l-1.4 .1M139.5 335.1l.7 1.4M224.1 349.1l.3 .8M227.1 351.9l-.2 .5M265.9 379.8l-.3 .8M69.5 332.2l.7 .2M267 383.3l-.1 1.3M178.5 334.9l.2 1.5M112.5 331.9l.3 .8M88 324.4l0 .6M238.2 357.3l.2 .3M160.8 339.8l.4 .1M263.1 383.8l0 1M238.7 361.9l0 .9M179.1 347.4l-.1 1.5M132.6 334.9l.4 .2M273.8 399.2l-.2 1.5M93.1 327.9l.4 1M152.6 326.9l.1 1.4M115.2 343.8l.5 1.2M128.6 334.9l-.2 .9M60.6 318.9l-1.3 .2M130.3 335.3l-.5 .1M163.9 335.5l-.4 .8M84.2 318.3l.3 1.4M185.9 335.1l-.7 .9M247 374.8l1.1 .6M86.1 337.4l-.7 1.2M154.7 328.3l.6 .6M211.1 355l.7 .6M273.4 389.8l-1 .3M207.7 347.3l.5 .7M64.5 328.1l-.9 .4M124.1 324.2l-1.2 .3M252.4 360.5l.8 1M214.5 344.2l.8 1.1M212.9 341.2l-.8 .7M181.7 345.9l1.3 .7M152.1 334.7l.8 1.2M182.6 338.7l.5 1.4M124.9 325.9l.5 .8M240.5 356.7l.2 .8M192.2 338l-.8 1M86.1 331l-.4 .9M175.7 332.9l.7 1M278.9 410l-.3 .1M151.9 342.4l-.6 .3M106.5 322.4l.9 .2M156.2 333.6l.4 .6M168.4 339.5l.9 1M262.1 382.7l-1.4 .7M205.3 341.3l-.6 .2M201.7 341.7l-.4 1.1M112.9 322.3l-.2 1.1M196.6 338.5l-1.2 .1M275.6 402.3l.7 1.4M218.1 361.4l1.6 .1M170 351.2l-.4 .4M75.7 317.3l.9 .1M127.1 344.6l-1.2 .1M133.4 347.7l.8 .7M92.7 337.8l0 .6M264.5 378.7l.5 1.2M260.8 376l1 .3M87.9 329l-.7 .3M200.2 337.5l.6 .6M179 331.9l-.3 .2M234.1 351.2l1.2 .1M181.4 351.4l-1.1 0M179.2 352.5l-1.4 .3M78.8 334.2l.1 .7M170.2 349.6l-1.5 .5M222.2 348.3l-1.5 .5M150.4 341.8l-.9 .6M120.3 334.2l.3 .1M209.5 356l-.4 .1M189.3 350l0 1.6M158.7 336.1l-.6 1.4M259.4 370.5l.4 .9M172.9 341.5l-.9 .2M244.5 356.8l-.2 .4M114 371.8l-.5 0M112.2 326l-.4 .1M126 329.8l.5 .8M217.2 346.3l1 1.1M136.3 330.1l-.4 .5M240.5 371.3l-1.3 .1M129.6 327l.6 .7M235.4 371.4l-.2 .5M225.1 353.4l.2 .5M203 341.3l.4 .7M179.2 333.2l-.3 .1M141.9 354.5l.4 .8M168.8 336.3l.1 .3M104.6 337.8l.5 1.2M216.5 342.6l-.9 .9M169.4 340.4l-.2 1.3M252.5 366.1l.7 .6M65.9 319.8l1.1 .5M272.5 388.9l.2 1.4M101.3 336.2l-.8 .8M260.5 369.1l1.3 .1M107.9 324.3l-.4 0M93.5 335.1l-.9 .8M254.1 373.2l-1 0M62.3 321.9l1.3 .4M247.3 372.9l-.2 .6M250.5 360.2l-1.3 .3M218.7 348.3l.6 .2M208.3 343.4l.5 0M150.4 331.3l-.1 1.4M88.3 318.3l.9 .1M240.8 365.1l-1.1 1.1M127.5 344.8l-.4 .4M195.4 343.3l-1.5 .1M136 357.7l-.1 .4M71.7 333.9l-.1 1.6M115 322.9l1.5 0M188.8 349.3l1.6 0M190.5 334.7l.8 1.1M125.3 331.3l-.2 1.2M200.8 353.1l1.1 .1M254.6 369.6l-.1 .9M144.8 326.7l-.8 .9M144 333.2l.2 .8M173.4 331.5l.2 1.4M228.2 354.1l-.8 .1M185 335.8l.5 .2M244.5 356.6l-.1 1.4M48.9 313.9l.7 .8M72.8 326.2l.7 .3M127.4 326.5l-.3 .3M163 329.6l1 .6M95.2 365.8l-.1 .6M82.4 321l-.9 .9M256.6 366.9l.7 .3M65.7 319.2l.3 .7M269.7 386.7l-.4 .5M245.3 356.6l.9 1.3M206.9 347.4l-.9 .4M111.1 328.4l-.8 .6M236.6 353.2l.2 .4M152.9 334.8l-.9 .9M279 410.8l1.2 .3M172.5 338.2l.6 .5M152.2 332.7l-1.5 .5M166.3 346.4l-.1 1M251.4 362.3l.9 .1M221.2 349.2l-.2 .7M197 338.4l.8 .6M50.3 320l-.7 .4M189 350.6l.4 .4M214.2 345.7l-.9 .9M228.4 353.9l-.7 0M194.1 343.8l-1.2 .1M208 358.9l.3 .8M98.3 322.6l.6 1.3M260.8 371.2l-.5 1.5M83.7 323.4l-.9 1.2M142.5 341.9l.1 .8M119.1 355.7l1 .8M122.2 325l-1.4 .7M237.6 372.2l-.1 .4M65.8 318.4l1 .2M72.6 336.9l.1 .4M84.8 317.6l0 .6M252.8 368.6l-1 .6M123.6 338.8l0 .3M262 372.6l.7 .8M118.6 333.6l-1.2 .2M155.9 369l1.3 .5M94.1 322.4l-.1 .3M109.2 334.6l.1 .3M200.2 343.4l-.8 .4M110.4 325.1l.5 .7M113.3 328.8l.6 .4M98.6 328.6l-1.4 .3M122.4 344.8l-.4 1.2M263.4 371.2l.1 .6M154.7 328.1l.6 1M210.3 341.6l.4 .6M57.2 322.5l-.2 1M256.3 363.9l1.2 .4M132.8 326.9l-.1 1M161.9 355l.2 .5M148.4 337.4l-.2 .4M132.5 329.3l.3 1.2M169 362.4l-.8 1.2M158.2 335.2l.6 .4M229.7 352.3l.3 .3M53.4 317.9l.5 .7M178.3 347l.5 .1M124.9 332l-.9 .5M262.6 375.6l-.2 .3M124.4 331.6l.6 .9M129.3 331.8l.4 1.2M161.1 337.1l0 .8M246.5 372.6l.5 1.3M112.8 370.8l1.1 .4M155.4 356.9l0 1.3M93.9 320.3l-.5 .6M143.9 344.4l0 .9M245.2 361.5l-.9 .7M119.7 331.5l1 .4M159.2 346.1l.2 1M100.6 352.5l-.3 .9M179.2 350.7l.1 .4M69.1 321.3l.7 1M227.8 350.5l.6 .5M276.3 398l1 1M139.4 324.5l-.8 .9M248.1 359.9l-.3 .4M180.7 336.5l.9 1.1M268.5 382.1l0 .3M215.8 345.5l.9 .9M124.2 335.8l.1 .4M256.6 372.6l1.4 .2M276.6 403.8l-.3 .4M163.6 351.3l.7 .2M144.4 369.1l.5 1M103.1 321.7l.1 .4M181 342.5l1.1 .6M191.5 335.4l-.1 .4M152.5 333.5l-.7 .9M155.5 347.8l.3 .3M245.3 355.8l.5 .1M233.2 354.2l1.5 .6M201.6 341.1l-.6 1.1M62.2 319.4l-.9 1.1M101 327.1l1.4 .1M234.2 350.3l-.1 .6M209.6 347.2l1.1 .2M88.5 319.8l.5 1.4M111.4 324.6l-1.1 .4M97.9 324.6l1 .8M238.6 353.1l.4 1.3M111.9 328.7l-.7 .4M228.8 356.4l-.5 1.2M136.4 335.3l-.7 .5M262.4 379.1l-.9 .2M257.3 368.9l-1.4 .7M119.3 333.9l.2 .5M136.6 342.9l-.1 .3M193.1 340.4l1.1 .6M132.6 350.1l.4 1M160.7 342.3l-.4 1.2M137.9 327.7l-.5 .5M110.7 321.2l.3 .9M165.8 340.2l-.4 0M208.9 339.9l-.2 1M265 377.3l-1.1 .4M276.1 407l-.7 0M184.9 342.5l-.1 .7M249.1 359.2l-1.4 .3M48.5 326.6l-.6 .1M118 332l1.1 .6M252.9 376l-.3 1.4M234.7 355.4l-.9 .3M207.3 343.7l-.8 .6M270 381.1l-.2 .4M279 415.4l-1.4 .4M149.2 326.3l-.2 1.1M148.9 332.5l-1.1 .7M84.8 326.1l-.3 1.4M262.1 374.6l-.3 .3M223.9 345.8l.5 1.5M238.3 362.7l0 .3M159.9 331.3l.4 .4M269.5 382.2l-.9 1.3M200 374.8l1.4 .7M188.1 337.6l.3 1.5M147.1 368.2l1.2 .8M61.3 318.1l-.2 1.5M221.7 349.5l.4 0M181.1 333.9l-.1 .3M192.9 335.9l.9 .8M253.4 363.6l.4 .2M180.9 333.4l-.5 .1M156.4 334.8l.9 .9M233.9 354.3l-.1 .3M165.5 331.6l.4 .6M186.7 339.2l-.3 .6M266.3 376.6l-.3 1.6M227.4 356.4l-1.2 .2M218.3 346.5l.2 .8M186.4 337.6l.3 .4M61.4 337.5l-1 .9M140.2 325.3l.7 .7M178.4 337.1l1.2 1M69.2 316l1 .7M259.9 367l.2 .3M166.9 330.1l.2 1.4M246.5 358.5l.3 .7M272 384.9l.6 .7M132.5 327.9l-.4 0M65.4 318.6l.8 .3M98.7 320.6l.5 .6M200.6 338.2l-1.1 .7M91.7 319.2l-.4 1.5M202.8 346l1 .1M228.1 351.1l-.6 .9M48.7 313.6l.3 1.3M133.8 327.8l-.3 .7M225.8 354.7l-.1 1M125.5 345.8l-.3 .2M257.7 392.5l.5 .3M237.6 356.2l-.8 1.2M241.9 357.1l-.6 .2M164.1 335.6l1 .6M236.1 352.2l.5 .8M191.2 335l.9 1M128 360.1l.3 .2M122.3 332.5l.6 .5M244.8 364.4l-.7 .7M210.7 340.7l-1.3 .7M144.5 330.6l-.5 .9M194.1 336l.5 .1M124.9 344.8l.4 1.5M235.6 355.2l.8 .7M188.8 337.5l-.6 .2M203.9 338.4l1.2 .3M273.4 389.5l-.2 .8M182.5 335.8l.6 .3M115.9 328.7l1 .3M99.4 320.7l-1.3 .3M230 350.7l.1 .5M247 357l.4 .3M116.6 323.9l.2 1.1M89.9 353.2l-.9 .8M174.7 361.1l1 .5M188.3 346.5l-.5 .6M66.7 315.9l-1.2 .5M91.7 329.3l-.9 1.2M143 330l.1 .3M224 347.9l-.7 .3M122.8 325l.9 .4M252 362.1l-1 .7M164 343l.7 .5M182.9 341l-.2 .8M136.1 332.7l.5 .4M188.6 338l-.3 .3M205.6 339.6l.4 1.5M83.3 349.6l-.2 .5M139 349.1l0 .7M105.3 326.8l-.8 1M207.9 341.1l-1.4 .5M70.7 334.4l-.1 1.5M127.4 335.3l.1 1.2M190.3 335.1l-.9 .4M188.6 335.7l.4 .4M200.6 342.8l-.4 .5M269.9 397.8l-.8 .4M129.5 331.6l.6 0M226.6 347.2l0 .7M189.2 337.9l-.4 .6M188.5 336.2l.9 .7M271.2 391.8l.6 .2M152.5 329l-.4 .1M145.4 331.1l.5 .2M184.3 346l-.4 1M220.6 348.2l-.4 .1M171.2 330.9l-.1 .7M274.3 402.1l-1.4 0M167.2 331.7l.6 .2M178.2 334.7l-.1 .4M59.6 320.6l1.3 .3M97.6 318.7l.3 .5M109.3 340l1.1 0M130.5 323.3l.4 1.4M169.7 340l.7 .1M166.1 330l-.4 .1M238.3 353.3l.8 .5M261 369.2l.3 1.1M46 365.6l.4 .9M174.9 331.4l-.9 .4M155 353.5l-.2 1.5M278 424.4l.6 .1M242.6 364.8l.7 1.2M276.4 403.7l-1 .6M73.4 317.1l0 .7M75.9 322.2l.4 .7M186.7 336l-.7 1M174.2 341.7l-.3 .2M105.9 340l-.3 1.1M241.5 363.9l-.2 .7M69.4 317.7l1.3 .6M94.2 319.6l-.4 .4M150.4 326.4l1.2 .3M50.5 322.5l.1 .3M139 342l-.5 .5M94.9 338.8l.8 .1M222.4 347.1l.6 1M230.9 357.1l1.3 .5M173.4 337.3l.6 .5M185.4 339.1l.3 .2M85.9 328l-.8 .4M190.9 367.4l-.9 0M197.7 344.6l-1 .7M193.6 339l-.2 1.4M190.3 336.9l.5 .3M62.6 324.9l-.9 0M164.3 337.4l-1.1 .2M45.2 329l-.4 .3M100.3 334.5l.9 .3M217.3 343.8l-.7 .9M280.2 429.9l-1 .6M130.1 338.7l-.4 1.2M243.9 356.3l1.4 .8M61.9 344.5l-.3 .5M177.4 343.6l.2 .7M273.2 391.5l-1 .3M183.2 347.6l1.4 0M265.7 379.2l-.3 .3M85.5 323.5l1.3 .1M195.8 339.3l.2 .6M147.5 344l-.6 .6M243.6 373.2l.9 .6M219.3 351.3l.2 1.1M213.4 344.5l.7 .1M279.7 416.6l1.5 .5M107.6 323.1l-1 .2M118.6 321.8l.8 .3M151.7 327.5l1 1.1M150.7 327.6l.1 .4M115.8 330.5l.4 .9M195.8 346.9l1.2 0M126.2 327l-.9 0M107.9 334.5l-1 .8M174.6 333.4l-.3 .2M273.6 390.2l.3 1.1M157.4 358.8l1.2 .2M76.6 369.5l-.2 .4M166 333.5l1.2 .6M224.8 345.5l-.5 .2M257.7 375.8l-1 .2M219 343.7l-.2 .3M216.6 343l1.4 0M104.4 329.2l.7 0M181 347.1l.7 .7M131.9 351.6l.1 .6M155.8 328.8l.2 .8M148.5 335.5l.6 .4M256.7 379.3l-.8 .7M132.4 329.8l-.7 .5M219.1 343.8l-.3 1.1M238 360.3l-.1 .3M176.1 332.2l-1.3 .2M207.7 346.4l-.7 1.2M205.6 339.1l.4 .2M228.4 347.1l0 .7M144 367.1l-.4 .1M261.2 380.1l.6 1.3M103.9 320.5l.2 .6M120.5 336.5l0 .3M141.1 328.8l-.6 .1M138.9 330l.9 .2M266.5 376.4l.5 .7M52.2 318l-.9 .6M150.8 354.8l-.4 .5M193.7 339.6l.4 .4M248.9 359l.5 .2M259.3 374.6l-1 .5M212.9 341.9l-.2 .8M259.5 385.4l-.3 .4M204.1 344l1.5 .4M156.2 351.3l-.1 .5M261.5 375l-1.4 .7M181 343.1l.8 .3M57.8 314.3l.9 1M203 341.1l-1.3 .5M193.9 349.3l-.8 .9M226.4 346.3l.2 .3M233.1 359.2l-1 1.2M160.4 368.1l.5 .1M152 351.2l1.1 .3M107.1 324.5l-.7 .1M197.1 337.8l-.4 .3M114 333.6l-.3 .9M161.3 329.4l-1.3 .9M234.9 351.7l-.4 0M254.7 372l-.5 .2M193.8 336.7l-1.5 .6M86 334.1l1.1 .1M213.1 345.2l0 .4M65 317.3l.6 1M232 349l-.7 1.3M128.1 326l1.4 0M177.1 334l-.9 .3M96.7 336.2l-1.2 0M256.7 372.7l-.2 .6M55.7 331.2l-.2 1.2M126.3 326l.9 .8M59.3 315.1l.2 .3M181.3 372.4l.8 .7M240 353.6l1.2 .6M217.3 345.2l.2 .4M179.5 332.1l-.5 1.1M194.7 363.8l1.2 .6M115 321.4l.5 .1M88.2 318.7l.4 .2M187.2 341.1l-1.2 1M122.2 330.3l-.4 .2M211.3 349.5l-.3 1.2M180.6 333.9l-.7 .3M213.2 343.9l-.1 1.2M107.5 336l-.7 .1M244.9 356.5l-1.1 .2M280.7 428.6l-.4 .8M205.6 342.3l.4 .2M85 338l.3 .3M133.8 324l-.3 .5M178.4 333.1l-.7 .2M166.7 338.4l.9 .8M239.8 353.5l.2 .3M160.8 330.6l.1 1.5M245.9 360.6l.1 .7M228.7 348.3l1 .9M121.7 338.9l.1 .7M217.8 343.4l1.1 .4M152.2 328.1l-1.5 .6M49.4 317.5l1.4 .2M181.1 346.7l-.6 0M188.4 338.6l-.9 1.2M250.8 384.6l-.7 1.4M185.3 349.6l.5 1.1M77.7 326.7l-1.3 .4M271.6 383.7l-1.1 .5M147.1 332.2l-.6 .4M173.8 378.1l.4 .3M269 391.9l-.4 .1M174.1 332.1l.7 1.2M148 331.7l.3 .3M200.8 340.7l-.6 1.2M225.3 357.6l-.4 1.1M201.6 337.7l-.9 .7M190.5 337l1.3 .6M81.9 336.8l-1.3 .4M239.9 353.3l.6 .1M209.8 354.7l-.4 .9M101.1 322.8l-.1 1.3M233 354.4l.6 .1M122.2 322l-.7 0M258.8 368.1l-.9 .4M126.4 323.9l-.2 1.3M204.7 341.7l-.1 .4M214.8 342.5l-.4 .2M226.6 352.6l.3 .6M125.2 345.7l-.7 .1M154.7 335.6l-1.2 .2M99.8 334.6l-.2 .3M263.8 376.2l-.6 .6M143 360.7l1.5 .3M248.8 381.1l1.5 .3M259.1 370.6l-1.3 .5M195.5 342.7l1.1 .1M250.5 361.9l-.6 .3M68.5 336.9l-.8 1.1M100.1 330l1.1 1M204.4 354l-.2 1M225 351.3l.4 1.5M115.5 387.1l1.4 0M97.7 331.3l-.7 .8M167.9 331.1l-.9 .3M150.9 334.2l0 .9M93.1 328.3l-.5 1.4M171.3 340.1l-.3 .6M264.6 382.7l.1 .6M232.7 354.9l.1 .3M91.4 346.6l-.5 .2M276 397.6l.3 .9M96.3 323.1l.5 .3M177.6 343.2l-.4 .2M202 345.6l.3 .3M206.2 346l-.1 .5M254.4 375l.5 .2M182.7 338.6l-.3 .8M150.7 330.3l-1.3 .7M265 385.2l0 .9M265.1 391.2l1.4 .2M147 334.1l-.3 .6M202.2 349.9l.2 .7M172.7 339.4l1 .1M58.8 328.9l.5 .2M115.3 327.3l.6 .5M218.3 345l.3 1.5M240.5 356.2l1.2 .4M121.4 335.6l.1 .8M199.3 337.9l-1.6 .1M219.8 345.1l-1.1 .3M207.2 344.1l1.5 .2M91.2 318.5l-1 .8M274 396.3l-.5 .9M203.9 338.4l.6 1.4M77.9 326l1.3 .6M134.6 353.2l-1.1 .8M181.5 342.3l-1.2 .1M271.1 389.4l-.2 .4M222.4 346.3l-.3 .9M218.1 348.4l1.4 .7M190.7 338.8l.6 .1M155.2 337.8l-.2 .8M206.2 343.6l-.7 .4M276 397l-.8 .4M49.2 316.1l.4 .3M199 337.5l-.1 1.3M95.4 335.1l.2 .5M161 343.7l.5 .4M190.4 336.3l1.1 0M109.6 323.8l-.4 .2M241.8 365.2l-.6 .8M240.3 355.6l-1.4 .4M86.8 326l-.7 .2M103.4 321.8l-.3 .3M88.3 323.7l1.3 .6M242 358.1l-.3 1.1M249 358.7l.5 .5M160.9 331.1l-.2 .5M276 407.5l1 .5M200.9 345.2l.7 .3M91.8 341l.6 .3M153.7 337.9l-.1 .5M158.7 337.6l.6 1.1M88.4 324.1l-.3 .1M131.3 324.2l-.2 .3M148.5 326.5l-1.2 0M86 317.4l.2 .9M254.4 365.5l.7 .1M148.7 327.4l-.1 .4M207.9 345.1l-1.1 1.1M207.7 340.9l.6 .6M148.8 326.6l.3 1M227.8 355l-.9 1M242 354l.3 .1M150.2 356.5l1.4 .7M236.4 354.1l-.9 .1M167.8 332.7l-.1 .4M278 432.4l.7 .3M196 346.3l.1 .7M159.4 341.3l1.3 0M58.5 344.2l-.8 1.1M262.6 371.1l1.1 .7M141.7 334.8l-.2 .7M220.4 344.7l.3 1.3M230.2 358.6l1.2 0M234.7 350.2l-.5 .3M164.6 337.4l.8 .8M256 373.3l.4 1.3M229.9 348.6l1.3 .4M184.8 342.7l-1.3 .6M90.8 319.1l.6 .1M83.4 325.4l-.9 .4M181.8 339.3l-.2 1.5M112.6 384.3l-1.4 .8M96.7 318.8l1.4 0M259 372.7l-.1 .4M277.5 413.8l0 .5M106.4 323.2l-.4 1.1M160.7 341.7l.4 .7M261.3 373.6l.3 1.2M260.7 382.8l-.9 .1M90.8 324.8l-.3 .2M177.7 339.3l.4 .5M239.8 354.9l-.6 .1M252.6 374l.7 .7M133 328.1l-.6 .6M63.4 317.9l.6 1.3M120.1 344.1l-.4 .9M261.2 368.9l-1 1.1M247.9 364.1l-.1 1.3M208.2 348.2l-.4 1.2M146 326.1l-.2 .6M156.5 332.1l.6 .1M194.7 338.6l1.2 .6M105.9 349.6l.5 0M152.7 327.2l.7 .2M58.1 315.3l.3 .1M226.7 347.5l1 .8M271.6 390.5l-.4 .3M102.5 332.2l.9 .3M246.7 365.8l-.5 1.4M123.2 333.3l1.4 .5M138.7 326.6l1.2 .6M224.8 345.8l.1 1.3M128.7 333.2l-.1 .7M202.4 342.2l.1 .5M232.5 350.4l.4 .1M253.3 361.2l.7 0M280.3 422.1l-1.5 .3M224.3 350.5l.6 .6M171.5 344l.5 .1M276.9 399.9l0 .5M103.2 352.9l-.3 .1M252.1 361l1.3 0M233.8 353.7l-.5 .3M66.4 321.8l.3 .8M196.4 339.7l-.5 .3M187.6 349.5l-.3 .6M217.7 343.2l.2 .4M149.9 338.9l.6 .5M237.6 367.1l-1.2 .3M128.5 324.6l.6 1M214.3 355.3l.4 .4M125.6 327.1l-1.3 .5M242.7 358.3l-.5 1.1M140.9 356.4l-.2 .3M280.8 428.8l-.6 1.3M148.6 335.5l.5 .6M121.2 326.1l.9 .8M181.5 342.6l1.3 .3M84.4 321.4l-1.1 .6M118.8 338.8l.4 .6M151.5 326.6l0 1.3M147.7 338.2l-.5 .9M236.1 357.4l.9 1.1M183.5 340.4l-.3 1M180.6 337.6l1.2 .5M154.3 330.2l-.8 .2M97.3 340l-.6 1M116.4 332.4l1.2 .2M214.2 344.5l0 .5M273.4 390.2l-.2 .4M264.7 373.2l.9 1.3M271.8 401l0 .5M173.9 335.3l-.7 .6M83.5 335.2l-.3 .2M183.6 351.3l.9 .9M275.8 395.6l-1.2 .9M243.6 360.8l.9 .2M163 329.5l-.4 .1M99.3 340.4l.3 .6M133.8 337.2l.4 .3M76.6 336.3l.5 .7M209.8 351.7l-.6 0M215 342l.5 .9M203.7 338.8l.3 .4M142.8 334.7l-.3 1.2M138.8 326.5l-.7 1.2M182.1 339.8l-.8 1.1M242.8 355.2l.1 .8M246 356l-.2 .8M256.7 366.4l-.1 .4M66.4 330.7l1 1.2M191.9 335.8l.3 .9M273.6 399l-.5 .1M244.7 358.1l-.4 .1M229.7 348.9l0 .7M115 338.8l1.5 .3M158.5 331.7l0 .5M140.7 344.8l1.1 0M202.6 339.7l-.3 .8M264.2 378.9l.5 1.3M197.3 338.5l-.1 .4M159.2 336.1l.6 .2M145.5 345.9l-.1 1.2M160.1 345.2l.4 1.4M63.9 315.2l-.9 .1M123.7 335.1l.9 1.1M66.9 318l.9 .3M245.5 367.3l1.3 .6M188.7 340.7l.8 .7M169.4 330.4l-.1 .4M231.6 377.8l-.9 .4M215 343.1l.8 .6M224 345.9l.5 .7M147.6 335.9l-1 1.2M215.7 347.8l.6 1M148.9 348.3l-.7 1.1M112.5 329.1l.6 .6M146.6 338.4l.2 .5M67.8 316.6l-.9 .6M253.8 373.5l-.4 .1M246.1 362.2l-.2 .3M166.4 330.3l-.3 .1M54.6 316.9l.5 1.2M275.2 402l.4 .3M84.5 317.3l-.4 .3M280.5 426.8l-.4 .3M278 409.5l-1 .2M100.6 332.5l-.6 .6M61.6 315.8l-.7 1.3M125.8 325.6l1.1 .9M204.9 341.7l1.1 .3M241.6 365.7l-.3 1.3M49.8 314.7l.3 .7M264.9 373.8l-.6 .4M141 334l0 .8M98 319.4l-1 .8M201.8 351.2l1.5 .1M274.9 402.5l-.3 .4M203.9 338.4l1.3 .5M280.6 424.5l-.7 .4M186.4 342l-.1 .3M221.2 351.4l.7 .2M136.7 331l.3 0M121.2 326.8l-1.5 .3M59.6 325.1l.6 .4M177.9 346.7l.4 1.1M262 369.4l.3 1M267.3 379l.7 0M71.8 329.2l.3 .7M224.1 351.3l0 .5M117.8 340.6l-.9 1.3M199.5 342.6l-.5 .2M228.9 369.8l-1.5 .4M178.7 348.4l.3 1M263.2 372l.3 .3M220.1 348.8l-.5 .2M268 379.4l.1 .9M247.2 363.2l.3 .5M122.6 333.4l-.6 .4M155.8 354l.6 .5M265.5 375.5l.4 .4M151.9 328.3l-.3 .7M251.6 362.9l-.3 .7M235.7 358.6l.4 .2M99.7 322.5l-.2 .2M166.3 331.1l.1 .5M99.8 345.4l.2 1.1M139.5 338.5l1.2 .1M58.3 347.4l0 .5M255.4 372.8l.3 .6M177 333.6l1.1 .5M108.7 320.4l-1.2 .1M224.4 347.9l.3 1.1M157.2 332.5l.4 1.4M103.9 320.5l-.7 .4M98.4 333.3l1.5 .1M195.1 339.6l-1 .1M164.7 335.1l1.4 .4M177.4 343.9l-.8 .4M274.6 392.5l.3 1.1M122 323.9l-.3 .4M187.2 334.9l-.7 .7M201.6 340.7l-.1 .6M182.7 338.6l.2 .3M196.6 342.1l.9 .1M263.7 372.1l.5 .8M210.9 343.2l.5 1.4M142.3 334.9l-.5 1.5M259.3 367.3l.1 .4M152.3 330.4l.4 .4M208.2 342.1l.5 .3M206.1 342.9l-.2 .6M95.5 336.4l.5 .9M149.3 336.5l.4 .6M149.3 344.3l1 .5M219.1 354.7l.2 .8M181 342.7l-.4 1.2M188.1 358.4l-.4 .3M75.8 321.6l1.2 .1M161 334.3l-.3 1.3M180.3 333l-1.4 .7M116.6 345.4l0 1.3M129.6 336l.2 .4M48.5 319.5l1 .6M97.6 322.7l-.2 1.3M113.3 321.1l.3 .4M251.4 374.6l0 1.4M57.3 314.2l-1 .3M59 326.4l.1 .3M270.3 399.7l-.9 .7M243.6 359.3l-.6 .7M216.1 347.7l-1.1 .5M172.6 332.3l-.2 .8M242.4 361.8l1.2 .3M126.3 326l.8 .6M198 364.2l.4 .3M203.3 340.4l.2 .6M252.4 360.9l-1 0M176.5 338.8l-.2 .2M261.3 370.2l.6 .6M201.8 358l.3 .3M239.5 363.6l.1 .7M48.8 316.3l.7 1.2M156.3 336.4l.1 .3M206.4 339.7l-.4 .7M254.4 362l.1 .6M174.1 334.8l-.5 .3M165.4 329.9l.4 .9M120.3 326.8l-.3 1.5M257.4 377.5l-.6 1.3M61.2 333.3l.4 .6M95 331.5l-.3 .3M255.9 364.3l.7 0M240.8 361.7l.6 .7M257.6 365.3l-.1 .4M52.4 372.5l.9 1M235.7 358.2l.3 .1M162.3 334.4l-.4 .2M178.1 338.2l-.3 1.6M253.7 361.5l-.8 .1M166.5 351l.6 1.1M241.6 365.1l.3 .5M236.8 358.1l.8 1M245.4 357.3l1 .2M81.6 321.2l.3 0M88 323.7l.5 .8M120.2 336.6l.8 0M248.4 364.1l.8 .7M231.5 353.4l-.2 .9M227 361.6l.8 .4M130.9 339.1l.2 .3M226.8 352.4l-.9 .4M225.3 353.2l.4 1.1M131.1 327.2l.6 .3M140.7 325.6l1 1M206 371.4l.3 .9M140.7 332.4l.1 1M176.8 345.2l.1 .7M47.3 314l.4 1.1M221.6 345l.2 1.3M125.3 326.7l-.3 .4M175.7 332.3l.1 .9M193.4 340.5l1 .4M85.6 328.4l-.2 1.1M259.2 369.6l1 .6M229.8 358.6l.4 .9M229.3 348.5l-.7 .3M167.5 338.4l.3 .2M150.5 365.3l-1.1 .3M123.5 324.4l-1.3 .7M192.1 350.3l1 .5M232.5 348.8l-.7 .8M97.5 321.8l-.8 .6M134.6 324.1l-.7 .9M228 350.3l.3 .8M140.7 325.3l.2 .5M238 353.4l.2 .5M222.5 356l.8 .5M101.6 320.7l.4 1M86.2 328.4l.1 1M254.9 368.9l.1 .5M147.3 334l-.5 1.4M161.6 334.9l.3 1.3M78.2 318.6l.2 .8M200 339l.4 .8M203.9 342.1l-.6 .3M88.7 353.2l-.7 .6M96.3 346.8l1.2 .4M69.9 334.2l-.6 .5M249.3 361.8l.9 .4M76 317l-.8 1.1M214.1 342.5l-.7 .2M152 370.5l.4 .3M175.2 345.6l0 1.1M137.6 339.3l.2 .3M152.3 359.1l.6 0M193.4 337.5l-.3 .2M244.6 362.9l.1 .6M250.3 362.1l.5 .9M141.9 329.6l-.5 .2M233.2 351.5l-1 .7M62.6 317.7l.1 .4M129 336l.2 .3M258.6 367.7l.5 0M181.5 338.3l0 1.4M53.5 329.4l-.5 1.3M267.4 380.5l.6 .6M219.2 366.3l-.6 .2M258 372.1l.3 .5M233.3 349.5l0 .5M72.4 317.4l1 .6M189.3 342.2l-.3 1M251.3 361.4l-.3 .2M270.5 384l1.4 .7M187.3 339.2l-.4 .4M243.6 358.5l-1.2 .8M114.2 323.6l-1 1.1M246.1 364.1l1 1.1M175.7 341.8l.1 .3M256.6 368.2l-.3 .2M136.8 324.2l-.6 .2M244.8 360.1l-1.4 .3M161.9 346.2l.4 .2M274.2 406.2l.4 .1M106.3 321.5l.8 1M241.7 361.1l-.9 .9M93.9 323.1l-.3 .8M221.4 348.5l.9 .2M243.1 364.5l-.9 .7M184.6 337.7l-.5 .9M66 346.8l.1 1.5M232.7 357l.8 .9M279.7 416.8l1.5 .1M211.3 351.1l.5 .2M193.5 342.3l.4 1.1M177.8 347.5l-1.2 .3M211 342.3l0 .9M102.6 320.2l-.3 .4M209.1 342.4l-.2 1.1M118.3 337.9l0 .4M254.4 370.8l.9 0M128.1 352.9l-1.3 .8M258.2 370.3l0 .5M85.4 340.2l-.8 .4M134.8 351.1l-.7 .4M132.6 343.4l0 1.4M151.1 332.4l-1.2 .1M87.5 328.4l.9 .1M215.3 350.6l-.2 .4M268.3 381.9l.2 .8M130.6 337.9l-1 .6M65.8 315.5l1.3 .6M261.2 373l-1.3 .7M142.3 325.8l-.8 .5M97.6 323.7l-.9 .3M128.6 337.4l-.6 .2M188.2 342.3l-.8 .5M256.6 365l.1 .7M180.1 335.3l1.2 1M170.2 342.3l.1 .6M66.8 315.5l1.1 1M153 335.2l.1 .6M58.4 342.3l-.8 .4M78.4 318.9l-.2 .9M83.4 319.1l-.2 .3M118.8 343.7l.1 .4M219.2 344.8l.2 .6M211.2 342.1l.3 .5M168.2 330.4l.7 .7M193.3 340.1l-.9 .7M114.9 340.5l1.1 .8M252.3 361.7l.9 .2M87.7 322.8l0 1.1M269 383.1l.9 1M238.6 359.3l1.3 .7M113.7 321.6l-1 .3M209.5 340.1l-.6 1.5M53 339.2l0 .4M278.8 409.9l-1 .1M228.4 351.2l-.1 .5M178.3 345.6l.3 .2M95.3 339.9l1.5 .5M101.7 325.5l1.4 .6M150.8 344.1l0 .3M214.2 343.5l.4 .5M189.6 355.1l1.2 0M211.3 347.4l-.9 .8M124 330.8l-.5 .9M261 374l1.1 0M159 328.5l.6 .3M241.5 353.3l.8 .3M53.3 333.9l.5 .9M206.9 339.7l1.3 .9M120.4 322.6l-.3 .5M120.7 324.5l-1.2 .7M251.8 402.8l.8 .2M140.8 336.4l.1 .8M245.7 368.9l.8 0M127.8 326.3l-.6 .4M168.5 359l.3 1.5M53.6 334.9l0 .3M233.3 351.1l-1.3 .3M136.2 342.5l.2 1.6M202.3 343.4l-1.3 .5M153.3 332.6l-.7 .1M128.4 327l.9 .3M218.4 346.8l-.8 .5M192.4 341.3l.3 1M119 328.9l0 .3M184.1 340.4l-1.5 .2M154.8 328.4l.1 .8M96.2 319.5l0 .7M160.7 329.2l.9 .1M216.2 344.3l-.5 .1M181.7 339.2l.8 .7M109.7 327.7l.5 .4M131.1 331.9l.2 .8M132.4 337.7l.2 .5M238.7 359.4l.5 .1M186.5 341.8l.8 .6M203.4 341.3l.2 .3M165.1 340.9l-1 .5M82.1 319l.3 1.4M187.4 346.3l.4 1.1M174.8 332.3l-1 .7M214 362.5l-.6 .1M73.3 322.6l-.1 .4M262 390.1l-.9 1M107.9 324.1l-1.5 .4M178.9 332.3l-1.1 .2M127.2 334.8l.6 .5M260.1 367.2l-1.5 0M259.2 370.4l-.5 .3M177.9 334.8l1 .4M138.7 336.4l.5 .8M242.8 355l-.6 .2M175.2 331.9l0 .6M244.3 355.7l.5 1.4M201.9 342.6l-.5 1M106.4 334.1l-1 .4M234.2 355.2l-.3 .2M113.3 332.7l.8 1.1M61.9 333.9l.1 .9M262.8 377.8l-.8 .5M208.6 340.2l-1.2 .7M274.7 393.8l-1.4 .1M160.1 336.1l.5 .9M68 317l.9 .1M247.1 360.9l-.4 1.5M236 357.7l-.5 1M127.5 325.9l.3 .5M183.8 333.7l.3 .9M135.8 325.3l-.4 .7M280.2 420.6l.8 .1M237.7 365.4l-.9 .7M129.7 329.4l.2 1.5M78.7 319.5l-.4 1M274.3 398.1l1.3 .1M155.3 338l.5 .3M106.9 322.3l.3 1.5M49 325.1l0 .6M128.5 331.1l-1.5 .4M215.9 344.6l-.8 .3M173.9 340.9l-.3 .7M156.6 340.5l-.3 .1M178.4 335.1l1.6 .2M214.4 349.4l-.1 1.3M263.5 379.3l.8 1.1M187 340.9l-.5 .7M149 352.1l.5 0M232.2 350l.4 .3M54.6 336.4l-1.1 .3M271 382.7l-.3 .3M151.7 348.1l-.9 .2M255.4 363.8l.8 .5M260.5 375l-.2 .3M209.9 343.2l.6 .6M48.2 411.3l-.5 .4M201.1 359.5l-.2 .3M144 342.2l-1.3 0M185.1 334.9l.1 .5M228.3 357.2l.1 .5M166.3 331.6l.2 1.2M199.4 345.4l-.5 .8M126.7 325.8l-.5 .3M156.9 333.2l-.5 .7M216.5 353.2l.2 .9M77.1 326.3l-.5 1M166.5 333.8l.2 .4M211.4 348.4l.5 .3M60.3 319.6l-.5 .3M74.1 320.7l-1.4 .6M90.5 333.9l-1.3 .7M101.7 346l.7 .2M49.7 320.3l-1.4 .1M140.3 337.9l.6 .5M207.3 342.3l1 1M202.6 338.4l-1.6 0M146.6 329.4l.7 0M134.9 324l.1 1.2M238.3 353.2l1.2 .7M205.5 340.3l.6 .2M199 345.4l.9 .3M159.7 337.6l.4 1M248.4 361.8l.9 1M156.2 335l-.7 .4M261.8 381.8l.4 .8M121.7 330.9l.1 1.4M203 342.3l-1.1 .8M165.3 330.9l-1.4 .3M117.1 336.6l.6 .3M192.7 337.3l.3 .3M104.6 320l.2 .4M228.7 347.4l-.7 .1M72.8 325.1l0 1.4M204.9 341.6l-.5 .2M225.5 351.9l.3 .3M89.9 345.9l0 .4M275.6 403.8l-.7 1.1M119.7 322.8l.2 1.5M172 339.8l-.3 0M190 335.4l-.6 .4M144.3 329.5l.5 .9M163.9 341.9l-.5 1.1M205.4 342.7l.6 1M111.1 324.1l-1.1 .8M184 337.9l.7 .1M201.4 348.2l-.7 .8M193.4 335.7l.4 .4M49.9 319.2l-.5 .1M235.5 352.5l-1 .9M221.5 356.1l-.7 .1M264 375.2l1.3 .8M209.2 340.6l.7 1.4M279.2 413.3l0 .4M120.5 322.2l0 .4M110 336l-.7 .6M239 353.7l-.8 .9M278.9 409.8l0 .8M148.7 330l-.1 .3M242.8 354.9l.3 .2M102.9 361.2l-.2 1.5M199.3 339.5l.3 .3M181.2 337.4l-.7 .3M217.2 348.3l.6 .7M259.7 368.4l.6 .9M194.4 348.2l1.1 .6M52.9 319.4l.4 .6M184.2 352.7l-.3 .3M155 327.7l-.2 .2M169.3 351.9l.8 1.3M103.9 320.6l-.1 1.1M151.5 333.1l-1 .4M241.7 367l0 1.2M155.2 331.9l-.6 1M270.9 403.1l-1.2 .8M150.6 335.2l.1 .7M262.2 374.1l-.5 .5M147.7 346.5l-.2 .7M229.6 354.5l-.3 .4M187.6 337.4l-.7 .4M221.7 356.8l-.3 0M248 374.7l-.5 0M69.9 337.7l-.3 .9M106.6 341.6l.6 .4M196 337.3l.4 0M120.2 323.1l-.3 .1M133.9 324.4l1.3 .3M92.2 320.7l-.1 1.6M252.2 363l-.6 .1M191.3 339.9l-.3 .4M202.1 339.8l.7 .8M167.4 333l1 .4M133.8 330.1l.3 1M187.3 334.3l-.3 .4M143.5 341.8l-1.3 .7M101.3 323.3l1.4 .6M202.1 348.2l-.3 0M153.5 332.9l1.4 .5M77.5 325.6l.6 .5M64.1 323.3l-.8 .5M115.5 323.1l-.6 .2M169.3 336.7l-.1 .8M252 372.8l1.5 .5M189.6 334.5l.2 .8M114.5 347.6l-.2 .8M67.7 317.3l-.3 .9M229.9 347.8l-.4 .2M94.8 319.1l-1 .8M213.2 342l-.8 1.3M216.3 359l-.3 .2M70.4 347.3l.1 .5M230.8 353.4l.4 .8M188.5 336.5l.9 .1M134.9 342.4l-.4 1.1M269.2 389.5l.7 .1M178.5 340.7l-.8 1.2M175.8 335.6l.6 .9M121.5 324.9l-.3 .4M237.9 351.8l1.5 .1M198.2 345.6l.3 1.4M103.5 329.8l.3 1M257.3 366.4l.3 1M166.5 331.7l.7 .3M137.7 351.4l-.3 .2M199.5 343.8l.8 0M247.2 358.7l.2 .3M159.2 331.8l.1 1M160.2 340.1l-.6 .3M264.6 384.1l.2 1.1M240 370.2l-.3 .2M236.6 353.5l-.6 .5M200.5 350.6l1.5 .6M250 358.9l-.3 .2M101.4 337.1l.8 .3M200.3 355.5l-.6 1.5M89.5 317.7l-.2 1.2M121.1 338.1l-.4 .6M128.7 328.9l-1.1 .1M166.4 331.9l.3 .4M211.5 345.2l-.5 .5M249.8 368.8l1.2 .6M172.2 349.7l.3 .4M229.3 362.5l-1 .3M184.8 359.4l-.2 .2M165.5 334.7l.2 1.5M97.4 342.4l-.4 .7M247.5 357.1l-.3 .1M181.8 340.1l-.6 .7M118.7 326.6l-.9 .9M164.8 341.8l.2 .3M71 335.1l.1 .7M177.2 353.7l0 .5M185.7 348.9l.2 .3M132.5 346.2l.4 .3M85.9 319.5l-1.5 .4M266.2 375.2l-.4 .5M262.4 376.3l.9 .7M223.5 350.6l.1 1.2M267.7 389.1l.3 .4M207.3 340.1l.4 .9M247.2 356.8l-1 .4M204 339.2l-.4 1.3M93.5 329.8l-.3 .9M121.2 337.7l-.1 .5M80.5 338.1l.5 .1M267.4 387.5l.5 .3M265.1 377.4l.8 .1M109.4 328.9l-.4 .1M241.1 355.1l.6 1.3M204 339l-.8 .5M182 339.6l-.3 .2M230.1 364.7l-1.3 .3M97.7 323.3l.1 1.3M179.6 334.1l-1.2 .7M94.9 327.2l-1.3 .6M227.7 352.2l1 1.1M123.3 338.9l.6 0M247.1 360.6l.9 .5M158.6 334l.7 1.2M188.2 339.9l.1 .3M205.8 362.6l.5 .3M254 367.5l.5 .2M133.9 330.4l.9 .2M204 345.2l-.9 .3M105.6 327l.8 .4M219.2 353.3l.8 .4M204 340.4l-.4 .4M62.6 316.3l-.9 .5M165 332.7l-1.2 .7M212.8 344.7l-.4 1.4M91 333.3l.7 .1M261.6 379.8l.3 1.4M91.4 321.4l.6 .3M241.3 361.1l.7 .4M129.7 324l-.3 1.4M236.6 354.9l.2 .4M93.8 325.1l-.3 .1M100.7 320l-.7 1.2M244.3 355.1l-.7 .4M157.1 350.7l.4 .7M104.1 322.4l-1.3 .1M100 320l-1 .3M194.9 338.6l.6 1.4M241 362.1l1.1 .3M239 352.7l1.2 .3M166.3 343.5l-.4 1.2M251.2 378.5l.7 .3M120.2 325.6l.9 1M98 320.4l-.3 .5M145.7 345.7l-1 .5M123.4 342.5l.6 1.4M222 347.8l0 .8M278.4 422.5l.4 .4M240 353l-.3 .8M176.2 333.5l1.1 .3M273.8 405.7l-.9 .5M219.6 347.3l-.2 .5M117.2 326.5l-.8 .3M197.3 346.3l1 .8M230.3 349.8l-.2 .3M130.5 345.6l.5 .7M271.2 391.3l1 .1M266.9 375.6l.4 0M110.2 368.6l1.2 .2M267.5 385.2l-.2 1.3M257.4 381.8l-.3 .3M271 382.8l-.3 .1M159.1 335.4l.3 .5M138.1 351.8l.1 .8M179.7 347.9l.8 .3M275.2 395.6l.3 .1M90.4 321.9l-.7 1.1M232.6 357.9l-.6 1.2M213.3 342.6l.4 1.3M206.2 341.7l-.7 .6M50.7 326.4l-1.3 .4M171.8 360.1l.8 0M185 335.5l.5 1.4M84.1 324.3l.9 .7M151.1 332.8l.5 .2M201.4 339.2l-.2 1.2M130.5 333.6l-.7 .2M64.5 327.1l1.4 .5M122.8 324.7l-.7 1.1M201.5 344.6l1.2 .6M158.8 355.9l-1.3 .1M146.5 327.8l-.7 .5M201.9 343.2l.6 1.3M124.3 332.2l-.4 .3M260.7 385.9l.3 0M166.3 345.7l.3 .5M94.7 329.6l-1.5 .4M183.1 334.9l-.4 .6M123.2 334l.6 1.4M80.2 333.4l-.4 .4M93.8 318.4l-.7 1.3M229.5 368.2l1 .7M238.7 351.8l.2 .5M279.8 418l.5 .4M165.7 331.2l-.6 .4M230.7 349.6l.3 .8M230.4 349.2l.3 1.3M207.9 342.4l.4 1M230.8 348.4l0 1.3M105.2 321.7l-.4 .3M274.2 390.3l1.5 .2M182.8 336.8l.2 .2M241.2 362.9l-.5 0M157 331.1l1.2 0M197.4 343.3l-.1 .5M140.2 329.5l-.1 1.6M211.5 341.1l-1 1M118.5 325.2l-.4 .5M57.4 333.4l-1.5 .3M121.2 330.8l1.2 .9M228.5 351.1l-.4 .9M271.2 383.3l0 1.3M199.1 341.9l-.1 .3M175.5 331.9l.6 .4M209.1 347.7l.8 .8M94 331.5l-.6 .2M240.8 354.3l.4 .2M262.2 373.8l-1 .6M84.3 337.1l.5 .3M189.3 340.2l-.6 1.4M221.1 350.7l.3 1.2M274.5 409.4l-.4 .6M52 314.4l-.7 0M131.3 327.2l-.5 1.2M226.2 352l.8 1.2M164.6 354.2l-1.1 .8M80.6 323.2l.5 .1M126.6 323.4l-.3 1.4M245 357.3l0 1.2M242.3 359.5l1.2 .7M102.4 319.8l-.8 .3M224.2 345.6l-1.2 .8M224.3 358.8l-1.4 0M267.4 382.2l-.5 .8M280.1 430.2l-.8 0M147.7 349.5l-.4 .4M273.4 388.7l-.2 .2M239.6 353.7l-.3 1M276.2 406.4l-.2 .2M270.7 397.5l1.1 .1M172.4 330.9l.3 .9M258.4 367.5l-.3 .1M111.1 353.1l-.8 .6M171.4 362.3l-.7 1.4M130.8 337.1l.7 .2M99.3 324.3l-.1 1.4M262.7 378.1l.3 .4M125.1 336.7l.6 .2M51.2 327.6l.9 .3M47.7 333.8l.3 .5M92.3 321l.8 .9M180.2 336.2l-.5 .7M224.6 358.5l.7 .5M221.2 344.6l-1.4 .5M252.9 367.5l-1.3 .8M165.5 338.6l.5 .1M86.7 321l-.6 .8M196.7 336.7l-.7 .1M124.3 350.4l-.3 1.5M88.5 327.2l0 .5M150.5 327.5l-.3 .1M255.1 364.8l-.4 .1M154.9 330.7l.6 1M190.1 338l1 .9M188.7 352.9l-.6 .4M221 344.7l-.4 .7M103.6 327.1l.3 1M171.9 332.7l-.6 .4M131.2 326.1l.3 .5M107.8 325.9l-.1 1.2M266.2 374.7l.1 .7M202.4 341.8l-.2 .6M140.3 328.3l.8 1.1M240.8 356.9l-.4 .9M182.2 352l-1.2 .5M187.3 337.8l.3 .1M115.5 327.7l-1 .5M158.6 333.5l.9 .5M109.8 321.5l.1 .3M191.8 355.6l-.1 .6M261 373.7l-.5 .1M226 346.7l-.4 1.3M251.7 364l1 .7M111.3 324.9l1 .8M225.9 347.1l1 .5M202.3 341.9l-.4 1.3M97.1 325.2l-.5 1M130.1 333.5l-.5 0M192.7 354.1l-.5 .6M70 324.4l.8 .2M275.1 401.9l.9 1.2M90.6 319.7l-.9 .4M158.9 342.3l-1 .1M268.3 378.8l1.1 1.1M271.5 398.5l.5 0M270 384.2l.5 .4M170 337.5l.1 .3M275.2 395.1l-.2 .4M191.2 353.8l-.3 .2M267.5 379.8l.3 .1M161.2 336.2l.4 .1M156.7 333.6l-.5 .8M163.7 337.5l-.2 .5M232.2 350.8l.4 1.3M190.3 339.3l.5 .2M165.7 350.9l-.3 .7M112 324.8l-.3 .7M223.8 349.7l-.6 0M73.8 317.8l-.9 .2M192.1 336.2l1 .7M119.2 327.3l1.1 .5M246.4 364l.1 .3M111.2 332.1l-.6 .5M226.6 347.6l-.3 0M146.5 327.8l-.4 .5M108.7 329.7l-1 .2M168.9 334.1l.3 1.2M175.2 332l-.4 .3M225.6 346l-1.2 .7M237.6 359.2l1.2 .9M59.1 324.4l-.5 .8M95.2 318.9l-1.5 .3M204.8 344.5l.4 1.4M123.2 325.3l-.4 0M128.6 324.8l1.4 .1M121.3 339l-1 .7M74.4 318.6l0 .5M239.6 363.1l-.5 .3M85.9 335l.7 1.1M209.9 345.8l.1 .8M95.3 319.7l-.6 .2M273.3 404.1l-.5 .5M245.5 356.8l-.3 1.2M117.9 357l.3 .5M167.4 335.8l.1 .9M205.4 349.8l-.2 .3M207.9 341.2l0 1.2M120.3 331.4l-.9 .8M203.3 344.4l0 .4M169.9 333.7l-1.1 .6M252.4 369.9l.4 .4M57.9 361.9l.5 .6M219.5 347.4l.3 .1M255.9 372.4l-.3 .4M178.6 343.1l-.8 1.1M195.9 344.6l.9 .8M133.7 339.3l-1.3 .7M80.3 336.6l-1.5 .2M187.5 345.6l0 .5M146.4 379.9l-1.5 0M251.3 363.3l.3 .3M227.6 351.1l.8 1M246.5 356.5l-.3 .2M275.7 411.3l.1 .7M143 340.8l-.5 1.2M234.3 350.3l.9 .3M100.1 328.3l.4 .1M243.3 357.2l-.1 .8M137.5 325.3l-.2 .6M191.2 337.3l.7 .6M120.6 333.2l.4 0M257 375.3l-.4 .8M131.6 325.4l-.6 .8M112.3 322.6l-.8 1M162.3 343.2l.9 .5M166.8 336.3l-.1 .6M248.2 379.7l.2 .6M238.6 352.5l.5 .6M166.8 333.2l-.9 .4M268.4 378.8l1.2 .5M109 331.9l-.1 1.2M67.8 329.4l.6 .1M145.2 343.5l.1 .5M67.3 333.8l-.9 0M256.2 370.3l-1.4 .4M48.6 321.6l-1.1 .8M109.2 329.5l1.1 .3M71.7 321.6l-.2 .3M127.2 323.2l-1.2 1M115.2 330.8l-.2 .6M174.8 334.4l-.1 .4M98.9 361l-.7 .3M186.5 338.8l.7 .4M160.2 343.3l0 .8M70.5 325.1l1 .7M131.9 324.1l-.5 .6M154.4 335.2l0 1.2M178.9 333.2l-.8 1.1M49.1 323.1l.3 .1M151.5 335.9l-1.4 0M118.7 327.2l-.1 .4M71.6 358.2l.1 .9M177.8 336.1l-.4 .1M77.3 320.2l1 .6M266.5 379.4l-.7 .1M276.9 399.4l-.8 .1M181.9 337l-.7 1.3M144 337.4l.9 .5M99.5 323.7l-.1 .3M208.5 346.1l.6 0M209.5 357.6l-1 .6M224.3 345.2l.3 .6M174.4 331.6l-.2 1.3M226.4 347.4l-.2 .8M178.4 335.1l.8 1.2M104.5 335.6l-1.3 .4M125.6 322.9l-.7 .8M118.5 339l-.7 .5M128.6 362.3l0 .4M182.1 337.3l-.7 .7M233.6 350.4l.8 1.1M179.6 367.9l-.1 .9M209.3 353.1l.4 1.4M187.6 344.9l-.7 1.1M180.9 348l1.1 .7M224.9 359.2l.3 .3M265.4 380.6l0 1.6M260.8 369l-1.3 .5M94.6 323.3l.1 1.1M235 354.6l-1.1 .3M112.7 342.3l-.4 .2M266.4 384.3l-.2 .5M196.1 346.4l0 .9M269.9 398.7l-.6 0M231.1 356l.1 .4M154.2 327.3l-.6 1M269.4 394l-.1 .5M174.6 331.5l-.9 .2M193.3 346.3l-1.3 .8M177.7 332.9l-.3 .3M245.5 368.6l.3 .2M93.1 340.1l-.2 1.2M266.4 388.9l.6 .5M221.1 347.8l-1 .2M267.9 390.5l.1 .9M151.9 329.8l.2 .5M88.7 324.4l.6 0M202.1 338l-.6 .3M273.3 389.2l-1.1 .8M91.5 346.1l.2 1.2M89.4 323.6l1.2 .5M177 346.6l1.1 .4M52.1 314.5l.6 .5M274.9 401.6l.4 1.3M227 361.8l-.3 .6M134.1 336.3l.2 1.5M269.8 388.2l-.1 1.5M106.2 335.5l-.4 1.4M152.3 340.8l0 1.2M248.3 365.9l.4 .6M122.6 322.1l1.1 1.1M113.6 332.3l-.2 .4M259.7 371.1l.8 1.1M276.1 399.3l-.6 .3M158.1 335.6l-.2 1.1M89.2 327.8l-.1 1.4M158.7 341.3l-.6 .2M150.5 349.1l-.7 .3M132.2 383.1l.6 .2M128.9 325.6l-.1 1.5M239.5 359l-.3 .7M167.9 338.7l-.1 .7M185.7 335.2l-.6 .3M260.4 385.4l-1.2 .2M250.4 364l.3 1.4M99.5 338.4l-1.2 .6M155.2 329.2l-.1 .6M200.8 351.3l.9 .4M100.7 328.5l-.3 .3M252.7 361.2l.8 .5M268.8 389.3l-.5 .3M150.8 368.5l-.6 .5M98.3 323.9l-.3 .2M161.6 348.5l-1 .2M260.6 371.7l-.7 .1M74.1 325.8l.6 1.4M205.2 343l-.8 1.1M178.4 333.2l1.2 .5M87.7 333.9l1.4 .1M96.4 343.8l.4 1.4M206.4 353.2l.2 1.5M234.6 350.8l-.2 1.3M191.8 341.1l.1 .3M250.8 366l.8 .8M98.6 322.5l.1 .6M71.2 316.7l1.6 .1M104.3 329l.6 1.3M96 324.3l.4 .1M165.1 334.1l.9 1.1M235 367.7l.6 1.4M175.9 336.9l.5 .2M208.1 343.9l.2 .3M153.1 335.8l-.2 .5M268.8 396.8l.1 .5M92 324.2l0 1.3M241.2 354.7l.5 .8M204.3 340.8l.3 .1M275.9 406.5l-.7 .2M73.8 317.1l.2 .4M142.3 329.2l.6 .4M167.3 347.3l.3 .3M130.7 332.5l-1.1 .3M162 328.5l-.4 .6M208.5 341.5l-.2 1M252.3 360.5l.8 1.1M179.9 354.5l0 .3M200.1 340.5l-.9 .4M137.2 338.1l0 .4M151.7 341.2l.6 0M194.7 337.7l.8 .7M268.3 380.4l1.1 .5M167.8 353l.9 0M240 360l.1 .5M273.9 395.2l.8 1.2M119.1 354.3l.9 .1M129.1 328.5l-1.2 .5M167.5 342.2l-.9 .3M243.1 356.2l.5 1.3M182.4 332.9l.6 .4M154.3 332.9l.3 .2M210.8 358.1l1.1 .3M210.5 361.7l-.3 .2M199.1 340.1l.6 .2M217.9 343.2l1.1 1.1M145.3 326.8l-1.3 .6M45 326.5l-.3 .3M140 341.6l.2 1.3M102.5 325.7l-.8 .2M171.5 360.6l-1.2 .1M119 370.1l-.4 .3M82 325.2l0 .4M150.6 350.4l-1.1 .7M248 358.6l-.2 .7M59.9 320.8l-.6 1.2M98.4 320.1l.2 1.6M66.1 333.2l-1.3 .3M163.6 343.6l1.1 .6M210.8 354.3l.2 .5M214.3 347.5l-1.3 .9M188.6 339.2l.1 .8M223.8 350.5l.7 .3M254.4 369.5l-.4 .8M158.5 332.2l-.6 1.3M137.9 325.4l-.1 .6M130.8 333.6l.3 .2M194.4 348.4l.4 .4M156.5 335.7l-.7 .5M243.1 358.3l-.5 .9M151.1 334.2l-1.1 .7M218.2 343.5l-.7 .9M225.4 357.4l-.2 .4M161.8 332.8l-1.2 1M134.7 328.4l-.5 0M213 342.3l.3 .2M83.4 325l-.9 1.2M114.2 347.9l.8 .2M219.2 343.6l-.4 .7M264.6 378.2l-.6 .7M241.5 371.8l-.9 .1M112.8 331.6l.2 1.4M233.7 370.1l.2 1.1M96.5 318.7l-.3 .3M188.7 345.6l.1 1.3M73.5 318.1l.5 .3M187.4 338.2l-.4 .3M133.2 336.2l-.3 1.3M89.9 320.5l.7 1M126.9 330l-1.2 .9M74.8 319.3l.8 .4M233.6 353.1l-.8 .9M181.1 337l-.7 .4M143.8 354.7l-.6 .7M164.3 341.3l.6 .3M192.9 341.9l-.3 .2M261.2 368.6l-.4 .4M185.9 341.5l-.4 1.1M148.1 326.4l0 .4M267.6 379.9l-.2 .6M261 370.3l.5 .1M237.3 351.1l.3 .6M166.4 329.5l-.4 1.2M108.4 325.2l.6 1M218.1 345.2l.3 .2M168.9 336.3l.5 .7M217.6 354.4l-.3 .1M163 336.2l-.4 .3M170.6 341.1l-.3 1.3M70.4 328.5l-.6 .6M229 363l.3 .7M143.2 334.8l-.6 .2M219.1 347.8l-.1 1.2M61.3 320.5l-1.6 .4M148.7 326.6l-.6 .3M205.8 340.6l.5 .2M197.7 339.2l-1 1.1M105.4 342.8l-.6 .1M206 339.6l-.3 .4M171.9 340.3l.4 .3M147.9 329.8l1.2 .4M253.3 361.3l-.4 .1M279.4 425.4l-.3 1M209.7 358l-1.1 .5M274.2 392.3l.5 .9M144 328.9l-.3 .9M260.2 369.5l-.6 .4M51.1 317.4l1.2 .4M126.5 326.2l.3 .5M176.2 334.3l-.8 1.3M253.4 361.3l1 1M124.9 327.9l0 .7M119.2 335.5l1.3 .2M123.4 339.7l.8 .2M184 343.9l.5 .6M92 336.4l.5 .9M117.8 333.3l-1.1 .1M168.8 331.6l.3 .6M246.4 367l-.3 .7M189.9 339.4l1.1 .5M86.3 327.6l-.8 1.2M250.5 360.5l.5 .1M209.1 342.8l-.6 .4M112.8 323.2l1 .3M46.8 334.4l-.4 .6M230.2 351.9l.3 .2M273.7 409.1l-.6 .3M105.6 399.2l.5 1.3M118.3 329.9l-.5 .8M53.4 316.2l-1 .3M247.3 358.8l.3 .6M111.5 346.3l-1.2 .9M161.9 333.1l.9 .5M121.9 323.2l-.6 .8M168.2 341.5l.6 .2M247.6 361l-.2 1.2M162.1 342.3l-1 .1M184.6 345.4l-.6 .7M68.2 325.5l-.8 .5M123.8 328.6l-.3 1.1M216.7 347.3l1 .1M143.6 332.5l.9 .8M148.8 331.5l.7 .4M169 334.5l-.4 .6M153.1 335.9l.7 .2M190.3 343.5l.4 .1M133.7 324.7l1.1 .2M250.9 363.8l-.5 0M201.3 338.6l-1.5 .2M111.6 324.5l1.4 .6M179.9 342.3l.1 1.1M183.4 348.9l.1 .7M67.3 322.9l1.3 .2M160.5 334.1l0 .9M255 362.9l-.6 .5M266.2 388l.3 .1M191 354.3l-.7 0M59.1 314.9l-1.3 .2M200.9 355l-.7 .3M114.5 342.5l.7 1.4M245.2 365.6l.6 1.1M245.6 368.2l-.2 .7M246.6 361.3l-.7 .2M102 328.5l-.4 .2M279.3 413.3l-.4 .5M110.5 320.3l0 .7M269.3 381.7l.3 1.4M162.4 340.1l-.8 0M148.1 364.8l.8 .7M176.3 335l-.9 .1M175.7 343.3l-.8 .2M126.4 327.4l-1.2 .1M173.3 340.1l.9 .3" stroke="#000" stroke-width="0.9" stroke-linecap="round" fill="none"/>
<rect x="42.5" y="296.7" width="240" height="211.6" fill="none" stroke="#262626" stroke-width="0.6"/>
<path d="M42.5 508.3v-2.4M42.5 296.7v2.4M90.5 508.3v-2.4M90.5 296.7v2.4M138.5 508.3v-2.4M138.5 296.7v2.4M186.5 508.3v-2.4M186.5 296.7v2.4M234.5 508.3v-2.4M234.5 296.7v2.4M282.5 508.3v-2.4M282.5 296.7v2.4M42.5 508.3h2.4M282.5 508.3h-2.4M42.5 455.4h2.4M282.5 455.4h-2.4M42.5 402.5h2.4M282.5 402.5h-2.4M42.5 349.6h2.4M282.5 349.6h-2.4M42.5 296.7h2.4M282.5 296.7h-2.4" stroke="#262626" stroke-width="0.6" fill="none"/>
<g class="tk" text-anchor="middle">
<text x="42.5" y="526.9">0</text>
<text x="90.5" y="526.9">0.2</text>
<text x="138.5" y="526.9">0.4</text>
<text x="186.5" y="526.9">0.6</text>
<text x="234.5" y="526.9">0.8</text>
<text x="282.5" y="526.9">1</text>
</g><g class="tk" text-anchor="end">
<text x="37.2" y="513.3">-4</text>
<text x="37.2" y="460.4">-3</text>
<text x="37.2" y="407.5">-2</text>
<text x="37.2" y="354.6">-1</text>
<text x="37.2" y="301.7">0</text>
</g>
<defs><linearGradient id="gc" x1="0" y1="1" x2="0" y2="0">
<stop offset="0.0000" stop-color="#3e26a8"/>
<stop offset="0.0159" stop-color="#402ab4"/>
<stop offset="0.0317" stop-color="#422ec0"/>
<stop offset="0.0476" stop-color="#4332cb"/>
<stop offset="0.0635" stop-color="#4537d5"/>
<stop offset="0.0794" stop-color="#463cde"/>
<stop offset="0.0952" stop-color="#4741e5"/>
<stop offset="0.1111" stop-color="#4747eb"/>
<stop offset="0.1270" stop-color="#484df0"/>
<stop offset="0.1429" stop-color="#4852f4"/>
<stop offset="0.1587" stop-color="#4758f8"/>
<stop offset="0.1746" stop-color="#465efb"/>
<stop offset="0.1905" stop-color="#4563fd"/>
<stop offset="0.2063" stop-color="#4269fe"/>
<stop offset="0.2222" stop-color="#3e6fff"/>
<stop offset="0.2381" stop-color="#3875fe"/>
<stop offset="0.2540" stop-color="#327cfc"/>
<stop offset="0.2698" stop-color="#2f81fa"/>
<stop offset="0.2857" stop-color="#2e87f7"/>
<stop offset="0.3016" stop-color="#2d8cf3"/>
<stop offset="0.3175" stop-color="#2b91ef"/>
<stop offset="0.3333" stop-color="#2797eb"/>
<stop offset="0.3492" stop-color="#259be8"/>
<stop offset="0.3651" stop-color="#23a0e5"/>
<stop offset="0.3810" stop-color="#20a5e3"/>
<stop offset="0.3968" stop-color="#1ca9df"/>
<stop offset="0.4127" stop-color="#18addb"/>
<stop offset="0.4286" stop-color="#12b1d6"/>
<stop offset="0.4444" stop-color="#08b5d0"/>
<stop offset="0.4603" stop-color="#01b8ca"/>
<stop offset="0.4762" stop-color="#02bac3"/>
<stop offset="0.4921" stop-color="#0bbdbd"/>
<stop offset="0.5079" stop-color="#19bfb6"/>
<stop offset="0.5238" stop-color="#24c1ae"/>
<stop offset="0.5397" stop-color="#2cc4a7"/>
<stop offset="0.5556" stop-color="#31c69f"/>
<stop offset="0.5714" stop-color="#37c897"/>
<stop offset="0.5873" stop-color="#3fca8e"/>
<stop offset="0.6032" stop-color="#4acb84"/>
<stop offset="0.6190" stop-color="#57cc7a"/>
<stop offset="0.6349" stop-color="#64cd6f"/>
<stop offset="0.6508" stop-color="#72cd64"/>
<stop offset="0.6667" stop-color="#81cc59"/>
<stop offset="0.6825" stop-color="#8fcb4e"/>
<stop offset="0.6984" stop-color="#9dc943"/>
<stop offset="0.7143" stop-color="#abc739"/>
<stop offset="0.7302" stop-color="#b9c431"/>
<stop offset="0.7460" stop-color="#c5c22a"/>
<stop offset="0.7619" stop-color="#d1bf27"/>
<stop offset="0.7778" stop-color="#dcbd29"/>
<stop offset="0.7937" stop-color="#e6bb2d"/>
<stop offset="0.8095" stop-color="#f0ba36"/>
<stop offset="0.8254" stop-color="#f8ba3d"/>
<stop offset="0.8413" stop-color="#febe3c"/>
<stop offset="0.8571" stop-color="#fec338"/>
<stop offset="0.8730" stop-color="#fec934"/>
<stop offset="0.8889" stop-color="#fccf30"/>
<stop offset="0.9048" stop-color="#fad62d"/>
<stop offset="0.9206" stop-color="#f7dc2a"/>
<stop offset="0.9365" stop-color="#f5e327"/>
<stop offset="0.9524" stop-color="#f5e924"/>
<stop offset="0.9683" stop-color="#f6ef20"/>
<stop offset="0.9841" stop-color="#f7f51b"/>
<stop offset="1.0000" stop-color="#f9fb15"/>
</linearGradient></defs>
<rect x="301" y="295.6" width="20" height="212.8" fill="url(#gc)" stroke="#262626" stroke-width="0.6"/>
<g class="tk">
<text x="325.6" y="513.4">0</text>
<text x="325.6" y="474">0.5</text>
<text x="325.6" y="434.6">1</text>
<text x="325.6" y="395.2">1.5</text>
<text x="325.6" y="355.8">2</text>
<text x="325.6" y="316.4">2.5</text>
</g>
<path d="M321 508.4h-2.5M321 469h-2.5M321 429.6h-2.5M321 390.2h-2.5M321 350.8h-2.5M321 311.4h-2.5" stroke="#262626" stroke-width="0.6" fill="none"/>
</svg>
</body></html>
